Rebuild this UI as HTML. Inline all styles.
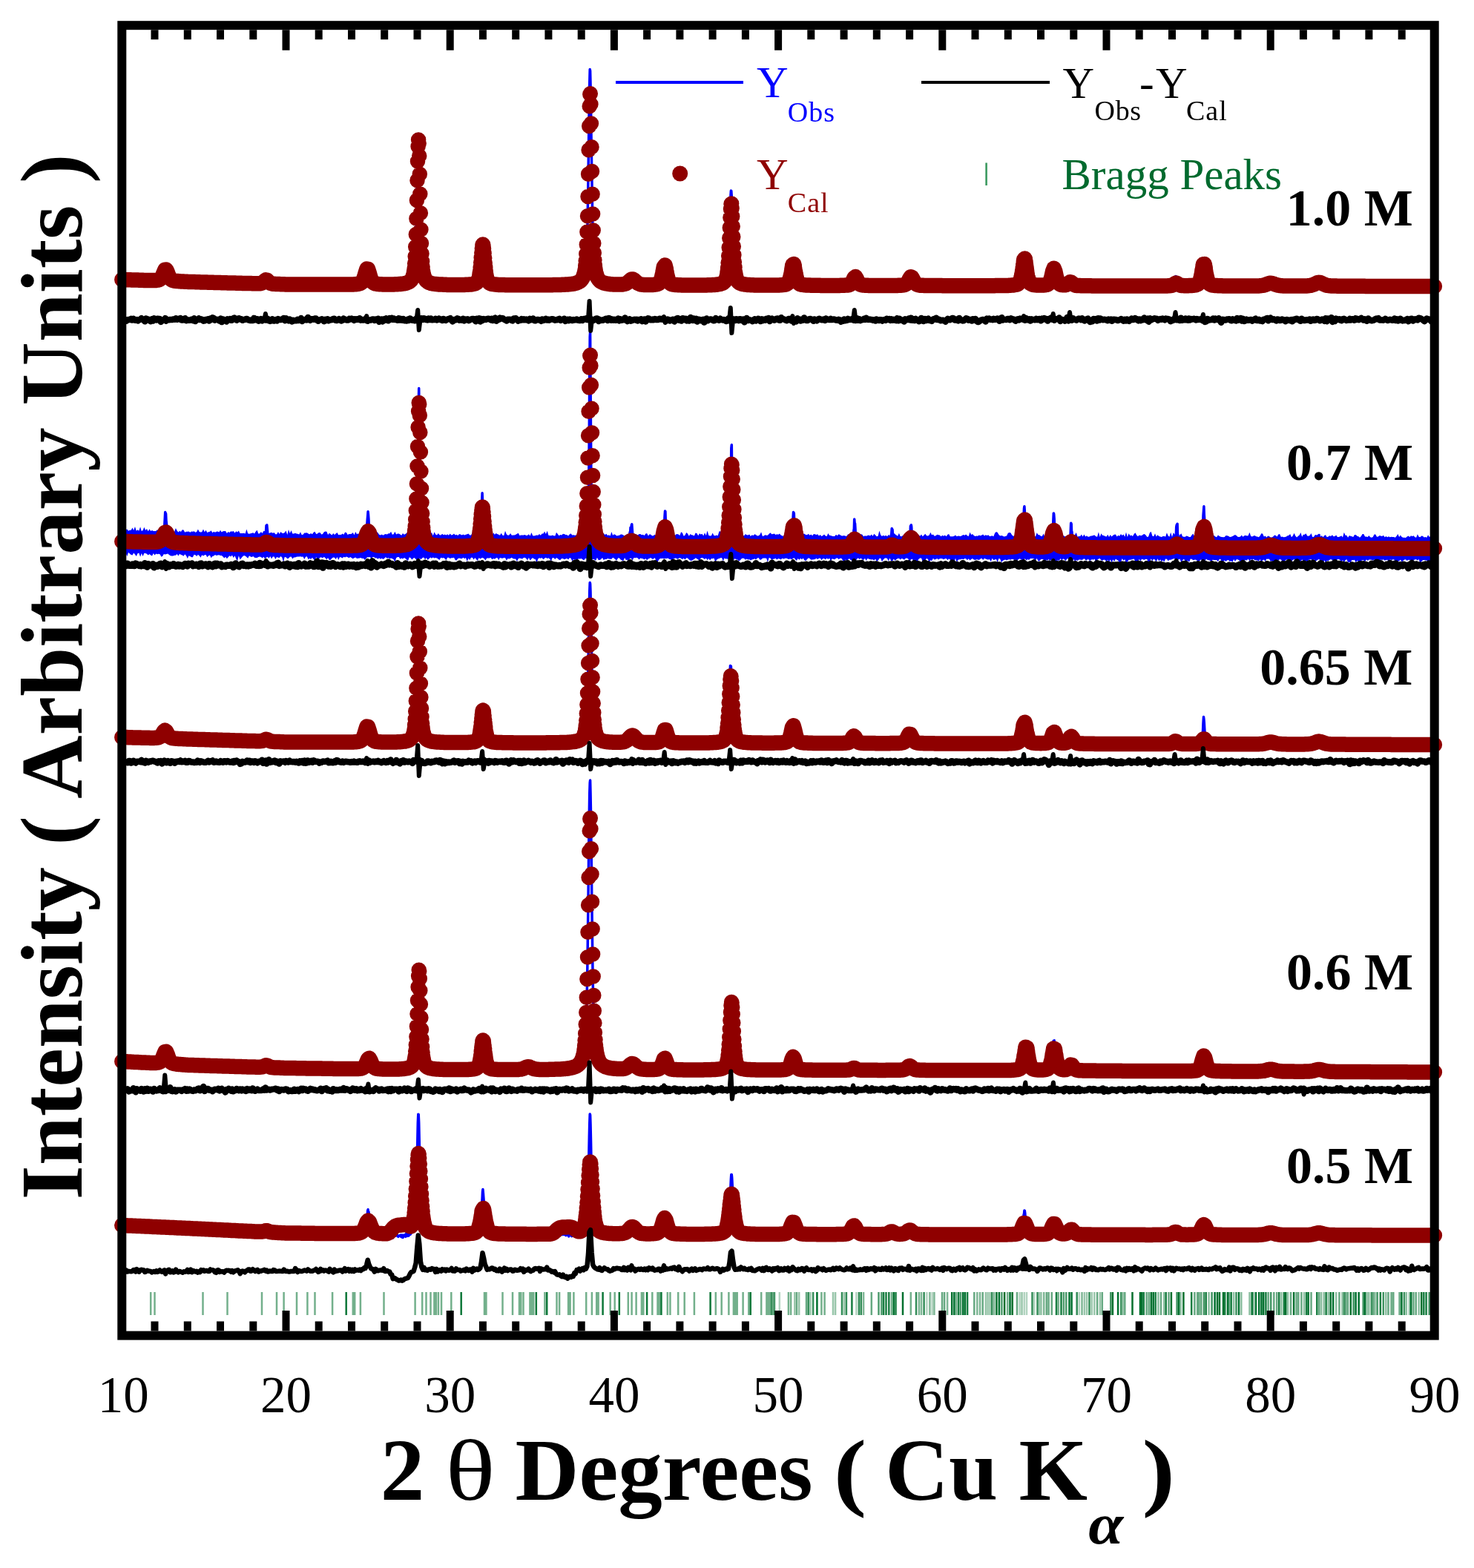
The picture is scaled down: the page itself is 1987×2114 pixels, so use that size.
<!DOCTYPE html><html><head><meta charset="utf-8"><style>html,body{margin:0;padding:0;background:#fff;overflow:hidden}svg{display:block}</style></head><body><svg width="1987" height="2114" viewBox="0 0 1987 2114">
<rect width="100%" height="100%" fill="#fff"/>
<g stroke="#00702e" stroke-width="2.5" fill="none"><path stroke-opacity="0.3" d="M1050.8 1742V1773M1154.4 1742V1773M1249.4 1742V1773M1256.7 1742V1773M1374.6 1742V1773M1380.8 1742V1773M1384 1742V1773M1394.3 1742V1773M1454.8 1742V1773"/><path stroke-opacity="0.4" d="M1071.3 1742V1773M1077.2 1742V1773M1092.5 1742V1773M1123 1742V1773M1126.1 1742V1773M1138.1 1742V1773M1328.8 1742V1773M1331.6 1742V1773M1334.5 1742V1773M1377.5 1742V1773M1401.1 1742V1773M1403.6 1742V1773M1461.9 1742V1773M1465.1 1742V1773M1471.7 1742V1773M1475.3 1742V1773M1482.9 1742V1773"/><path stroke-opacity="0.45" d="M1513.6 1742V1773M1561.4 1742V1773M1569.2 1742V1773M1591.6 1742V1773M1629.6 1742V1773M1663.1 1742V1773M1673.3 1742V1773M1684.5 1742V1773M1690 1742V1773M1727.3 1742V1773M1736 1742V1773M1758.1 1742V1773M1781.1 1742V1773M1784.7 1742V1773M1790.7 1742V1773M1801.2 1742V1773M1809.5 1742V1773M1842.6 1742V1773M1845.3 1742V1773M1853.5 1742V1773M1868.3 1742V1773M1895.8 1742V1773M1900 1742V1773M1912.7 1742V1773"/><path stroke-opacity="0.5" d="M1040 1742V1773M1164.1 1742V1773M1238.9 1742V1773M1242 1742V1773M1253.4 1742V1773M1259.4 1742V1773M1277.1 1742V1773M1317.3 1742V1773M1321 1742V1773M1340.1 1742V1773M1407.2 1742V1773M1458.5 1742V1773"/><path stroke-opacity="0.55" d="M203.2 1742V1773M208.5 1742V1773M273.5 1742V1773M306.5 1742V1773M353 1742V1773M373 1742V1773M382.6 1742V1773M400 1742V1773M414.4 1742V1773M424.5 1742V1773M448.1 1742V1773M475.8 1742V1773M478.2 1742V1773M485.9 1742V1773M517.5 1742V1773M559.6 1742V1773M569.2 1742V1773M574.5 1742V1773M580.5 1742V1773M585.4 1742V1773M587.8 1742V1773M590.9 1742V1773M595 1742V1773M608.3 1742V1773M653 1742V1773M655.4 1742V1773M677.5 1742V1773M691 1742V1773M700 1742V1773M702.3 1742V1773M705.5 1742V1773M714.4 1742V1773M716.8 1742V1773M719.2 1742V1773M734.4 1742V1773M750.5 1742V1773M754.1 1742V1773M766.1 1742V1773M768.6 1742V1773M773.4 1742V1773M790.2 1742V1773M797.9 1742V1773M804.2 1742V1773M806.6 1742V1773M822.7 1742V1773M828.7 1742V1773M846.8 1742V1773M851.6 1742V1773M857.6 1742V1773M864.9 1742V1773M867.3 1742V1773M879.3 1742V1773M886.5 1742V1773M889 1742V1773M899.8 1742V1773M903.4 1742V1773M914.2 1742V1773M922.7 1742V1773M935.9 1742V1773M964.8 1742V1773M972.7 1742V1773M982.4 1742V1773M988.9 1742V1773M991.3 1742V1773M993.7 1742V1773M1001.6 1742V1773M1009.3 1742V1773M1026.2 1742V1773M1033.4 1742V1773M1035.8 1742V1773M1038.2 1742V1773M1040.6 1742V1773M1043 1742V1773M1062.9 1742V1773M1066.1 1742V1773M1107.4 1742V1773M1111.6 1742V1773M1201.9 1742V1773M1227.8 1742V1773M1289.2 1742V1773M1358.2 1742V1773M1426.7 1742V1773"/><path stroke-opacity="0.6" d="M1044.1 1742V1773M1074 1742V1773M1087 1742V1773M1174.8 1742V1773M1270 1742V1773M1273.1 1742V1773M1313.3 1742V1773M1324.7 1742V1773M1371 1742V1773M1410.8 1742V1773M1413.6 1742V1773M1417.8 1742V1773M1479.1 1742V1773M1485.8 1742V1773M1516.3 1742V1773M1545.6 1742V1773M1548.7 1742V1773M1565 1742V1773M1575.5 1742V1773M1610.4 1742V1773M1614.2 1742V1773M1616.5 1742V1773M1619.3 1742V1773M1657.2 1742V1773M1709.7 1742V1773M1717.3 1742V1773M1721.2 1742V1773M1740 1742V1773M1747.6 1742V1773M1750.3 1742V1773M1754.4 1742V1773M1767.5 1742V1773M1778.2 1742V1773M1805.4 1742V1773M1814.2 1742V1773M1816.9 1742V1773M1851.2 1742V1773M1871.5 1742V1773M1875.6 1742V1773M1878.3 1742V1773M1886.6 1742V1773M1905.4 1742V1773M1908.7 1742V1773M1930.3 1742V1773"/><path stroke-opacity="0.7" d="M1184.5 1742V1773M1188.4 1742V1773M1294.9 1742V1773M1350.4 1742V1773M1433.9 1742V1773M1437.3 1742V1773"/><path stroke-opacity="0.75" d="M1497.3 1742V1773M1511.2 1742V1773M1586.6 1742V1773M1623 1742V1773M1633.6 1742V1773M1666.5 1742V1773M1713.2 1742V1773M1811.9 1742V1773M1824.6 1742V1773M1837.7 1742V1773M1848.8 1742V1773M1856.6 1742V1773M1864.8 1742V1773M1892.9 1742V1773M1926.7 1742V1773"/><path stroke-opacity="0.8" d="M1089.7 1742V1773M1096.1 1742V1773M1135 1742V1773M1140.9 1742V1773M1157.9 1742V1773M1160.8 1742V1773M1235 1742V1773M1245.6 1742V1773M1337.2 1742V1773M1391.5 1742V1773M1398.5 1742V1773M1451.7 1742V1773M1468.5 1742V1773"/><path stroke-opacity="0.9" d="M1148.4 1742V1773M1191.1 1742V1773M1194.5 1742V1773M1198.3 1742V1773M1207.5 1742V1773M1292.1 1742V1773M1304.1 1742V1773M1424 1742V1773M1430.5 1742V1773M1541.8 1742V1773M1557.7 1742V1773M1571.7 1742V1773M1606.2 1742V1773M1625.7 1742V1773M1651.2 1742V1773M1659.7 1742V1773M1706.4 1742V1773M1724.2 1742V1773M1730.8 1742V1773M1761.1 1742V1773M1775.3 1742V1773M1787.6 1742V1773M1860.8 1742V1773M1919.3 1742V1773M1922.6 1742V1773"/><path stroke-opacity="0.95" d="M466.7 1742V1773M621.7 1742V1773M722.8 1742V1773M737.2 1742V1773M812.6 1742V1773M834.8 1742V1773M872.1 1742V1773M891.4 1742V1773M957.6 1742V1773M1011.7 1742V1773"/><path stroke-opacity="1.0" d="M1101.4 1742V1773M1204.7 1742V1773M1217 1742V1773M1283.2 1742V1773M1286.4 1742V1773M1298.1 1742V1773M1300.9 1742V1773M1343.4 1742V1773M1346.9 1742V1773M1354.1 1742V1773M1361.5 1742V1773M1364.7 1742V1773M1441.5 1742V1773M1444.6 1742V1773M1499.9 1742V1773M1507.1 1742V1773M1526.5 1742V1773M1537 1742V1773M1539.4 1742V1773M1551.8 1742V1773M1554.7 1742V1773M1578.9 1742V1773M1589.1 1742V1773M1595.4 1742V1773M1637.6 1742V1773M1641 1742V1773M1644 1742V1773M1649 1742V1773M1655 1742V1773M1670 1742V1773M1687.7 1742V1773M1693 1742V1773M1697.2 1742V1773M1700.4 1742V1773M1703.2 1742V1773M1733.2 1742V1773M1744.1 1742V1773M1763.6 1742V1773M1793.7 1742V1773M1797.1 1742V1773M1820.8 1742V1773M1827.6 1742V1773M1831.7 1742V1773M1840 1742V1773M1889.4 1742V1773M1902.2 1742V1773M1916.2 1742V1773"/></g>
<path d="M164.3 379.5 L164.7 376.3 165.6 377.6 167 377.1 167.8 378.6 168.3 378 169.6 377.9 170.9 375 171.4 378 172.3 377.6 172.7 375 173.1 379.7 173.6 377.5 174 376.7 174.9 377.3 176.2 373.9 176.7 379 177.1 376.8 177.6 376.3 178.9 378.3 180.2 375.7 180.7 379.7 181.1 380.2 181.6 377 182.9 378.4 183.3 376.5 184.2 374.9 184.7 378.2 185.5 378.1 186 376.9 186.9 378.1 188.2 377.5 189.5 378.5 190.8 377.3 191.7 377.7 192.2 380.4 192.6 377.3 193.5 376.1 194.8 376.2 195.7 377.5 196.2 378.1 196.6 380.1 197 380.2 197.5 377.7 198.8 377.7 199.7 379 200.1 379.4 200.6 378.7 201.5 377.8 202.3 377.7 202.8 380.1 204.1 379 205.4 378 206.3 378.1 206.8 381.6 207.2 379.5 207.7 377.7 208.1 377.5 209.4 378.7 210.8 377.3 212.1 380.6 212.5 377.3 213.4 378.4 214.3 378.6 214.7 375.8 216.1 376.5 216.5 375.8 217.4 375.3 218.7 373.7 220 370.5 220.5 368.8 220.9 368.2 221.4 365.7 221.8 363.1 222.7 361.4 223.6 360.6 224 360.2 224.5 364.2 225.4 364 225.8 369 226.2 368.9 226.7 372.1 228 372.9 228.4 374.8 229.3 375.6 230.7 377.9 231.5 378 232 379.4 232.9 381.2 233.3 376.3 233.8 379.9 234.6 380.3 235.5 379.6 236 381.8 236.9 379.8 237.3 380.8 238.6 377.6 240 379.6 241.3 378 241.7 379.2 242.6 380.3 243.9 378.8 245.3 381.4 245.7 379.8 246.1 376.8 246.6 377.6 247.9 381.4 248.4 380.1 249.2 381.4 249.7 378.6 250.1 376.7 250.6 382.9 251 377 251.5 380.8 251.9 381.3 252.3 380.1 253.2 381.4 253.7 377.8 254.5 379.4 255.9 381.2 257.2 378.3 257.6 379.6 258.5 379.6 259.9 379.2 261.2 381 262.5 379.9 263.8 380.3 265.2 380.2 266.5 379.5 267.8 380.9 268.7 382.1 269.1 379.9 270.5 380.2 270.9 377.6 271.4 382.4 271.8 380.5 273.1 382.4 273.6 379.6 274.5 378.4 275.8 380.3 277.1 382.1 277.6 379.9 278.4 380.6 279.8 381.9 280.7 381.3 281.1 382.9 281.5 380.8 282.4 381.2 283.7 380.8 284.6 381.6 285.1 379.7 285.5 381.7 286.4 380 286.8 380.2 287.3 377.4 287.7 382.2 288.2 380 289.1 378.3 289.5 380.6 290.4 380.8 291.3 379.3 291.7 379 292.2 382.3 293 381 293.9 379.6 294.4 380.4 294.8 382.6 295.7 381.1 296.6 380.2 297 381.6 297.5 380.9 298.3 381.6 299.7 381.1 300.6 379.4 301 379 301.9 379.5 302.3 383.3 302.8 381.7 303.7 380.4 304.5 380.4 305 380.2 305.4 381.8 306.3 381.7 306.8 380 307.2 379.7 307.6 382.3 308.1 381.3 309 383.2 309.4 382.6 310.3 381.1 311.2 380.5 311.6 379.5 312.9 382.1 314.3 381.4 315.2 380 315.6 379.5 316.9 380.8 317.4 382.3 318.3 384.2 319.1 385.7 319.6 384.7 320 381.4 320.9 381.6 321.4 381.9 322.2 381.9 323.6 382.8 324.9 382.2 326.2 382 327.1 381.1 327.5 378.6 328.9 382.1 329.8 381.9 330.2 380.2 330.6 379.8 331.1 383.8 331.5 382 332.9 382 333.7 380.6 334.2 377.5 334.6 379.8 335.1 382 335.5 381.8 336.8 382.4 338.2 381.7 339 383.6 339.5 382.2 339.9 382.9 340.8 383.8 341.7 383.4 342.1 380.1 342.6 382.9 343 382.5 343.5 379.8 344.8 383.3 345.7 383.8 346.1 384.2 346.6 381 347.5 382.1 348.3 381.7 348.8 381.3 349.2 383 350.1 381.2 351.4 381 352.8 379.5 354.1 380.3 355.4 378.9 356.3 378.1 356.7 375.3 358.1 374.6 359 373.2 359.4 375.4 360.7 377.4 361.2 377 361.6 379.6 362.1 379.9 362.5 381.6 363.4 380.2 364.7 380.9 365.1 381.2 365.6 383.4 366 385.3 366.5 378.3 366.9 382.1 367.4 383.1 368.7 380.7 369.1 381.4 369.6 383.9 370 384.5 370.5 383 371.3 383.1 372.7 383.2 374 381.3 374.4 384.3 374.9 384.9 375.3 381.3 376.7 384.8 378 384.7 378.4 382.6 379.3 382.4 380.6 383.5 381.5 384.5 382 384.9 382.4 382.6 383.3 384.4 384.2 383.1 384.6 381.5 385.1 383.8 385.5 385.7 385.9 380.6 386.4 384.2 387.3 382.2 388.6 383.9 389.5 383.7 389.9 382.1 391.3 380.7 391.7 385.9 392.1 383.1 392.6 381.9 393.9 383 394.3 381.6 395.2 382.4 396.1 384 396.6 385.7 397 385.5 397.9 383.9 399.2 383.9 399.7 382.1 400.5 383.8 401.9 383.6 403.2 382.8 403.6 383.3 404.5 381.4 405 380.7 405.4 384 405.9 383.3 407.2 383.3 408.5 383.6 409.4 381.9 409.8 384.5 410.3 384.4 410.7 380.6 411.2 381.9 411.6 384 412.5 382.6 413.4 381.5 413.8 387.3 414.3 384.3 415.1 384.6 416.5 383.1 417.8 385.5 418.2 382.5 418.7 382.8 419.1 384.6 420 383.8 420.4 382.5 421.3 382.9 421.8 386.4 423.1 384.1 424 385.4 424.4 386.1 424.9 384.5 425.8 385.2 427.1 382.6 428.4 384.1 429.3 383.2 429.7 383.7 430.2 381.9 431.1 381 432.4 385.3 432.8 385.8 433.7 386.1 435 383.3 436.4 384.6 437.7 384.6 439 384.8 439.5 384.9 440.4 384.5 441.7 384.3 443 383.3 443.5 383.6 444.3 383.5 445.7 382.8 446.6 383.4 447 385.2 448.3 382.1 449.2 383 449.6 384.5 451 384.6 451.9 383.7 452.3 385.7 453.2 384 453.6 386.1 455 382.8 455.4 386.6 455.8 380.3 456.3 382 456.7 382.1 457.2 386.1 457.6 384.2 458.1 383.3 458.9 384.2 459.8 382.7 460.3 381.5 460.7 382 461.2 384 461.6 384.2 462.5 383.5 462.9 381 464.2 383.8 465.1 382.7 465.6 382.1 466 385.2 466.5 384.2 466.9 382.7 467.8 383.6 468.2 384.6 469.1 382.6 469.6 382.7 470 383 470.9 381.9 472.2 384 473.5 382.9 474.4 384.4 474.9 385.3 475.7 385.1 476.2 384.4 477.5 383.8 478.4 382.6 478.8 382.2 479.3 385.3 480.2 384.3 481.1 382.6 481.5 381.3 481.9 382.9 482.4 385.5 482.8 380.4 484.2 383.2 484.6 384.3 485 381 485.5 382.2 486.4 382.4 486.8 380.5 487.7 378.8 488.1 382.5 489.5 380.6 489.9 377.3 490.8 376.8 491.2 374.1 491.7 372.4 492.1 367.5 492.6 369.2 493 364.4 493.4 360.3 494.3 361.3 494.8 363.1 495.2 359.4 495.7 358.7 496.1 365.1 497 365.3 497.4 366.2 497.9 368.5 498.3 374.2 498.8 373.5 499.2 374.8 499.6 376.3 500.1 380.7 501 381.1 501.4 381.3 502.7 383.1 503.6 382.5 504.1 381.3 505.4 382.6 506.7 381 507.2 384.4 508 383.2 509.4 383.5 510.7 382.8 512 383.6 512.9 382.8 513.4 384.3 514.7 384.1 516 382.9 517.3 383.1 518.7 383 519.5 384.4 520 384.1 521.3 382.5 522.6 383.5 524 384.2 525.3 384.9 526.6 383.5 528 384.8 528.8 383.1 529.3 383.2 530.2 383.7 530.6 382.2 531.5 382.6 531.9 383.8 533.3 382.6 533.7 383.3 534.6 382 535 383.6 535.9 384.4 537.2 382.4 537.7 383.5 538.1 385.8 538.6 386.3 539.5 384.5 539.9 386.3 540.3 382.6 540.8 383.7 541.2 385.6 542.6 383.1 543.4 383.7 543.9 382.8 544.3 384.5 545.2 384 546.5 383.1 547 384.3 547.4 380.5 547.9 380.8 548.3 379.4 548.7 383.3 549.2 382.3 550.5 381.1 551.8 380.7 552.7 381.5 553.2 379.6 553.6 379.6 554.5 380.5 555.8 380.8 556.3 375.9 556.7 375.9 557.2 373.4 558 372.5 558.5 369.6 558.9 366 559.4 363.1 559.8 354.6 560.2 343.8 560.7 332.7 561.1 311.5 561.6 289.5 562 270.3 562.5 239.2 562.9 213.2 563.3 191.8 563.8 180.6 564.2 182 564.7 194.1 565.1 214.8 565.6 239.3 566 264.2 566.4 291.8 566.9 315.4 567.3 332.5 567.8 344.4 568.2 356 568.7 361.5 569.1 367.1 569.5 368.8 570 372.6 570.4 375 570.9 375.8 571.3 378.2 571.8 380.7 572.2 380.5 572.6 378.6 573.1 378.4 574.4 380.7 575.7 381.7 577.1 380.8 577.5 384.7 577.9 383.8 578.4 381 579.7 382.7 581 384.5 582.4 384.2 583.3 383 583.7 380.6 584.1 383.1 585 382.6 585.5 382.5 586.3 383.6 586.8 382.8 587.7 384.5 589 384.4 590.3 385.5 591.7 384.8 592.5 384.8 593 384.9 593.4 383.3 594.3 383.8 595.2 384.5 595.6 384.4 596.5 384 597 385.6 598.3 383.8 599.6 384.9 600.9 386.5 601.4 386.1 601.8 381.7 602.3 383.8 602.7 383.5 603.2 386 603.6 386.7 604 383.1 604.9 385 606.3 383.1 607.6 385.9 608.5 385.3 608.9 386.5 609.4 383.2 610.2 384.8 611.6 384 612.9 383.6 613.3 385.1 613.8 386.2 614.2 381.3 614.7 386.2 615.1 385.5 615.5 382.6 616 382 616.9 383.6 618.2 383.6 619.5 385.5 620.4 386.7 620.9 384.5 621.3 383.8 622.2 385.1 622.6 384.8 623.5 385.3 624.8 382.2 625.3 383.4 626.2 381.9 626.6 382.8 627.5 382.2 628.8 382 630.1 385.2 630.6 385.4 631.5 384.1 632.8 383.5 634.1 385.4 634.6 382.2 635 383.2 635.5 384.6 635.9 385.5 636.8 385.6 638.1 382.9 639 383.5 639.4 385.1 639.9 383.3 640.8 384.1 641.2 380.5 642.1 380.9 643.4 380.4 644.7 379.7 645.2 377 646.1 377.3 646.5 374.7 647 370 647.4 366.5 647.8 361.7 648.3 356.5 648.7 350.5 649.2 340.9 649.6 334.9 650.1 332.7 650.5 330.1 650.9 330.1 651.4 327 651.8 335 652.3 336.5 652.7 349.1 653.2 354.6 653.6 360.5 654 365.4 654.5 371.8 654.9 372.8 655.4 377.4 655.8 378.6 656.2 379.8 656.7 380.9 658 383 659.3 383.7 659.8 384.2 660.7 382.9 662 383.9 663.3 383.9 664.2 384.2 664.7 387.1 665.1 383 666 382.1 666.4 384.6 667.3 385.8 667.8 383 668.2 383.6 668.6 385.9 670 382.6 670.4 386.2 671.3 384.8 672.6 384.4 673.9 383.9 674.4 384.5 674.8 386.3 675.3 381.2 676.6 383.2 677.5 385.1 677.9 384.4 679.3 384.5 680.6 383.2 681.9 386.2 682.4 379.7 682.8 383.5 683.2 382.5 684.6 387.1 685.4 387.4 685.9 385 686.8 385 687.2 387.7 687.7 385.7 688.5 386.2 689 384.7 689.9 385.5 690.8 384.7 691.2 384.8 692.5 382.9 693.9 384.1 694.7 384.6 695.2 382.8 696.5 384.5 697.8 384.6 698.7 385.1 699.2 386 700.5 384.5 701.4 386.1 701.8 383.3 703.1 383 703.6 384.5 704.5 385.9 704.9 384 705.8 385 707.1 384.7 708.5 385.7 709.8 383.7 710.2 384.6 711.1 385 712 386.7 712.4 385.9 713.8 385 714.6 383.4 715.1 386.7 715.5 383.9 716.4 383.8 717.3 385.8 717.7 383.9 719.1 385.8 720 385.8 720.4 384.1 721.3 383.9 721.7 385.6 723.1 385.3 723.9 385.2 724.4 385.7 724.8 382.2 725.3 383.7 725.7 385.6 726.6 383.9 727 385.3 727.9 383.8 728.4 384.5 728.8 385.8 729.7 386.1 731 386.2 731.9 385.1 732.3 381.8 733.7 383.9 734.1 385.8 735 383.9 735.9 382.1 736.3 386.6 737.7 386.2 738.1 383 738.5 381.6 739 387.5 739.4 383.8 740.3 385.4 740.7 384.6 741.6 383.8 743 385.5 744.3 385.2 745.6 384 746.5 382.6 746.9 386.6 748.3 383 748.7 384.8 749.2 385.4 749.6 381.8 750.5 381.6 750.9 386.4 751.4 383.6 752.2 383.2 752.7 386.2 753.6 386.1 754 383 754.5 384 754.9 386.7 755.3 383.1 756.2 382.7 756.7 382.4 757.1 386 757.6 385.1 758.9 385.6 759.8 384.1 760.2 383.6 760.7 382.5 761.5 383.3 762.4 383.6 762.9 384 763.8 385.4 764.2 382.8 765.5 382 766 383.7 766.8 383.9 767.7 381.9 768.2 385.6 769.1 384.8 769.5 384.6 769.9 383.1 770.8 383.8 772.2 383.5 773.5 382.7 774.8 382.1 775.7 382.4 776.1 382.4 776.6 381.8 777.5 383.7 778.8 382.7 780.1 380.4 781 380.6 781.4 382.2 781.9 378.6 782.8 379.6 784.1 379.9 785.4 376.7 785.9 379.9 786.3 379.6 786.8 377.2 787.2 376.6 788.1 376.5 788.5 371.2 789 370 789.4 363.9 789.9 360.6 790.3 352.5 790.7 344.9 791.2 332.9 791.6 316.8 792.1 297.4 792.5 270.1 793 239.2 793.4 205.1 793.8 173.1 794.3 136.5 794.7 113.1 795.2 93.6 795.6 95.3 796 111.9 796.5 137.1 796.9 174.6 797.4 208.9 797.8 236.6 798.3 267.7 798.7 295.1 799.1 319.1 799.6 334.6 800 345.8 800.5 352.1 800.9 359.4 801.4 361.2 801.8 366.2 802.2 371.5 802.7 373.8 803.6 375.2 804 378.4 805.3 379 806.7 378.7 808 379.6 808.4 382.7 809.3 382.8 810.6 383.9 811.1 382.5 811.5 381.8 812 385.6 812.4 381.3 813.3 381.2 813.7 382.9 814.6 384.3 815.1 382.5 816 383.5 817.3 383 817.7 384.1 818.6 383.3 819.9 383.2 821.3 382.4 822.6 383.2 823.5 382.9 823.9 382.8 824.4 384.2 825.2 383.8 826.1 384.9 826.6 384.8 827.5 383.6 827.9 384.2 828.3 383.1 829.2 384.1 830.1 382.5 830.6 383 831 382.2 831.9 383.1 833.2 384.1 833.7 383.1 834.5 384.1 835 384.8 835.9 383.7 837.2 383.6 838.1 384.3 838.5 385.7 839.4 383.8 839.8 386 840.3 384 841.2 382.3 842.5 384.4 843.8 382.4 844.7 381.4 845.2 380.3 846.5 380.5 847.8 379.9 848.3 378.3 849.1 378.8 849.6 379.1 850 376.4 850.5 376.2 851.3 376 851.8 377 852.7 375.9 853.1 374.9 854 376.9 854.4 376.8 855.3 375.9 855.8 381.8 856.2 379.3 856.7 379.2 857.1 382.5 858.4 383.3 859.3 384.8 859.8 382.1 860.2 383.3 861.1 382.2 861.5 383.9 862.4 383.6 862.8 384.5 863.3 381.4 863.7 382.1 864.2 382.2 864.6 384.6 865.1 389.7 865.5 384.5 866.4 384.1 867.3 385.3 867.7 382.5 869 385.5 869.5 381.3 869.9 381.9 870.4 385.2 871.3 384.9 871.7 384.8 873 384.7 874.4 384.3 875.2 386 875.7 385.2 876.1 384.9 877 384.6 878.3 382.9 879.2 383.4 879.7 385.3 880.5 385.7 881 382.7 882.3 383.8 882.8 382.7 883.6 384.7 885 384.4 885.9 383.9 886.3 383.1 886.7 384.9 887.6 384.5 888.1 382 889 382.8 889.4 384.8 889.8 380.6 890.3 382.5 890.7 380.7 891.6 378.7 892 374.2 892.5 370.9 892.9 369.3 893.4 366.5 893.8 365.5 894.3 360.5 894.7 361.2 895.1 357.3 895.6 354.7 896 354.6 896.9 355.9 897.4 358.4 897.8 363.3 898.2 368.6 898.7 370.8 899.1 373.2 899.6 375.1 900 374.1 900.5 378.4 900.9 377.5 901.3 382.3 902.2 382.2 903.6 383.6 904.4 382.7 904.9 381.7 905.3 384.3 906.2 385.4 907.5 383.4 908.9 384.4 910.2 386.5 910.6 383.1 911.5 384.3 912.8 385.9 913.7 386.5 914.2 385.9 915.5 384.1 916.8 385 917.3 385.3 917.7 380.4 918.1 381.7 918.6 384.7 919.5 386.1 919.9 384.9 920.8 385.1 922.1 383.8 923 382.5 923.5 382.9 923.9 381.3 924.8 383.1 926.1 383.6 927.4 384.9 928.8 384.5 930.1 385.1 931 385.4 931.4 385 931.9 386.6 932.7 384.7 934.1 383.7 935.4 384.7 936.7 384 937.6 383.5 938.1 381.6 938.9 382 939.4 384.4 940.7 383.1 942 382.6 942.5 385 943.4 385.1 943.8 384.7 944.7 384.4 946 385.9 947.3 383.8 948.7 385.1 949.1 385 950 383.4 951.3 386 952.7 383.4 954 387.3 954.4 385 955.3 385.5 956.6 384 958 385.5 958.4 385 958.9 383.2 959.3 382.3 959.7 383.1 960.2 384.8 960.6 385.6 961.1 386.9 961.5 382.2 961.9 384.3 963.3 384.4 964.6 383.1 965 384.6 965.9 386.4 966.4 383.2 967.3 383.5 968.6 382.5 969.9 383 970.4 383.8 971.2 382.3 971.7 383.8 972.1 380 972.6 381.2 973.9 383.3 974.3 383.4 975.2 382.9 976.5 381.8 977.9 380 978.3 379.5 979.2 378.8 979.6 376.7 980.1 375.4 980.5 371.4 981 368.5 981.4 361 981.9 360.3 982.3 344.6 982.7 333.6 983.2 322.4 983.6 308 984.1 289.6 984.5 274 985 263 985.4 257.1 985.8 257.4 986.3 264.8 986.7 278 987.2 292.4 987.6 305.2 988 321.7 988.5 335.6 988.9 347.8 989.4 354.7 989.8 361 990.3 368.7 990.7 373.7 991.1 373.5 991.6 379.2 992.5 378.3 993.4 379.2 993.8 380.1 994.7 378.8 995.1 385.3 995.6 385.4 996 381 996.5 379.5 996.9 382.2 997.3 383.3 997.8 384.8 998.2 384 998.7 382.8 999.1 380.2 999.6 384 1000.4 383 1001.8 383.3 1003.1 381.7 1004.4 384.7 1005.7 383.7 1006.6 382.9 1007.1 381.7 1008.4 381.9 1009.7 384.4 1010.6 384.3 1011.1 388.2 1011.5 384.6 1012.4 385.3 1013.7 385.7 1014.2 386 1015 384.2 1015.9 383.6 1016.4 386.3 1017.7 383.7 1019 383.4 1020.3 383.2 1020.8 385.6 1021.2 385.4 1021.7 382.8 1022.1 382.8 1023 383.6 1024.3 383.4 1024.8 384 1025.2 385.9 1025.7 386.1 1027 384.4 1028.3 384.1 1029.6 383.4 1031 383.7 1031.4 384.4 1032.3 385 1033.6 384.6 1034.9 385 1035.8 387 1036.3 382.7 1036.7 386 1037.2 386.2 1037.6 388.3 1038 384.9 1038.5 384.6 1038.9 382.3 1040.3 383.1 1041.6 384.5 1042.9 384.5 1043.8 386.2 1044.2 382.3 1045.6 383.1 1046.9 386.8 1047.8 385.2 1048.2 384.3 1049.5 385.4 1050.9 384.1 1051.3 386.1 1052.2 387.1 1052.6 384.2 1053.1 382.4 1053.5 381.9 1054.4 382.3 1054.9 381.9 1056.2 385.3 1057.1 383.8 1057.5 384.6 1058.8 382.9 1059.7 381 1060.2 386.1 1060.6 381.2 1061 381.6 1061.5 383.3 1062.8 382.4 1064.1 380.1 1065 379.2 1065.5 374.2 1065.9 373.6 1066.4 367.1 1066.8 364.3 1067.2 361.9 1067.7 358.4 1068.1 358.1 1068.6 351.8 1069.5 351.5 1069.9 355.1 1070.3 356.9 1070.8 358.7 1071.2 366.1 1071.7 366 1072.1 370.9 1072.5 370.2 1073 374.5 1073.4 376.9 1073.9 378.7 1074.8 379.7 1075.6 381.5 1076.1 381.4 1076.5 382.7 1077 384.6 1077.4 386.8 1078.7 384.8 1080.1 383.7 1081 384.7 1081.4 387 1082.3 386.8 1082.7 382.5 1083.2 384.8 1084 385.3 1084.5 382.5 1085.4 381.4 1085.8 384 1086.7 385 1088 384.2 1088.9 384 1089.4 382.8 1089.8 383.9 1090.7 385.2 1091.1 386.6 1092 386.4 1093.3 386.7 1094.7 385.8 1096 386.8 1096.4 385.7 1096.9 384.2 1097.3 388.6 1097.8 384.9 1098.6 383.8 1099.5 383.8 1100 385 1101.3 386.1 1102.6 385 1104 383.7 1104.8 383.1 1105.3 384.9 1105.7 385.3 1106.6 386.1 1107.9 384.5 1108.8 385.3 1109.3 385.2 1110.2 385.7 1110.6 382.5 1111 386.7 1111.9 386.2 1112.4 385.7 1113.2 385.8 1113.7 384.5 1114.6 384.7 1115.5 384.5 1115.9 387.2 1116.3 384.2 1116.8 381.4 1117.2 387.2 1117.7 385.5 1118.6 386.1 1119 383.6 1119.4 383.3 1119.9 386.4 1121.2 385 1122.1 385.2 1122.5 381.9 1123 386 1123.9 386.3 1125.2 384.5 1126.1 384.5 1126.5 385.8 1127.4 384.3 1127.8 387.2 1129.2 385.2 1130.5 384.5 1131.4 383.8 1131.8 382.9 1133.2 383.6 1133.6 384.1 1134.5 385.4 1135.4 384.9 1135.8 387.3 1136.3 385.9 1136.7 384.8 1137.1 382.9 1138 384.4 1138.5 384.7 1139.3 382.8 1139.8 384.7 1140.2 381.5 1140.7 382.2 1141.1 384.7 1142.4 386.1 1143.3 385.9 1143.8 384.1 1144.2 387.6 1145.1 385.7 1146 384.5 1146.4 380.5 1147.8 381.7 1149.1 381.8 1149.5 378.1 1150 376.7 1150.4 374.5 1150.9 374 1151.7 372.2 1152.2 371.9 1152.6 369.7 1153.1 367.8 1153.5 371.2 1153.9 373.7 1154.4 374.2 1154.8 375.4 1155.3 378 1155.7 380.1 1156.2 375.5 1156.6 382.9 1157 382.7 1158.4 383.7 1159.7 385.3 1161 385.5 1162.4 385.6 1163.7 383.7 1165 382.7 1165.5 383.7 1166.3 382.5 1166.8 383.1 1167.7 384.2 1169 383.4 1169.4 384.5 1170.3 385.7 1171.2 385.7 1171.6 386.4 1172.1 386.1 1173 385 1173.9 383.7 1174.3 385.6 1174.7 384 1175.6 384.4 1176.1 386.6 1176.5 386.8 1177 383.8 1177.8 383.8 1178.3 382 1178.7 386 1179.6 387.4 1180.5 387.1 1180.9 386.8 1182.3 384.6 1182.7 385.5 1183.6 383.8 1184 383.4 1184.9 385.2 1186.2 383.9 1187.1 385.6 1187.6 386.7 1188.9 384 1189.3 386.7 1190.2 384.8 1190.7 384.1 1191.1 388.3 1191.6 386.6 1192 383.8 1192.9 384.7 1193.8 384.4 1194.2 384.8 1195.1 386.2 1195.5 387.3 1196 383.3 1196.9 384.9 1197.7 383.4 1198.2 386.4 1199.1 386.3 1199.5 387.5 1200.8 384.6 1202.2 384.9 1202.6 382.9 1203.1 387.4 1203.5 385.4 1203.9 383.4 1204.8 385.1 1206.2 386.8 1207.5 382.8 1207.9 385.4 1208.8 384.2 1210.1 385.3 1211.5 387.1 1211.9 383.2 1212.8 383.9 1214.1 385.7 1214.6 385 1215.4 385.5 1216.8 385.8 1217.2 384.6 1218.1 383.6 1218.5 385 1219.4 385.3 1220.8 383.4 1221.2 384.3 1222.1 385 1222.5 384.9 1223 381.7 1223.4 381.9 1224.7 378.2 1225.2 375.8 1226.1 375.8 1226.5 371 1226.9 371.3 1227.4 374.2 1228.3 372.3 1228.7 370.3 1229.2 375.8 1230 376.5 1230.5 374.9 1230.9 378.6 1231.4 380.6 1232.7 380.9 1234 382.8 1234.9 381.5 1235.4 385.6 1236.7 386.7 1237.1 383.8 1238 385.3 1238.4 384.6 1239.3 382.9 1240.7 383.9 1242 386.7 1243.3 387.2 1244.2 385.4 1244.6 386.2 1246 384.4 1247.3 384.4 1248.2 386.4 1248.6 384.5 1249.9 385 1251.3 385.6 1252.6 383.1 1253 384.7 1253.5 387.7 1253.9 387.9 1254.4 384.7 1255.3 385.9 1256.6 383.3 1257 387 1257.5 387.6 1257.9 383.1 1258.8 384.3 1259.2 386.4 1260.1 385.6 1260.6 385 1261.9 382.4 1262.8 384.1 1263.2 386.4 1263.7 384.8 1264.5 386.1 1265.9 384.9 1266.3 385.8 1266.8 389.4 1267.2 383.7 1268.5 385 1269.9 386.4 1270.3 384.7 1271.2 385.8 1272.5 386.4 1273 383.6 1273.4 384.3 1273.8 386.6 1275.2 384.1 1276.5 387.4 1277.8 387.7 1278.3 385.9 1279.1 387.7 1280.5 385.6 1281.4 384.1 1281.8 383.5 1282.2 383.3 1283.1 382.5 1284 383.3 1284.5 385.8 1285.8 386.6 1287.1 386.9 1288.4 385.2 1289.8 385.5 1291.1 386.6 1292.4 386.8 1293.7 386.4 1295.1 385.7 1296 383.8 1296.4 387.8 1296.8 385.4 1297.7 385.3 1298.6 383.6 1299.1 388.9 1299.5 387.2 1300.4 385.2 1301.7 386.2 1303 385.7 1304.4 385.9 1305.7 385.8 1306.6 386.7 1307 386.6 1308.3 384.2 1308.8 384.8 1309.7 386.2 1310.6 385.6 1311 383.8 1311.9 381.8 1312.3 388.1 1312.8 385.8 1313.7 385.6 1315 384.2 1316.3 383.6 1317.6 386.6 1318.1 384.4 1319 385.9 1320.3 385.2 1321.6 384.6 1322.1 385.3 1322.5 387 1322.9 383.3 1324.3 384.1 1325.2 384.9 1325.6 385.5 1326 385.1 1326.9 386.3 1327.8 385.4 1328.3 383.8 1328.7 384 1329.1 388.2 1329.6 387.8 1330 386 1330.9 387.1 1332.2 384.4 1333.6 386.4 1334.9 384.7 1336.2 385.6 1337.1 385.2 1337.5 385.4 1338 385.5 1338.9 384.3 1339.8 382.7 1340.2 383 1341.5 384.9 1342.9 386.7 1344.2 384.1 1345.5 384.5 1346.4 384.2 1346.8 389 1347.3 385 1348.2 385.3 1349.5 384.9 1350.8 383.4 1351.3 385.7 1352.1 386.7 1352.6 384.3 1353.5 383.1 1353.9 385.8 1354.8 386.3 1355.2 385.6 1355.7 383.3 1356.1 382.2 1357.5 387.9 1357.9 381.9 1358.8 383.6 1359.2 385.4 1360.1 384.2 1361.4 384.2 1362.8 384 1363.2 385.3 1363.6 390 1364.1 382.8 1364.5 384.5 1365.4 384.9 1366.7 385.8 1368.1 384.8 1369 383.6 1369.4 381.6 1369.8 382.7 1370.7 383.8 1372.1 384.8 1372.5 385.2 1373.4 383.7 1373.8 385.7 1374.3 381.3 1374.7 383.3 1375.1 381 1375.6 381.1 1376 377.8 1376.5 375.4 1376.9 373.5 1377.4 370.8 1377.8 367.2 1378.2 363 1378.7 362 1379.1 355.4 1379.6 350.6 1380 347.8 1380.5 347.8 1381.3 347.8 1381.8 350.3 1382.2 354.3 1382.7 355.6 1383.1 359.1 1383.6 364.6 1384 368.3 1384.4 373.3 1384.9 374.3 1385.3 375.9 1385.8 376.4 1386.2 379.5 1386.7 381 1388 384.9 1388.4 385 1388.9 382.3 1389.3 381.9 1390.6 382.8 1391.1 385.2 1392 386.1 1392.4 384.8 1393.3 385.1 1394.6 383.5 1395.1 386.4 1395.9 386 1397.3 385.3 1398.2 386.7 1398.6 387.3 1399.9 383.9 1400.8 385.5 1401.3 383 1402.6 386 1403 383.5 1403.9 382.9 1404.3 384.9 1405.2 385.3 1406.6 383.9 1407 384.4 1407.9 384.4 1408.8 385.7 1409.2 384.6 1410.5 383.5 1411.4 384.5 1411.9 388.1 1412.3 381.3 1412.8 384.2 1413.2 384.2 1414.1 382.4 1414.5 381.6 1415.4 380.4 1415.8 380.3 1416.3 378.3 1416.7 377.2 1417.2 372.5 1417.6 371.3 1418.1 369.3 1418.5 366.7 1418.9 365.4 1419.4 362.1 1419.8 360.3 1421.2 358.5 1421.6 361.2 1422 361.6 1422.5 365 1422.9 370.7 1423.8 371.7 1424.3 376.6 1425.1 378.1 1425.6 381.5 1426.5 382.5 1427.8 385.2 1428.7 383.6 1429.1 386 1429.6 384.7 1430.4 384.1 1431.8 385.4 1432.2 384.4 1433.1 383.1 1434.4 387.7 1434.9 382.8 1435.3 384.7 1435.8 380.4 1436.2 384 1437.1 384.5 1438.4 385.6 1438.9 382.9 1439.3 379.7 1439.7 380.4 1440.2 374.4 1440.6 376.6 1441.1 378.1 1441.5 374.2 1442 374.3 1442.4 371.7 1443.7 374.1 1444.2 376.5 1444.6 378.7 1445 378.7 1445.9 380.5 1446.4 381.3 1447.3 380.1 1447.7 382.5 1449 383 1450.4 384.2 1451.2 383.9 1451.7 382.4 1452.1 384.8 1452.6 386.2 1453 389 1453.5 381.7 1454.3 383.7 1455.7 385.2 1457 385 1457.9 386.4 1458.3 382.7 1459.2 384.1 1459.6 385.6 1461 384.1 1461.9 384 1462.3 383.3 1463.2 385.2 1463.6 382.2 1465 386.3 1466.3 386.1 1467.2 384.3 1467.6 382.4 1468.1 385 1468.5 384.5 1468.9 381.7 1469.4 385.7 1470.3 385.9 1471.1 384.9 1471.6 383.8 1472.9 383.6 1473.8 385.6 1474.2 384.3 1475.6 386.3 1476.5 384.4 1476.9 383.5 1477.3 387.4 1477.8 388.9 1478.2 384.4 1479.6 385.3 1480.9 386.6 1481.3 384.1 1482.2 383.5 1482.7 387.4 1483.5 387.3 1484.9 385.8 1486.2 384.9 1487.5 384.6 1488.8 385.5 1489.7 384.7 1490.2 384 1491.1 385.7 1491.5 388 1491.9 385.7 1492.4 385.5 1492.8 383.6 1493.3 385.9 1494.2 384.8 1495.5 386.5 1496.8 386.2 1498.1 384.3 1499.5 385.4 1500.8 387.7 1501.2 386.6 1502.1 385.6 1502.6 383 1503.4 384.6 1503.9 384.8 1504.8 383.8 1506.1 384.6 1507.4 386.4 1508.8 385 1509.2 386.4 1509.6 387.2 1510.1 382.9 1510.5 385.1 1511 385.7 1511.4 382.6 1511.9 380.9 1512.3 385.9 1512.7 384.5 1514.1 385.4 1515.4 384.1 1515.8 384.7 1516.7 385.1 1518 385 1519.4 384.2 1520.7 385.9 1521.6 384.5 1522 383.1 1522.5 385.2 1523.4 384.7 1523.8 384.5 1524.7 385.3 1526 385.4 1527.3 384.9 1528.7 386 1530 386.2 1531.3 385.6 1532.2 385.1 1532.6 388.4 1534 384 1534.4 386.3 1534.9 387.4 1535.3 383.9 1536.2 384.1 1536.6 384.3 1538 386.9 1538.4 386.2 1538.8 381.4 1539.3 383.4 1539.7 384.4 1540.6 383.9 1541 384.4 1541.9 384 1543.3 387 1543.7 387.6 1544.1 383.8 1544.6 382 1545 383 1545.9 384.6 1546.8 383.5 1547.2 384.1 1547.7 385.3 1548.6 385.1 1549.9 385.6 1551.2 384.5 1551.7 385.5 1552.6 385.8 1553.4 386.3 1553.9 384 1554.3 383.2 1555.2 384.7 1556.5 384.6 1557 385.5 1557.9 384.7 1558.7 386 1559.2 385.9 1560.5 387 1561 386.3 1561.8 387.8 1562.3 385.2 1563.2 386.7 1564.5 385.5 1564.9 386.3 1565.8 385.3 1566.7 384.5 1567.2 386.1 1568.5 386.4 1569.8 385.8 1571.1 384.8 1572.5 385.1 1573.8 385.4 1575.1 383.9 1576 382.6 1576.4 384.9 1577.3 383.3 1577.8 383.4 1578.7 381.9 1579.1 386.1 1579.5 383.7 1580.4 382.3 1581.3 381.4 1581.7 379.7 1582.2 380.8 1582.6 377.6 1583.1 377 1583.5 376.6 1584 374.1 1584.4 374.3 1584.8 372.6 1585.7 372.9 1587.1 374.7 1587.5 377.4 1587.9 378.3 1588.4 379.4 1588.8 380.9 1589.3 383.1 1589.7 385.4 1591 386.6 1591.5 386.7 1591.9 383.4 1592.4 383.7 1592.8 384.4 1593.7 384.5 1594.1 384.4 1595 384.5 1596.3 385.1 1596.8 381.3 1597.2 383 1597.7 385.9 1598.6 386.7 1599 384.8 1599.9 385.3 1600.3 382.2 1601.7 385.2 1602.5 384.5 1603 385 1603.9 384.3 1604.3 384.5 1605.2 385.7 1605.6 386.9 1606.5 385.4 1607 382.4 1607.4 385.6 1607.9 384.8 1608.3 382.1 1609.6 386.1 1610.9 387 1611.4 384.2 1612.3 384.3 1613.6 384.9 1614.5 382.9 1614.9 381.2 1615.4 385.1 1616.3 383.8 1617.1 383.7 1617.6 380.4 1618 380.8 1618.5 376.3 1618.9 373 1619.4 371.5 1619.8 367.9 1620.2 365.6 1620.7 363.9 1621.1 358.3 1621.6 356 1622 355.2 1622.5 353.3 1622.9 350.8 1623.3 351 1623.8 357.6 1624.2 356.1 1624.7 358.6 1625.1 362 1625.5 370.2 1626 369.4 1626.4 374 1626.9 376.5 1628.2 381.2 1628.6 382.5 1629.5 382.8 1630.9 385.6 1632.2 385.2 1633.5 383.3 1634 384.1 1634.4 386.3 1634.8 388 1635.3 385.2 1636.2 384.5 1637.5 386.5 1638.4 386.1 1638.8 384.6 1639.7 384.2 1640.1 382.6 1640.6 386.9 1641.5 387.3 1641.9 384.7 1642.8 384.2 1644.1 387.4 1645.5 385.7 1645.9 385.8 1646.8 385.2 1647.7 384.8 1648.1 383.4 1649.4 385.9 1650.8 386 1651.6 385.7 1652.1 382.5 1652.5 385.5 1653.4 384.6 1654.7 385.5 1656.1 385.7 1656.5 388.8 1657 380.7 1657.4 383.3 1657.8 384.4 1658.7 384.5 1660.1 383.4 1660.5 384.2 1661.4 384.2 1661.8 389.6 1662.3 387.1 1662.7 385 1663.6 387 1664 383.7 1664.5 383 1665.4 384 1665.8 386.8 1666.2 386.5 1666.7 383 1667.1 386.5 1668 387.4 1669.3 386.1 1670.7 387 1672 387.3 1672.4 384.1 1672.9 384.6 1673.3 387 1673.8 385.2 1674.7 385.7 1675.5 385.8 1676 386.2 1676.4 385 1676.9 383.8 1677.3 388.1 1677.8 386.1 1678.6 384.6 1680 382.6 1680.4 384.2 1680.8 386.1 1681.3 386.6 1682.6 386.4 1683.1 383.8 1683.5 384.2 1683.9 385.9 1684.8 387.1 1685.3 383.4 1685.7 382.6 1686.2 388.5 1686.6 385.1 1687.5 385.6 1687.9 383.4 1688.4 387.6 1689.3 387.7 1689.7 386.4 1690.6 385.4 1691.9 385.8 1692.3 387.3 1692.8 383.6 1693.2 384.9 1694.6 385.3 1695.9 384.5 1697.2 385.1 1697.7 386.7 1698.1 387.2 1698.5 383.4 1699.9 384.9 1700.3 385.4 1701.2 385 1702.5 384.8 1703.9 384.3 1704.3 385.4 1705.2 384 1706.1 385.6 1706.5 385.2 1707.4 383.7 1707.8 382.4 1709.2 383 1709.6 384.9 1710.5 383 1710.9 383.6 1711.4 380.9 1711.8 378.9 1712.3 381.6 1712.7 382.1 1713.1 383.9 1714.5 384 1715.8 383.9 1717.1 381.7 1717.6 380 1718 383.9 1718.5 385.2 1719.8 385.2 1721.1 383.7 1721.5 383.3 1722.4 383.2 1722.9 383 1723.3 386.4 1723.8 385.5 1725.1 383.6 1726 385.4 1726.4 388.6 1727.7 385.4 1729.1 385.6 1730.4 386.1 1731.3 386.4 1731.7 385.2 1733.1 386.2 1734.4 385.3 1735.7 385.4 1736.1 386.8 1737 387.6 1737.9 386.1 1738.4 384.2 1739.7 386.8 1741 385.8 1741.9 384.3 1742.3 385.2 1743.7 385.4 1745 385.4 1746.3 388.7 1746.8 386.1 1747.6 386.5 1748.5 385.6 1749 382.4 1749.4 386.2 1750.3 387.4 1750.7 385.9 1751.6 384.1 1753 384.5 1754.3 387 1755.6 386.6 1756.9 386.5 1758.3 384.9 1759.6 385.9 1760.5 384.2 1760.9 384.7 1761.8 385.5 1762.2 387.1 1763.1 386 1763.6 382 1764 385.2 1764.9 384.5 1765.8 386 1766.2 385.1 1767.1 384.3 1767.6 384.8 1768.4 385 1768.9 382 1769.3 386.6 1769.8 385.4 1770.2 383.9 1771.5 384.2 1772.9 383.5 1774.2 381.6 1775.5 380.1 1776 381.8 1776.8 380.9 1777.3 375.6 1777.7 378.6 1778.2 381.4 1779.1 382.7 1779.5 380.8 1780.4 380.8 1780.8 384.3 1781.3 382.3 1782.2 383.9 1782.6 384 1783.5 382.3 1783.9 385 1784.4 385.1 1784.8 382.1 1785.3 384.1 1786.1 385 1787 384.5 1787.5 385.9 1787.9 385.7 1788.4 383.7 1788.8 388.6 1789.2 385.6 1790.1 384.9 1791 384.4 1791.4 385.4 1792.3 385.8 1792.8 386.1 1794.1 384.8 1795.4 388 1795.9 387.2 1796.3 384.3 1796.8 385 1798.1 386.4 1799 384.6 1799.4 387.9 1799.9 387.8 1800.3 385.8 1800.7 384.2 1802.1 384.5 1803.4 386.2 1804.7 386.3 1805.6 386.2 1806 385.3 1806.9 386.3 1807.4 384.9 1808.7 385.3 1809.6 385 1810 383.7 1810.5 386.9 1810.9 387.1 1811.4 383.8 1811.8 385.4 1812.7 386.2 1813.6 385.7 1814 385 1815.3 386.2 1815.8 381.9 1816.2 383.1 1816.7 385.9 1818 385.9 1818.4 384.3 1819.3 386.2 1820.6 384 1822 385.6 1823.3 386.7 1824.6 388 1825.1 385.9 1826 386.8 1827.3 383.7 1827.7 385.3 1828.6 385.9 1829.9 385.2 1831.3 385.4 1832.1 385.6 1832.6 386.4 1833.9 384.6 1835.2 384.5 1836.6 385.2 1837.9 384.6 1839.2 384.5 1840.6 387.4 1841.9 387.4 1843.2 386.2 1844.5 384.3 1845.4 386.3 1845.9 383.7 1847.2 385.1 1847.6 386.6 1848.5 387.4 1849 386.7 1849.8 387.5 1850.3 387.7 1850.7 383.1 1851.2 385.1 1852.1 384.8 1852.5 387.4 1853.4 386 1853.8 384.1 1855.2 384.7 1856.5 383.7 1856.9 385.3 1857.8 385.1 1859.1 385.8 1860.5 386.2 1861.3 387.6 1861.8 387 1863.1 385.7 1864 386.3 1864.4 387.9 1865.3 388.4 1865.8 384.7 1867.1 385.7 1868.4 388.5 1869.8 385 1871.1 386.6 1872 386 1872.4 384 1873.7 386.6 1874.2 386 1875.1 385.4 1875.9 386.6 1876.4 385.1 1877.7 385.1 1878.2 386.2 1879 384.3 1880.4 386.9 1881.7 385.7 1883 386.6 1883.9 386.6 1884.4 387.8 1885.2 386.2 1885.7 383.3 1886.1 386.8 1887 388.1 1887.4 384.5 1888.3 385.2 1889.7 385.2 1890.5 385.4 1891 388.3 1891.4 385 1891.9 385.3 1892.3 387.6 1893.6 386.6 1895 386.1 1896.3 385.1 1897.6 385.2 1899 385.5 1899.8 383.8 1900.3 383.3 1900.7 387.7 1901.2 385.5 1901.6 385.7 1902 385 1902.9 385.6 1904.3 384.5 1905.6 387.8 1906 386.6 1906.9 388 1907.4 389.9 1907.8 385.2 1908.2 387.5 1909.1 386.6 1909.6 384.1 1910 384.5 1910.9 386.2 1911.3 385.2 1911.8 388.6 1912.2 387.8 1912.7 387 1913.5 386 1914 388.1 1914.4 383 1914.9 383.6 1915.3 384.8 1916.2 386.3 1917.5 386.1 1918 387.8 1918.9 386.7 1920.2 388.4 1920.6 386.1 1921.5 385.3 1922.8 384.6 1923.3 384.1 1923.7 388.7 1924.2 386.7 1925.1 386.8 1925.5 383.9 1926.8 384.8 1928.1 386.1 1929.5 386.1 1929.9 387.9 1930.8 387.7 1932.1 387.4 1933.5 387.9 1933.9 386.6" fill="none" stroke="#0000ff" stroke-width="3.5" stroke-linejoin="round"/>
<path d="M164.3 714.8 L166.1 711.8 167.8 712.9 169.6 714.1 171.4 713.6 173.1 715.7 174.9 714.8 176.7 714.8 178.5 711.5 180.2 715.1 182 709.9 183.8 715.7 185.5 714.3 187.3 715.8 189.1 710.2 190.8 715.9 192.6 715 194.4 710.7 196.2 714.9 197.9 713 199.7 716.2 201.5 713.2 203.2 716 205 714.9 206.8 716.1 208.5 715.9 210.3 716.1 212.1 714.1 213.8 716.7 215.6 716.9 217.4 714.6 219.2 712.8 220.9 716.8 222.7 716.7 224.5 716.5 226.2 714.7 228 715.3 229.8 715.2 231.5 716.8 233.3 716.8 235.1 716.9 236.9 711.9 238.6 715.6 240.4 717.4 242.2 715.8 243.9 716.9 245.7 714.3 247.5 714.5 249.2 717.8 251 716.8 252.8 716.7 254.5 716.4 256.3 717.8 258.1 716.6 259.9 716.7 261.6 716.3 263.4 717.8 265.2 717.1 266.9 713.5 268.7 717.1 270.5 717.4 272.2 717.2 274 713.6 275.8 717.3 277.6 714.7 279.3 717.9 281.1 717.3 282.9 716.8 284.6 715.3 286.4 718.3 288.2 716.8 289.9 717.8 291.7 716.7 293.5 716.6 295.3 717.5 297 714.8 298.8 717.5 300.6 716.2 302.3 716.1 304.1 716.1 305.9 719 307.6 717 309.4 718.1 311.2 716.3 312.9 716.7 314.7 715.9 316.5 718.5 318.3 716.3 320 717.6 321.8 715.6 323.6 719.1 325.3 718.9 327.1 719 328.9 718.8 330.6 719.4 332.4 713.5 334.2 719.3 336 719.7 337.7 719.3 339.5 718.8 341.3 718.2 343 719.6 344.8 716.4 346.6 714.7 348.3 719.6 350.1 719.2 351.9 716.9 353.6 718.9 355.4 715.8 357.2 716.3 359 718.1 360.7 719 362.5 718.9 364.3 718.2 366 717.7 367.8 718.8 369.6 718 371.3 720.2 373.1 720.3 374.9 717 376.7 720.1 378.4 717 380.2 718.8 382 718.9 383.7 717.9 385.5 715.6 387.3 721 389 714 390.8 718.9 392.6 714.9 394.3 719.4 396.1 719.4 397.9 718.8 399.7 719.6 401.4 719.8 403.2 720.6 405 717.3 406.7 721 408.5 720.8 410.3 718.4 412 718.6 413.8 718.3 415.6 719.5 417.4 720.3 419.1 719 420.9 720.2 422.7 717.8 424.4 716.7 426.2 719.9 428 719.6 429.7 718 431.5 718.1 433.3 720.6 435 720 436.8 717.2 438.6 716.4 440.4 716.8 442.1 721 443.9 718.7 445.7 719.9 447.4 721.4 449.2 719.1 451 721.1 452.7 719.4 454.5 718 456.3 721.2 458.1 720.8 459.8 720.9 461.6 719.5 463.4 720.8 465.1 717.5 466.9 718 468.7 721 470.4 720.1 472.2 719.9 474 719.8 475.7 718.1 477.5 721.2 479.3 716.9 481.1 720.3 482.8 719.2 484.6 721.1 486.4 720.2 488.1 720.7 489.9 721.2 491.7 718.5 493.4 718.1 495.2 716.8 497 721.3 498.8 721 500.5 716.8 502.3 719.5 504.1 720.7 505.8 721.4 507.6 716.8 509.4 718.3 511.1 720.8 512.9 721.6 514.7 720.6 516.5 721.8 518.2 720.4 520 719.9 521.8 720.6 523.5 719.3 525.3 719.2 527.1 716.7 528.8 720.7 530.6 720.3 532.4 716.7 534.1 720.6 535.9 719.6 537.7 719.5 539.5 720.4 541.2 721.7 543 719 544.8 720.8 546.5 720.1 548.3 718.4 550.1 718.1 551.8 721.6 553.6 716.4 555.4 720.4 557.2 721 558.9 718.9 560.7 721.1 562.5 721.6 564.2 720.6 566 718.6 567.8 722.1 569.5 721.8 571.3 722.2 573.1 718 574.8 721.3 576.6 719.9 578.4 721.7 580.2 719.9 581.9 717.8 583.7 722.2 585.5 717.3 587.2 720.5 589 721.4 590.8 719 592.5 721.2 594.3 721.6 596.1 719.8 597.9 721.2 599.6 720.5 601.4 721.6 603.2 720.2 604.9 721.7 606.7 719.5 608.5 721.6 610.2 721 612 719.4 613.8 721.5 615.5 720.8 617.3 721.9 619.1 719.9 620.9 720.5 622.6 721.5 624.4 720.4 626.2 721.4 627.9 720.8 629.7 720.2 631.5 719.4 633.2 721.5 635 721.6 636.8 717.7 638.6 718.4 640.3 722.2 642.1 719.3 643.9 718.2 645.6 720.7 647.4 721.1 649.2 721.5 650.9 718.6 652.7 722.1 654.5 719.3 656.2 722.3 658 719.2 659.8 717.4 661.6 722.3 663.3 721.8 665.1 718.2 666.9 720.7 668.6 719 670.4 719.9 672.2 720.7 673.9 721.7 675.7 718.7 677.5 721.7 679.3 721.9 681 715.8 682.8 720.2 684.6 721.7 686.3 721.4 688.1 719.1 689.9 721.7 691.6 721.5 693.4 721.6 695.2 720.8 696.9 719.8 698.7 718.7 700.5 722.1 702.3 721.5 704 721.5 705.8 721.5 707.6 720.9 709.3 722.1 711.1 721.8 712.9 720.3 714.6 722.5 716.4 717.9 718.2 722.3 720 722.4 721.7 722.1 723.5 721.5 725.3 721.7 727 720.1 728.8 721.7 730.6 719.4 732.3 719.6 734.1 716.5 735.9 720 737.7 715.8 739.4 721.8 741.2 722.1 743 722.2 744.7 721.4 746.5 722.2 748.3 722.6 750 717.7 751.8 719.9 753.6 722.2 755.3 721.1 757.1 721.4 758.9 719.8 760.7 720.1 762.4 720.9 764.2 720.9 766 722.5 767.7 720.6 769.5 719.3 771.3 721.4 773 721.3 774.8 721.7 776.6 721.4 778.4 721.5 780.1 721.6 781.9 722.2 783.7 721.6 785.4 721.6 787.2 721.4 789 722.6 790.7 720.7 792.5 718.2 794.3 720.9 796 720.4 797.8 721.3 799.6 720.9 801.4 722.1 803.1 719.7 804.9 719.9 806.7 717.6 808.4 722.4 810.2 721.1 812 719.8 813.7 718.9 815.5 721.1 817.3 719.7 819.1 722.1 820.8 721.2 822.6 722.5 824.4 716.9 826.1 721.8 827.9 720.3 829.7 721 831.4 722.4 833.2 722 835 721.8 836.7 720.4 838.5 720.6 840.3 721.5 842.1 722.4 843.8 721 845.6 720.2 847.4 722.7 849.1 717.6 850.9 721 852.7 722.4 854.4 719.2 856.2 719.9 858 720.4 859.8 721.5 861.5 720.1 863.3 719.9 865.1 721.2 866.8 720.8 868.6 722 870.4 719.6 872.1 719 873.9 722.4 875.7 720.2 877.4 720.7 879.2 722.6 881 722 882.8 720.7 884.5 722.4 886.3 720.1 888.1 719.9 889.8 721.9 891.6 722.3 893.4 718.8 895.1 716.5 896.9 721.7 898.7 718.6 900.5 717.2 902.2 721.6 904 721.4 905.8 722.3 907.5 722.6 909.3 722.8 911.1 720.5 912.8 720.1 914.6 720.4 916.4 721.9 918.1 717.2 919.9 718.6 921.7 722.8 923.5 721.5 925.2 718 927 719.5 928.8 722.7 930.5 720.1 932.3 721.3 934.1 721.5 935.8 722.5 937.6 718.5 939.4 719 941.2 722.3 942.9 719.3 944.7 720.5 946.5 719.8 948.2 722.4 950 718.3 951.8 722.1 953.5 715.4 955.3 721.7 957.1 722.4 958.9 722.2 960.6 718.4 962.4 722 964.2 722.2 965.9 721.6 967.7 722.2 969.5 716.2 971.2 716.4 973 721.3 974.8 719.8 976.5 720.7 978.3 720.3 980.1 721.8 981.9 722.5 983.6 719 985.4 722.7 987.2 722.4 988.9 720.4 990.7 722 992.5 721.2 994.2 722.7 996 721.1 997.8 720.3 999.6 722.4 1001.3 721.9 1003.1 722.2 1004.9 719.9 1006.6 721.3 1008.4 721.4 1010.2 720.6 1011.9 722.9 1013.7 721.2 1015.5 722 1017.2 720.2 1019 721 1020.8 722.5 1022.6 722.2 1024.3 720.9 1026.1 717.2 1027.9 722.9 1029.6 722.4 1031.4 721.3 1033.2 721.7 1034.9 721.7 1036.7 719.7 1038.5 718.3 1040.3 720.3 1042 719.9 1043.8 719.4 1045.6 721 1047.3 720.2 1049.1 720.8 1050.9 719.6 1052.6 721.5 1054.4 722.2 1056.2 722.9 1057.9 718.5 1059.7 721.5 1061.5 720.8 1063.3 721.4 1065 720 1066.8 721.5 1068.6 719.5 1070.3 718.4 1072.1 721 1073.9 722.7 1075.6 716.8 1077.4 719.8 1079.2 719.9 1081 720.8 1082.7 719.8 1084.5 719.8 1086.3 720.9 1088 721.3 1089.8 719.7 1091.6 721.8 1093.3 720.5 1095.1 722.2 1096.9 719.9 1098.6 720.3 1100.4 721.1 1102.2 720.2 1104 722.6 1105.7 721.1 1107.5 723.1 1109.3 721.9 1111 720.6 1112.8 722.4 1114.6 723.1 1116.3 718.9 1118.1 721.8 1119.9 721.9 1121.7 722.7 1123.4 723.1 1125.2 722.9 1127 720.8 1128.7 722.2 1130.5 720.2 1132.3 720.9 1134 722.2 1135.8 722.5 1137.6 722.1 1139.3 722.6 1141.1 723 1142.9 720.4 1144.7 720 1146.4 719.9 1148.2 719.9 1150 720 1151.7 721.4 1153.5 722.2 1155.3 721.1 1157 722.8 1158.8 722.1 1160.6 720.1 1162.4 720.8 1164.1 723.2 1165.9 722.2 1167.7 722.8 1169.4 722 1171.2 721.6 1173 722.6 1174.7 720.4 1176.5 722.8 1178.3 719.7 1180.1 721.4 1181.8 723.2 1183.6 722.7 1185.4 715.5 1187.1 721.1 1188.9 722.9 1190.7 721.7 1192.4 722.7 1194.2 721.8 1196 723.3 1197.7 721 1199.5 722.3 1201.3 722.4 1203.1 722.7 1204.8 718.6 1206.6 720.2 1208.4 721.4 1210.1 722.7 1211.9 718.8 1213.7 722.9 1215.4 723.3 1217.2 721.8 1219 722.3 1220.8 722.5 1222.5 721.4 1224.3 719.2 1226.1 721.8 1227.8 720 1229.6 719.6 1231.4 721.2 1233.1 719.6 1234.9 720.1 1236.7 723.2 1238.4 721.3 1240.2 722.8 1242 720.5 1243.8 723.2 1245.5 721.4 1247.3 719.7 1249.1 722.2 1250.8 722.6 1252.6 721.6 1254.4 717.7 1256.1 721.3 1257.9 720.5 1259.7 722.8 1261.5 722.3 1263.2 720.8 1265 721.2 1266.8 721.6 1268.5 723.2 1270.3 721.8 1272.1 722.7 1273.8 721.6 1275.6 723.2 1277.4 720.8 1279.1 720.1 1280.9 723.3 1282.7 723.3 1284.5 723.3 1286.2 722.8 1288 721.6 1289.8 723.3 1291.5 722.4 1293.3 722.7 1295.1 723.1 1296.8 721.9 1298.6 721 1300.4 721.7 1302.2 720.5 1303.9 722.3 1305.7 723 1307.5 717.5 1309.2 721 1311 719.9 1312.8 721.9 1314.5 722.9 1316.3 722.6 1318.1 722.8 1319.8 721.4 1321.6 722.2 1323.4 721.6 1325.2 720.6 1326.9 722.6 1328.7 721.3 1330.5 722 1332.2 721.2 1334 723.1 1335.8 722.7 1337.5 722.2 1339.3 723.2 1341.1 718.8 1342.9 717 1344.6 717.7 1346.4 720.8 1348.2 722.6 1349.9 721.9 1351.7 722.4 1353.5 723.6 1355.2 722.9 1357 722.6 1358.8 718.8 1360.5 717.9 1362.3 718.3 1364.1 721.2 1365.9 722.8 1367.6 722.6 1369.4 723.6 1371.2 722.6 1372.9 722.6 1374.7 721.9 1376.5 721.2 1378.2 722.3 1380 722 1381.8 722.9 1383.6 721.8 1385.3 722.6 1387.1 723.1 1388.9 723 1390.6 723.6 1392.4 720.7 1394.2 722.6 1395.9 723.4 1397.7 718.3 1399.5 721.1 1401.3 721.2 1403 722.7 1404.8 723 1406.6 719.6 1408.3 723.4 1410.1 721.8 1411.9 723.5 1413.6 721.5 1415.4 723.3 1417.2 722.7 1418.9 723.2 1420.7 719.2 1422.5 722.7 1424.3 719.5 1426 719.2 1427.8 722.9 1429.6 721.6 1431.3 720 1433.1 721.8 1434.9 723.1 1436.6 723.5 1438.4 723 1440.2 723.1 1442 723.6 1443.7 721 1445.5 722 1447.3 723.2 1449 720.9 1450.8 718.1 1452.6 723.8 1454.3 723 1456.1 723.1 1457.9 720.4 1459.6 723.5 1461.4 720.5 1463.2 723.5 1465 722.2 1466.7 723.7 1468.5 723.4 1470.3 722.6 1472 722.5 1473.8 721.8 1475.6 721.6 1477.3 723.3 1479.1 723.7 1480.9 717.3 1482.7 723.9 1484.4 719.2 1486.2 721.8 1488 722.1 1489.7 722.9 1491.5 723.6 1493.3 720.7 1495 723.9 1496.8 721 1498.6 723.5 1500.3 721.8 1502.1 720.8 1503.9 720.4 1505.7 723.5 1507.4 721.7 1509.2 722.8 1511 720.1 1512.7 721.9 1514.5 720.6 1516.3 723.7 1518 717.5 1519.8 723.9 1521.6 719.3 1523.4 722.2 1525.1 721.4 1526.9 723.1 1528.7 719.9 1530.4 718.2 1532.2 721.5 1534 723.2 1535.7 721.6 1537.5 722.1 1539.3 722.1 1541 720.4 1542.8 719.9 1544.6 721.5 1546.4 723.9 1548.1 723.6 1549.9 718.2 1551.7 716.8 1553.4 722.4 1555.2 723.2 1557 719.3 1558.7 723.4 1560.5 721.2 1562.3 722.9 1564.1 723.4 1565.8 724 1567.6 723.1 1569.4 722.7 1571.1 723.7 1572.9 718.2 1574.7 722.3 1576.4 723.7 1578.2 717.8 1580 723.9 1581.7 718.3 1583.5 720.3 1585.3 722.4 1587.1 721.4 1588.8 724.1 1590.6 721 1592.4 719.3 1594.1 723.3 1595.9 723.7 1597.7 723.7 1599.4 722.6 1601.2 723 1603 723.9 1604.8 724.1 1606.5 721.6 1608.3 719.4 1610.1 723.1 1611.8 723.3 1613.6 720.8 1615.4 723.3 1617.1 723.3 1618.9 724 1620.7 722.9 1622.5 722.8 1624.2 722.6 1626 722.6 1627.8 721.7 1629.5 722.8 1631.3 722.3 1633.1 722.5 1634.8 720.9 1636.6 722 1638.4 723.6 1640.1 724.2 1641.9 721.6 1643.7 722.8 1645.5 723.7 1647.2 724.1 1649 724.2 1650.8 724 1652.5 721.9 1654.3 722.3 1656.1 722.7 1657.8 724 1659.6 723.8 1661.4 723 1663.2 722.1 1664.9 721 1666.7 722 1668.5 723.7 1670.2 724 1672 723.5 1673.8 721.5 1675.5 723.8 1677.3 722.3 1679.1 721.8 1680.8 722.6 1682.6 722.2 1684.4 717.8 1686.2 722.7 1687.9 723.6 1689.7 722.5 1691.5 722 1693.2 723.2 1695 723.5 1696.8 724.3 1698.5 722.5 1700.3 719.2 1702.1 719.6 1703.9 723.5 1705.6 722.5 1707.4 724.4 1709.2 722.6 1710.9 722.9 1712.7 724.4 1714.5 724.5 1716.2 723.6 1718 721.6 1719.8 722 1721.5 723.5 1723.3 720.4 1725.1 720.1 1726.9 724.1 1728.6 723.4 1730.4 724.3 1732.2 724.1 1733.9 723.5 1735.7 722.3 1737.5 721.7 1739.2 720.1 1741 724.3 1742.8 722.2 1744.6 718.8 1746.3 722.4 1748.1 724.5 1749.9 722.8 1751.6 721.6 1753.4 717.9 1755.2 723.7 1756.9 720.7 1758.7 720.7 1760.5 719.3 1762.2 722.4 1764 722.7 1765.8 721.7 1767.6 719.1 1769.3 724 1771.1 723.7 1772.9 720.9 1774.6 721.3 1776.4 724 1778.2 724.6 1779.9 724.3 1781.7 721.9 1783.5 724.3 1785.3 721.9 1787 721.2 1788.8 724.3 1790.6 723.5 1792.3 722.2 1794.1 723.1 1795.9 721.3 1797.6 723.2 1799.4 723.1 1801.2 721.4 1802.9 724 1804.7 724 1806.5 723.3 1808.3 722.2 1810 724.5 1811.8 717.8 1813.6 721.8 1815.3 721.8 1817.1 724.7 1818.9 722.1 1820.6 722.7 1822.4 723.2 1824.2 724.1 1826 720.9 1827.7 721.1 1829.5 722.7 1831.3 723.2 1833 724.7 1834.8 723.1 1836.6 720.1 1838.3 720.1 1840.1 723.4 1841.9 723.4 1843.7 724 1845.4 721.9 1847.2 724.2 1849 724.7 1850.7 724 1852.5 720.5 1854.3 720.4 1856 723.8 1857.8 723.5 1859.6 722 1861.3 722.5 1863.1 723.1 1864.9 721.8 1866.7 724.3 1868.4 723 1870.2 724.2 1872 723.2 1873.7 724.2 1875.5 723.8 1877.3 723.9 1879 723.9 1880.8 724.7 1882.6 722.8 1884.4 719.9 1886.1 724 1887.9 721.4 1889.7 724 1891.4 724.8 1893.2 724.8 1895 724.9 1896.7 723.5 1898.5 722.5 1900.3 724.1 1902 722.2 1903.8 723 1905.6 722.2 1907.4 724.2 1909.1 724.7 1910.9 720.3 1912.7 723.7 1914.4 724.3 1916.2 722.5 1918 722.8 1919.7 724.6 1921.5 723.9 1923.3 724.8 1925.1 721.2 1926.8 723.9 1928.6 722.8 1930.4 722.9 1932.1 725 1933.9 724.9 1933.9 755.9 1932.1 756.9 1930.4 756.4 1928.6 758.6 1926.8 757.7 1925.1 758.2 1923.3 755.4 1921.5 755.6 1919.7 755 1918 755.3 1916.2 756.9 1914.4 759.4 1912.7 754 1910.9 755.6 1909.1 754.3 1907.4 754.2 1905.6 755.6 1903.8 755.5 1902 754.9 1900.3 754.9 1898.5 754.8 1896.7 755.9 1895 754.3 1893.2 754.5 1891.4 755.9 1889.7 757.7 1887.9 754.4 1886.1 756.4 1884.4 756.7 1882.6 756 1880.8 756.6 1879 754.3 1877.3 754.5 1875.5 755 1873.7 754.3 1872 758.2 1870.2 754.8 1868.4 755.1 1866.7 755.8 1864.9 754.3 1863.1 755 1861.3 754.5 1859.6 757.8 1857.8 755.5 1856 756 1854.3 755 1852.5 754.5 1850.7 755.4 1849 754.7 1847.2 754.6 1845.4 754.6 1843.7 755.9 1841.9 754.3 1840.1 757.2 1838.3 755.2 1836.6 755.2 1834.8 755.9 1833 757.2 1831.3 757.4 1829.5 755.7 1827.7 758.6 1826 754.7 1824.2 755.2 1822.4 755.1 1820.6 758.5 1818.9 757.7 1817.1 757.9 1815.3 753.9 1813.6 755.3 1811.8 758.7 1810 755 1808.3 758.3 1806.5 755 1804.7 753.9 1802.9 753.9 1801.2 757.3 1799.4 756.2 1797.6 756.7 1795.9 755.1 1794.1 753.9 1792.3 754.8 1790.6 756.2 1788.8 755.7 1787 759 1785.3 755.2 1783.5 759.4 1781.7 755.2 1779.9 757.5 1778.2 753.8 1776.4 754.8 1774.6 756.1 1772.9 756.4 1771.1 753.9 1769.3 759.9 1767.6 754 1765.8 754.4 1764 754.7 1762.2 757.9 1760.5 756 1758.7 756.8 1756.9 756 1755.2 754.4 1753.4 756.4 1751.6 757.6 1749.9 754.3 1748.1 755.2 1746.3 754.7 1744.6 754.3 1742.8 754.7 1741 757 1739.2 756.3 1737.5 754 1735.7 754.6 1733.9 754.4 1732.2 756.1 1730.4 756.3 1728.6 756.7 1726.9 754.4 1725.1 754 1723.3 755.6 1721.5 756.2 1719.8 761.1 1718 755.9 1716.2 757.8 1714.5 756.2 1712.7 756.7 1710.9 753.5 1709.2 753.7 1707.4 753.6 1705.6 757.1 1703.9 754.5 1702.1 755.2 1700.3 757.4 1698.5 754.1 1696.8 756.7 1695 755.5 1693.2 755.3 1691.5 755.3 1689.7 753.7 1687.9 755.1 1686.2 754 1684.4 756.6 1682.6 753.6 1680.8 755.6 1679.1 755 1677.3 755.4 1675.5 756.4 1673.8 761.5 1672 757.1 1670.2 755.3 1668.5 754.3 1666.7 754.3 1664.9 756.9 1663.2 754 1661.4 757.8 1659.6 756.2 1657.8 757 1656.1 755 1654.3 755.3 1652.5 757 1650.8 755.5 1649 756.9 1647.2 758.6 1645.5 754.1 1643.7 754 1641.9 757.3 1640.1 755 1638.4 755.2 1636.6 754.9 1634.8 754.7 1633.1 756.4 1631.3 755.8 1629.5 755.3 1627.8 755 1626 753.4 1624.2 756.7 1622.5 757.9 1620.7 756.8 1618.9 754.2 1617.1 756.3 1615.4 756.1 1613.6 755.8 1611.8 754.5 1610.1 754.8 1608.3 755.2 1606.5 753.7 1604.8 753.6 1603 757.7 1601.2 755.8 1599.4 757.7 1597.7 756.4 1595.9 753.7 1594.1 755.2 1592.4 758.4 1590.6 753.5 1588.8 754.3 1587.1 755.7 1585.3 756.3 1583.5 753.3 1581.7 753.3 1580 754 1578.2 754.8 1576.4 754.7 1574.7 756.3 1572.9 753.7 1571.1 753.6 1569.4 757.4 1567.6 755.2 1565.8 757.2 1564.1 754.3 1562.3 756.5 1560.5 753.3 1558.7 757.4 1557 754.7 1555.2 753.5 1553.4 756.2 1551.7 753.2 1549.9 757.2 1548.1 760.9 1546.4 754.1 1544.6 753.8 1542.8 754.7 1541 754.5 1539.3 753.4 1537.5 756.5 1535.7 754.1 1534 757.1 1532.2 757.9 1530.4 757.3 1528.7 753.4 1526.9 754 1525.1 754.5 1523.4 754.7 1521.6 754.7 1519.8 757.7 1518 759.9 1516.3 754.1 1514.5 755.8 1512.7 753.1 1511 757.9 1509.2 759.8 1507.4 755.8 1505.7 754.8 1503.9 753.4 1502.1 757 1500.3 754.3 1498.6 758.7 1496.8 754.3 1495 758.3 1493.3 754.7 1491.5 757.3 1489.7 755 1488 754.4 1486.2 755.8 1484.4 755.3 1482.7 753.1 1480.9 753.4 1479.1 754.9 1477.3 759.3 1475.6 753.6 1473.8 754.7 1472 753.9 1470.3 755.4 1468.5 755.8 1466.7 753.5 1465 755.4 1463.2 755.1 1461.4 753 1459.6 754.6 1457.9 755.1 1456.1 754.6 1454.3 754.4 1452.6 756 1450.8 755 1449 756.5 1447.3 753.9 1445.5 757 1443.7 755.5 1442 753.2 1440.2 753.5 1438.4 753.2 1436.6 756.3 1434.9 754.3 1433.1 753.3 1431.3 755.7 1429.6 753.1 1427.8 755.7 1426 755.5 1424.3 755.7 1422.5 756.8 1420.7 754.1 1418.9 753.3 1417.2 754.5 1415.4 755.9 1413.6 754 1411.9 755.7 1410.1 754.7 1408.3 759.2 1406.6 754.6 1404.8 753.8 1403 754.2 1401.3 756.3 1399.5 756.4 1397.7 752.8 1395.9 755.8 1394.2 753.8 1392.4 753 1390.6 753.1 1388.9 753.1 1387.1 755 1385.3 753.9 1383.6 755.4 1381.8 753.2 1380 754.5 1378.2 755.7 1376.5 754.3 1374.7 753.2 1372.9 754 1371.2 755.9 1369.4 754.6 1367.6 754.9 1365.9 754.3 1364.1 753.7 1362.3 754.7 1360.5 754.2 1358.8 754.5 1357 755.4 1355.2 754.4 1353.5 755.1 1351.7 756.1 1349.9 758.2 1348.2 753.4 1346.4 753 1344.6 758.3 1342.9 753.7 1341.1 754.4 1339.3 754.9 1337.5 752.8 1335.8 757.3 1334 753.9 1332.2 754.4 1330.5 754.3 1328.7 753.6 1326.9 752.7 1325.2 755 1323.4 752.8 1321.6 753.4 1319.8 754.9 1318.1 754.6 1316.3 754.2 1314.5 754.9 1312.8 754.4 1311 753 1309.2 754 1307.5 755.5 1305.7 753.3 1303.9 755.2 1302.2 753.2 1300.4 752.9 1298.6 754.3 1296.8 753.5 1295.1 754.3 1293.3 754.2 1291.5 754.8 1289.8 758 1288 752.6 1286.2 758.7 1284.5 754.4 1282.7 757.1 1280.9 754.7 1279.1 753.3 1277.4 755.2 1275.6 753 1273.8 753.2 1272.1 754.3 1270.3 753.3 1268.5 752.9 1266.8 753.3 1265 754.6 1263.2 752.9 1261.5 753.9 1259.7 754.5 1257.9 752.7 1256.1 756.2 1254.4 755.3 1252.6 757.5 1250.8 753.9 1249.1 752.7 1247.3 755.4 1245.5 755 1243.8 757.3 1242 752.6 1240.2 752.5 1238.4 753.8 1236.7 757.1 1234.9 758 1233.1 754.6 1231.4 756.6 1229.6 753.6 1227.8 754.6 1226.1 757.7 1224.3 753.6 1222.5 752.6 1220.8 752.8 1219 754.7 1217.2 753.6 1215.4 752.9 1213.7 754.4 1211.9 752.7 1210.1 753.1 1208.4 754 1206.6 756 1204.8 753.4 1203.1 756.2 1201.3 756.2 1199.5 752.5 1197.7 756.5 1196 752.9 1194.2 752.3 1192.4 752.8 1190.7 754.5 1188.9 757.2 1187.1 752.4 1185.4 752.9 1183.6 755.7 1181.8 756.8 1180.1 753.6 1178.3 755.5 1176.5 754.3 1174.7 754.4 1173 754.2 1171.2 753.4 1169.4 753.1 1167.7 756.1 1165.9 752.8 1164.1 754.9 1162.4 754.6 1160.6 752.6 1158.8 754.1 1157 752.5 1155.3 753.3 1153.5 756.7 1151.7 755.3 1150 753.9 1148.2 755.7 1146.4 754.8 1144.7 753 1142.9 755.1 1141.1 755.7 1139.3 754.4 1137.6 758.8 1135.8 755 1134 752.4 1132.3 752.9 1130.5 754 1128.7 752.3 1127 752.7 1125.2 754.2 1123.4 753.7 1121.7 753.3 1119.9 756.8 1118.1 752.4 1116.3 754 1114.6 752.6 1112.8 754.4 1111 753 1109.3 753.1 1107.5 755.3 1105.7 752.4 1104 752.8 1102.2 753.9 1100.4 752.8 1098.6 754.1 1096.9 754.3 1095.1 754.6 1093.3 754.7 1091.6 753.1 1089.8 752.2 1088 754 1086.3 756 1084.5 755.4 1082.7 752.4 1081 754.3 1079.2 752.7 1077.4 754.7 1075.6 753.1 1073.9 756 1072.1 754.2 1070.3 752.1 1068.6 753.5 1066.8 754.1 1065 753.2 1063.3 754.1 1061.5 753.2 1059.7 752.5 1057.9 753 1056.2 753.4 1054.4 752.8 1052.6 754.6 1050.9 753.6 1049.1 753 1047.3 754.4 1045.6 752.7 1043.8 753.5 1042 753.8 1040.3 754.9 1038.5 752.6 1036.7 752.1 1034.9 758 1033.2 752.7 1031.4 752.6 1029.6 752.6 1027.9 752.7 1026.1 754.5 1024.3 754.7 1022.6 752.1 1020.8 752.5 1019 754.5 1017.2 753.2 1015.5 753.9 1013.7 754.4 1011.9 755.5 1010.2 754.3 1008.4 754.4 1006.6 753.6 1004.9 754.7 1003.1 752.9 1001.3 752.5 999.6 753.2 997.8 755.5 996 756.2 994.2 754.4 992.5 754.6 990.7 753 988.9 755.2 987.2 753.6 985.4 752.5 983.6 752.3 981.9 754.6 980.1 753.2 978.3 753.5 976.5 752.4 974.8 756.5 973 752.1 971.2 752.3 969.5 752.9 967.7 753.4 965.9 755 964.2 757.2 962.4 752.4 960.6 753.2 958.9 753 957.1 755.6 955.3 752.9 953.5 755.2 951.8 752.6 950 754.1 948.2 752.8 946.5 751.9 944.7 752.6 942.9 756 941.2 754.4 939.4 753.2 937.6 752.2 935.8 754 934.1 754.7 932.3 755.9 930.5 755.8 928.8 754.4 927 752.5 925.2 752.3 923.5 754.4 921.7 752.8 919.9 754.1 918.1 753 916.4 752.1 914.6 753.3 912.8 753.7 911.1 752.3 909.3 752.9 907.5 753.7 905.8 755.7 904 754.3 902.2 754 900.5 752.4 898.7 752.9 896.9 752.9 895.1 753.6 893.4 752.7 891.6 753.1 889.8 753.1 888.1 754.8 886.3 758.2 884.5 756.7 882.8 752.1 881 753.5 879.2 753.7 877.4 751.9 875.7 752.7 873.9 753.6 872.1 755.2 870.4 752.9 868.6 754.4 866.8 753.2 865.1 752.9 863.3 752.4 861.5 754.6 859.8 752.5 858 751.8 856.2 752.2 854.4 752.1 852.7 755.5 850.9 752.7 849.1 752.8 847.4 757.2 845.6 754.7 843.8 754.9 842.1 751.9 840.3 756.1 838.5 755.5 836.7 754.5 835 752.6 833.2 752.3 831.4 755.6 829.7 754.5 827.9 752.8 826.1 751.8 824.4 753.8 822.6 753.7 820.8 753.6 819.1 753 817.3 754.1 815.5 754 813.7 755 812 752 810.2 753.9 808.4 754.9 806.7 754.9 804.9 751.8 803.1 755.9 801.4 754.5 799.6 753.8 797.8 755.2 796 755.2 794.3 754 792.5 752.3 790.7 753.2 789 752.8 787.2 755.5 785.4 754.2 783.7 753 781.9 753.5 780.1 753.3 778.4 754.2 776.6 754.2 774.8 754.9 773 753.9 771.3 756.6 769.5 752.4 767.7 752.2 766 754.4 764.2 752.8 762.4 753.5 760.7 754.3 758.9 753 757.1 752.9 755.3 754.9 753.6 754.7 751.8 753 750 752.1 748.3 754.1 746.5 752.3 744.7 752.1 743 756.5 741.2 753.7 739.4 752.3 737.7 753 735.9 751.7 734.1 752.7 732.3 754.2 730.6 751.9 728.8 752.8 727 752.3 725.3 753.6 723.5 759.6 721.7 753.8 720 753.7 718.2 752.1 716.4 753.5 714.6 755.8 712.9 751.7 711.1 755.5 709.3 753.1 707.6 751.8 705.8 751.9 704 753.5 702.3 752.9 700.5 752.5 698.7 753.3 696.9 756.9 695.2 753.6 693.4 753.4 691.6 753.3 689.9 751.7 688.1 752.8 686.3 753.6 684.6 753.1 682.8 755.7 681 752.1 679.3 751.9 677.5 752.7 675.7 752.4 673.9 752 672.2 755.3 670.4 752 668.6 752.3 666.9 753.8 665.1 753 663.3 754.2 661.6 751.8 659.8 752.4 658 752.5 656.2 752.4 654.5 755.5 652.7 753.3 650.9 752 649.2 752.3 647.4 753.6 645.6 752 643.9 756 642.1 754.2 640.3 752.1 638.6 754.5 636.8 751.7 635 751.8 633.2 755.1 631.5 752.7 629.7 757.1 627.9 752 626.2 753.3 624.4 751.7 622.6 753.2 620.9 753 619.1 752.4 617.3 753.1 615.5 755.6 613.8 755.3 612 751.8 610.2 752.3 608.5 752.3 606.7 752.9 604.9 751.7 603.2 751.7 601.4 755.2 599.6 753.1 597.9 752.1 596.1 752.6 594.3 751.8 592.5 755.1 590.8 753.8 589 752.5 587.2 752 585.5 752.5 583.7 751.6 581.9 752.8 580.2 751.6 578.4 753.3 576.6 755.1 574.8 751.9 573.1 754.2 571.3 751.5 569.5 752.1 567.8 754.1 566 753.3 564.2 753.1 562.5 755.5 560.7 754.2 558.9 752.1 557.2 752.5 555.4 754.6 553.6 752.2 551.8 751.2 550.1 755.9 548.3 754.7 546.5 753.1 544.8 752.1 543 753.4 541.2 752.5 539.5 753.8 537.7 751.1 535.9 751 534.1 752.2 532.4 758 530.6 754.3 528.8 753.3 527.1 752.5 525.3 753.4 523.5 752 521.8 753.1 520 751 518.2 752.8 516.5 754 514.7 752.7 512.9 753.8 511.1 752.2 509.4 753.8 507.6 752.3 505.8 752.6 504.1 750.9 502.3 751 500.5 753.5 498.8 751.1 497 751.3 495.2 751.3 493.4 753.1 491.7 754.9 489.9 752.7 488.1 753.1 486.4 752.1 484.6 752.6 482.8 752.8 481.1 753.1 479.3 751.6 477.5 752.2 475.7 753.2 474 752.3 472.2 750.9 470.4 752.3 468.7 751.2 466.9 750.6 465.1 751.4 463.4 750.7 461.6 752.6 459.8 751.4 458.1 751.1 456.3 754.9 454.5 751.1 452.7 754 451 751.7 449.2 751.6 447.4 752.8 445.7 754.8 443.9 755.2 442.1 752 440.4 754.3 438.6 752.5 436.8 750.8 435 752.4 433.3 751.4 431.5 751.5 429.7 754 428 756.3 426.2 751.1 424.4 755.5 422.7 754.1 420.9 751.7 419.1 754 417.4 752.8 415.6 754.2 413.8 750.3 412 750.8 410.3 753.9 408.5 750.4 406.7 750.8 405 750.3 403.2 750.4 401.4 750.6 399.7 750.7 397.9 751.4 396.1 751.6 394.3 753.6 392.6 750.5 390.8 750.8 389 752.8 387.3 753.2 385.5 751.2 383.7 751.1 382 757.7 380.2 751.5 378.4 750.1 376.7 752 374.9 751.8 373.1 751 371.3 753.9 369.6 750.6 367.8 750.5 366 753.6 364.3 749.9 362.5 752.7 360.7 750.7 359 751.8 357.2 753.4 355.4 750.8 353.6 752.4 351.9 751 350.1 750.4 348.3 750.9 346.6 751.9 344.8 752.1 343 751.8 341.3 750 339.5 751.1 337.7 750.5 336 749.2 334.2 752.8 332.4 751 330.6 749.6 328.9 748.9 327.1 750.2 325.3 752.5 323.6 754.6 321.8 749.2 320 756.6 318.3 753.4 316.5 749.2 314.7 751.9 312.9 748.4 311.2 750.4 309.4 749.2 307.6 751.2 305.9 753.2 304.1 750.8 302.3 752.4 300.6 750.4 298.8 749.1 297 749 295.3 748.2 293.5 748.4 291.7 748.9 289.9 747.9 288.2 749.4 286.4 749.9 284.6 752.3 282.9 748.5 281.1 749.2 279.3 751.3 277.6 748 275.8 748.2 274 749.6 272.2 748.2 270.5 751.7 268.7 749.3 266.9 747.7 265.2 750.1 263.4 748.2 261.6 747.8 259.9 751.3 258.1 751.2 256.3 749.9 254.5 749.3 252.8 753 251 749.2 249.2 747.2 247.5 749.7 245.7 748.6 243.9 747.9 242.2 746.8 240.4 749.4 238.6 747 236.9 748.7 235.1 748.8 233.3 749.6 231.5 749.5 229.8 749.2 228 748 226.2 746.5 224.5 746.9 222.7 747.5 220.9 747 219.2 749.8 217.4 750.7 215.6 747.3 213.8 746.8 212.1 747.2 210.3 746.5 208.5 748.6 206.8 746 205 749.4 203.2 748.4 201.5 746.9 199.7 748.4 197.9 746.7 196.2 746.1 194.4 745.8 192.6 749.9 190.8 745.9 189.1 750.7 187.3 745.6 185.5 746.3 183.8 750.1 182 747.4 180.2 745.4 178.5 748.6 176.7 747.9 174.9 746.4 173.1 744.8 171.4 749.9 169.6 746.1 167.8 744.6 166.1 745.8 164.3 745.8Z" fill="#0000ff"/>
<path d="M164.3 728 L165.2 728.6 165.6 731.3 166.1 732.3 167 733.7 167.4 730.8 168.3 732.6 169.2 734.4 169.6 726.4 170.1 733.7 170.9 732.3 171.4 728.8 171.8 735.2 172.3 731.3 172.7 732.4 173.1 727 173.6 725.7 174 730.9 174.9 730.7 175.4 725.8 175.8 735.4 176.2 728.7 177.1 727.8 177.6 728.2 178 731.2 178.5 722.4 178.9 727.3 179.8 729.1 180.2 725.4 180.7 733.7 181.1 729.7 181.6 729.8 182.4 730.1 182.9 732.3 183.8 732.1 184.2 730.1 185.1 730.9 185.5 732.3 186 729.7 186.9 731.5 188.2 730.8 188.6 727.6 189.1 734.9 189.5 732.4 190 727.7 190.8 729 191.7 727.5 192.2 731.1 192.6 729.5 193.1 727.6 193.5 735 193.9 729.5 194.4 731.4 194.8 726.5 195.7 727.5 196.2 733.3 196.6 732.7 197 729.8 197.5 729.6 198.8 729.8 200.1 732.5 201.5 730.2 201.9 733.1 202.8 732.3 203.7 731 204.1 734.2 204.6 727.7 205 726.1 205.4 730 205.9 733.1 206.8 731.7 207.7 730.6 208.1 731.9 208.5 730.2 209.4 731.2 210.3 732.5 210.8 732.8 211.2 728 212.1 726.8 212.5 733.4 213.4 731.9 213.8 733 214.3 729.4 214.7 729.5 216.1 733.5 216.5 735.3 216.9 726.9 217.4 727.5 217.8 735 218.7 734.1 219.2 734 220 732.7 220.5 728.4 220.9 723.6 221.4 716.1 221.8 707.3 222.3 698.7 222.7 690.6 223.6 692.6 224 701.6 224.5 706.3 224.9 710 225.4 721.2 225.8 718.4 226.2 725.9 226.7 730.4 227.1 724.7 227.6 726.2 228 729.9 228.9 730.1 229.3 729.3 229.8 731.6 230.2 725.7 230.7 726.5 231.1 733.1 232 733 232.9 732.7 233.3 726.1 233.8 728.1 234.2 730.3 234.6 734.4 235.1 732.1 235.5 731.6 236 728.2 236.4 732 237.3 733.4 237.7 731.3 238.2 737.8 238.6 728.3 239.5 728 240 728 240.4 734 240.8 730.7 241.3 729.6 241.7 732.1 242.6 730.2 243 731 243.9 730.4 244.4 739.2 244.8 728.3 245.3 731.5 246.1 731.5 246.6 730.7 247.5 731.8 247.9 734.8 248.4 731.4 248.8 729.3 249.2 736.2 249.7 734.8 250.1 734 250.6 731.6 251 729.7 251.5 735.7 251.9 732.5 252.8 731.8 253.2 733.5 254.1 732.3 254.5 731.2 255.4 731.6 255.9 731.8 256.8 732.4 257.2 730.8 257.6 732.1 258.5 732.2 259.9 731.5 260.3 733.5 261.2 731.7 261.6 732 262.1 733.7 262.5 734.8 263 736.7 263.8 735.1 264.7 734.5 265.2 735.4 265.6 738.1 266.1 731.2 266.5 735.7 266.9 725.5 267.8 726.2 268.3 730.6 268.7 729.4 269.1 728.4 270 729.5 270.5 729.3 271.4 731.2 271.8 734.3 272.2 731.4 272.7 730 273.1 727.7 273.6 734.5 274.5 734.6 275.3 736.4 275.8 734.5 276.2 739.6 276.7 731.8 277.1 735.4 277.6 737.7 278 732.2 278.4 732.8 279.3 732.1 279.8 735.3 280.2 733.6 280.7 729.9 281.1 740.3 281.5 730.9 282 736.5 282.4 733.2 283.7 735.5 284.2 735.5 284.6 738.2 285.1 731.1 285.5 729.3 286 728.2 286.4 727.1 287.3 728 287.7 728.4 288.2 733.9 289.1 733.5 289.5 725.2 289.9 729.4 290.4 728.6 290.8 733.1 291.7 734.4 292.2 736.8 292.6 743.5 293 731.7 293.5 735.3 293.9 735.9 294.4 732.9 294.8 730.3 295.3 735.9 295.7 736 296.1 735 296.6 731.2 297 726.7 297.5 730.3 297.9 736.9 298.3 736.9 298.8 730.4 299.2 734.1 299.7 737.3 300.1 737.4 300.6 730.7 301 732.9 301.4 733.3 301.9 730.2 302.3 738.7 302.8 728.2 303.2 734.7 303.7 736.6 304.5 735.8 305 726.9 305.4 733.7 306.3 734.5 307.6 731.2 308.5 731.7 309 733.3 309.8 733.1 310.3 738.8 310.7 738.1 311.2 734.9 311.6 732.8 312.1 732.5 312.9 734 313.8 733.3 314.3 731.1 314.7 737.4 315.2 736.2 315.6 734.4 316.9 739.4 317.4 733.4 318.3 732.2 319.6 735.2 320 734.4 320.5 731.8 320.9 740.6 321.4 737.3 322.2 736.6 322.7 735.1 323.1 732.8 323.6 739.6 324 736.6 324.9 735.7 326.2 734.9 327.1 734.6 327.5 729.7 328 733.7 328.4 737.9 328.9 738.9 329.3 734.9 329.8 731.9 330.2 737.3 330.6 731.9 331.5 730.2 332 728.2 332.4 740 332.9 734.5 333.3 725.8 333.7 731.9 334.2 729.3 334.6 736.9 335.1 732.4 335.5 732.1 336 736.2 336.4 739.1 336.8 732 337.7 731.4 338.2 737.1 338.6 735.1 339 734.7 339.5 731.9 340.8 737.9 341.3 738 341.7 731 342.1 733.8 342.6 735.1 343.5 734.1 343.9 735.4 344.8 733.5 345.7 733 346.1 732.7 347 734.5 347.5 735 347.9 734.1 348.8 734.4 349.2 733.2 349.7 739.6 350.1 736.5 351 738.2 351.4 732.8 351.9 731.5 352.3 739.3 352.8 728.6 353.2 732.7 354.1 732.1 355 731.5 355.4 740.7 355.9 733.1 356.3 735.1 356.7 727.6 357.6 728 358.1 719.5 358.5 716.8 359 708.6 359.4 708.1 359.8 707.8 360.3 713.5 360.7 717.3 361.2 727.3 361.6 728.9 362.1 729.6 362.5 737.8 362.9 733.6 363.4 733.4 363.8 731.9 364.3 737 364.7 734.8 365.6 733.8 366 736.4 366.9 738.2 367.4 737.9 367.8 741.4 368.2 732.9 368.7 734.8 370 735.2 370.5 734 370.9 737.7 371.3 731.4 371.8 735.3 372.2 737 372.7 738.1 373.1 735.1 374 735.4 375.3 737.4 375.8 739.3 376.2 741.5 376.7 734.3 378 736.6 378.9 735.7 379.3 737.1 379.7 735.5 380.2 734.2 380.6 739.1 381.1 735.8 382 735.5 382.4 734.8 382.8 733.3 383.3 737 383.7 734.8 384.2 731.8 384.6 738.5 385.1 734.5 385.9 735.3 387.3 732 388.2 730.6 388.6 731.4 389 735.8 389.5 733.8 389.9 740 390.4 733.3 391.3 731.7 391.7 739.9 392.1 735.6 392.6 731 393 736.2 393.5 734 393.9 741.9 394.3 738.7 395.2 737.6 395.7 737 396.1 734.5 396.6 734.6 397.9 736.4 399.2 734.5 399.7 733.4 400.1 741.3 400.5 736.4 401 737.6 401.4 743.6 401.9 735.5 402.3 733.5 402.8 730.5 403.2 731.4 404.1 731.5 404.5 729.5 405 735.7 405.4 735.4 405.9 740.6 406.7 738.7 407.2 728.7 407.6 739.4 408.1 736.5 408.5 732.8 408.9 739.3 409.8 737.4 411.2 737.6 411.6 732.8 412.5 733.2 412.9 738 413.8 736.5 414.3 735 415.1 736.7 416 738 416.5 740.5 416.9 740.8 417.4 734.6 417.8 743.2 418.2 740.2 418.7 736.6 419.1 736.8 419.6 737.4 420 734.2 420.4 733.8 421.3 734.7 421.8 727.3 422.2 737.6 423.1 736.8 423.5 734.7 424 733.9 424.4 738 424.9 733.4 425.3 732.9 425.8 736.7 426.2 736.4 426.6 733.7 427.1 733.5 427.5 733.6 428 736.8 428.4 737.1 429.3 735.5 429.7 733.1 430.2 737.9 430.6 743.6 431.1 740.6 431.5 732.8 432 738.1 432.4 735.5 433.3 735 433.7 733.4 434.2 731.3 435 732.8 436.4 736.1 437.7 734.6 438.1 736.6 438.6 736.9 439 740.2 439.5 737.6 440.4 737.6 440.8 738.6 441.2 734.2 441.7 734.3 442.1 729.2 442.6 740.3 443 736.4 443.5 739.9 443.9 731.4 444.3 729 444.8 736.9 445.7 736.5 447 735 447.4 735.5 448.3 734.7 448.8 734.8 449.6 735.7 451 736.3 451.4 737.5 452.3 739.2 452.7 731.9 453.6 733.4 454.1 729 454.5 728 455 732.9 455.4 733.2 455.8 736.6 456.3 737.4 456.7 742.5 457.2 733.9 457.6 734.2 458.1 736.7 458.9 735.3 459.4 733.4 459.8 728.1 460.3 738.5 460.7 735.3 461.2 740.7 461.6 741.4 462 741.7 462.5 737.4 462.9 738.6 463.8 737.3 464.2 735 465.1 734.4 465.6 735.4 466 733.6 466.5 741.5 466.9 736.4 468.2 732.2 468.7 739.6 469.1 739.7 469.6 736.5 470 736.9 470.4 731.7 470.9 740.7 472.2 734.3 472.7 737.4 473.5 738.4 474.9 737.2 475.3 736.1 475.7 732.9 476.2 739.8 476.6 736.1 477.5 735.8 478.4 734.9 478.8 743.6 479.3 741.4 479.7 738 480.2 736.8 480.6 738 481.5 737.7 481.9 735.7 482.8 733.9 483.3 733.9 483.7 737.3 484.2 735.9 485 737.1 485.5 736.2 485.9 735.5 486.8 734.9 488.1 732.6 488.6 737.9 489 737.1 489.5 734.4 490.3 733.8 490.8 733.4 491.2 729.3 491.7 728 492.1 732.4 492.6 737.8 493 727.4 493.4 727.9 493.9 721.8 494.3 719 494.8 707.2 495.2 700.8 495.7 695.2 496.1 689.7 496.5 693.6 497 700.5 497.4 711.2 497.9 719.3 498.3 726 498.8 729.4 499.2 728 499.6 731.4 500.1 735.1 501 737.1 501.4 731.1 502.3 732.7 502.7 736.2 503.2 733.6 503.6 732.9 504.1 736.6 504.5 734.5 504.9 732.6 505.4 737 506.3 737.3 506.7 737.5 507.2 734.2 508 735.6 509.4 739 509.8 734.4 510.3 736.1 510.7 739.8 511.1 732 511.6 732.4 512 738.1 513.4 738.6 513.8 739.1 514.2 734.7 514.7 736.2 515.1 737.8 515.6 732.7 516 732.5 516.5 734.5 516.9 739 517.3 738.4 517.8 732.5 518.2 734.6 518.7 734.6 519.1 736.4 520 736.2 520.4 733.6 520.9 739.4 521.3 739.2 521.8 733.2 522.2 735.8 522.6 739.3 523.5 737.6 524 735 525.3 738.9 525.7 741.3 526.6 740.1 527.1 738.7 528 736.8 528.8 735.1 529.3 735.1 529.7 728.2 530.2 731.6 530.6 735.2 531 736 531.5 738 531.9 738.8 532.8 738.4 533.3 744.7 533.7 738.5 534.1 740.2 534.6 734.1 535 737.7 535.9 739.1 536.4 735.1 536.8 736.3 537.2 732.8 538.6 739.2 539.9 738.1 541.2 736.6 541.7 731.7 542.1 740 542.6 734.3 543 739 543.9 737.4 545.2 736.9 546.5 737.2 547 738 547.9 737 548.3 732.4 549.2 731.3 549.6 735.4 550.1 737.2 550.5 738.1 551.8 733.1 552.7 734.5 553.2 740.4 554.1 741.8 554.5 738.5 555.4 736.7 555.8 739.3 556.3 732.8 556.7 733.8 557.2 734.9 558 733.8 558.5 739.1 558.9 734.3 559.4 732.5 559.8 731.7 561.1 727.8 561.6 737.4 562 724.5 562.5 712.6 562.9 691.7 563.3 658.1 563.8 607.4 564.2 547.4 564.7 523.5 565.1 551 565.6 607.9 566 661 566.4 695.2 566.9 712.4 567.3 719.7 567.8 722.7 568.2 728.3 568.7 732.9 569.1 732 569.5 729.9 570.4 731.1 571.8 733 572.6 731.7 573.1 730.8 573.5 736.8 574.4 737.1 575.3 736 575.7 741 576.2 735.4 576.6 735.9 577.1 739.8 577.5 737.3 578.4 736.2 579.3 738.2 579.7 735.7 580.2 737.6 581 738.6 582.4 736.9 582.8 741.3 583.3 731.2 583.7 735.3 584.1 734.3 585 736.1 585.5 736.9 586.3 737.4 587.2 735.5 587.7 734.7 588.1 733.8 589 733.6 589.4 735.4 589.9 743.2 590.3 737.8 591.2 736.1 591.7 733.5 592.1 737.8 592.5 739.7 593 734.3 593.4 735.4 594.3 735.8 594.8 738.9 595.2 743.3 595.6 734.4 596.5 734.3 597 730.5 597.4 740.6 597.9 738.6 598.3 736.1 599.2 735.2 599.6 732.8 600.9 734.1 601.8 734.5 602.3 733.8 602.7 737.4 603.2 738.2 603.6 741.6 604 737.7 604.5 733 604.9 734.3 606.3 738.3 606.7 742.2 607.1 732.7 607.6 732.6 608 736.3 608.5 736.8 608.9 739.4 609.8 738.6 610.2 736.2 611.1 736.2 611.6 738.3 612 742 612.5 735.1 612.9 738.9 613.8 739.9 614.2 737.2 614.7 741.4 615.1 733.1 615.5 733.6 616 732 616.4 742 616.9 735.6 617.8 734.8 618.2 739.3 619.1 738.1 619.5 733.1 620.4 731.2 620.9 732.6 621.3 738.6 621.7 739.4 622.2 736.2 622.6 731.7 623.1 734.1 623.5 735.8 624.4 735 624.8 732.7 626.2 735.3 626.6 736.1 627.5 735.2 627.9 730.7 628.4 739.8 628.8 734.6 629.7 735.2 630.1 737.7 631.5 735.8 631.9 737 632.4 733.7 632.8 733.7 633.7 735.5 634.1 731.8 634.6 733.2 635 740.3 635.5 740.1 636.3 740 636.8 739.3 637.7 738.5 638.1 735.7 639 737.6 639.4 737.8 639.9 736.2 640.8 736.4 641.2 734.2 641.6 742.9 642.1 737.9 643 738.8 643.4 733.7 643.9 735.4 644.3 735.9 644.7 738.3 645.2 735.3 646.1 734.3 647 732.9 647.4 728.4 647.8 723.2 648.3 719.4 648.7 705.8 649.2 691.4 649.6 676.4 650.1 664.7 650.5 675.3 650.9 688.8 651.4 705.1 651.8 716.6 652.3 726.3 652.7 729 653.2 731 654 731 654.5 739 654.9 737.3 655.4 734.6 656.7 736.5 657.6 736.2 658 736.8 659.3 734.2 659.8 737 660.7 738.2 661.1 736.6 661.6 741.5 662 739 662.4 738.7 663.3 737 663.8 735.3 664.2 742.8 664.7 737.9 665.5 739.4 666 740.1 666.4 735.2 666.9 737.4 667.3 744.1 667.8 737 668.2 738 668.6 746 669.1 736.9 669.5 733.5 670 734.2 670.4 737.4 670.8 739.2 671.3 734.4 671.7 731.1 672.2 738.6 672.6 736.3 673.5 734.4 673.9 740.2 674.4 736.5 674.8 733.2 675.3 734.1 676.6 735.5 677 740.3 677.9 739.9 678.4 739.8 679.3 738.1 680.1 739.2 680.6 738.8 681.5 737.7 681.9 733.9 683.2 735.6 684.1 735.1 684.6 740.4 685 734.6 685.4 738 685.9 737.6 687.2 738.2 687.7 735.9 688.5 736.6 689 738.8 689.4 734 689.9 734.4 690.3 737.5 690.8 743.7 691.2 733.4 692.1 734.8 692.5 735.8 693 737.2 693.9 736.6 694.7 737.1 695.2 735.4 695.6 735.7 696.5 737.6 697.4 737.7 697.8 736.7 698.7 734.9 699.2 738.2 699.6 738 700 741.9 700.5 735.3 701.4 736.9 701.8 731.1 702.3 733.8 702.7 737.9 703.1 736.1 703.6 735.2 704.5 736.5 704.9 738 705.4 739.4 705.8 735.8 706.7 734.3 707.1 733.4 707.6 740.4 708.5 739.3 708.9 735 709.8 734.4 710.2 734.4 711.1 735.8 711.5 740.5 712 732.6 712.4 735.6 712.9 733.6 713.3 733.3 713.8 742.5 714.2 741.7 714.6 738.3 715.1 738.6 716 737.2 716.4 728.1 716.9 730.6 717.7 729.6 718.2 741.2 718.6 739.5 719.1 738 720 739.1 720.4 735.3 721.3 736.3 721.7 734.4 722.2 742.4 722.6 737.5 723.1 738 723.5 740.5 723.9 743.5 724.4 736.9 724.8 737.4 725.7 737.1 726.1 741.9 726.6 734.8 727 734.4 728.4 733.2 728.8 737.1 729.2 737.9 729.7 731.1 730.1 738.3 731 739.5 732.3 735.6 732.8 733.8 733.7 732.7 734.1 736.1 734.6 738.8 735 731.8 735.4 731.1 735.9 740.5 736.3 734.3 736.8 743.6 737.2 738.2 737.7 732.9 738.1 739.8 738.5 740.1 739 732 739.4 736.3 739.9 741.1 740.3 732.5 740.7 738.3 741.2 738 741.6 742.8 742.1 740.9 742.5 735.9 743 732.8 743.4 736 744.3 737 744.7 735.7 745.2 734.2 745.6 740.8 746.1 735.9 746.9 737.7 747.8 737 748.3 740.6 748.7 734 749.2 737.8 749.6 740 750 735.7 750.5 737.5 750.9 739 751.8 737.1 752.2 733.4 752.7 734.4 753.6 736.2 754.5 735.5 754.9 731.9 755.3 738.8 755.8 733.9 756.2 741.7 756.7 745.2 757.1 739.4 757.6 738.4 758 735.2 758.9 735.8 759.8 737.1 760.2 732.2 760.7 739.4 761.5 739.5 762 737 762.9 735.7 764.2 740.9 765.5 733.1 766 733.8 766.4 738.7 766.8 741.4 767.3 736.1 768.2 734.2 768.6 734 769.1 737 769.5 743.2 769.9 736.1 770.4 732.2 770.8 729.6 771.3 736.6 772.2 735.8 773 734.5 773.5 740.5 773.9 738.2 774.4 732.6 774.8 734.9 775.7 736.6 776.1 729.7 776.6 735.4 777 735.1 777.5 728.5 777.9 737.9 778.4 740.6 778.8 734.8 780.1 734.9 780.6 736 781 737.7 781.4 731.5 781.9 735.1 782.8 735.5 783.7 736.8 784.1 733.3 784.5 731.5 785 742.2 785.4 735.4 785.9 732.2 786.8 733.6 788.1 730 788.5 730.6 789 735.9 789.4 733 789.9 731.2 790.7 732.1 791.2 727.4 791.6 722.3 792.1 722 792.5 722 793 704.5 793.4 691.4 793.8 643.6 794.3 577.8 794.7 505.7 795.2 453.9 795.6 447.8 796 508.4 796.5 584 796.9 642.6 797.4 688.1 797.8 711.5 798.3 720.6 798.7 718.4 799.1 727.6 799.6 730.8 800 732.7 800.9 732.9 801.4 732.8 801.8 727.2 802.2 730.2 802.7 737.4 803.1 731 804 729.9 804.9 731.6 805.3 736.8 806.2 736.6 806.7 731.1 807.1 735.2 807.5 738.4 808 726.5 808.4 734.2 808.9 735.8 809.3 738.5 810.6 737.2 811.5 735.8 812 736 812.9 735.8 813.3 735.7 813.7 741.1 814.2 733.1 814.6 737.3 815.5 736.7 816 739.8 816.4 736.4 817.3 736.9 818.6 738.8 819.5 739.5 819.9 735.3 820.4 733.1 821.3 732.5 821.7 737.6 822.1 741.5 822.6 735.1 823 734.1 823.5 740.1 823.9 738.7 824.4 739.4 824.8 731.1 825.2 734.3 826.1 734.4 826.6 735.5 827 737.2 827.9 736.3 828.3 729 828.8 738.5 829.2 733.3 829.7 739.7 830.1 740.5 830.6 733.5 831 737.2 831.4 741.7 831.9 741.9 832.3 739.7 833.2 738.1 833.7 734 834.1 741.3 834.5 737.9 835 741 835.4 729.3 835.9 735.1 836.7 735.5 837.2 733 838.1 734.1 838.5 742.2 839 735.5 839.8 734.4 840.3 738.3 840.7 737.5 841.2 733.6 842.1 735.3 842.5 733.7 843.8 736.9 844.7 736.4 845.2 734.6 846 733.9 846.5 735.3 846.9 731.3 847.4 729.8 847.8 726.1 848.3 721.3 848.7 722.1 849.1 717.5 849.6 718.2 850 711.2 850.5 712.6 850.9 711.9 851.3 707.9 851.8 706.8 852.2 712.9 852.7 720.7 853.1 721.5 853.6 728.5 854 727.1 854.4 730.8 854.9 735.1 855.8 735.4 857.1 735.5 858 734.4 858.4 745.3 858.9 737 859.3 733.9 859.8 731.7 860.2 733.8 861.1 735.2 862 735.7 862.4 733.6 863.7 736.3 864.6 736.5 865.1 731.3 865.5 737.3 866.4 736.5 867.3 736.8 867.7 737.6 868.2 731.8 868.6 739.9 869 736.5 869.5 738.5 869.9 741.6 870.4 733.3 871.3 734.2 871.7 737.2 872.1 734 872.6 734.5 873 742.3 873.5 736.3 873.9 738.3 874.4 740.1 874.8 741.5 875.2 732.8 875.7 738.3 876.1 739.4 876.6 740.5 877 735.1 877.4 735.8 878.3 737.3 879.7 736.8 881 735.2 881.9 735.7 882.3 736.4 883.2 735.9 883.6 730.7 884.1 743.7 884.5 740.7 885 738.8 885.9 737.1 886.3 742.3 886.7 733.3 887.2 739.2 887.6 739.2 888.1 744 888.5 736.6 889 741.4 889.4 738 889.8 733.6 890.3 733.2 891.2 732.7 891.6 735.2 892 740.9 892.5 732.6 892.9 736.7 893.8 736.7 894.3 731.1 894.7 720.8 895.1 720.4 895.6 706.6 896 696.4 896.5 689.1 896.9 689.6 897.4 706.3 897.8 713.5 898.2 717.9 898.7 731.4 899.6 732.1 900 733.7 900.5 737.2 900.9 737.5 901.8 739.1 902.2 735.9 903.1 736.3 903.6 736.9 904 740.4 904.4 739 904.9 730.2 905.3 733.3 905.8 739.4 906.2 737.9 906.6 734.2 907.1 735.6 907.5 742 908.4 740.9 908.9 740.4 909.3 735.4 909.7 736.4 910.2 738.3 911.1 738.5 911.5 740.9 912 735.4 912.4 737.3 912.8 738.7 913.7 737.2 914.2 741.7 914.6 731.2 915.1 738.2 915.5 735.7 916.4 736.6 916.8 738.5 917.3 739.8 918.1 739.3 919 737.9 919.5 739.5 920.4 739.4 920.8 734.5 921.2 741.1 922.1 742.9 922.6 739.9 923.5 740.9 924.3 740.6 924.8 736.5 925.2 736.2 926.1 735.1 926.6 740.1 927 737.9 927.4 735.5 928.3 735.9 928.8 739 930.1 736.8 930.5 738.6 931 740.5 931.4 733 931.9 738.7 932.7 736.9 933.2 737.1 933.6 742.2 934.1 742 934.5 736.7 935 736.7 935.4 741.8 936.3 743.1 936.7 735.4 937.6 736 938.1 728.7 938.5 739.7 939.4 739.6 940.3 741.2 940.7 733.4 941.2 732.8 941.6 742 942 740.7 942.5 737.8 942.9 732.6 943.4 740 943.8 744.8 944.3 736.4 944.7 736.3 945.1 734.9 945.6 738.8 946 737.2 946.9 735.2 947.3 740.3 947.8 734 948.2 738.2 948.7 740.5 949.1 739.6 950 739.1 950.4 734 950.9 731.3 951.3 738.2 952.2 736.6 952.7 741 953.1 739 954 740.1 954.9 739.7 955.3 740.7 956.2 742.2 956.6 736.9 958 736.4 958.4 735.9 959.3 735.4 959.7 738.7 960.2 739.4 960.6 735.5 961.1 736.2 961.9 737.1 962.8 737 963.3 736.2 964.2 738.1 964.6 740.7 965 732.1 965.5 735.7 965.9 736 966.8 735.7 967.3 740.6 967.7 740.2 968.1 735.3 968.6 732.8 969 738.3 969.5 738.5 969.9 733.5 970.4 737.6 971.2 739 972.6 736.5 973.9 738.7 974.3 736.9 975.2 737.4 976.5 737.6 977 743.8 977.4 734.5 977.9 732.4 978.3 733.3 978.8 735.2 979.2 735.9 979.6 729 980.1 729.5 980.5 737.4 981.4 736.2 981.9 737.2 982.3 723.4 982.7 732.8 983.2 728.8 983.6 722.6 984.1 714.3 984.5 694 985 666.7 985.4 635.7 985.8 604.3 986.3 599.8 986.7 634.4 987.2 668.4 987.6 698.5 988 714.3 988.5 726.2 988.9 734.6 989.4 731 989.8 730.8 990.3 737.9 991.1 738.2 991.6 733.6 992 734 992.5 736.6 992.9 736.9 993.4 733.8 993.8 741.1 994.2 735.1 995.1 733.9 996 735.1 996.5 737.3 997.8 737 998.2 739.7 998.7 739.7 999.1 735.8 999.6 737.5 1000.4 739.3 1000.9 738.7 1001.3 736.2 1001.8 736.2 1002.2 737.4 1002.6 738.7 1003.1 734.1 1004 736.1 1004.4 737.5 1005.7 734.9 1006.2 738.8 1007.1 737.3 1008 737.4 1008.4 737.9 1008.8 728.5 1009.3 740.6 1009.7 739.5 1011.1 740.1 1011.5 739 1011.9 742.1 1012.4 733.4 1013.3 734.7 1013.7 740 1014.2 738.2 1015 737.8 1016.4 735.2 1016.8 731.4 1017.2 737.3 1017.7 736.1 1018.1 736.1 1019 737.7 1019.9 738.2 1020.3 736.7 1020.8 736.5 1021.7 738.4 1022.6 737 1023 735.7 1023.4 739.2 1023.9 739.7 1024.3 736.1 1024.8 745.5 1025.2 741.1 1025.7 741.9 1026.1 738.7 1026.5 738.6 1027 734.5 1027.4 736.7 1027.9 737.6 1028.3 739.5 1028.7 736 1029.2 734.9 1029.6 740.9 1031 737.8 1031.8 737.4 1032.3 730.2 1032.7 740.3 1033.6 740.9 1034.1 736.8 1034.5 743.3 1034.9 741.1 1035.4 732.2 1035.8 732.2 1036.3 738.2 1037.2 737 1037.6 736.9 1038 736.5 1038.5 741.9 1038.9 739.1 1039.8 738.1 1040.3 746.3 1040.7 741.4 1041.1 735.4 1041.6 739.1 1042 735.2 1042.9 737.2 1043.3 733.3 1044.2 733.8 1044.7 739.1 1045.6 739.2 1046 731.1 1046.4 735.1 1046.9 735.8 1047.8 737.4 1048.2 734.1 1048.7 735.6 1049.1 738.1 1049.5 740.6 1050 738.2 1050.9 736.6 1051.8 734.9 1052.2 736 1052.6 738.4 1053.1 741.2 1053.5 732.2 1054 740.2 1054.4 740.8 1054.9 738.1 1055.3 731.7 1055.7 735.2 1056.2 736.9 1056.6 738.1 1057.5 736.5 1058.4 735.6 1058.8 736.3 1059.3 735.8 1060.2 736 1060.6 736.4 1061.5 734.6 1062.8 734.1 1063.7 734.9 1064.1 731.8 1064.6 738.1 1065.5 736.3 1066.4 737.9 1066.8 730.8 1067.2 733.2 1067.7 727.7 1068.1 721.1 1068.6 711.2 1069 698.8 1069.5 690.5 1070.3 691.9 1070.8 704.6 1071.2 708.6 1071.7 726.7 1072.1 730.7 1072.5 728 1073 733.2 1073.4 734.7 1074.3 732.9 1074.8 741.2 1075.2 733.1 1076.1 734.8 1077 733.4 1077.4 735.1 1078.7 734.3 1079.2 729.4 1079.6 736.3 1080.1 742.8 1080.5 742.2 1081 740.7 1081.4 736.1 1082.3 735.7 1082.7 735.9 1083.2 737.8 1084 735.9 1084.9 737.3 1085.4 733 1085.8 740 1086.7 741 1087.1 739.7 1087.6 735.7 1088 736.7 1088.9 738.4 1089.4 744 1089.8 734.5 1090.2 739.4 1090.7 741.6 1091.1 734.4 1092 735.5 1092.5 737.2 1092.9 738.8 1093.3 740.3 1093.8 739.9 1094.2 736.8 1094.7 735.6 1095.6 736 1096 741.3 1096.9 739.4 1097.3 739.7 1097.8 738.1 1098.2 735.9 1098.6 735.9 1099.1 737.4 1099.5 732.3 1100 741.7 1100.4 734.4 1101.3 735.7 1101.7 736.7 1102.2 738.7 1102.6 741.2 1104 736.5 1104.4 739.7 1105.3 738 1105.7 739.6 1106.6 741.6 1107.1 740 1107.5 738.1 1107.9 736.6 1108.4 740.1 1109.3 739.8 1109.7 740.4 1110.2 745.1 1110.6 737.4 1111 741.7 1111.5 739.5 1111.9 732.8 1112.4 733.8 1112.8 736 1113.2 741.1 1113.7 742 1114.1 736.9 1114.6 739 1115 738.3 1115.5 730.2 1115.9 740.9 1116.3 741.9 1116.8 731 1117.2 734.8 1117.7 737.4 1118.1 737.4 1118.6 740.8 1119 741.2 1119.9 739.7 1120.3 735.7 1120.8 736.7 1121.2 738.4 1121.7 739.3 1122.1 735.8 1122.5 743.4 1123 738.3 1123.9 740 1124.8 738.6 1125.2 730.3 1125.6 732.5 1126.1 736.6 1126.5 736.3 1127.4 735.7 1127.8 739.4 1128.3 741.3 1129.2 740.8 1129.6 738.8 1130.1 734 1130.5 733.6 1130.9 737.8 1131.4 740.9 1131.8 734.9 1132.3 731.4 1132.7 740.6 1133.2 741.1 1134 740.9 1134.5 743.7 1134.9 735.1 1135.8 736.5 1136.7 735.1 1137.1 736.7 1137.6 741.4 1138.5 740.8 1139.8 735.9 1140.2 740.4 1141.1 739.7 1142.4 738.7 1143.3 738.4 1143.8 734.5 1144.2 733.9 1144.7 732.2 1145.1 736.9 1146 738.4 1146.4 731.2 1146.9 738.1 1147.3 736.9 1147.8 736.1 1149.1 738.6 1149.5 736.3 1150 734.8 1150.4 725.5 1150.9 714.9 1151.3 713 1151.7 700 1152.2 706.1 1152.6 706 1153.1 714.9 1153.5 727.4 1153.9 727.3 1154.4 735.8 1155.7 738.5 1156.6 737.3 1157 735.1 1157.9 736.3 1158.4 737.1 1159.7 738.3 1161 738 1161.9 736.2 1162.4 736.4 1162.8 734 1163.2 730.8 1163.7 739.7 1164.1 739.2 1164.6 742 1165 733.5 1165.5 735.5 1165.9 736.1 1166.3 743.5 1166.8 740.5 1167.2 737.3 1167.7 737.7 1168.1 738.7 1169 738.8 1169.9 738.1 1170.3 739.8 1170.8 738.6 1171.6 737 1172.5 736.3 1173 733.8 1173.4 737 1174.3 737.2 1175.6 736.7 1176.1 740.4 1177 740.6 1177.4 738 1178.3 738.7 1178.7 733.5 1179.2 734.4 1179.6 740.2 1180.1 736.3 1180.9 734.5 1181.8 734.2 1182.3 741.3 1182.7 738.3 1183.1 732.6 1183.6 736.2 1184 734.7 1184.5 739.3 1184.9 739.2 1185.4 736.3 1185.8 735.8 1186.2 739 1186.7 735.8 1187.6 735.7 1188 738.7 1188.9 738.7 1189.8 738.4 1190.2 740.9 1190.7 737.1 1191.1 730.2 1191.6 731.6 1192 737.8 1192.4 734.9 1192.9 734.1 1193.3 740.5 1194.2 740.2 1194.6 740.1 1195.1 736.2 1195.5 737.7 1196.4 738.4 1196.9 737.1 1197.3 741.7 1197.7 739.4 1198.2 736.3 1199.5 735.5 1200.4 735.1 1200.8 725.2 1201.3 721.2 1201.7 720.4 1202.2 712.5 1203.1 714.2 1203.5 723.3 1203.9 727.4 1204.4 731.1 1204.8 732.4 1205.3 736.9 1206.2 738.7 1206.6 735.9 1207.5 735 1208.8 736.7 1209.7 737.9 1210.1 739.8 1210.6 735.4 1211 736.6 1211.5 739 1211.9 737.9 1212.3 735 1212.8 733.9 1214.1 738.6 1214.6 734.5 1215.4 734.3 1215.9 742.7 1216.8 741.5 1217.2 741 1217.7 739 1218.1 736.5 1219 736.2 1219.4 737.9 1220.3 737.3 1220.8 738.9 1222.1 736.2 1222.5 735.9 1223 738.5 1223.4 739.1 1223.8 734.1 1224.3 730.7 1224.7 736.2 1225.2 730.2 1225.6 729.6 1226.1 724.8 1226.9 722.9 1227.4 709.3 1228.3 707.8 1228.7 710 1229.2 719.8 1229.6 727.9 1230 726.6 1230.5 729.9 1230.9 738.7 1231.4 737.4 1232.3 735.7 1232.7 734.2 1233.1 735 1234 735.6 1234.5 736 1234.9 743.3 1235.4 732.5 1235.8 737.8 1236.2 739.1 1236.7 733.2 1237.6 734.2 1238 740 1239.3 734.1 1239.8 733.9 1240.2 738.9 1240.7 740 1241.1 733.7 1241.5 734.7 1242 738.4 1242.4 734.8 1243.3 734.5 1243.8 738.5 1244.2 730 1244.6 742.8 1245.5 741.4 1246 737.1 1246.4 735.7 1247.3 734.5 1248.2 735.9 1248.6 741.2 1249.1 740.1 1249.5 736.4 1249.9 737 1250.8 738 1251.3 739.5 1251.7 737.8 1252.6 737.8 1253 741.4 1253.5 740.4 1253.9 739.2 1254.4 735.9 1254.8 736.4 1255.3 739.2 1255.7 736.6 1256.1 735.7 1256.6 741.8 1257 738.1 1257.5 738.5 1257.9 736 1258.4 738.6 1259.2 738.6 1259.7 733.4 1260.1 736.3 1260.6 739.4 1261.9 736.9 1262.3 737.6 1263.2 737.6 1263.7 740.3 1264.1 732.6 1264.5 734.9 1265 740.5 1265.9 740 1266.8 740.5 1267.2 734.5 1267.6 742.4 1268.1 740.3 1268.5 734.3 1269 733.9 1269.9 735.7 1270.7 736.9 1271.2 733.3 1271.6 735.2 1272.1 736.6 1272.5 737.7 1273.8 739.1 1274.7 737.3 1275.2 730.9 1275.6 736.2 1276.1 733.5 1276.5 739.7 1277.4 739 1277.8 743.8 1278.3 738.5 1279.1 736.7 1279.6 738.8 1280.5 736.8 1281.4 737.7 1281.8 736.8 1282.2 737.4 1282.7 739.2 1283.1 741.8 1283.6 733.3 1284 737.7 1284.5 737.3 1285.3 737.7 1285.8 739.3 1286.2 741.2 1286.7 732.7 1287.1 734.2 1288.4 739.1 1289.8 734.3 1290.2 735 1291.1 736.7 1292 737.6 1292.4 739.6 1293.7 736.1 1294.2 729.3 1294.6 729.9 1295.1 737.3 1296 735.4 1296.4 734.5 1296.8 736 1297.3 742.5 1297.7 732.2 1298.2 739.6 1298.6 741.1 1299.1 733.6 1299.5 734.9 1300.4 735.7 1300.8 740.5 1301.3 737.9 1301.7 736.1 1302.2 738.7 1302.6 741.3 1303 736.6 1303.5 735.2 1303.9 740.4 1304.4 742.8 1304.8 742.3 1305.2 740.1 1305.7 737.2 1306.1 740.2 1307 739.7 1307.9 740.9 1308.3 740.5 1309.7 734.9 1310.1 738.3 1311 739.4 1311.4 736.5 1312.3 736.4 1312.8 736.5 1313.2 733.7 1313.7 739.5 1315 738 1315.9 739.7 1316.3 734.1 1316.8 737.7 1317.6 735.9 1318.1 736.1 1318.5 739.1 1319 741.8 1320.3 739 1321.2 738.2 1321.6 740.7 1322.5 739.2 1322.9 738 1323.4 733.4 1323.8 733.3 1324.3 744.4 1324.7 738.2 1325.6 736.6 1326.9 736.1 1327.4 739.8 1328.3 739.5 1329.1 738.2 1329.6 742.2 1330 734.2 1330.5 735.2 1330.9 736.4 1331.4 734.5 1331.8 739.6 1332.2 737 1332.7 735.2 1333.1 739.7 1333.6 737.8 1334.4 738.1 1334.9 736.5 1335.3 734.9 1336.2 735.4 1336.7 741.2 1337.1 738.9 1337.5 738 1338 735.7 1338.9 737.3 1340.2 741.6 1341.5 740.6 1342 737.8 1342.9 738.3 1343.7 737.1 1344.2 743.2 1344.6 741 1345.5 740.2 1346.4 738.9 1346.8 738.1 1347.7 739.8 1348.2 744.4 1348.6 735 1349.5 736.8 1350.4 736.8 1350.8 742.1 1351.3 740.2 1352.1 741.6 1352.6 739.6 1353 737.5 1353.5 744 1353.9 735 1354.8 736.1 1356.1 738.7 1357.5 739.7 1358.8 741.6 1359.7 743 1360.1 741.7 1361 742 1361.4 741.3 1362.3 739.6 1362.8 735.2 1363.2 737.1 1363.6 741.3 1364.1 742.4 1364.5 734 1365.4 732.5 1365.9 734.6 1366.3 740.3 1366.7 736.7 1367.2 739.9 1367.6 742.7 1368.1 733.3 1368.5 738.8 1369.4 739.7 1369.8 741.5 1370.7 740.1 1371.6 741.8 1372.1 744.6 1372.5 735 1372.9 737.9 1373.4 739.2 1374.7 738.7 1375.1 741 1375.6 736.5 1376 736.9 1376.5 742.7 1376.9 739.8 1377.4 734.5 1377.8 731 1378.7 729.6 1379.1 720.3 1379.6 706.7 1380 694.9 1380.5 685.5 1380.9 682.7 1381.3 688.2 1381.8 701.8 1382.2 708.5 1382.7 718.3 1383.1 722.6 1383.6 729 1384 733.6 1384.4 734.6 1384.9 735.6 1385.3 737.2 1385.8 735.8 1386.2 732.9 1386.7 737.9 1387.1 738.5 1387.5 735.2 1388 747.5 1388.4 730.3 1388.9 733.3 1389.3 736.2 1390.2 735.2 1390.6 738.7 1391.5 739.7 1392 738.7 1392.4 742.8 1392.8 733.6 1393.3 737.6 1394.6 737.8 1395.5 736.3 1395.9 734.7 1396.4 735 1396.8 737.2 1397.3 739.4 1398.2 740.4 1398.6 730.9 1399 735.4 1399.5 734.7 1399.9 738.1 1400.8 736.9 1401.3 741.1 1401.7 736.7 1402.1 738.5 1402.6 739.7 1403 739.5 1403.5 737.2 1403.9 742.2 1405.2 738.8 1405.7 738.7 1406.1 735.8 1406.6 732.3 1407.4 733.4 1407.9 737.9 1409.2 735.2 1409.7 738 1410.1 737.4 1410.5 742.1 1411.4 742.5 1411.9 738.1 1412.3 732.5 1412.8 740.7 1413.2 743.5 1414.5 736.9 1415.4 736.7 1415.8 735.1 1416.3 735.2 1417.2 735.8 1417.6 734.3 1418.1 733.4 1418.5 726.4 1418.9 720.6 1419.4 716.5 1419.8 702.5 1420.3 691.9 1420.7 693.1 1421.2 699.6 1421.6 713.6 1422 717.9 1422.5 729.8 1422.9 732.5 1423.4 726 1423.8 736.7 1424.3 734.4 1424.7 733.8 1425.1 736.8 1425.6 738 1426.5 737.6 1427.4 737.3 1427.8 739.1 1429.1 733 1429.6 734.2 1430 736.6 1430.4 740.1 1430.9 735.2 1431.3 735.4 1431.8 737.7 1433.1 735.2 1434.4 742.1 1435.3 743.2 1435.8 735 1436.2 738.4 1436.6 730.7 1437.1 741.7 1437.5 739.6 1438 736.6 1438.4 743.7 1439.3 741.9 1439.7 742 1440.2 737.1 1440.6 734 1441.1 731 1441.5 737 1442 725.2 1442.4 725.7 1442.8 725.3 1443.3 714.7 1443.7 705.2 1444.2 706.4 1444.6 717.4 1445 717 1445.5 724.9 1445.9 726.7 1446.4 733.7 1446.8 733.7 1447.7 734 1448.1 736 1448.6 730.3 1449 741.5 1449.5 741.3 1449.9 737 1450.4 738.3 1450.8 739.3 1451.2 741.2 1451.7 733.1 1452.1 735.4 1452.6 744.9 1453 741.6 1453.5 739.9 1454.3 740.7 1455.2 740.9 1455.7 735.1 1456.1 738.3 1457 739.2 1458.3 735.4 1458.8 737.1 1459.2 739 1459.6 740.1 1461 738.8 1461.9 738.6 1462.3 737 1463.2 736.5 1463.6 739.6 1464.5 738.1 1465 734.2 1465.8 736.2 1466.3 742.2 1467.2 741 1467.6 737.7 1468.9 740 1469.4 738.4 1469.8 737.9 1470.3 735.2 1470.7 736.8 1471.1 732.7 1471.6 740 1472 737.6 1472.5 742.9 1472.9 733.9 1473.4 743.2 1473.8 739.8 1474.2 737.1 1474.7 739.9 1475.1 734.6 1475.6 734.3 1476.5 732.4 1476.9 738.5 1478.2 742.5 1478.7 737.8 1479.1 736.5 1479.6 742 1480 741.2 1480.9 742.7 1481.8 741.6 1482.2 737.3 1483.5 739.1 1484 740.1 1484.4 742.8 1484.9 742.8 1485.3 738.8 1485.7 738.8 1486.2 735.6 1486.6 743.6 1487.1 741.4 1487.5 736.7 1488 739.1 1488.4 743.1 1488.8 736.5 1489.3 739.4 1490.2 737.7 1490.6 738.8 1491.1 732.6 1491.5 741.6 1491.9 737.2 1492.4 739 1492.8 734.4 1493.3 745.6 1493.7 740.4 1494.2 732.7 1494.6 736.7 1495.5 735.6 1496.8 736 1497.3 739 1497.7 739.3 1498.1 742.4 1498.6 738 1499.5 738.1 1499.9 741.8 1500.3 735 1500.8 739.1 1501.2 739.5 1502.1 737.9 1502.6 735.5 1503 742.9 1503.4 740.5 1504.8 740.6 1505.2 735.9 1506.1 734.2 1506.5 734.7 1507 741 1507.4 741.8 1507.9 743.1 1508.3 734.5 1508.8 738.5 1509.2 742.2 1509.6 743.9 1510.1 737.6 1511 737.4 1511.4 739.9 1512.3 741.5 1512.7 737.2 1513.6 735.5 1514.1 740.5 1514.9 742 1515.4 739.9 1516.7 736.4 1517.6 735.6 1518 741.9 1518.5 735.1 1518.9 736.5 1519.4 742.7 1520.3 743.9 1520.7 743.4 1521.6 742 1522 735.3 1522.5 739.4 1523.4 740.1 1523.8 739.6 1524.7 741.2 1525.6 742.2 1526 731.2 1526.4 740.3 1526.9 740 1527.3 737.4 1528.2 737.5 1528.7 747 1529.1 735.5 1529.5 736.4 1530 738.2 1530.4 737.6 1530.9 744 1531.3 739.8 1532.6 739.8 1534 738.4 1535.3 738.7 1535.7 742.7 1536.2 735.1 1536.6 740 1537.5 738.6 1538 738.8 1539.3 740.7 1540.6 739.5 1541 741.4 1541.5 743.3 1541.9 735.7 1542.8 736.8 1543.3 736.2 1543.7 739.4 1544.1 739.4 1544.6 733.7 1545 743.8 1545.5 737.5 1545.9 740.9 1547.2 739.1 1548.6 737.8 1549.5 739.3 1549.9 739.9 1550.3 737.2 1550.8 737 1551.2 739.4 1551.7 734.6 1552.1 743.2 1552.6 737.7 1553.9 739.3 1554.8 741 1555.2 736.9 1556.1 738.5 1556.5 738.5 1557 736.7 1557.9 735.8 1558.3 736.2 1559.2 737.7 1560.1 736.3 1560.5 735.1 1561.4 733.7 1561.8 740.9 1562.3 739.6 1563.2 738.5 1563.6 737.2 1564.5 737.2 1565.4 737.3 1565.8 733.4 1566.3 737.7 1566.7 737.8 1567.2 740.3 1568 739.5 1568.5 739.5 1568.9 736.1 1569.8 736.5 1570.2 733.9 1570.7 738.9 1571.1 740.6 1571.6 737.7 1572 736.8 1572.5 735.2 1572.9 740.5 1573.3 741.8 1573.8 732.2 1574.2 744.6 1574.7 743.1 1575.1 737 1576.4 739.7 1577.3 739.7 1577.8 740.4 1578.2 745.6 1578.7 738.2 1579.1 736.5 1580 738.2 1580.4 738.6 1581.7 736.5 1583.1 735.5 1584 733.8 1584.4 728.5 1584.8 723 1585.3 722.8 1585.7 710.6 1586.2 707.9 1587.1 706.3 1587.5 720.1 1587.9 721 1588.4 731.4 1589.7 735.2 1591 736.6 1592.4 738.3 1593.7 738.5 1594.6 739.8 1595 740.7 1595.5 738.8 1595.9 737.4 1596.3 744.7 1596.8 732 1597.2 740.3 1597.7 739.2 1598.1 742.9 1598.6 743.9 1599 740.4 1599.9 740.2 1600.3 735.3 1601.7 740 1602.1 733.6 1602.5 737.7 1603 739.2 1604.3 736.5 1604.8 737.9 1605.6 736.9 1606.5 735.7 1607 737.4 1608.3 740.8 1608.7 742.6 1609.2 736.1 1609.6 739.2 1610.5 741.2 1610.9 740.9 1611.4 739.6 1611.8 735.3 1612.3 737.5 1613.6 736.6 1614 739 1614.9 739.1 1615.4 735.9 1616.3 734.6 1616.7 735.7 1617.6 736.8 1618 736.7 1618.5 739.9 1618.9 734.7 1619.4 735.5 1619.8 729.6 1620.2 733.4 1620.7 725.1 1621.1 719.7 1621.6 708.8 1622 695 1622.5 688.6 1622.9 682.8 1623.3 693.6 1623.8 701.2 1624.2 720.2 1624.7 727.3 1625.1 734.9 1625.5 737.7 1626.4 735.8 1626.9 732.6 1627.3 736.1 1627.8 743.5 1628.2 739.3 1629.5 739.8 1630 737.3 1630.4 735 1630.9 740.9 1631.3 735.7 1631.7 743.2 1632.2 740.1 1633.1 738.6 1633.5 733.6 1634 736 1634.8 735 1635.3 735.2 1635.7 743 1636.2 732.6 1636.6 738.4 1637 739.7 1637.5 744.4 1637.9 741.8 1638.4 740 1638.8 733.7 1640.1 739.6 1640.6 734.7 1641 741.7 1641.5 740.6 1642.4 740 1642.8 739.4 1644.1 741 1644.6 739 1645.5 739.9 1645.9 736.8 1646.3 742.4 1646.8 741.2 1647.2 732.9 1647.7 738 1648.1 738.5 1649 740.3 1649.4 742.7 1649.9 743.2 1650.8 741.4 1651.6 741.9 1652.1 740.2 1652.5 736.5 1653.4 737.5 1654.3 737.2 1654.7 737.7 1655.2 740.1 1655.6 743.7 1656.1 737.2 1657 736.8 1657.4 741.9 1658.3 740 1658.7 740.1 1659.2 737.8 1659.6 742.2 1660.1 744.3 1660.5 738.9 1661.4 739.5 1662.3 741.3 1662.7 739.1 1663.2 738.7 1664 738.1 1664.5 739 1664.9 743.8 1665.4 741.4 1665.8 732.7 1666.2 737.4 1666.7 742.5 1667.1 742.2 1667.6 733.8 1668 738.6 1668.9 736.8 1669.3 737.7 1670.2 735.9 1670.7 742 1671.1 739.5 1671.6 739.5 1672 736.9 1672.9 737.9 1673.3 736.6 1674.7 737.2 1675.5 736.6 1676 736.3 1676.4 738.9 1677.3 740.1 1677.8 739.6 1678.2 734 1678.6 737.5 1679.1 732.4 1679.5 741 1680 740.1 1680.4 741.3 1680.8 734.4 1681.3 733 1681.7 739.1 1682.2 736 1682.6 735.4 1683.5 734.4 1683.9 733.5 1684.4 739.9 1685.3 741.1 1686.6 740.1 1687.9 738.3 1688.8 739.9 1689.3 743.9 1689.7 743.3 1690.1 738.2 1690.6 739.9 1691 739.5 1691.5 743.9 1691.9 743.7 1692.3 736.6 1693.2 737.5 1693.7 737.1 1694.1 743.4 1694.6 733.2 1695.9 736.9 1697.2 741.2 1698.5 742.3 1699 738.1 1699.9 738 1701.2 740.7 1702.1 741.8 1702.5 735.9 1703.4 736.6 1703.9 737.5 1704.3 738.6 1705.2 738.4 1705.6 737.8 1706.5 739.6 1707.4 739 1707.8 736.2 1708.3 739 1709.2 740.7 1709.6 733.9 1710.5 732.4 1710.9 729.8 1711.8 730.7 1712.3 733.5 1713.1 732.4 1714.5 731.4 1715.4 731.1 1715.8 737.1 1716.2 741.3 1716.7 739.7 1717.1 735.5 1717.6 732 1718 738.4 1718.5 734.8 1718.9 737.9 1719.3 741.3 1719.8 731.9 1720.2 737.8 1720.7 738.2 1721.1 740.8 1721.5 739.9 1722.4 740.1 1722.9 740.9 1723.3 732.9 1723.8 738.8 1724.6 738.7 1725.1 741.9 1725.5 735.3 1726 731.4 1726.4 744.3 1726.9 738.4 1727.3 737.8 1727.7 743.2 1728.2 741.3 1729.1 739.9 1729.5 741.2 1730.4 739.4 1731.3 740.7 1731.7 740 1733.1 744 1733.5 740.1 1734.4 740.3 1734.8 740.1 1735.3 735.1 1735.7 745.3 1736.6 745.6 1737 737 1738.4 738.7 1738.8 741.1 1739.2 745.4 1739.7 737.9 1740.1 738.2 1740.6 742.1 1741 740.7 1741.5 737.3 1742.3 737.2 1743.2 737.5 1743.7 738.2 1745 742.3 1745.4 735 1745.9 737.3 1746.3 743.3 1746.8 741 1747.2 736.5 1747.6 735.7 1748.1 734.3 1748.5 740.2 1749 738.4 1749.9 738.9 1750.3 747.4 1750.7 742.9 1751.2 734.6 1751.6 739.9 1752.5 739.8 1753 738.3 1753.8 738.1 1754.3 732.9 1755.2 733.7 1755.6 736.4 1756.1 736.9 1756.9 735.5 1757.4 738.6 1757.8 739.3 1758.3 744.8 1758.7 737.1 1759.2 739.9 1759.6 741.1 1760.5 739.7 1760.9 742 1761.4 737.1 1762.2 738.2 1762.7 740 1763.6 740.6 1764.5 739.3 1764.9 737.3 1765.3 735.7 1765.8 735.1 1766.2 741.8 1766.7 737.2 1767.1 736.5 1767.6 743.4 1768.9 735.8 1769.8 737.2 1770.2 739.8 1771.5 736.5 1772.4 736.8 1772.9 732.1 1773.8 733.7 1774.2 736.6 1775.5 729.8 1776 729.7 1776.4 733.1 1776.8 722.3 1777.3 734.1 1777.7 724.6 1778.2 721.4 1778.6 732.3 1779.1 728 1779.5 724.5 1779.9 733.1 1780.4 737.4 1780.8 738.7 1781.3 736.7 1782.2 734.9 1782.6 739.6 1783 738.9 1783.5 737 1783.9 742.6 1784.8 743.4 1785.3 735.2 1785.7 737.1 1786.1 738.4 1786.6 741.2 1787 742.5 1787.5 734.1 1787.9 736 1788.4 736.8 1788.8 738.5 1789.2 736.5 1789.7 735.6 1790.1 743.6 1790.6 741.2 1791.4 741.9 1791.9 738.4 1792.3 734.3 1792.8 733.3 1793.2 741 1793.7 738.9 1794.1 738.8 1795 739.6 1795.4 739.9 1795.9 743.4 1796.3 743.1 1796.8 737.2 1797.2 744.8 1798.1 743.9 1799 742.4 1799.4 734.4 1799.9 742.9 1800.3 737 1800.7 740.5 1801.6 739.3 1802.1 739.5 1802.9 739.7 1803.4 742.3 1804.3 742.8 1804.7 746.4 1805.2 739.7 1806 739.9 1807.4 735.6 1807.8 739.5 1808.3 746.4 1808.7 737.2 1809.6 738.2 1810 740.7 1810.5 742 1810.9 737.5 1811.4 737.4 1812.7 742.5 1813.6 743.7 1814 740.2 1814.5 739.2 1815.3 738.3 1815.8 739 1816.7 739.9 1817.1 736.2 1817.5 735.1 1818 742.1 1818.4 735.7 1818.9 744.7 1819.3 740.1 1819.8 737.7 1820.2 736.8 1820.6 743.6 1821.1 738.9 1821.5 739.9 1822 733.1 1822.4 739.8 1822.9 736.2 1823.3 732.3 1823.7 738.6 1824.2 738.9 1824.6 735.5 1825.5 735.7 1826 736.5 1826.4 740.2 1827.3 740.2 1827.7 738.5 1828.6 736.8 1829.5 736.1 1829.9 738.8 1830.4 739.5 1831.3 739 1832.6 736.7 1833.5 735.6 1833.9 743.6 1834.4 736.4 1834.8 737.2 1835.2 739.5 1836.1 739.7 1836.6 739.3 1837 743.5 1837.5 741.6 1837.9 731.8 1838.3 740.5 1838.8 736.2 1839.2 736.3 1839.7 736.7 1840.6 738 1841 739.3 1841.4 742.1 1841.9 745 1842.3 738.1 1842.8 739.8 1843.2 740.1 1844.1 738.7 1844.5 735.8 1845.9 736.2 1846.3 737.6 1847.2 737.2 1847.6 738.1 1848.1 742.1 1848.5 741.6 1849 736.3 1849.4 733.7 1849.8 747.1 1850.3 738.7 1851.2 739.1 1852.1 740.7 1852.5 739.1 1853.8 736.5 1854.3 740.2 1855.2 741 1855.6 741 1856.5 740.3 1856.9 739.4 1857.4 742.6 1857.8 744.4 1858.2 738.1 1859.1 739.2 1859.6 739.1 1860.5 740.6 1861.3 741.3 1861.8 735.4 1862.2 740.1 1863.1 738.6 1864 737.4 1864.4 738.1 1864.9 741.6 1865.8 741.4 1866.2 737.1 1866.7 732.2 1867.1 743.6 1867.5 744.3 1868 739.6 1868.4 736.1 1868.9 733.8 1869.3 740.2 1869.8 743.9 1870.2 734.6 1870.6 739.1 1871.1 744 1871.5 741.7 1872 738.6 1872.4 745.6 1872.8 735.2 1873.3 740.8 1873.7 742.5 1874.2 735 1874.6 737.7 1875.1 737.9 1875.9 739 1876.4 738.9 1876.8 737.5 1877.3 747.2 1877.7 745.5 1878.2 736.5 1878.6 736.9 1879 741.1 1879.9 740.4 1880.4 737 1880.8 733.7 1881.3 739.8 1881.7 736.4 1882.1 747.4 1882.6 739.9 1883 740.2 1883.5 740.7 1884.4 740 1885.2 739.4 1885.7 740.9 1886.1 739.5 1887 741.2 1887.9 742.4 1888.3 739.7 1889.7 737.4 1891 741.1 1891.4 742.2 1891.9 736.9 1892.3 738.1 1892.8 736.9 1893.6 737 1894.5 738.7 1895 736.6 1896.3 742.7 1896.7 736.6 1897.2 740.5 1897.6 746.3 1898.1 742.2 1899 742.3 1899.8 741 1900.3 740.6 1901.6 741.7 1902 737.6 1902.9 736.3 1903.4 741 1904.3 739.1 1905.1 740.1 1905.6 746.3 1906 737.8 1906.5 742.8 1906.9 743.7 1907.4 736 1907.8 739 1908.2 740.2 1908.7 736.9 1909.6 738.8 1910.5 737.8 1910.9 742.9 1911.3 741.2 1912.2 740.4 1912.7 734.3 1913.5 735.4 1914 740.1 1914.4 744 1914.9 738 1915.8 736.6 1916.2 740.1 1916.6 735.5 1917.1 736.8 1917.5 741.5 1918.4 739.8 1918.9 739.4 1919.7 741.2 1920.2 730.6 1920.6 740.1 1921.5 738.4 1922 738.4 1922.8 738 1924.2 740.7 1924.6 742.2 1925.5 742.5 1925.9 740.7 1926.4 740.3 1926.8 743.4 1927.3 740.8 1928.1 741.4 1928.6 742.9 1929 738.4 1929.5 738.7 1930.8 737.1 1931.2 741.8 1931.7 742.8 1932.1 735.6 1932.6 739.1 1933 738.6 1933.5 741.7 1933.9 742.7" fill="none" stroke="#0000ff" stroke-width="3.5" stroke-linejoin="round"/>
<path d="M164.3 994.6 L165.6 995 167 993.3 167.4 992.4 167.8 995.4 168.3 995.5 169.2 994 169.6 992.4 170.1 994.8 170.9 993.3 171.8 993.4 172.3 992 173.6 996.7 174 993.7 174.9 992.9 176.2 994 176.7 993.8 177.1 996.8 177.6 991 178 992.8 178.5 994.5 178.9 995.5 180.2 995.2 181.6 995 182.9 993.3 184.2 996.4 185.5 993.4 186.9 995.9 188.2 995.6 189.5 993.3 190 995.5 190.8 997 191.3 993.1 191.7 993.4 192.2 995.3 193.5 995.7 194.8 996.4 195.3 994.6 196.2 994.5 197.5 996.4 198.8 996.2 200.1 995.1 200.6 994.4 201.5 993.7 201.9 993 202.8 994.7 203.7 996.1 204.1 996.2 204.6 993.8 205 993.3 205.4 996.3 206.8 994.6 207.2 996.4 208.1 996.2 209.4 995.8 210.8 996.5 212.1 994.5 213.4 996.2 213.8 995.4 214.7 995.3 215.6 995 216.1 996.8 216.5 993.8 217.4 991.9 218.7 991.2 220 986.9 221.4 985.8 221.8 981.2 222.3 981.7 222.7 985.2 223.6 983.8 224 987.3 225.4 988.1 225.8 989.6 226.2 990.9 226.7 992.4 228 992.6 228.4 993 229.3 993.6 229.8 995 230.7 995.3 231.5 995.3 232 992.7 232.4 995.4 233.3 994.6 233.8 995.4 234.6 996.3 235.1 994.1 235.5 993.9 236 996.7 236.4 996.6 237.3 995.5 238.6 997.1 239.1 999.4 239.5 994.9 240 993.3 240.4 995.8 241.3 994.4 241.7 994.5 242.6 996.1 243.5 995.4 243.9 1000 244.4 997.5 244.8 997.5 245.3 994.3 245.7 996.9 246.6 995.9 247.9 998.1 248.8 997.8 249.2 993.7 250.6 996.5 251.9 997 253.2 997.8 254.5 997.6 255.9 996.1 257.2 998.5 257.6 997.3 258.1 992.7 258.5 995.2 259.4 996.2 259.9 997.7 260.3 996.8 260.7 994.1 261.2 993.5 261.6 996.7 262.5 998 263.8 998.9 265.2 996.1 265.6 997.4 266.1 999.4 266.5 995.2 267.4 996.2 267.8 998.6 268.3 997 269.1 997.8 270.5 995 270.9 994.2 271.8 996.2 272.2 998.1 273.1 998.3 274.5 996.2 274.9 997.6 275.8 996.7 277.1 997.9 278.4 998.9 278.9 999.2 279.3 996 279.8 997.1 280.2 997.3 281.1 996 281.5 999.3 282.4 997.5 283.3 998.8 283.7 995.7 284.6 996.6 285.1 996.9 286.4 996.2 287.7 999.2 288.2 999.5 288.6 996.4 289.1 995.5 289.5 995.6 290.4 995.6 291.3 997.5 291.7 999.8 292.2 997.7 293 998.7 293.5 995.2 293.9 996.1 294.4 999.1 295.7 998.4 296.6 997.4 297 1000.4 298.3 997.8 299.7 996.7 300.6 998.4 301 1001.4 301.4 997.1 302.3 998.6 303.2 997.6 303.7 996.9 304.1 998.8 305 997.4 306.3 998 307.2 997.1 307.6 999.1 309 998 310.3 997 310.7 997.7 311.2 999.7 311.6 1000 312.9 996.9 313.4 998 314.3 998.4 315.6 1000.6 316 997.9 316.9 998.6 317.8 997.9 318.3 1001.4 319.6 996 320.5 996.1 320.9 1000.6 322.2 997.3 323.6 997.6 324.4 996 324.9 995.6 325.3 1001.6 325.8 998.8 326.2 999.4 327.5 998.7 328.4 996.9 328.9 994.9 329.3 997.8 330.2 997.8 330.6 996.1 331.1 1001.1 331.5 1000.4 332.9 999.7 333.7 1000.7 334.2 999.9 335.1 1000.6 335.5 996.1 336 998.8 336.4 1001.3 336.8 1000.9 338.2 998.1 339.5 1001.1 340.8 1000.8 342.1 1001.5 343 999.7 343.5 998.3 343.9 997.6 344.4 1000.6 344.8 1000.6 345.7 999.5 346.1 997.2 347.5 1000.2 348.8 998.3 349.7 996.9 350.1 1002 351.4 1000 352.8 999.5 354.1 997.6 354.5 999.8 355 1001.2 355.4 997.6 356.7 997.6 357.2 997.2 358.1 998.5 358.5 999 359 993 359.4 996.6 360.7 997.5 362.1 998.6 363.4 998 363.8 1000.6 364.7 999.6 365.1 999.2 365.6 1001.7 366 996.8 367.4 999.1 368.2 999.5 368.7 1001.8 369.1 998.7 369.6 999.7 370 1001.7 371.3 999.9 372.7 999.5 373.1 998.2 374 999.4 375.3 1001.8 376.2 1000.3 376.7 999.7 378 999.9 378.9 999.3 379.3 1001.2 380.6 1000.4 381.5 1000.9 382 997.1 382.4 999.8 382.8 1000.9 383.3 1002.6 384.6 1002.4 385.1 1000.7 385.9 1000.1 387.3 1001.1 388.6 1000.1 389.9 1000.9 390.4 999.8 391.3 1000.6 391.7 1000.2 392.6 1001.5 393.9 998.7 394.3 999.7 395.2 1001.5 395.7 999.5 396.6 1000.9 397.9 999 399.2 1001 400.5 1000.4 401 1000.3 401.4 1002.9 401.9 1002.3 402.3 1000.6 403.2 999.3 404.1 1000.6 404.5 999.5 405 999.6 405.9 1000.7 406.3 999.3 407.2 1001.1 407.6 998.5 408.1 998.7 408.5 1001 409.4 999.9 409.8 1003.3 410.7 1003.3 411.2 1001.3 411.6 1001 412 998.9 412.5 998.8 412.9 1000.8 413.8 1002.1 415.1 1001.6 416 1002.6 416.5 999 416.9 1003.6 417.4 1001.6 417.8 998.6 418.2 1001.1 419.1 999.8 420.4 1002.9 420.9 1001 421.8 1001.4 423.1 999.9 424.4 998.3 424.9 999.4 425.3 1000.8 425.8 1002.3 426.2 1002 427.1 1002.2 428 1001 428.4 1000.9 429.7 1002.3 430.6 1000.5 431.1 1002 431.5 999.9 432.4 1000.8 433.7 999.2 434.2 1002.9 435 1001.8 435.9 1001 436.4 1000.2 437.7 1000.3 438.6 998.9 439 999.3 440.4 1002.4 440.8 1001.4 441.7 1002.4 443 1000.4 444.3 999.2 444.8 1002.3 445.2 1001.3 445.7 995.9 446.1 1000.7 447 998.9 447.9 1000.2 448.3 997.8 448.8 1001.1 449.6 999.7 450.5 1000.8 451 1002.4 451.4 1001.4 452.3 1000.2 453.6 1001.3 455 1001.9 456.3 1001 457.6 1000.3 458.9 1001.2 459.4 1000.6 460.3 1000.8 461.6 1000.3 462.5 999.9 462.9 998.5 464.2 1001.2 465.6 1002.6 466 1000.4 466.5 1000.4 466.9 998.1 468.2 1001.9 469.6 1001 470.4 1002 470.9 999 471.8 1000.5 472.2 999.7 472.7 1000 473.5 998.3 474.9 1000.7 476.2 1000.3 477.5 1000.7 478.8 1000.6 480.2 1000.1 481.5 999.3 481.9 1000.6 482.8 999.5 483.3 1000.4 484.2 1002.2 484.6 997.7 485.5 999.6 486.4 998.5 486.8 999.6 487.3 998.7 488.1 999.5 488.6 996.6 489 997.3 489.5 994 490.8 994.3 491.2 992.6 491.7 990.2 492.1 986.2 493 985.5 493.4 979.6 494.8 978.1 496.1 981.4 497.4 985.4 497.9 986.7 498.3 989.3 498.8 990.6 499.2 994 500.1 995.9 501.4 998.6 502.3 1000.5 502.7 999.8 504.1 997.9 504.5 999.4 504.9 1001.5 505.4 1003.1 505.8 1000.8 506.7 1001 507.2 1000 508 1001.6 509.4 1001 510.7 1002.1 512 1000.1 513.4 999.5 514.2 998.8 514.7 1000.3 516 1000.2 516.9 1000.7 517.3 997.9 517.8 999.9 518.2 1003.9 518.7 1002.2 519.5 1001 520 1002.2 521.3 1001 522.6 999.1 523.1 1000.7 524 1000 525.3 1000.9 526.6 1001 527.5 1002.2 528 998.1 528.4 1001.2 529.3 1000.1 529.7 999 530.2 1004.1 530.6 1001.8 531.5 1001.5 531.9 998.4 532.4 1000.6 533.3 1000.7 534.1 1000.2 534.6 1003.2 535.9 1001.6 536.8 1001.5 537.2 999.8 538.1 1000.8 538.6 1000.6 539.5 999.9 539.9 1000.4 540.3 1000 541.2 998.7 541.7 998.6 542.6 1000.1 543.9 997.7 544.3 999.5 545.2 998.7 546.5 998.7 547.9 1001.2 548.3 998.8 549.2 997 550.5 999.9 551 999.5 551.8 998.1 552.3 998.1 552.7 993.5 553.2 994.9 554.5 998.3 555.8 996.6 556.7 996.1 557.2 996.1 557.6 993.5 558 993.1 558.5 990.9 558.9 986.8 559.4 984.1 559.8 979.8 560.2 967.2 560.7 958.2 561.1 942.6 561.6 925.5 562 904.6 562.5 882.9 562.9 862.6 563.3 844.5 563.8 835.9 564.2 832.4 564.7 846.6 565.1 861.6 565.6 882.5 566 906.8 566.4 926.7 566.9 944.2 567.3 958.6 567.8 969.2 568.2 975.8 568.7 984 569.1 987.9 569.5 991 570 991.8 570.4 993.2 570.9 993.4 571.8 994.9 573.1 995.6 574.4 997.7 575.7 998.3 577.1 997.6 578.4 998.3 579.7 1001.1 580.6 999.3 581 1003.2 581.5 1002 581.9 997.1 582.4 998.1 582.8 998.7 583.7 998.7 585 1002.2 586.3 1000.3 587.7 1001.8 588.6 1000.6 589 1002.3 589.9 1000.7 590.3 1001.6 591.7 999.3 592.1 1001.6 593 999.8 593.9 1000.8 594.3 1002.5 594.8 998.9 595.6 997 596.1 1000.8 597 1000.2 598.3 1002.2 599.6 1000.9 600.5 1002.2 600.9 1002.6 602.3 1000.8 603.2 1000.4 603.6 997.7 604 1002 604.9 1001.5 605.8 1001.1 606.3 999.3 607.1 1000.5 607.6 999.3 608.5 1001.1 608.9 997 609.4 1002 610.2 1000.5 611.6 1002.2 612.9 1000.3 613.3 1003.6 613.8 1005.3 614.2 1001.5 615.5 1003.2 616.9 1000.5 618.2 1002.2 619.5 1003 620.9 1000.9 621.7 1001.1 622.2 1001.2 622.6 1001.2 623.5 999.2 624 1000.5 624.8 1000.8 626.2 1001.6 626.6 1000.8 627.5 1001.7 628.4 1001.7 628.8 1003.9 630.1 1000.3 631.5 1001.3 632.4 1001.4 632.8 1001.7 634.1 1002.1 635.5 1001.4 636.3 1000.6 636.8 1003 637.7 1002.4 638.1 1001.9 638.6 998.4 639.4 999.7 640.8 1001.4 641.2 1000 642.1 1000.8 643.4 999.1 644.3 1000 644.7 1000.8 645.2 997.8 645.6 994.6 646.1 993.3 646.5 993.4 647 989.2 647.4 987.2 647.8 982.4 648.3 979.9 648.7 972.9 649.2 970.7 649.6 966.4 650.1 961.9 650.5 954.2 650.9 957.3 651.4 957.2 651.8 960.6 652.3 964.9 652.7 970.4 653.2 975.4 653.6 980.1 654 984.2 654.5 987.1 654.9 992.8 655.4 993.4 655.8 994.8 656.2 998 656.7 998.4 658 996.4 658.5 997.8 658.9 999.2 659.3 1000.3 660.7 999.5 661.1 1000.7 662 999.4 663.3 1000.6 664.7 1000.5 666 1001.3 666.4 999.1 667.3 1000.7 668.2 1002.1 668.6 1000.6 670 1000.3 671.3 1000 671.7 1000.2 672.6 1001.3 673.9 1001 675.3 1001.7 676.6 1001.1 677.5 1000.5 677.9 999.4 679.3 1001.6 680.6 1002.7 681.5 1001 681.9 1002.1 683.2 1001.9 684.6 1000 685 1001.1 685.9 1002.3 687.2 998.9 687.7 1001.3 688.5 1001.2 689 1000.8 689.4 1003.3 689.9 1003.4 690.3 1001.5 691.2 1002.5 691.6 1004.2 692.5 1004.9 693.4 1003.1 693.9 1002.9 694.3 1002.7 695.2 1002.7 696.1 1001.5 696.5 1001.4 697.8 1000.4 698.3 998.8 698.7 1004.1 699.2 1001.9 700.5 1001.5 701.8 1003.2 702.7 1001.3 703.1 1002.2 704.5 1001.8 705.4 1000.8 705.8 1003.5 706.2 1001.5 706.7 1001 707.1 999.1 708 1000.1 708.5 1002.4 709.8 1004.6 710.2 1001.8 711.1 1001.9 712.4 1001.8 712.9 1002.5 713.3 999.1 713.8 999.5 714.2 1002.7 715.1 1001.2 716.4 1000.8 717.3 999.9 717.7 1003.5 719.1 999.3 719.5 1002.4 720.4 1001.1 721.3 1002 721.7 1005.2 722.2 1001.2 723.1 1000 723.5 1001.4 724.4 1000.4 725.7 1001.9 727 1001.8 728.4 1002.4 728.8 998.3 729.2 1000 729.7 1001.4 730.6 1000.3 731 999.6 731.5 1003.9 732.3 1002.4 733.7 1002 734.6 1001.5 735 1003 735.4 999.1 735.9 1000.6 736.3 1001.6 737.7 1001.8 738.1 1002 739 1000.3 740.3 1003.1 741.6 1002.2 742.5 1001 743 1001.9 743.4 1002.3 743.8 999.9 744.3 999.1 744.7 1002.7 745.6 1002.6 746.9 1001.1 748.3 1000.8 748.7 1003.3 749.6 1001.4 750.9 1002.8 752.2 1003.9 752.7 999.8 753.6 1000.6 754.5 1001.9 754.9 1000.3 756.2 1003 756.7 1000.2 757.6 1001.9 758.9 1001.5 759.3 1000.6 759.8 999.1 760.2 998.1 760.7 1001.4 761.5 1002 762.9 1000.7 763.3 1002.4 763.8 996.5 764.2 998.6 764.6 1001.8 765.5 999.9 766 1000.3 766.8 1001.6 767.3 1001.2 768.2 1002.4 769.5 1001.6 769.9 998.4 770.8 998.5 771.3 999.3 771.7 1001.7 772.2 1002.4 772.6 1001 773.5 999.5 774.4 1000.5 774.8 999.2 776.1 999.6 777.5 1000.8 778.8 1000 780.1 1000.1 781 999.4 781.4 1001.3 781.9 1002.2 782.3 997.1 782.8 999.3 784.1 999 785.4 995.4 786.8 998.9 787.2 996.4 787.6 994 788.1 990.8 789.4 986.8 789.9 985.3 790.3 977.9 790.7 972.6 791.2 962.3 791.6 951.7 792.1 936 792.5 914 793 893.6 793.4 870.1 793.8 843.2 794.3 820.2 794.7 797.8 795.2 785.5 795.6 786.9 796 797.2 796.5 820.8 796.9 842.8 797.4 869.8 797.8 895.8 798.3 916.5 798.7 932.4 799.1 947.7 799.6 964.4 800 973.7 800.5 977.5 800.9 984.6 801.4 988.1 802.2 989.5 802.7 994.4 804 993.1 804.5 994.5 805.3 995.2 805.8 994.8 806.2 997.3 806.7 997.5 807.5 998.8 808 999.4 808.4 999 809.3 998.2 810.2 999.2 810.6 997.4 812 996.8 813.3 999.5 814.6 1001.5 815.1 998.5 815.5 998.9 816 1001.9 816.8 1000.3 817.3 998.9 817.7 999.4 818.2 1001.6 818.6 1003.2 819.1 999.6 819.9 999.2 821.3 1001.4 822.6 1001.6 823.5 1000.4 823.9 999.9 825.2 1002.7 825.7 1002.7 826.1 999 826.6 998.2 827 1002.8 827.5 1000.4 827.9 1000.3 829.2 1001.1 830.6 1000.8 831.9 1000.2 832.8 1001.7 833.2 1000.9 834.5 1002.3 835 1001.9 835.9 1002.8 836.3 1002.5 836.7 1000.5 837.2 1004.7 837.6 999.1 838.5 1000.5 839.8 1002.4 840.3 1002 841.2 1002.3 841.6 999.6 842.5 1000.6 843.8 999.4 845.2 996.9 846.5 998.2 847.8 996.9 848.7 995.3 849.1 994 850.5 992 851.8 993.9 852.2 989.6 853.1 990.6 854 988.8 854.4 992 855.3 993.5 855.8 994.9 856.2 993.6 856.7 997.5 857.1 999.4 858.4 996.7 858.9 996.9 859.3 1000 859.8 1000.4 860.6 1000.8 861.1 1002.2 861.5 999.4 862.4 1001 863.7 1001.8 865.1 1000.7 866.4 1001.1 866.8 1001 867.3 998.9 867.7 998.4 868.2 1000.4 869 1000.7 870.4 1000.6 871.3 1001.2 871.7 1002.4 872.1 1000.9 873 1000.1 873.9 1001.5 874.4 1002.8 874.8 997.3 875.2 1000.2 875.7 1000.3 876.6 1000.3 877 1002.1 877.9 1000.6 878.3 1001.1 879.7 1000.1 881 1000.2 882.3 1002.7 883.6 1000.2 885 999.5 885.9 997.9 886.3 999.7 887.2 1000.5 887.6 1001.8 889 1000.3 889.4 1002.2 889.8 997.4 890.3 997.2 891.6 998.2 892 997.3 892.5 994.5 892.9 993.2 893.8 991.4 894.3 988.4 894.7 987.6 895.1 983.7 895.6 983.4 896.5 983.1 896.9 980.5 897.4 981.9 897.8 983.5 898.2 987 898.7 989.5 899.6 991 900.5 992.4 900.9 998.5 901.8 997.5 902.2 1000.8 903.1 999.1 903.6 1003.7 904 1000.5 904.9 1001.3 906.2 1000.3 907.5 1001.3 908.9 1001.2 910.2 1001 911.5 998.7 912.4 998.8 912.8 999.9 913.7 1001.4 914.2 1000.1 915.1 1002 915.5 1000.6 916.8 1001.2 917.7 1002.3 918.1 999.5 918.6 1001.9 919.5 1002.3 920.8 999.3 922.1 1001.7 923.5 1002.4 924.8 1002.6 926.1 1000.5 926.6 1000.9 927.4 1001.5 928.8 1002.4 930.1 1003.3 930.5 1001.7 931.4 1002.4 932.7 1001.1 933.2 1001.9 934.1 1001.5 934.5 1005.1 935 1005 935.4 1001.9 936.7 1000.8 937.2 1000.5 937.6 1003.5 938.1 1003.1 938.5 1001.1 939.4 1000 939.8 999.6 940.3 1003 940.7 1002.3 941.2 1001.5 942 1000.4 943.4 1001.8 943.8 1000.8 944.7 1002.4 945.1 1000.5 946 1001.2 947.3 1001 947.8 1001.4 948.2 1003.1 948.7 999 949.1 1001.8 950 1002.3 950.9 1002.1 951.3 1004.1 951.8 1000.2 952.2 1000.7 952.7 1002.5 953.5 1001.2 954 1004.1 955.3 999.6 956.2 1001.4 956.6 1002.6 958 1001.5 958.9 1001.9 959.3 999.9 959.7 1003.3 960.6 1003.5 961.9 1002.7 962.8 1001.8 963.3 1000.3 963.7 1002 964.6 1000.1 965 1001.2 965.9 1000.6 967.3 1003 968.6 1001.3 969 999.9 969.9 998.5 971.2 1000.1 972.6 999 973.4 999.1 973.9 998.7 975.2 1001.5 975.7 998.5 976.5 998.9 977.4 1000 977.9 999.8 978.3 995.8 979.2 994.4 979.6 991.3 980.1 991.7 980.5 983.9 981 980.1 981.4 974.8 981.9 964.4 982.3 955 982.7 940.6 983.2 929.5 983.6 917.5 984.1 904.4 984.5 897.4 985.4 898.3 985.8 906.6 986.3 916.8 986.7 927.4 987.2 942.6 987.6 956.3 988 964.7 988.5 972.7 988.9 980.1 989.4 986.3 989.8 987.2 990.3 994.4 990.7 993.6 991.1 998.3 991.6 995.4 992 995.7 992.5 998.1 993.8 999.2 995.1 1001.2 996.5 999.3 997.8 1000 998.7 998.4 999.1 1002.2 1000 1001.7 1000.4 1004.3 1000.9 997.9 1001.3 1001.6 1001.8 1001.3 1002.6 1000.3 1003.1 1000.4 1004 1002.3 1004.4 1004.1 1004.9 1000.2 1005.7 1001.7 1006.2 1000.4 1006.6 998.5 1007.1 1002.8 1008.4 999.5 1008.8 1002.9 1009.3 1003.4 1009.7 1000.8 1011.1 1001.5 1011.9 1001.1 1012.4 1002.9 1013.3 1003.3 1013.7 999.4 1014.2 1000.3 1015 1001.4 1016.4 1004 1017.2 1002.8 1017.7 1001.2 1018.6 999.6 1019 1003 1020.3 1002.1 1021.7 1001.3 1022.6 1002.7 1023 999.6 1023.4 1000 1024.3 999.6 1025.7 999.8 1027 1000.1 1027.4 1000.8 1027.9 1002.2 1028.3 998.5 1028.7 1001 1029.2 1001.4 1029.6 999 1030.1 1003.4 1030.5 1001.9 1031 1001.4 1032.3 1001.3 1033.6 1002.3 1034.1 1002 1034.9 1002.6 1035.4 1003.9 1036.3 1004.4 1037.2 1003.3 1037.6 1001.5 1038.9 1002.7 1039.4 1000.9 1040.3 1002.7 1040.7 1003.8 1041.1 999.8 1041.6 1001.7 1042.9 1001.2 1043.3 1003.2 1044.2 1002.4 1045.6 1000.4 1046.9 1002.1 1047.8 1002.4 1048.2 1001.3 1049.5 1003.8 1050 1001.2 1050.4 999.3 1050.9 1003.2 1051.3 1002.9 1052.2 1003.2 1052.6 1003.2 1053.1 999.8 1053.5 1000.2 1054 999.7 1054.9 998.8 1055.3 1000 1055.7 1002 1056.2 1003.2 1057.5 1002.3 1058.4 1002 1058.8 1000.9 1060.2 1002 1060.6 1001.2 1061.5 1000.7 1061.9 1001.4 1062.4 998.5 1062.8 998.6 1063.7 999.5 1064.1 997.2 1064.6 996 1065 995 1065.5 992.4 1065.9 990.2 1066.4 985.9 1066.8 985.6 1067.2 985.8 1067.7 979.9 1068.1 978 1069 978.1 1069.5 980.8 1070.3 981.7 1070.8 981.8 1071.2 984.8 1071.7 987.5 1072.1 990.8 1072.5 993.8 1073.4 995.1 1074.8 998.3 1075.6 999.8 1076.1 1001 1077 999.8 1077.4 1001.8 1078.7 1000.3 1080.1 1000.4 1080.5 1001.4 1081 1002.8 1081.4 999.2 1082.7 1002.5 1084 1002.4 1085.4 1003.3 1086.3 1001.9 1086.7 1000.6 1087.6 1002.4 1088 1003.3 1089.4 1001 1090.7 1002.8 1091.6 1003.2 1092 1004.5 1092.5 1001.5 1092.9 1000 1093.3 1003.9 1094.2 1002.2 1094.7 1003 1095.6 1001.1 1096 1002.3 1096.4 1001 1097.3 1000 1098.6 1002.1 1099.5 1002.7 1100 1003.6 1100.9 1001.8 1101.3 998.6 1102.6 1003.5 1103.1 1000.4 1104 999.6 1105.3 1002.1 1106.2 1003.1 1106.6 1004.2 1107.1 1002.1 1107.5 1000.5 1107.9 1000 1108.4 1000.8 1109.3 1001 1109.7 999.6 1110.2 1005.9 1110.6 1004.4 1111 1004.2 1111.9 1003.2 1112.8 1001.3 1113.2 1002.9 1114.6 1000 1115.9 1002.2 1117.2 1001.1 1117.7 1000.8 1118.6 1002.2 1119.9 1001.9 1121.2 1001.6 1122.1 1001 1122.5 1002.7 1123.4 1001.8 1123.9 1005.5 1124.3 1003.3 1125.2 1003.9 1125.6 1003.2 1126.1 1001.3 1126.5 1006.4 1127 1003.5 1127.8 1003.7 1128.7 1001.8 1129.2 1003.2 1130.5 1001.3 1130.9 1001.3 1131.8 1001.4 1132.7 1003 1133.2 999.8 1134 1001 1134.5 1004.1 1135.4 1003.3 1135.8 1003.9 1136.3 1002.4 1137.1 1002.2 1138.5 1003.1 1138.9 1000.9 1139.8 1001.2 1141.1 1002.2 1141.6 1000.9 1142.4 1002.1 1142.9 1003.8 1143.8 1005.1 1144.2 1001.5 1145.1 1001.4 1146.4 999.7 1146.9 995.3 1147.8 995.4 1148.6 995.4 1149.1 993.3 1150.4 991.9 1151.7 990.1 1152.2 992.4 1152.6 996.1 1153.1 995.8 1154.4 998.5 1155.3 1000.4 1155.7 1000.6 1156.2 1001.1 1157 1000.5 1157.9 1001.6 1158.4 1000.5 1158.8 1001.1 1159.7 1000.8 1161 1000.8 1161.9 1001.8 1162.4 1003.2 1163.7 1000.5 1164.1 1003.7 1165 1002.4 1165.5 1002.7 1166.3 1004.2 1167.2 1003 1167.7 1005.2 1168.1 1002.7 1169 1002.8 1169.9 1001.2 1170.3 1003.9 1170.8 1001 1171.6 1000.1 1173 1001.9 1174.3 1001.1 1174.7 1001.7 1175.6 1003.6 1176.5 1003 1177 999.7 1177.4 1001.9 1178.3 1002.6 1178.7 1003 1179.6 1002.8 1180.5 1002.6 1180.9 1004.7 1181.4 1003 1181.8 1002.1 1182.3 1000.9 1183.1 999.3 1183.6 1001 1184.5 1001.9 1184.9 1001 1185.8 1000.6 1186.2 1005.1 1187.1 1003.3 1187.6 1001.2 1188.9 1001.7 1190.2 998.3 1191.6 1002.7 1192.4 1003.5 1192.9 1000.1 1193.3 1003.7 1193.8 1005.1 1194.2 1001.4 1195.5 1001.3 1196.9 1002.7 1197.3 1002.1 1198.2 1002.2 1199.5 1002.6 1200.4 1002.7 1200.8 999.5 1201.3 1001.3 1202.2 1002.6 1203.5 1001.2 1204.8 1001.5 1205.3 1001.8 1205.7 998.8 1206.2 999.4 1206.6 1001.9 1207 1001.5 1207.5 1004.8 1207.9 1005.1 1208.4 997.5 1208.8 1001 1210.1 1004.1 1210.6 1003.8 1211.5 1003.7 1211.9 1001.9 1212.8 1002.1 1213.7 1003.1 1214.1 1001.3 1214.6 1004 1215.4 1003.8 1215.9 998.9 1216.8 1000.7 1217.2 1000.5 1218.1 1000.5 1219.4 1003.9 1219.9 998.8 1220.8 999 1222.1 997.2 1223.4 994.7 1224.7 988.6 1225.6 989.7 1226.1 990 1227.4 988.9 1227.8 992 1228.7 993.9 1229.2 992.9 1229.6 996.8 1230 997.1 1230.5 1001.8 1230.9 1000.7 1231.4 998.5 1231.8 998 1232.7 999.4 1233.1 1002.1 1234 1003.6 1234.9 1003.4 1235.4 1001.7 1236.2 1002.1 1236.7 1004.3 1237.1 1001.3 1238 1003.2 1239.3 1002.1 1240.7 1002.7 1242 1001.7 1242.4 999.7 1243.3 1000.6 1244.6 1001.3 1246 1001.8 1246.4 1000.7 1247.3 1002.1 1248.6 1002.5 1249.9 1001.9 1250.8 1000.5 1251.3 1004.8 1252.6 1001.2 1253.9 1001.3 1254.4 1002.1 1255.3 1000.9 1255.7 1002.5 1256.6 1002.2 1257.5 1003.6 1257.9 1002.9 1259.2 1000.4 1260.1 1000.5 1260.6 1000.4 1261 1002.4 1261.9 1001.3 1263.2 1003.3 1264.1 1002.2 1264.5 999 1265 1003.6 1265.9 1002.5 1267.2 1001.5 1268.5 1001.8 1269.9 1004.1 1271.2 1000.8 1272.5 1002.3 1273.8 1001.2 1274.3 1002 1275.2 1002.1 1276.5 1004.4 1277.4 1003.1 1277.8 999.8 1279.1 1003 1280.5 1001.8 1281.8 1000.3 1282.2 1004.1 1283.1 1002.2 1284.5 1000.8 1285.8 1002.5 1286.7 1002.4 1287.1 1003.6 1287.6 1001.5 1288.4 1002 1289.8 1000.6 1290.2 1001.6 1291.1 1002.6 1292.4 1002.7 1293.7 1002.6 1294.2 1001 1294.6 1000 1295.1 1003.9 1296.4 1003.7 1297.7 1003.7 1299.1 1000 1299.5 999.4 1299.9 1003.4 1300.4 1003.3 1301.7 1002.4 1302.6 1003.3 1303 1003.2 1303.9 1001.3 1304.4 1000.3 1304.8 1003 1305.2 1004.1 1305.7 1007.5 1306.1 999.4 1306.6 1001.8 1307 1003.9 1307.9 1004.1 1308.3 1000.5 1308.8 1000.6 1309.7 999.4 1311 1002.7 1311.4 1002.1 1312.3 1002.1 1313.2 1003 1313.7 1002 1315 1001.6 1316.3 1003.3 1316.8 1003.5 1317.6 1001.5 1319 1002.4 1320.3 1003.9 1320.7 1004.5 1321.6 1004 1322.1 1002.3 1322.9 1003.7 1324.3 1003.5 1324.7 1002 1325.6 1003.5 1326 1002 1326.9 1002.5 1327.8 1004 1328.3 1004.1 1328.7 1002.1 1329.6 1001.6 1330 1005.2 1330.9 1003.6 1331.8 1004.1 1332.2 1001.9 1333.1 1003.6 1333.6 1004.3 1334.9 1001.1 1335.8 1001.6 1336.2 1002.7 1337.5 1003.5 1338 1002 1338.4 1000.9 1338.9 1005.7 1339.3 1005.8 1339.8 1000.8 1340.2 1001.1 1341.5 1002.6 1342.9 1003 1344.2 1001.9 1344.6 1002.7 1345.5 1002.2 1346.4 1002.9 1346.8 1003.2 1347.7 1002.2 1348.2 1005.4 1349.5 1002.7 1350.8 1003.9 1352.1 1000.1 1352.6 1002.6 1353 1002.9 1353.5 1004.7 1353.9 1002.4 1354.8 1003.4 1356.1 1002 1357.5 1002.6 1358.8 1001.2 1359.2 1004.5 1360.1 1002.5 1361.4 1001.9 1362.8 1003.2 1363.2 1002.9 1364.1 1002.4 1365 1002.9 1365.4 998.2 1365.9 1000.8 1366.7 999.7 1367.2 1002.5 1368.1 1003.2 1368.5 1001.7 1369 1001.1 1369.4 1003.7 1370.3 1004.4 1370.7 1003 1371.6 1003.8 1372.1 1003.4 1372.9 1001.4 1373.4 1000.6 1373.8 1000.5 1374.7 1001.8 1375.6 1000 1376 997.3 1376.5 994.7 1377.4 992.8 1377.8 988.8 1378.2 985.5 1378.7 984.2 1379.1 979.9 1379.6 979.7 1380 973.4 1380.9 972.3 1381.3 976 1382.2 975.9 1382.7 980.2 1383.1 982.6 1383.6 988.3 1384 990.5 1384.4 992.4 1385.3 992.3 1385.8 995.5 1386.2 997.7 1386.7 997.8 1387.1 1001.1 1388 1000 1388.9 1001.5 1389.3 1004.1 1389.7 1001.3 1390.6 1002.5 1391.1 999.9 1391.5 1000.3 1392 1002.4 1393.3 1001.8 1394.2 1003 1394.6 1005.3 1395.1 1003.1 1395.9 1001.6 1397.3 1001.6 1398.6 1002.7 1399.9 1003.6 1401.3 1003.1 1402.6 1003.7 1403.9 1001.7 1404.3 1002.8 1405.2 1004.3 1405.7 1005.3 1406.6 1003.8 1407.9 1001.4 1409.2 1001.7 1410.5 1001.4 1411 1001.5 1411.9 1000.8 1412.8 1001.5 1413.2 1001.4 1414.1 1000.7 1414.5 1005 1415 999.3 1415.8 999.5 1416.7 998.4 1417.2 996.8 1417.6 994 1418.5 992.9 1418.9 991.4 1419.4 986.4 1419.8 983.1 1420.3 987.5 1421.2 987.1 1421.6 986.2 1422 989.9 1422.5 991.8 1422.9 995 1423.8 996.5 1424.3 997.8 1424.7 998.6 1425.1 999.8 1426 1000.1 1426.5 1000.5 1426.9 1004 1427.4 1002.9 1427.8 1000.8 1429.1 1000.1 1429.6 1003 1430.4 1001.6 1431.3 1002.2 1431.8 1003.6 1432.2 1001.8 1433.1 1001.9 1434 1002.7 1434.4 1003.2 1435.8 1000.7 1436.6 999.5 1437.1 999.5 1438 1001 1438.4 1002.7 1439.7 998.3 1441.1 998.3 1441.5 993 1442.4 994.1 1443.3 992.5 1443.7 991.9 1444.2 989.9 1444.6 994.3 1445 994.5 1446.4 992.1 1446.8 997.4 1447.3 997.1 1447.7 999.7 1449 999.2 1450.4 1000.4 1451.7 1004.2 1452.6 1002.9 1453 1004.5 1453.5 1002.2 1454.3 1001.1 1454.8 1001.7 1455.7 1003.2 1457 1003.8 1457.4 1003.8 1457.9 1001.2 1458.3 1001.3 1459.6 1003.8 1460.1 1001.9 1461 1001.5 1462.3 1004.3 1462.7 1003.5 1463.2 1000.9 1463.6 1001.5 1464.1 1003.1 1465 1003.9 1465.8 1003.6 1466.3 1002.4 1467.6 1001.3 1468.5 1002.5 1468.9 1001.3 1469.8 1001.4 1470.3 1001.5 1470.7 1001.7 1471.1 1003.6 1471.6 1004.4 1472.9 1002.6 1474.2 1002.8 1475.6 1001.9 1476.9 1003.2 1478.2 1002 1479.1 1001.2 1479.6 1004.7 1480.9 1003.8 1482.2 1000.4 1483.5 1002 1484 1000.1 1484.9 1000.2 1485.3 1004.1 1486.2 1003.2 1487.5 1001.6 1488.4 1002.2 1488.8 1001.6 1489.3 1004.2 1489.7 1005.9 1490.2 1001 1491.5 1001.2 1491.9 1001 1492.8 1002.6 1493.7 1000.6 1494.2 1001 1495.5 1003.2 1495.9 1002.2 1496.8 1001.6 1498.1 1003.3 1499.5 1004 1500.3 1002.4 1500.8 1004.9 1501.2 1001.6 1502.1 1003 1502.6 1003.6 1503.4 1004.3 1504.8 1003.3 1506.1 1002.7 1507.4 1003.4 1507.9 1003.1 1508.8 1004.1 1509.6 1003.9 1510.1 1003.4 1511.4 1002.4 1512.7 1004.5 1514.1 1002.1 1515.4 1000.9 1515.8 1002 1516.7 1002.1 1518 1004.4 1518.5 1001.2 1518.9 1001.2 1519.4 1003.3 1519.8 1001.4 1520.7 1001.4 1522 1003.6 1523.4 1005.1 1524.7 1002.5 1526 1004.5 1526.9 1003.5 1527.3 1004 1528.7 1004 1530 1002.2 1531.3 1002.1 1531.8 1000.9 1532.2 1005.3 1532.6 1004.7 1533.1 1003.4 1534 1003 1534.9 1002.4 1535.3 1005.2 1535.7 1004.5 1536.6 1003.7 1537.5 1003.8 1538 1004.1 1538.4 1005.2 1539.3 1005.4 1540.6 1001.6 1541 1003.2 1541.9 1002.7 1543.3 1002.1 1544.6 1003.1 1545 1002.2 1545.9 1002.4 1546.4 1004.9 1547.2 1003.8 1548.1 1004.8 1548.6 1005.8 1549.9 1002.6 1550.3 1002.3 1551.2 1003.6 1552.1 1001.8 1552.6 1002.7 1553.9 1004.5 1554.8 1002.9 1555.2 1005.3 1555.6 1002.8 1556.5 1000.9 1557.9 1002.8 1558.3 1004.1 1559.2 1002.5 1559.6 1001.2 1560.1 1005 1560.5 1005 1561.8 1002.5 1562.3 1002.9 1563.2 1004.1 1564.5 1003.4 1565.4 1002.4 1565.8 1000.7 1567.2 1004.4 1567.6 1001 1568 1001.1 1568.5 1003.1 1569.8 1003 1570.7 1002.8 1571.1 1005.8 1571.6 1003.1 1572.5 1003.3 1573.3 1003.6 1573.8 1004.3 1574.2 1002.1 1575.1 1003.6 1576.4 1001.7 1577.8 1001 1579.1 1002.2 1579.5 1002.7 1580.4 1001.3 1581.7 1000.7 1582.6 1000.3 1583.1 996.6 1584.4 996.1 1585.7 995.9 1586.2 1001.4 1587.1 1000 1588.4 1001.6 1589.7 1004.1 1590.2 1002.7 1591 1002.3 1591.5 1004.5 1591.9 1005.2 1592.4 1002 1593.3 1002 1593.7 1001.4 1594.1 1002.9 1594.6 1003.6 1595 1005.9 1595.5 1001.6 1596.3 999.9 1596.8 1001 1597.2 1003.9 1597.7 1003.8 1598.6 1004.4 1599 1002.8 1599.4 1004 1599.9 1005.2 1600.3 1000.7 1600.8 1000.1 1601.2 1003.6 1601.7 1003.8 1603 1001.2 1603.4 1003.6 1604.3 1004.4 1605.2 1002.5 1605.6 1002.1 1607 1003.2 1607.9 1001.4 1608.3 999.8 1608.7 1004.9 1609.6 1004.3 1610.1 1003.8 1610.9 1003.4 1612.3 1002.2 1613.6 1001.8 1614 1003.9 1614.9 1002.7 1615.8 1002.6 1616.3 1002.1 1616.7 1001.4 1617.6 1002.3 1618.9 1001.5 1619.4 1002 1619.8 998.2 1620.2 998.2 1620.7 996.1 1621.1 992.3 1621.6 984.4 1622 974.7 1622.5 966.5 1622.9 969.3 1623.3 974.1 1623.8 983.3 1624.2 989.3 1624.7 997.9 1625.1 1000.8 1625.5 1002.7 1626.4 1003.9 1626.9 1002.8 1627.8 1002.8 1628.2 1001.9 1629.1 1001.3 1629.5 1000.9 1630 1002.4 1630.9 1002.3 1632.2 1000.7 1632.6 1001.7 1633.5 1001 1634.8 1003.9 1635.7 1002.5 1636.2 1006.1 1636.6 1005.5 1637 1004.1 1637.5 1001.8 1638.4 1000.2 1638.8 1000.4 1639.3 1001.9 1640.1 1003.8 1640.6 1002.6 1641.5 1002.9 1642.8 1004.6 1644.1 1004 1645.5 1003.8 1646.3 1004.4 1646.8 1004.2 1648.1 1001.4 1649 999.8 1649.4 1003.8 1650.3 1002.7 1650.8 1004.3 1652.1 1005.2 1652.5 1001.7 1653.4 1002.8 1653.9 1003.4 1654.7 1005 1656.1 1004 1656.5 1002.2 1657.4 1002.3 1658.7 1002.8 1659.6 1002.3 1660.1 1006 1660.5 1002.3 1661.4 1003.6 1662.7 1000.5 1664 1002.5 1664.5 1004 1665.4 1003.6 1666.2 1002.5 1666.7 1002 1668 1003.6 1669.3 1005.5 1670.7 1003.7 1672 1003.6 1672.9 1003.6 1673.3 1003.2 1674.2 1003.2 1674.7 1003.5 1675.1 1005.9 1675.5 1006.3 1676 1003.6 1677.3 1002.3 1677.8 1002.8 1678.2 1004.7 1678.6 1005.8 1679.1 1002.3 1680 1004 1680.8 1002.4 1681.3 1001.6 1682.2 1003.6 1682.6 1003.9 1683.9 1003 1684.4 1003 1684.8 1000.1 1685.3 1005.8 1686.2 1004.6 1686.6 1005.7 1687.9 1003.6 1688.8 1003.2 1689.3 1001.2 1690.6 1004 1691.9 1002.3 1693.2 1002.7 1694.6 1002.1 1695.9 1003.5 1696.8 1004.9 1697.2 1003.3 1698.1 1002.1 1698.5 1001.9 1699.9 1003.3 1700.3 1005.8 1701.2 1004.2 1702.5 1002.1 1703.9 1002.3 1705.2 1000.9 1706.5 1001.6 1707.8 1000 1709.2 1000.3 1710.5 1001.1 1711.8 999.9 1713.1 999.6 1714 998.3 1714.5 1000.5 1715.8 998.2 1717.1 999.3 1718 1000.3 1718.5 1004.2 1718.9 1002.7 1719.8 1004.4 1720.2 1002.2 1721.1 1003.7 1722.4 1001.7 1723.8 1001.4 1725.1 1001.3 1725.5 1001.8 1726 1004.3 1726.4 1004.6 1726.9 1003.4 1727.7 1002.5 1728.2 1003.3 1729.1 1002.3 1730.4 1003 1730.8 1003.8 1731.3 1005.2 1731.7 1000.5 1732.2 1002.3 1733.1 1001.4 1734.4 1002.8 1734.8 1004.5 1735.3 1005.7 1735.7 1002.4 1736.1 1003.2 1737 1004.5 1738.4 1003.1 1739.2 1002.9 1739.7 1004.5 1741 1004.4 1741.9 1004.2 1742.3 1001.3 1742.8 1002.6 1743.7 1002.8 1745 1001.7 1745.4 1004.9 1746.3 1003.1 1747.6 1005.3 1749 1003.4 1750.3 1003 1751.6 1003 1752.5 1002.1 1753 1002.6 1754.3 1003.7 1755.2 1002.2 1755.6 1001.7 1756.9 1006 1757.8 1004 1758.3 1003.1 1759.6 1004.5 1760 1005.6 1760.5 1001.1 1760.9 1002.8 1762.2 1002.8 1763.6 1004.6 1764.9 1001.4 1765.8 1001.7 1766.2 1003.6 1766.7 1004.5 1767.6 1004.5 1768 1001.8 1768.9 1002.9 1770.2 1002.2 1771.5 1000.9 1772 1000.3 1772.9 1001.6 1774.2 1000.9 1774.6 1000.8 1775.5 998.8 1776.8 1000.6 1777.3 998.9 1777.7 997.4 1778.2 1001.6 1778.6 997.2 1779.1 998.8 1779.5 1000.6 1780.8 1000.4 1782.2 1000.8 1783 1002.3 1783.5 1002.1 1784.8 1001.1 1785.3 1000.9 1786.1 1001.1 1787.5 1002.1 1788.8 1003.2 1790.1 1004.2 1791.4 1002.5 1791.9 1004.7 1792.8 1004.3 1793.7 1002.7 1794.1 1002.5 1794.5 1003.5 1795.4 1004.5 1796.8 1005.2 1798.1 1004.9 1798.5 1006 1799 1001.2 1799.4 1003.3 1800.7 1002.9 1802.1 1005.6 1803.4 1003 1804.7 1005.4 1805.2 1004.2 1806 1003.4 1806.5 1004.2 1807.4 1002.7 1808.7 1004.5 1810 1003.7 1811.4 1005.1 1812.7 1004.6 1814 1004.6 1815.3 1002.9 1816.7 1003.9 1818 1007.8 1818.4 1004.4 1819.3 1005.1 1820.6 1002.8 1821.1 1002.2 1821.5 1007.4 1822 1004.8 1823.3 1003.1 1824.6 1004.4 1825.5 1005.7 1826 1004.8 1826.4 1005.5 1827.3 1003.5 1828.6 1001.3 1829.5 1003.1 1829.9 1000.1 1830.4 1004.7 1831.3 1005.4 1831.7 1001.2 1832.6 1001.8 1833.5 1002.2 1833.9 1002.1 1834.8 1002.6 1835.2 1005.4 1835.7 1003.2 1836.6 1003.9 1837.9 1003.2 1839.2 1003.8 1840.6 1002.1 1841.4 1003.8 1841.9 1004.1 1843.2 1004.4 1844.1 1005.3 1844.5 1002.7 1845.9 1004 1847.2 1002.6 1848.5 1004.5 1849.8 1004.3 1850.7 1002.6 1851.2 1001.7 1852.5 1005.3 1853.4 1005.9 1853.8 1001.9 1854.3 1005.2 1855.2 1005 1856 1005.4 1856.5 1003.9 1857.4 1004.6 1857.8 1002 1859.1 1003.7 1860 1003.1 1860.5 1005 1860.9 1003.5 1861.8 1002.3 1863.1 1004.9 1864 1004.5 1864.4 1004.4 1864.9 1006.5 1865.8 1004.6 1867.1 1004.8 1867.5 1003.6 1868 1002.6 1868.4 1006.1 1868.9 1005.2 1869.3 1001.6 1869.8 1002.8 1870.2 1005.2 1871.1 1003.5 1872.4 1004.6 1873.7 1002.4 1874.6 1002.7 1875.1 1003.6 1876.4 1002.1 1877.3 1003.4 1877.7 1000.8 1878.2 1004.2 1879 1002.9 1880.4 1003 1881.7 1003.1 1883 1004.2 1884.4 1004.6 1885.7 1005.1 1887 1004.3 1888.3 1003.8 1889.7 1006 1891 1007.1 1891.4 1002.7 1892.3 1003.3 1893.6 1003.2 1894.1 1004.8 1895 1003.6 1896.3 1004.2 1897.6 1004.5 1899 1005.3 1899.8 1004.1 1900.3 1005.5 1901.6 1004.4 1902 1003.7 1902.9 1003.4 1903.8 1005.2 1904.3 1002.8 1905.1 1001.7 1905.6 1002.6 1906.9 1003.6 1907.8 1002.6 1908.2 1002.3 1908.7 1005 1909.6 1004 1910 1005.8 1910.5 1001.6 1910.9 1003 1911.3 1005.7 1912.2 1004 1912.7 1002.5 1913.1 1001.5 1913.5 1005.3 1914.9 1004.8 1916.2 1003.1 1917.1 1002.9 1917.5 1006 1918.9 1006.1 1920.2 1004.4 1921.5 1004.3 1922.8 1003.9 1924.2 1004.6 1925.1 1004.3 1925.5 1004.9 1926.8 1004.3 1928.1 1003.9 1929 1004.3 1929.5 1005.5 1930.8 1004.2 1931.7 1003.8 1932.1 1005.5 1932.6 1005.6 1933.5 1003.8 1933.9 1006.3" fill="none" stroke="#0000ff" stroke-width="3.5" stroke-linejoin="round"/>
<path d="M164.3 1432.2 L165.2 1432.7 165.6 1430.8 167 1431.7 167.8 1432.3 168.3 1430.7 169.6 1428.1 170.1 1431.3 170.9 1431.5 172.3 1430.7 173.6 1431.8 174.9 1432.3 176.2 1431.3 177.6 1433 178.9 1431.2 179.3 1432.1 179.8 1428.8 180.2 1434.2 180.7 1432.1 181.1 1432.1 181.6 1429.9 182.4 1430.5 182.9 1433.1 183.3 1430.9 183.8 1430.9 184.2 1433.2 184.7 1431 185.1 1429.5 185.5 1428.3 186 1432.1 186.9 1433.2 187.3 1433.1 188.2 1434.7 189.1 1434.1 189.5 1435.9 190 1433.4 190.8 1432.8 191.7 1432.4 192.2 1433.9 193.1 1434.2 193.5 1432.5 194.8 1433.2 196.2 1434.1 197.5 1432.4 198.8 1434.4 200.1 1433.1 200.6 1434.2 201.5 1434.3 201.9 1433.9 202.8 1432.4 203.7 1432.3 204.1 1434.6 205 1433 205.4 1430.3 205.9 1435.1 206.3 1434.6 206.8 1432.8 207.2 1430.1 207.7 1434.9 208.1 1433 208.5 1433.5 209.4 1432 210.8 1434.1 212.1 1434.1 213.4 1433.1 214.7 1432.4 215.2 1430.8 215.6 1434.8 216.1 1433.5 216.9 1432.2 217.4 1428.7 218.7 1429 219.2 1425.6 220 1425 220.9 1424.3 221.4 1419 221.8 1415.7 222.3 1416.7 222.7 1418.5 223.6 1419.3 224 1418.7 224.9 1420.5 225.4 1423.8 226.2 1424.4 226.7 1425.6 227.1 1428.6 228 1429.2 228.4 1430.4 228.9 1432 229.3 1433.4 230.7 1433.3 231.1 1434.4 232 1433 233.3 1434.2 234.6 1435.6 236 1435.1 236.9 1436.4 237.3 1432.8 238.6 1434 240 1436.1 240.8 1437.9 241.3 1435.6 242.6 1435.9 243.9 1435.5 245.3 1437.8 246.6 1436.1 247.9 1436.2 249.2 1434.6 250.6 1436.5 251 1432.2 251.5 1434.1 251.9 1435.2 253.2 1437.7 253.7 1435.6 254.1 1435.5 254.5 1433.4 255.9 1435.6 256.3 1436.6 257.2 1436.1 258.1 1436.2 258.5 1435.6 259 1436.7 259.9 1437.2 260.7 1437.4 261.2 1437.5 262.5 1437 263.8 1434.2 265.2 1435.7 266.5 1437.3 266.9 1437.2 267.8 1435.7 269.1 1435.9 270.5 1436.7 270.9 1439.8 271.4 1434 271.8 1436.4 272.2 1434.4 273.1 1436.3 273.6 1437.9 274.5 1437.4 275.8 1438.9 277.1 1437 278 1437.8 278.4 1437.8 279.8 1437.2 280.7 1435.4 281.1 1439.5 282.4 1438.9 282.9 1435.3 283.3 1436.3 283.7 1437.6 285.1 1437 286.4 1438.1 287.7 1435.6 288.2 1437.2 289.1 1435.4 290.4 1436.7 291.7 1438 293 1436.9 293.9 1435.7 294.4 1435 295.7 1435.3 296.1 1435.7 296.6 1439.9 297 1438.1 297.9 1439.7 298.3 1439.8 299.7 1435.9 300.6 1436.1 301 1438.6 301.4 1438.1 301.9 1441 302.3 1440.3 302.8 1437.8 303.7 1435.8 305 1437.8 305.9 1438.5 306.3 1441.1 307.6 1437.3 308.5 1439.2 309 1433.3 309.4 1438.6 310.3 1437 311.6 1436.4 312.5 1437.8 312.9 1439.4 313.8 1438.5 314.3 1435.8 315.6 1438.4 316 1437.6 316.9 1438.1 317.8 1439 318.3 1440.5 318.7 1439.4 319.1 1435.4 319.6 1436.8 320.9 1437.8 322.2 1438.5 323.1 1439.2 323.6 1436.3 324.9 1439.3 325.3 1435.5 326.2 1436.8 327.1 1436.6 327.5 1435.4 328 1436.7 328.4 1439.1 328.9 1441.1 329.8 1439.3 330.2 1436.1 330.6 1438.7 331.5 1439.3 332.9 1436.7 333.7 1437.5 334.2 1440.3 334.6 1435.1 335.1 1436 335.5 1438.8 336 1437.7 336.8 1439 338.2 1438.9 339.5 1438.5 339.9 1438.9 340.4 1434.3 340.8 1435.2 341.3 1439.5 342.1 1439 343.5 1437.6 344.8 1437 345.2 1438.7 346.1 1437.5 346.6 1440.8 347.5 1438.9 348.8 1437.8 349.2 1441.2 349.7 1441.5 350.1 1438.4 350.6 1440.5 351.4 1439.8 352.8 1438.6 354.1 1437.8 355.4 1437.6 356.7 1437.3 358.1 1435.1 359.4 1436.7 360.3 1434.7 360.7 1438 361.6 1438.2 362.1 1439.4 362.5 1440 362.9 1435.6 363.4 1437.7 364.7 1438.1 365.6 1437.9 366 1436.8 367.4 1438.9 368.7 1436.8 369.1 1442.5 369.6 1439 370 1437.7 370.9 1437.9 371.3 1440.4 371.8 1438.4 372.7 1440.3 373.1 1439.3 373.6 1442.8 374 1437.2 374.4 1436 374.9 1440.2 375.3 1438.9 376.7 1441 378 1437.6 378.9 1438 379.3 1438.3 380.6 1440.6 381.1 1440.6 382 1441 383.3 1440.3 384.6 1438.2 385.1 1437.8 385.9 1438.9 387.3 1441.4 387.7 1438.8 388.2 1438.9 388.6 1441.7 389.9 1440.4 391.3 1440.1 391.7 1439.5 392.1 1442.8 392.6 1441.5 393 1439.2 393.9 1438.2 395.2 1440.2 396.6 1438.9 397 1440.3 397.9 1440.5 399.2 1440.6 400.1 1440.6 400.5 1440.1 401.9 1440.6 402.3 1439.7 402.8 1438.2 403.2 1442.2 403.6 1437.9 404.1 1438.8 404.5 1441.3 405.4 1440.4 405.9 1439.4 407.2 1439.8 408.5 1439.4 409.8 1439.3 410.7 1438.6 411.2 1438.8 412.5 1440.5 412.9 1439.1 413.8 1439.4 414.3 1436 414.7 1442.3 415.1 1440.6 416 1438.9 416.5 1441.6 417.8 1441 419.1 1441.6 419.6 1441 420 1439.2 420.4 1444.2 420.9 1440.6 421.8 1440.7 423.1 1442.5 424.4 1441 425.3 1442.2 425.8 1437.7 426.2 1436.3 426.6 1440.6 427.1 1438.7 427.5 1438.2 428.4 1439.8 429.7 1439.3 431.1 1439.6 431.5 1439.9 432.4 1440.4 433.7 1440 435 1440.6 435.5 1440.1 436.4 1440.2 436.8 1441.7 437.7 1440 439 1441.8 439.5 1443.7 439.9 1439.5 440.4 1439 441.2 1438.3 441.7 1439.6 443 1440.8 444.3 1441.4 445.2 1441 445.7 1436.2 446.1 1440.7 447 1439.2 447.4 1439.8 447.9 1441.9 448.3 1442.9 449.2 1441.2 449.6 1441.5 450.5 1441 451 1441.9 452.3 1443.3 452.7 1444.3 453.2 1439.4 453.6 1441.3 455 1439.6 455.4 1441.6 455.8 1444.6 456.3 1438.8 457.6 1442.3 458.1 1442 458.5 1439.6 458.9 1439.7 459.8 1439.3 460.3 1441.7 461.2 1441.7 461.6 1439.8 462.5 1438.7 462.9 1439.4 463.4 1442 464.2 1441 465.1 1439.8 465.6 1443.2 466 1442.8 466.9 1442.6 467.8 1442.3 468.2 1443 469.6 1439.5 470 1440.4 470.4 1443.7 470.9 1442.7 471.3 1442.4 471.8 1440.5 472.2 1440 473.5 1440.3 474 1441.4 474.4 1444.3 474.9 1439.2 476.2 1442.3 476.6 1442.3 477.5 1443.8 478 1439.3 478.8 1440.4 480.2 1442.5 480.6 1442.5 481.1 1439.2 481.5 1439.1 482.8 1441.9 484.2 1442.1 485 1440.9 485.5 1443.8 486.8 1443.4 488.1 1440.1 489 1440.3 489.5 1440.6 490.3 1441.8 490.8 1440.7 491.2 1440.3 492.1 1440.1 492.6 1440.5 493 1434.3 493.4 1437.7 493.9 1434.3 494.3 1433.5 494.8 1428.7 495.7 1428 496.1 1426.7 497.4 1425.2 497.9 1426.2 498.8 1427.4 499.2 1432.9 500.1 1432.4 500.5 1434.2 501.4 1435.4 501.9 1432.7 502.3 1440 502.7 1437 503.6 1436.9 504.1 1439.9 504.9 1440 505.4 1442.4 506.7 1441.3 508 1441.7 508.5 1441 508.9 1439.3 509.4 1443.8 509.8 1440.3 510.7 1441.2 511.6 1441.6 512 1440.3 512.5 1441 513.4 1439.5 514.2 1439 514.7 1442 516 1442.3 517.3 1441.6 518.7 1442.2 519.1 1438.9 519.5 1437.8 520 1443.5 520.4 1440.8 521.3 1442.4 522.6 1442.9 523.1 1439.8 524 1438.3 524.4 1442.4 525.3 1441.6 525.7 1443.5 526.6 1445.4 527.1 1441.8 528 1443.4 528.8 1441.6 529.3 1440.6 529.7 1443.4 530.2 1443.1 530.6 1438.3 531 1441.5 531.5 1442 531.9 1439.4 533.3 1441.5 533.7 1443.2 534.6 1441.4 535.9 1441.2 536.8 1441.5 537.2 1439.6 538.6 1442.3 539.5 1443.1 539.9 1442.2 540.8 1442.1 541.2 1443.8 541.7 1440 542.1 1441.1 542.6 1442.3 543 1441.6 543.9 1440.8 544.8 1441.6 545.2 1440.6 546.5 1439.7 547.9 1442.6 549.2 1441.3 549.6 1442.2 550.5 1440.9 551.4 1441.5 551.8 1443.2 552.3 1441.3 553.2 1440.3 554.1 1438.5 554.5 1440.3 555.4 1441.7 555.8 1438.5 557.2 1436.1 558.5 1436.9 558.9 1430.9 559.8 1430.4 560.2 1423.9 560.7 1419.3 561.1 1410.2 561.6 1402.2 562 1387.8 562.5 1371.7 562.9 1351.2 563.3 1335.9 563.8 1317.3 564.2 1307.7 565.1 1306.1 565.6 1316.7 566 1334.2 566.4 1355.3 566.9 1368.8 567.3 1386.5 567.8 1399.7 568.2 1412.9 568.7 1417.6 569.1 1424 569.5 1427.9 570 1432.1 570.4 1432.4 571.3 1434.3 571.8 1437.6 573.1 1435.8 573.5 1440.3 574.4 1441.7 574.8 1442.1 575.7 1440.1 577.1 1441.1 577.9 1440.2 578.4 1443.1 578.8 1438.4 579.7 1439.8 581 1441.5 582.4 1440.8 583.7 1441.8 584.6 1440.6 585 1442.7 585.5 1443.1 585.9 1439.8 586.3 1439.2 586.8 1445.2 587.2 1442.1 587.7 1441.6 589 1440.9 590.3 1441.9 591.7 1440.8 592.1 1440.6 593 1441.5 594.3 1441.9 595.2 1443.8 595.6 1443.6 596.5 1443.7 597 1444.8 597.4 1441.7 598.3 1440.7 599.6 1442.5 600.9 1441.3 602.3 1439.3 602.7 1444.4 603.2 1442.4 603.6 1440.6 604.9 1441.7 605.8 1442.7 606.3 1440.7 607.1 1442.3 607.6 1443.3 608.5 1443 608.9 1442.5 609.4 1442.7 610.2 1442.8 611.6 1444.5 612 1441.6 612.9 1442.5 613.8 1442.3 614.2 1439.8 614.7 1443.1 615.5 1444.6 616.4 1443.2 616.9 1444.7 617.3 1442.7 617.8 1440.8 618.2 1440.4 618.6 1441.3 619.5 1440.5 620.9 1443 622.2 1444.4 622.6 1441.6 623.5 1442.1 624.8 1443.1 626.2 1442.9 627.5 1443.4 627.9 1441.9 628.8 1442.6 630.1 1442.1 630.6 1442.5 631.5 1442 632.4 1440.6 632.8 1443.8 634.1 1440.9 635 1442.9 635.5 1441.2 635.9 1443.4 636.8 1442.2 638.1 1441 639.4 1442.6 639.9 1442.8 640.8 1444.2 642.1 1440.3 642.5 1441.1 643.4 1440.2 644.3 1439.7 644.7 1439.8 646.1 1439.8 646.5 1434.2 647 1433.4 647.4 1429.7 647.8 1426.8 648.3 1422.6 648.7 1418.2 649.2 1413.9 649.6 1411.7 650.1 1402.1 650.9 1401.2 651.4 1403.4 651.8 1402.3 652.3 1411.7 652.7 1414.2 653.2 1421.2 653.6 1424 654 1426.8 654.5 1429.3 654.9 1433.5 655.4 1435.6 655.8 1434.7 656.2 1438.3 656.7 1438.5 658 1439.1 658.5 1439.9 659.3 1439.9 660.2 1439.2 660.7 1442.7 662 1442.4 663.3 1441.2 664.2 1441.9 664.7 1440.3 666 1443.4 667.3 1441.1 668.2 1442.9 668.6 1439.7 669.1 1441.9 670 1442.4 671.3 1443.5 672.2 1442.4 672.6 1440.7 673.5 1440.6 673.9 1441.7 674.4 1442.8 675.3 1443.3 676.6 1441.2 677.5 1441.6 677.9 1443.6 679.3 1442.1 680.1 1442.3 680.6 1444.9 681.5 1443.9 681.9 1444.3 683.2 1443.7 683.7 1442.8 684.6 1441.4 685 1441.7 685.9 1440.7 686.3 1440.8 686.8 1443.2 687.2 1443.1 687.7 1442.3 688.1 1440.6 688.5 1437.6 689 1444.6 689.9 1442.8 690.3 1441.4 691.2 1441.4 692.5 1445.9 693 1441 693.9 1442.2 694.3 1443.7 694.7 1444.2 695.2 1440.8 696.5 1440.9 697.8 1442.9 699.2 1445.2 699.6 1443.7 700 1442.3 700.5 1441.3 701.8 1442.4 703.1 1440.4 703.6 1444.7 704 1443 704.5 1439.7 704.9 1441.1 705.8 1441.5 706.2 1440.4 707.1 1442.4 708 1441.5 708.5 1441.1 708.9 1438.7 709.8 1439.1 711.1 1438.1 712 1439.8 712.4 1436.7 712.9 1436.8 713.3 1439.3 713.8 1440 714.2 1438.8 714.6 1435.9 715.1 1441.9 716.4 1439.4 717.7 1439.5 718.2 1442.3 719.1 1441.6 720.4 1443 721.7 1441.6 722.2 1441.3 723.1 1441.9 723.9 1442.7 724.4 1442.6 725.7 1441.6 727 1442.7 727.5 1441.3 728.4 1443.1 729.7 1442.1 731 1441.5 732.3 1444.8 732.8 1442.4 733.2 1441.8 733.7 1440.1 734.6 1440.5 735 1439.3 735.4 1440.9 735.9 1443.5 736.3 1443.6 736.8 1442 737.7 1441.3 738.5 1442.9 739 1443.1 740.3 1441.8 741.6 1440.3 742.1 1441.1 743 1441.1 743.4 1442.7 744.3 1443 745.6 1443.5 746.1 1442 746.9 1441.8 747.4 1441.5 748.3 1442.5 748.7 1443.1 749.2 1439.9 749.6 1440.4 750.5 1441 750.9 1443.7 752.2 1440.1 752.7 1441.3 753.6 1440.6 754.5 1442.4 754.9 1442.4 755.8 1443.4 756.2 1440.4 757.1 1438.6 757.6 1442.3 758.4 1441 758.9 1444.1 759.3 1441.4 760.2 1440.8 761.5 1442.6 762 1443.7 762.9 1443.1 763.8 1441.2 764.2 1441.2 765.1 1442.5 765.5 1444.8 766 1443.6 766.4 1442.3 766.8 1441 768.2 1440.3 769.1 1441.2 769.5 1442.6 770.4 1442.7 770.8 1441.1 771.7 1439.5 772.2 1441.9 772.6 1438.4 773.5 1440.1 774.4 1440.9 774.8 1437.9 776.1 1439.1 776.6 1440.3 777 1441.3 777.5 1436.5 778.8 1438.4 779.7 1438.4 780.1 1434.8 780.6 1438.6 781 1437 781.4 1435.3 782.3 1435.6 782.8 1431.7 783.2 1435 784.1 1433.4 785.4 1430 786.3 1430.4 786.8 1427.2 787.2 1423.2 787.6 1424.3 788.1 1420.6 788.5 1415.3 789 1412.2 789.4 1403.7 789.9 1390.8 790.3 1382 790.7 1363.8 791.2 1342.6 791.6 1320.1 792.1 1286.3 792.5 1251.6 793 1211.6 793.4 1171.2 793.8 1132.2 794.3 1096.5 794.7 1070.4 795.2 1055.1 795.6 1052 796 1068.2 796.5 1096 796.9 1131.5 797.4 1171.5 797.8 1214.6 798.3 1252.3 798.7 1288 799.1 1318.5 799.6 1343.2 800 1362.6 800.5 1380.6 800.9 1393.6 801.4 1404.3 801.8 1409.7 802.2 1415.4 802.7 1419.2 803.1 1422 803.6 1427.4 804 1428.9 804.5 1430.8 805.3 1429.2 805.8 1433.9 806.7 1434.3 808 1432.8 808.4 1431.9 808.9 1435.2 809.3 1436 810.6 1438.3 812 1437.5 812.4 1438 813.3 1437.8 813.7 1438.3 814.6 1439 816 1439.3 817.3 1436.5 817.7 1441.4 818.6 1439.4 819.5 1438.5 819.9 1438.1 820.8 1440.1 821.3 1439.6 822.1 1441.5 822.6 1439.9 823.9 1441.4 825.2 1442 826.6 1443.8 827.9 1441.4 829.2 1441.7 830.6 1441.7 831.9 1443.6 832.3 1441.6 833.2 1443.5 833.7 1440.8 834.1 1439.5 834.5 1443 835.4 1443 835.9 1440.6 837.2 1441.5 838.5 1442.6 839.8 1443.1 840.7 1441.9 841.2 1443.5 841.6 1444.2 842.1 1439 842.5 1440.6 843.8 1440.8 844.3 1440.8 845.2 1440.3 845.6 1438.3 846.5 1438.7 847.8 1436.3 848.7 1435.4 849.1 1434.2 850 1434.3 850.5 1436.9 850.9 1433.8 851.3 1431.9 851.8 1431.5 852.7 1431.3 853.1 1437.5 853.6 1433.5 854.4 1435.3 855.8 1435.4 856.2 1436 857.1 1437.7 857.5 1437.9 858.4 1436 858.9 1441.2 859.8 1442.1 860.2 1441 861.1 1439.2 862.4 1440.4 863.7 1442.1 865.1 1442.1 865.5 1443.5 866.4 1443.2 866.8 1438.8 867.3 1440.8 867.7 1444.2 869 1443.4 869.5 1441.2 870.4 1441 871.7 1443.8 873 1443.5 874.4 1442 875.7 1442.6 876.6 1441.5 877 1442.6 878.3 1443.8 879.7 1443.3 880.5 1441.9 881 1439.8 881.4 1440.8 882.3 1441.7 883.2 1443.6 883.6 1441.5 884.1 1444 885 1443.5 886.3 1440.9 887.6 1442 889 1440.3 889.8 1440.9 890.3 1439.7 891.2 1439.9 891.6 1437.4 892 1438.4 892.5 1434.8 892.9 1434.1 893.4 1433.7 893.8 1431.9 894.3 1428.2 895.1 1427.4 895.6 1426.7 896.9 1427.2 897.4 1431.5 898.2 1431.8 898.7 1434.1 899.1 1434.1 899.6 1436.6 900.5 1436.6 900.9 1438.6 901.3 1443.6 902.2 1441.9 902.7 1440.7 903.1 1444.6 903.6 1442.7 904.9 1442 905.8 1441.7 906.2 1442.8 907.1 1444 907.5 1444 908.9 1442.7 910.2 1442.7 910.6 1441.9 911.5 1441.6 912.4 1443.4 912.8 1441.8 913.7 1442.1 914.2 1442.4 914.6 1442.3 915.5 1443 916.4 1442.2 916.8 1446.1 917.3 1440.6 918.1 1442.1 919.5 1443.2 920.4 1443.1 920.8 1443.6 921.2 1442.3 921.7 1440 922.1 1440.1 922.6 1440.9 923.5 1440.4 923.9 1442.3 924.8 1440.8 926.1 1442.9 926.6 1445.2 927 1440.3 927.4 1442.3 928.3 1442.5 928.8 1441.2 930.1 1441.9 931.4 1442.2 931.9 1439.7 932.7 1441.7 934.1 1442.2 935.4 1442.1 935.8 1441.2 936.7 1440 938.1 1441.8 939.4 1442 940.7 1441.6 942 1442.5 942.9 1443.1 943.4 1443.4 943.8 1441.9 944.7 1441.9 945.6 1441.2 946 1440.8 946.5 1442.4 947.3 1441.3 948.2 1441.6 948.7 1442.2 950 1439.7 950.4 1442.1 951.3 1443.3 951.8 1443.3 952.7 1443.3 953.1 1441.9 953.5 1439.3 954 1445.5 954.4 1443 955.3 1443.9 955.8 1442.3 956.6 1443.1 957.5 1444.3 958 1440.6 959.3 1443.2 960.2 1443.4 960.6 1443.6 961.9 1443.5 963.3 1442.2 964.6 1441.1 965.5 1442.2 965.9 1444.7 966.4 1445 966.8 1440.1 967.3 1440.8 968.6 1444.7 969 1443.4 969.5 1441.8 969.9 1446 970.4 1439.7 970.8 1442.6 971.2 1443.6 971.7 1442.8 972.1 1440.6 972.6 1439.7 973.9 1441.1 975.2 1443.3 975.7 1442.8 976.5 1441.2 977 1440 977.9 1439.9 978.3 1439.4 979.2 1438.7 979.6 1439.5 980.1 1435.2 980.5 1433.1 981 1431.7 981.4 1430.3 981.9 1428 982.3 1419.1 982.7 1411.8 983.2 1403.3 983.6 1393.5 984.1 1386 984.5 1373.1 985 1357.2 985.4 1351.4 985.8 1347.4 986.3 1346.1 986.7 1351.5 987.2 1360.2 987.6 1372.1 988 1385.6 988.5 1389.9 988.9 1404.9 989.4 1415.5 989.8 1420.7 990.3 1425.5 990.7 1430.5 991.1 1434.2 991.6 1436.4 992.5 1435.4 992.9 1438.9 993.8 1437.8 994.2 1436.2 994.7 1440.4 995.1 1441.8 996.5 1439.3 996.9 1440.6 997.8 1439.3 999.1 1443.6 1000.4 1442.2 1001.8 1441.3 1002.6 1441 1003.1 1441.3 1004.4 1442.9 1005.7 1441.3 1006.2 1441.8 1007.1 1441.7 1007.5 1443.8 1008.4 1442.1 1009.3 1440.2 1009.7 1441.8 1010.6 1443.1 1011.1 1441.1 1011.5 1443.5 1012.4 1443.6 1012.8 1440.8 1013.7 1441.4 1014.2 1442.8 1015 1443.9 1015.9 1442.9 1016.4 1443.3 1017.7 1444.9 1018.1 1444.5 1018.6 1441.2 1019 1442.1 1020.3 1443 1021.2 1444.7 1021.7 1443.6 1022.6 1443.9 1023 1440.9 1024.3 1445.4 1025.7 1441.3 1026.1 1442.7 1027 1441 1027.4 1441.9 1028.3 1440.6 1028.7 1439.6 1029.2 1443.2 1029.6 1444 1031 1443.1 1032.3 1443.6 1033.2 1442.7 1033.6 1441.4 1034.9 1442.3 1035.4 1445.2 1036.3 1444 1037.2 1442.8 1037.6 1439.9 1038 1440.8 1038.5 1443.4 1038.9 1442.8 1039.8 1442.5 1040.3 1439.7 1040.7 1443.3 1041.6 1443.6 1042.9 1443.5 1043.8 1442.2 1044.2 1442.1 1044.7 1444.7 1045.6 1445.1 1046 1442.5 1046.9 1443 1047.8 1442.3 1048.2 1438.5 1048.7 1443.2 1049.1 1442 1049.5 1440.1 1050 1441.3 1050.9 1441.8 1052.2 1441 1053.1 1441.9 1053.5 1440.3 1054.4 1441.1 1054.9 1443.7 1056.2 1442.4 1057.5 1443.2 1058.8 1442.1 1060.2 1441.8 1060.6 1442.8 1061.5 1443.7 1061.9 1441 1062.8 1442.2 1063.7 1441.8 1064.1 1440.4 1064.6 1438.5 1065.5 1438.2 1065.9 1433.9 1066.8 1432.2 1067.2 1430 1067.7 1423.8 1068.1 1425.3 1069 1425.2 1069.5 1425.2 1070.3 1424.8 1070.8 1427.7 1071.2 1429.1 1071.7 1433.2 1072.1 1434.3 1073 1436.1 1073.4 1436.4 1073.9 1442.4 1074.3 1439 1074.8 1438.4 1075.2 1441.9 1076.1 1441.7 1077.4 1441 1077.9 1442.2 1078.7 1441.6 1079.6 1440.3 1080.1 1440.9 1081.4 1441.9 1081.8 1443.4 1082.3 1445.2 1082.7 1440.2 1084 1442.7 1085.4 1441.9 1086.7 1442.6 1087.1 1440.7 1088 1442.6 1088.5 1444.8 1089.4 1442.9 1090.7 1441.1 1092 1443.6 1092.5 1443.3 1093.3 1444.9 1093.8 1447.1 1094.2 1441.3 1094.7 1442.7 1096 1442.8 1097.3 1443.7 1097.8 1441.4 1098.6 1442.6 1099.5 1443.9 1100 1445.1 1100.4 1443.2 1101.3 1442.9 1102.6 1441.9 1103.5 1441.6 1104 1440.9 1104.4 1443.1 1105.3 1443.5 1105.7 1441 1106.6 1440.6 1107.1 1444.7 1107.9 1443.6 1109.3 1444.7 1110.2 1445.6 1110.6 1445.1 1111.5 1444.1 1111.9 1445.2 1112.4 1446.4 1112.8 1442.2 1113.2 1443.5 1114.6 1442.6 1115.9 1443.3 1117.2 1441.6 1117.7 1444.1 1118.6 1442.3 1119 1442.5 1119.9 1442.8 1121.2 1444.5 1121.7 1443 1122.5 1442.8 1123.4 1444.1 1123.9 1441.5 1124.3 1441.7 1125.2 1443.4 1126.1 1441.5 1126.5 1440 1127.8 1442.2 1128.7 1443 1129.2 1446.2 1129.6 1444 1130.1 1442.4 1130.5 1441.8 1131.4 1442.7 1131.8 1441 1133.2 1443.7 1133.6 1445.5 1134 1441.3 1134.5 1443.3 1135.4 1442.4 1135.8 1444.5 1136.3 1439.7 1136.7 1441.7 1137.1 1444.9 1137.6 1441.9 1138.5 1442.2 1139.8 1444.1 1141.1 1443.6 1141.6 1443.7 1142.4 1443.7 1143.8 1443.6 1145.1 1442.8 1146.4 1442.8 1146.9 1444.4 1147.8 1443.3 1148.2 1440.5 1148.6 1439.1 1149.1 1436.7 1149.5 1439.1 1150 1439.9 1150.4 1437.1 1150.9 1438.8 1151.7 1440 1153.1 1441.7 1154.4 1441 1154.8 1441.5 1155.7 1442.3 1157 1442.7 1158.4 1443.3 1158.8 1442.7 1159.3 1440.2 1159.7 1440.1 1160.1 1440.3 1160.6 1443.2 1161 1443.3 1162.4 1444 1162.8 1440.8 1163.7 1442.4 1165 1441.7 1166.3 1443.3 1167.2 1443.4 1167.7 1440.1 1168.5 1441.8 1169 1443.8 1169.9 1442.4 1170.3 1448.6 1170.8 1438.8 1171.2 1441.7 1171.6 1445.8 1172.1 1444.1 1173 1444.1 1174.3 1444.8 1174.7 1442.9 1175.6 1442.3 1177 1443 1177.8 1441.8 1178.3 1438.9 1178.7 1443.6 1179.6 1441.7 1180.9 1444.4 1181.4 1442.6 1182.3 1442.5 1183.6 1442.4 1184.9 1443.1 1186.2 1442.8 1187.1 1443.3 1187.6 1445.4 1188.9 1442.7 1190.2 1442.9 1190.7 1442 1191.6 1442 1192 1443.8 1192.9 1444.2 1193.3 1441.7 1193.8 1442.1 1194.2 1445.1 1194.6 1441 1195.1 1443 1195.5 1444.7 1196 1440.3 1196.9 1441.4 1197.3 1442 1198.2 1441.3 1198.6 1441.9 1199.1 1444.5 1199.5 1444.3 1200 1442.3 1200.8 1440.9 1202.2 1443.9 1203.1 1443.3 1203.5 1440.6 1204.8 1445.1 1205.3 1440.7 1206.2 1441.1 1207.5 1443.8 1207.9 1443.7 1208.4 1441.2 1208.8 1441.6 1209.7 1441.5 1210.1 1443.8 1211 1443.7 1211.5 1441.4 1211.9 1441.2 1212.8 1443.2 1214.1 1443.5 1215 1442.2 1215.4 1441.8 1216.8 1441 1217.7 1442.8 1218.1 1442.7 1218.5 1442.4 1219.4 1440.8 1219.9 1441.1 1220.8 1442.1 1221.6 1440.6 1222.1 1438.6 1223 1439.6 1223.4 1439 1224.7 1437.2 1226.1 1434 1226.5 1433.7 1227.4 1435.2 1227.8 1436.5 1228.7 1438.3 1230 1441.1 1230.5 1441.8 1230.9 1438.7 1231.4 1439.2 1232.7 1440.4 1233.1 1443.4 1234 1441.8 1234.5 1443.3 1235.4 1442.4 1236.7 1442.7 1237.6 1443.6 1238 1442.1 1239.3 1443.5 1239.8 1441.9 1240.2 1438.1 1240.7 1445.8 1241.1 1442.2 1242 1441.2 1243.3 1443.4 1244.6 1441.5 1245.1 1442.9 1246 1443.9 1247.3 1443 1248.2 1443.5 1248.6 1443.5 1249.9 1443 1250.8 1441.8 1251.3 1442.3 1252.6 1443.7 1253 1441.3 1253.9 1442.5 1255.3 1443.9 1255.7 1443.1 1256.6 1443.2 1257.9 1442.4 1258.8 1442.6 1259.2 1445.1 1260.1 1444.9 1260.6 1441.3 1261 1446.8 1261.5 1443.7 1261.9 1443.3 1263.2 1443 1264.5 1446.5 1265 1442.4 1265.9 1442.2 1266.3 1444.9 1266.8 1444.7 1267.2 1441.2 1267.6 1441.7 1268.5 1440.2 1269.9 1442.4 1270.7 1444.1 1271.2 1444.9 1272.5 1443.7 1273 1441.4 1273.8 1443.4 1275.2 1444.2 1275.6 1443.5 1276.5 1444.7 1277.8 1443.8 1279.1 1441.7 1279.6 1442.3 1280.5 1442.2 1281.4 1442.6 1281.8 1442.9 1282.7 1443.8 1283.1 1440.6 1284.5 1442.5 1285.3 1442.1 1285.8 1440 1286.2 1442.9 1287.1 1442 1288.4 1443 1289.8 1442.7 1291.1 1442.5 1291.5 1446.4 1292 1440.1 1292.4 1444.2 1293.7 1442.8 1294.2 1443.1 1294.6 1440.7 1295.1 1445.3 1296.4 1443.7 1297.7 1443.4 1299.1 1443.5 1299.9 1442.7 1300.4 1444.9 1301.7 1443.1 1302.6 1444.2 1303 1443.1 1304.4 1443.5 1305.7 1442.1 1306.1 1441.8 1306.6 1445.5 1307 1439.8 1307.5 1442.4 1308.3 1444.3 1308.8 1444.8 1309.2 1442 1309.7 1439.1 1310.1 1445.9 1310.6 1441.8 1311 1442.7 1312.3 1443.3 1313.2 1443.9 1313.7 1444.3 1314.1 1442 1314.5 1441.8 1315 1444.8 1316.3 1444.4 1317.2 1443.5 1317.6 1443.4 1319 1444.7 1319.8 1442.8 1320.3 1445.4 1320.7 1442.5 1321.2 1442.3 1321.6 1444.5 1322.5 1445.8 1322.9 1445.7 1323.4 1444.6 1324.3 1443.4 1324.7 1442.6 1325.6 1443.6 1326.9 1443.2 1327.8 1443.9 1328.3 1444.7 1328.7 1441.6 1329.6 1442.4 1330.9 1442.2 1331.8 1441.9 1332.2 1440.3 1332.7 1444.9 1333.1 1443.2 1333.6 1442.4 1334.9 1441.2 1335.3 1443.5 1336.2 1442.5 1336.7 1444.3 1337.1 1445.4 1337.5 1446.6 1338 1444.7 1338.4 1441.8 1338.9 1441.1 1339.3 1442.9 1340.2 1443 1341.5 1446.5 1342 1443.2 1342.9 1442.3 1344.2 1443.5 1345.5 1442.6 1346.8 1443.8 1347.3 1443.4 1348.2 1443.6 1349.5 1440.8 1349.9 1443 1350.8 1442.5 1351.7 1443.5 1352.1 1442.2 1352.6 1444.5 1353.5 1443 1354.8 1444.9 1355.2 1440.9 1356.1 1441.4 1357.5 1443.5 1357.9 1443.1 1358.8 1443.7 1359.7 1442.3 1360.1 1443.2 1361.4 1441.1 1361.9 1440.6 1362.8 1441 1363.2 1445.5 1364.1 1444.3 1364.5 1442.8 1365.4 1442.9 1366.7 1441.2 1368.1 1444 1369.4 1444.2 1370.3 1443.3 1370.7 1442.8 1371.6 1442.2 1372.1 1442.1 1373.4 1441.3 1374.3 1442.6 1374.7 1442.7 1375.1 1443.6 1376 1443.6 1376.5 1440.3 1377.4 1438.7 1377.8 1437.5 1378.7 1436.2 1379.1 1434.1 1379.6 1431.2 1380 1429.6 1380.5 1424 1380.9 1419 1381.3 1415.9 1381.8 1413.4 1382.2 1412.6 1382.7 1410.2 1384 1410 1384.4 1413.1 1384.9 1414.4 1385.3 1421.2 1385.8 1423.5 1386.2 1428.3 1386.7 1431.3 1387.1 1432.5 1387.5 1438.5 1388 1436.7 1388.4 1437.1 1388.9 1441.4 1389.3 1439.2 1389.7 1443.5 1390.2 1442.4 1390.6 1439.6 1391.1 1441.4 1392 1443 1393.3 1443.2 1394.6 1443.1 1395.5 1443.8 1395.9 1441.6 1396.4 1442 1397.3 1443.8 1397.7 1442.4 1398.6 1443.1 1399.5 1442.5 1399.9 1441.3 1401.3 1443.5 1402.6 1444.1 1403 1442 1403.5 1442 1403.9 1445.7 1404.3 1443.2 1405.2 1441.8 1406.6 1443.1 1407.4 1443.6 1407.9 1441.2 1409.2 1441.3 1410.5 1443.2 1411.9 1443.8 1412.8 1443 1413.2 1439.6 1414.5 1441.8 1415.4 1440.4 1415.8 1439.4 1416.7 1437.6 1417.2 1435.3 1417.6 1436.4 1418.1 1428.4 1418.5 1422.9 1418.9 1417.8 1419.4 1411.1 1419.8 1406.1 1420.3 1403.1 1421.2 1402.9 1421.6 1405.5 1422 1410.4 1422.5 1416.5 1422.9 1426 1423.4 1426.9 1423.8 1432 1424.3 1438.1 1425.1 1438.4 1425.6 1442.3 1426.5 1440.9 1427.4 1439.1 1427.8 1440.4 1428.7 1441.5 1429.1 1439.5 1429.6 1445.9 1430 1442.5 1430.4 1443.8 1431.8 1441.9 1432.2 1442.7 1433.1 1441.5 1434 1442.5 1434.4 1442.2 1435.8 1444.1 1436.2 1442.6 1437.1 1441 1438.4 1442.5 1439.7 1440.8 1440.2 1439.6 1441.1 1439.8 1441.5 1436.8 1442.4 1438.5 1442.8 1437.4 1443.3 1435 1443.7 1434.9 1445 1435 1445.9 1434.9 1446.4 1440.1 1446.8 1440.9 1447.7 1440.6 1448.1 1442.6 1449 1443.1 1449.9 1443 1450.4 1441.8 1451.7 1444.2 1453 1442.1 1454.3 1444.9 1454.8 1442.5 1455.7 1442 1457 1441.8 1457.9 1440.7 1458.3 1443 1459.6 1443.3 1461 1442.8 1462.3 1442.1 1463.6 1446 1465 1443.9 1465.8 1444.5 1466.3 1438.5 1466.7 1441.9 1467.6 1441.5 1468.1 1444.7 1468.5 1447.8 1468.9 1439.7 1469.4 1442.2 1470.3 1442.6 1471.6 1444.7 1472.9 1444.7 1473.4 1443.2 1474.2 1444.4 1475.6 1442.8 1476.9 1443.6 1477.8 1443.3 1478.2 1445.5 1478.7 1445.2 1479.6 1444.2 1480 1443.1 1480.9 1444.6 1482.2 1443.1 1483.5 1442.4 1484.9 1442.3 1485.7 1442.5 1486.2 1446.2 1486.6 1443.1 1487.5 1444.6 1488.8 1443.2 1490.2 1445.3 1491.5 1443.9 1492.4 1443.1 1492.8 1444.3 1494.2 1442.4 1495.5 1442.5 1496.8 1444.3 1498.1 1444.2 1498.6 1442.4 1499 1441.8 1499.5 1445.4 1500.3 1443.8 1500.8 1446.5 1502.1 1442.5 1503 1442.1 1503.4 1445 1504.3 1443.6 1504.8 1441.6 1505.2 1442.7 1506.1 1444.4 1507 1444 1507.4 1447.4 1507.9 1443.5 1508.8 1443.7 1509.2 1444.6 1510.1 1444.1 1511 1443.6 1511.4 1445.6 1512.7 1442 1514.1 1442.4 1514.5 1444.1 1515.4 1443.4 1516.3 1444.6 1516.7 1445.4 1517.6 1443.6 1518 1443.2 1518.5 1445.4 1519.4 1446.8 1519.8 1444.1 1520.7 1443.7 1521.1 1443.1 1522 1444.5 1523.4 1444.1 1523.8 1442.8 1524.7 1442.7 1526 1444.5 1526.4 1440.5 1527.3 1442.4 1527.8 1446.3 1528.2 1444.7 1528.7 1443.2 1530 1441.5 1530.4 1445.5 1531.3 1444.2 1532.6 1443.3 1534 1442.4 1535.3 1443.3 1536.2 1443.7 1536.6 1442.4 1537.1 1445 1538 1444.2 1539.3 1446.4 1539.7 1444.6 1540.6 1445.6 1541.5 1444.5 1541.9 1442.5 1542.8 1442.5 1543.3 1447.4 1543.7 1442.8 1544.6 1443.8 1545.9 1443.5 1546.4 1444.4 1547.2 1444.7 1548.6 1444.4 1549.5 1444.4 1549.9 1446.2 1550.3 1443.7 1551.2 1444.7 1552.1 1446.1 1552.6 1445.6 1553.9 1444.4 1554.3 1444.8 1555.2 1443.2 1555.6 1443.6 1556.1 1445.7 1556.5 1447 1557 1444 1557.9 1444.4 1559.2 1444.2 1559.6 1445.9 1560.5 1445.4 1561.8 1443.8 1563.2 1443.6 1564.5 1444.3 1565.8 1443.3 1567.2 1441.6 1568 1443.2 1568.5 1443 1569.8 1445.7 1570.2 1442.7 1571.1 1442.9 1572 1441.4 1572.5 1444.2 1573.8 1445.7 1575.1 1444.3 1576.4 1444.3 1577.8 1445.6 1579.1 1443.6 1580 1444.4 1580.4 1447.2 1580.9 1444.5 1581.3 1445.1 1581.7 1442.2 1582.2 1444.3 1583.1 1444.8 1584 1443.7 1584.4 1443.4 1585.7 1443.6 1586.6 1444 1587.1 1443.3 1587.9 1444.8 1588.4 1443.4 1589.7 1443.2 1591 1443.4 1591.5 1443.6 1591.9 1446.2 1592.4 1446.5 1592.8 1444.4 1593.7 1444.1 1595 1441.8 1595.5 1446.8 1596.3 1446.2 1597.2 1446.7 1597.7 1444.4 1598.6 1443.8 1599 1443.5 1600.3 1440.9 1601.7 1443.5 1602.5 1444.9 1603 1444.6 1604.3 1442.7 1605.2 1444.3 1605.6 1442.2 1606.1 1445.9 1606.5 1446.4 1607 1443.7 1608.3 1445 1608.7 1442.9 1609.2 1442.6 1609.6 1445.3 1610.9 1444.9 1611.8 1444.5 1612.3 1448.6 1612.7 1445.6 1613.2 1443.3 1613.6 1443.3 1614.9 1442 1616.3 1441.9 1617.1 1442.2 1617.6 1440.7 1618.5 1439.8 1618.9 1439.3 1619.4 1436.9 1619.8 1432 1620.2 1431.7 1620.7 1426.9 1621.6 1425.1 1622 1422.7 1622.9 1420.9 1623.3 1423.5 1623.8 1427.2 1624.2 1426.2 1624.7 1429.5 1625.1 1431.2 1625.5 1434.6 1626.9 1438.6 1627.8 1439.6 1628.2 1442.8 1629.5 1444.2 1630.4 1443.6 1630.9 1443.9 1631.7 1444.7 1632.2 1444.8 1633.5 1445 1634.8 1445.8 1636.2 1443.4 1637 1444.5 1637.5 1446.9 1637.9 1445.8 1638.4 1443.5 1638.8 1442.4 1640.1 1442.9 1641.5 1444.1 1642.4 1442.3 1642.8 1445.1 1643.7 1444.3 1644.1 1446.6 1644.6 1443 1645 1444.2 1645.5 1447.4 1646.3 1446.2 1646.8 1442 1647.2 1443.3 1648.1 1442.6 1648.6 1442.8 1649.4 1441.5 1650.3 1443.3 1650.8 1448.2 1651.2 1444.2 1652.1 1442.9 1652.5 1443.4 1653.4 1444 1654.7 1446.3 1655.6 1444.7 1656.1 1443.6 1657.4 1443.5 1658.3 1445.3 1658.7 1442.6 1659.6 1442.8 1660.1 1445.5 1660.9 1444.9 1661.4 1443.4 1662.7 1444.9 1663.6 1444.6 1664 1445.1 1664.9 1445.7 1665.4 1445.5 1665.8 1445.5 1666.7 1447.2 1667.1 1443.8 1668 1442.5 1668.9 1444 1669.3 1446.2 1670.2 1444.9 1670.7 1445.1 1672 1445 1673.3 1443.6 1673.8 1444.7 1674.7 1443.1 1675.5 1443.5 1676 1444.5 1676.4 1445.2 1677.3 1447 1677.8 1444.8 1678.2 1444.8 1678.6 1447.4 1679.1 1444 1680 1442.3 1681.3 1444.1 1682.6 1443.7 1683.5 1444.9 1683.9 1441.4 1684.4 1445.1 1685.3 1443.5 1686.6 1445.2 1687 1445.1 1687.9 1444.5 1688.8 1444.7 1689.3 1445 1690.1 1443.9 1690.6 1440.9 1691.9 1444.1 1693.2 1445.9 1694.6 1444.1 1695.9 1447 1697.2 1444.3 1698.5 1445 1699.9 1443.4 1701.2 1443.1 1702.1 1441.8 1702.5 1445.4 1703 1442.2 1703.9 1444.1 1704.3 1447.2 1704.7 1439.9 1705.2 1444.4 1706.5 1442.6 1707.4 1444.1 1707.8 1441.4 1708.7 1439.7 1709.2 1441.3 1710 1442.2 1710.5 1439.5 1711.8 1441.2 1713.1 1442.1 1714.5 1440.8 1715.8 1442.9 1716.2 1440.2 1716.7 1439.7 1717.1 1443.2 1717.6 1438.7 1718 1440 1718.5 1443.9 1719.3 1444.2 1719.8 1441.4 1720.7 1440.6 1721.1 1441.8 1722 1441.3 1722.4 1443.6 1722.9 1443.6 1723.8 1444.8 1725.1 1443.3 1726 1445.2 1726.4 1442.4 1727.7 1443.7 1729.1 1444.1 1730 1443.4 1730.4 1445.6 1731.7 1443.5 1732.6 1442.2 1733.1 1445.2 1733.9 1446.8 1734.4 1444 1735.7 1444.6 1737 1445.4 1737.5 1448 1737.9 1443.1 1738.4 1443.9 1739.7 1444.7 1740.1 1443.9 1740.6 1442.3 1741 1447 1741.9 1445.5 1742.3 1445 1743.7 1447.1 1744.1 1446.1 1745 1445.2 1745.4 1446.4 1745.9 1447.4 1746.3 1443.3 1747.6 1444 1749 1444.4 1749.9 1444.4 1750.3 1444.1 1751.6 1444 1753 1445 1754.3 1445 1755.2 1443.4 1755.6 1447.6 1756.1 1446 1756.9 1444.3 1758.3 1443.8 1759.2 1445.2 1759.6 1442.1 1760 1442.1 1760.9 1444 1761.4 1443.6 1762.2 1445.3 1762.7 1443.7 1763.6 1445 1764 1445.3 1764.9 1445.2 1766.2 1445.8 1767.6 1445 1768.4 1443.5 1768.9 1443.7 1769.8 1442.7 1770.2 1444 1770.7 1443.5 1771.5 1444 1772.4 1442.4 1772.9 1445 1773.3 1438.8 1773.8 1442.6 1774.2 1441.8 1775.5 1440.5 1776.8 1442 1778.2 1440.6 1779.5 1441.7 1780.4 1441.1 1780.8 1439.4 1781.3 1443.3 1781.7 1442 1782.2 1440.9 1782.6 1440.7 1783 1443.6 1783.5 1443.3 1784.4 1443.4 1784.8 1442.3 1785.3 1442.8 1786.1 1442.3 1787.5 1443.5 1787.9 1448.8 1788.4 1441.4 1788.8 1444.8 1789.2 1442.9 1790.1 1444.1 1791.4 1445.6 1792.8 1444.8 1793.7 1444.2 1794.1 1443.4 1795.4 1442.5 1796.3 1443.1 1796.8 1445.7 1797.2 1447.1 1797.6 1443.3 1798.1 1445 1799 1446.3 1799.4 1446.8 1800.7 1442.2 1801.2 1445.4 1802.1 1445.3 1802.9 1446.7 1803.4 1448.5 1803.8 1445.1 1804.7 1446 1806 1443.6 1807.4 1443.2 1808.7 1443.2 1810 1445.3 1811.4 1447.7 1811.8 1444.9 1812.7 1445.3 1813.1 1444.2 1814 1445.7 1814.5 1443.8 1815.3 1444.4 1816.2 1444.3 1816.7 1441.7 1817.1 1445 1818 1445.5 1819.3 1447.8 1819.8 1445.6 1820.2 1444 1820.6 1447.7 1822 1443.4 1822.4 1446.7 1822.9 1446.4 1823.3 1444.7 1824.6 1448.4 1825.1 1443 1825.5 1445.5 1826 1445.1 1826.8 1445.5 1827.3 1444.5 1828.6 1442.6 1829.5 1443.4 1829.9 1444.5 1830.4 1447.1 1830.8 1447.8 1831.3 1442.8 1831.7 1445.6 1832.6 1446.7 1833 1443.2 1833.5 1444.3 1833.9 1445.4 1834.8 1446.3 1835.2 1443.1 1835.7 1446.1 1836.6 1447.4 1837 1445.9 1837.9 1445.6 1838.3 1445.6 1838.8 1443.2 1839.2 1443.2 1839.7 1446 1840.6 1445.2 1841.9 1444.6 1843.2 1445 1844.5 1443 1845.4 1444.2 1845.9 1447.4 1846.3 1442.9 1846.7 1445.2 1847.2 1445.5 1848.1 1444.1 1848.5 1445.1 1849.4 1444 1849.8 1446 1850.3 1446.7 1850.7 1442.2 1851.2 1442 1851.6 1444.2 1852.5 1443.8 1853.4 1444.8 1853.8 1444.2 1855.2 1445.6 1856 1445.4 1856.5 1445.3 1857.4 1444.9 1857.8 1445.4 1859.1 1446 1859.6 1446.9 1860 1442.2 1860.5 1444.8 1861.8 1442.6 1862.2 1446.2 1863.1 1446.1 1864.4 1446.9 1864.9 1444.1 1865.8 1445.1 1867.1 1444.3 1868 1443.7 1868.4 1444 1868.9 1445.6 1869.8 1447.3 1870.6 1448.1 1871.1 1447.7 1871.5 1444.7 1872.4 1443.6 1873.7 1446 1874.2 1448 1875.1 1446.3 1875.9 1445.8 1876.4 1446 1877.3 1445 1877.7 1446.6 1878.2 1444.5 1879 1445 1879.5 1445.7 1880.4 1444.1 1881.7 1446 1882.6 1444.1 1883 1441.5 1883.5 1443.8 1884.4 1445.5 1885.7 1445.4 1887 1443.1 1888.3 1445.1 1888.8 1446.3 1889.7 1446.9 1891 1446.9 1891.4 1446.9 1891.9 1444 1892.3 1444.4 1893.6 1444.9 1895 1445.9 1895.4 1445.3 1895.9 1443.9 1896.3 1448 1896.7 1442.9 1897.6 1444.7 1898.1 1447.4 1898.5 1447.3 1899 1444.3 1899.8 1445 1900.3 1443.8 1901.6 1444.5 1902 1446.5 1902.5 1446.8 1902.9 1443.9 1903.4 1447.9 1903.8 1446.2 1904.3 1445.2 1905.6 1446.8 1906.9 1446.3 1908.2 1444 1908.7 1446.2 1909.1 1446.9 1909.6 1443.2 1910 1448 1910.9 1446.8 1912.2 1446.5 1913.1 1446.9 1913.5 1448.8 1914 1444.3 1914.9 1444.3 1915.8 1446.1 1916.2 1444.1 1917.5 1445.7 1918.9 1443.4 1919.3 1445.2 1920.2 1445.2 1921.5 1445 1922 1444.3 1922.8 1445.9 1923.3 1447.6 1923.7 1448.6 1924.2 1442.7 1924.6 1444 1925.1 1446.3 1925.5 1448.3 1925.9 1443.9 1926.8 1445.8 1928.1 1444.9 1928.6 1443.2 1929 1448.2 1929.5 1445.9 1930.8 1445.1 1932.1 1447.2 1932.6 1446.5 1933.5 1446.7 1933.9 1447.1" fill="none" stroke="#0000ff" stroke-width="3.5" stroke-linejoin="round"/>
<path d="M164.3 1652.1 L165.6 1651.9 166.1 1652.5 167 1653.2 168.3 1651.8 169.6 1650.2 170.9 1651.1 172.3 1650.7 173.6 1653.4 174.9 1653.1 176.2 1651.2 177.6 1653.4 178.5 1652.2 178.9 1653 180.2 1651 181.6 1652.6 182.4 1650.8 182.9 1654.2 184.2 1653.4 185.5 1653 186.9 1651.1 188.2 1655.3 189.5 1653.3 190.8 1653.2 192.2 1655.3 193.5 1652.2 194.8 1653.6 195.7 1651.6 196.2 1649.8 196.6 1657.3 197 1655.5 197.5 1652.3 198.8 1654.6 200.1 1652.7 201 1653.6 201.5 1651.6 202.8 1654.7 204.1 1655.1 204.6 1653.7 205.4 1654.5 206.3 1653.4 206.8 1655 208.1 1654.1 209 1655.3 209.4 1654.1 209.9 1654.5 210.3 1650.7 210.8 1651.6 211.2 1650.5 211.6 1653.8 212.1 1656.1 212.5 1655.9 213.4 1655 214.3 1656.5 214.7 1651.9 215.2 1652.1 216.1 1653.4 216.9 1653.9 217.4 1657.3 217.8 1654.8 218.7 1655.9 220 1654.1 221.4 1655.4 222.3 1654.7 222.7 1655.9 224 1655.1 224.9 1655.8 225.4 1655 226.7 1652.6 227.6 1653.6 228 1655.6 228.9 1654.7 229.3 1655.5 230.7 1656.3 232 1655.9 232.9 1655.7 233.3 1657.4 233.8 1651.9 234.2 1654.3 234.6 1656.9 236 1655.8 237.3 1655.7 238.6 1655.5 239.5 1656.4 240 1657.6 240.4 1653.7 241.3 1652.7 242.6 1655.4 243.9 1656.3 245.3 1656.6 246.6 1652.5 247 1656.6 247.9 1657.9 249.2 1654 250.1 1652.4 250.6 1656.1 251.5 1654.8 251.9 1654.5 252.8 1655.1 253.2 1655.4 254.1 1656 254.5 1653.5 255.9 1655.4 257.2 1655.8 258.5 1656.6 259.9 1656 260.7 1657.6 261.2 1661 261.6 1657.3 262.5 1657.8 263.8 1656.1 264.3 1655.5 264.7 1653.7 265.2 1658.1 266.5 1655.6 267.8 1655.9 269.1 1656 269.6 1660.2 270 1653.8 270.5 1657.2 271.4 1657.9 271.8 1659.9 272.2 1657.3 273.1 1659.1 273.6 1655.8 274.5 1657.6 275.8 1657.7 277.1 1655.2 278 1654.6 278.4 1658.2 279.8 1657.3 280.2 1655.9 281.1 1656.6 282.4 1656.3 282.9 1655.5 283.7 1657.4 285.1 1655.9 285.5 1655.3 286 1653.9 286.4 1658 286.8 1660.3 287.3 1655.3 287.7 1658.2 288.6 1659.8 289.1 1657.8 289.9 1657 290.4 1656.6 290.8 1657.2 291.7 1658 292.2 1656.3 292.6 1660.6 293 1658.5 294.4 1657.9 295.3 1656.8 295.7 1662.9 296.1 1657.7 297 1659.4 297.5 1657.4 298.3 1655.8 298.8 1657.3 299.7 1655.9 300.1 1658.3 301 1659 301.4 1658.1 302.3 1660.1 303.2 1661.1 303.7 1655.8 304.1 1658 305 1658.6 305.9 1659.5 306.3 1655.2 306.8 1661 307.6 1661.1 308.1 1659.3 308.5 1658.9 309 1654.7 309.4 1659.3 310.3 1660.8 311.2 1659.5 311.6 1659.8 312.1 1658.8 312.5 1657.8 312.9 1663.3 313.4 1656.9 314.3 1657.4 314.7 1660.8 315.2 1660.2 315.6 1658.7 316.5 1658.6 316.9 1660.3 317.8 1658.5 318.3 1659.1 318.7 1662.6 319.1 1661.8 319.6 1659.7 320.9 1658.7 322.2 1660.3 323.6 1660.7 324 1659.5 324.9 1659 326.2 1661.9 327.1 1661.4 327.5 1663.5 328.9 1659.1 330.2 1659.6 331.5 1660.8 332.4 1659 332.9 1662.8 333.3 1661 334.2 1660.1 334.6 1659.3 335.5 1661.3 336.8 1656.9 337.3 1660.9 338.2 1660.7 339.5 1660.2 339.9 1659.1 340.4 1657.3 340.8 1663.1 341.7 1662.6 342.1 1661.7 342.6 1660 343.5 1661.2 344.8 1660.7 345.7 1659.8 346.1 1658.6 347.5 1661.3 347.9 1660.2 348.8 1658.8 350.1 1660.4 351.4 1660 352.8 1659.1 353.2 1660 354.1 1662 355.4 1660.9 356.7 1659 358.1 1656.4 359 1655.9 359.4 1655.4 359.8 1657.9 360.7 1657.5 361.6 1658.5 362.1 1661.9 362.9 1662.1 363.4 1659.5 364.7 1662 365.6 1662.7 366 1662.8 366.5 1660.4 366.9 1660.5 367.4 1662.5 368.2 1662.5 368.7 1659.9 369.1 1659.1 369.6 1662 370 1663.2 370.5 1662.9 371.3 1662.4 372.2 1660.8 372.7 1659.8 373.1 1665 374 1663.2 374.9 1662.9 375.3 1660.9 375.8 1661.5 376.7 1662.3 377.1 1661.3 378 1662.6 378.9 1663.7 379.3 1659.8 379.7 1661.7 380.6 1662 381.5 1660.9 382 1660.9 382.8 1662.4 383.3 1660.3 383.7 1662.8 384.6 1662 385.1 1661.1 385.5 1665.4 385.9 1665.6 387.3 1661.6 388.6 1662.4 389.9 1663.9 390.8 1663.4 391.3 1662.6 392.6 1662.8 393.5 1661.6 393.9 1664.6 394.3 1662.9 395.2 1664.4 396.6 1663.2 397.4 1663.7 397.9 1665.5 398.3 1659.8 399.2 1658.8 399.7 1662.6 400.5 1663.6 401.9 1663.1 402.3 1664.3 402.8 1660.5 403.2 1660.6 404.5 1661.6 405 1664.9 405.9 1663.5 407.2 1661.2 408.5 1665.3 408.9 1662.9 409.8 1661.9 410.3 1663.8 411.2 1664.9 412.5 1662.2 413.8 1662.1 414.3 1662.1 414.7 1664.9 415.1 1664.2 416.5 1664 417.8 1663.4 418.2 1662.1 418.7 1659.4 419.1 1664.9 419.6 1664.5 420.4 1663.2 421.3 1663.5 421.8 1665.9 422.7 1664 423.1 1664.3 424.4 1664 425.3 1662.9 425.8 1662.1 426.2 1664.4 427.1 1662.8 427.5 1662.5 428.4 1660.7 428.9 1662.8 429.7 1660.9 431.1 1662.2 431.5 1664.7 432 1664.7 432.4 1660.2 432.8 1664.6 433.3 1663.6 433.7 1662.5 435 1664.9 435.5 1663.4 436.4 1661.7 437.7 1663.7 438.6 1664.2 439 1663.8 439.5 1662.1 440.4 1662.6 440.8 1665 441.2 1658.1 441.7 1661.3 443 1660.8 444.3 1663.3 445.7 1662.3 446.6 1662.6 447 1664.4 447.9 1664.6 448.3 1661.7 449.6 1663.8 450.1 1664.6 451 1664.3 452.3 1662.8 453.6 1662.2 455 1665.6 456.3 1661.2 457.6 1664.5 458.9 1664 460.3 1662.7 461.6 1663 462.5 1664 462.9 1662.8 464.2 1663.9 465.1 1662.2 465.6 1664.9 466.5 1663 466.9 1660.4 467.3 1664 468.2 1663.8 469.6 1663.7 470.9 1664.5 472.2 1665.2 472.7 1662 473.5 1662.6 474.4 1662.4 474.9 1664 476.2 1664.1 476.6 1664.4 477.5 1663.3 478.8 1663.3 479.7 1664.2 480.2 1665.7 480.6 1661.4 481.1 1663.7 481.5 1666.3 482.4 1664.9 482.8 1661.7 484.2 1662.5 485.5 1660.9 486.8 1662.3 488.1 1663.8 489.5 1660.5 490.3 1661.2 490.8 1661.1 491.7 1660.8 492.1 1655.3 492.6 1655.3 493 1651.3 493.4 1652.1 493.9 1644.3 494.3 1643.1 494.8 1637.6 495.2 1637.1 495.7 1632.1 496.1 1630.7 496.5 1634.1 497 1633.8 497.4 1637.2 497.9 1645.3 498.3 1649.1 498.8 1648.7 499.2 1652.3 499.6 1658.8 500.1 1658 501 1659.7 501.4 1660.9 502.7 1661.2 504.1 1662.4 504.5 1664.1 505.4 1663.1 506.3 1664.1 506.7 1666.1 508 1662.4 508.9 1660.5 509.4 1662.3 510.7 1664.3 511.6 1662.3 512 1662.1 512.5 1666.7 512.9 1664.5 513.4 1661.4 513.8 1659.4 514.2 1664.2 514.7 1663.3 516 1665.7 516.5 1666.3 516.9 1662.1 517.3 1662.7 518.7 1663.4 520 1665.4 520.4 1662.3 521.3 1663 522.6 1663.4 524 1663.9 525.3 1663.1 525.7 1668 526.2 1666.3 526.6 1662.8 527.1 1662.1 527.5 1665.1 528 1664.6 529.3 1664 529.7 1668.8 530.2 1666.8 530.6 1666.1 531.9 1664.8 533.3 1666 534.1 1665.1 534.6 1663.9 535.5 1665.4 535.9 1666.5 536.8 1667.3 537.2 1666.5 538.6 1666 539.9 1665.1 540.3 1667.2 541.2 1667.2 541.7 1667.9 542.1 1665.1 542.6 1665.2 543 1668.4 543.9 1666.5 545.2 1664.9 545.6 1666.1 546.5 1667.3 547.4 1665.3 547.9 1662.5 548.3 1666.6 549.2 1666.3 550.1 1664.6 550.5 1665.6 551 1666.1 551.4 1663.3 551.8 1661.3 552.3 1663.4 553.2 1664.1 554.5 1661.8 555.8 1660.3 557.2 1659.6 558.5 1657.4 558.9 1653.6 559.4 1648.3 559.8 1646.4 560.2 1639.3 560.7 1630 561.1 1612.3 561.6 1596.7 562 1577.4 562.5 1555.8 562.9 1532.6 563.3 1513.4 563.8 1502.2 564.2 1502.6 564.7 1513.3 565.1 1532.2 565.6 1556.2 566 1579.6 566.4 1599 566.9 1614.9 567.3 1628.9 567.8 1641.6 568.2 1645.7 568.7 1649.1 569.1 1653.6 569.5 1653.7 570 1655.6 570.4 1659.4 571.8 1658.6 573.1 1662.3 573.5 1658.9 574.4 1660.1 574.8 1658.7 575.3 1657.5 575.7 1663 577.1 1662.3 578.4 1661.3 579.3 1662.9 579.7 1661.8 580.6 1663.3 581 1664.6 582.4 1661.2 582.8 1660.9 583.7 1662.7 584.1 1663.4 585 1663.8 585.5 1665.1 586.3 1665.9 587.7 1662.9 589 1663.9 590.3 1663.9 591.7 1663 592.1 1663.4 593 1663 594.3 1662.3 594.8 1662.3 595.2 1665.5 595.6 1665.6 596.5 1664.7 597 1664.8 598.3 1665.5 598.7 1665.7 599.6 1667.3 600.1 1664.7 600.9 1666.4 601.4 1665 602.3 1665.3 603.6 1663.8 604.5 1664.2 604.9 1664.4 606.3 1663.7 607.6 1661.9 608.9 1664.6 610.2 1664.1 611.1 1664.2 611.6 1664.1 612.9 1665.2 614.2 1663.4 615.5 1664.1 616.9 1663.8 617.3 1664.6 617.8 1660.9 618.2 1662.5 618.6 1663.3 619.5 1662.9 620.9 1663.3 622.2 1666.2 622.6 1664.6 623.5 1663.8 624.8 1666.1 625.3 1663 626.2 1662.7 627.5 1662.5 628.8 1661.9 629.7 1662.7 630.1 1661.9 630.6 1664.4 631 1665.5 631.5 1661.3 632.4 1663.2 632.8 1661.2 633.2 1661.5 634.1 1662.9 635.5 1663.4 636.8 1663.9 637.7 1663.5 638.1 1661 639 1661.9 639.4 1663 640.8 1661.5 641.2 1663.5 642.1 1661.7 643.4 1661.9 643.9 1663 644.3 1663.9 644.7 1658.7 645.6 1659.4 646.1 1659.1 647 1658.5 647.4 1653.1 647.8 1650 648.3 1643.8 648.7 1637.3 649.2 1629.9 649.6 1622.6 650.1 1615.6 650.5 1606.6 650.9 1603.4 651.4 1608.7 651.8 1613.8 652.3 1620.8 652.7 1631.6 653.2 1635.1 653.6 1640.7 654 1649.6 654.5 1653.5 654.9 1654.9 655.4 1656.3 655.8 1658.5 656.2 1660.8 656.7 1660.7 658 1663.5 659.3 1660.6 660.2 1661.2 660.7 1660.5 662 1664.1 663.3 1664.4 663.8 1662.7 664.7 1661.5 665.5 1661.1 666 1665.9 666.4 1662.6 666.9 1663.7 667.3 1664.6 668.2 1663.4 668.6 1664.2 670 1663.4 671.3 1662.5 672.6 1662.9 673.5 1663.4 673.9 1665.5 674.8 1664.1 675.3 1661.5 675.7 1662 676.2 1664.6 676.6 1664 677.5 1665.2 677.9 1664.7 679.3 1664.3 680.1 1664.7 680.6 1664.8 681.9 1663.1 683.2 1662.1 684.6 1665.5 685.9 1663.1 686.3 1664.3 687.2 1663.5 688.5 1662.2 689 1666.2 689.4 1664.6 689.9 1664.2 690.3 1663.2 691.2 1664.2 692.1 1665.6 692.5 1665.8 693.4 1666.2 693.9 1664 695.2 1665.8 695.6 1662.1 696.5 1663.4 697.8 1662.9 699.2 1663.2 699.6 1663.2 700.5 1662.6 700.9 1665 701.8 1665.3 702.3 1663.9 703.1 1662.1 704 1664.1 704.5 1663.2 705.4 1664.8 705.8 1664.9 706.2 1664.3 707.1 1664.9 707.6 1665 708.5 1665 709.3 1664 709.8 1662.5 711.1 1664.7 712 1664.6 712.4 1660.1 712.9 1663.2 713.8 1662.8 715.1 1666.3 715.5 1664.4 716 1659.9 716.4 1661.9 717.7 1665.5 719.1 1665.3 720.4 1664.3 720.8 1664.8 721.7 1664.5 722.6 1664.2 723.1 1663.9 723.9 1665.8 724.4 1662.5 724.8 1662.3 725.7 1664.2 726.6 1664 727 1661.5 727.5 1662.9 727.9 1664.5 728.4 1665.6 729.7 1664.7 730.1 1662.9 730.6 1662.1 731 1665.4 731.5 1662.8 732.3 1663.3 733.7 1662.2 735 1664.3 736.3 1666.2 737.7 1662.7 739 1663.1 740.3 1664.7 741.6 1663.9 743 1665.1 744.3 1663.8 745.6 1665.3 746.9 1662.4 747.4 1665.3 748.3 1664.7 749.2 1664.6 749.6 1661.8 750 1664.5 750.9 1663.2 751.4 1665.3 752.2 1664.8 753.6 1662.3 754.9 1664.8 756.2 1664.3 756.7 1664.5 757.6 1664.4 758.9 1664.6 760.2 1663.3 761.5 1664.7 762.9 1665.7 763.8 1665 764.2 1664 764.6 1663.8 765.5 1662.4 766.8 1666.9 767.3 1665.3 768.2 1663.4 769.5 1663.1 770.8 1666.7 772.2 1664.8 773.5 1664.8 773.9 1666.1 774.8 1664.3 775.7 1666.2 776.1 1662 776.6 1665.1 777.5 1665.7 777.9 1665 778.4 1663.4 778.8 1662 779.7 1660.7 780.1 1664.8 781 1663.7 781.4 1665.5 781.9 1663.5 782.3 1661.4 782.8 1660.7 784.1 1661.6 785.4 1662.9 785.9 1658 786.3 1659.5 786.8 1664 787.2 1661.5 788.1 1659.9 788.5 1659.6 789 1657.2 789.4 1655.8 789.9 1657.8 790.3 1651.8 790.7 1652.3 791.2 1642.6 791.6 1638.8 792.1 1629.3 792.5 1615.3 793 1597.9 793.4 1579.6 793.8 1557.9 794.3 1532.8 794.7 1515.6 795.2 1502.1 795.6 1503.1 796 1514.8 796.5 1536.8 796.9 1557.8 797.4 1578.1 797.8 1600.4 798.3 1614.5 798.7 1628.8 799.1 1641.3 799.6 1646.4 800 1651.7 800.9 1652.5 801.4 1656.7 802.7 1660.4 804 1658.5 805.3 1662.9 806.7 1659.7 807.5 1661.3 808 1660.9 808.4 1662.5 808.9 1663.2 809.3 1665.4 810.6 1661.3 811.1 1662.7 811.5 1664.2 812 1664.9 812.9 1664.4 813.3 1662 813.7 1664.8 814.2 1664.3 814.6 1661.8 815.5 1662.6 816 1663.4 817.3 1661.9 817.7 1661.5 818.2 1664.2 818.6 1665.7 819.5 1664.6 819.9 1663.2 821.3 1662.8 822.6 1665.3 823.5 1664.4 823.9 1665 824.4 1661.7 824.8 1662.5 825.2 1664.3 826.6 1664.8 827.5 1664.2 827.9 1663 828.8 1663 829.2 1663.2 830.1 1664.5 830.6 1661.6 831 1664.1 831.9 1662.3 832.3 1664.3 833.2 1662.6 833.7 1664.1 834.1 1664.8 834.5 1667.8 835 1665 835.9 1666.7 836.3 1663.7 837.2 1665.4 837.6 1664.4 838.5 1665.4 839.8 1664.4 841.2 1664.4 842.1 1663.1 842.5 1663.4 843.4 1663.6 843.8 1662.8 845.2 1662.6 846.5 1661.8 846.9 1664.2 847.4 1658.9 847.8 1661 849.1 1659.2 850.5 1656.7 850.9 1653 851.8 1653.6 853.1 1653.3 853.6 1655.4 854.4 1656.8 854.9 1659.1 855.8 1660.9 857.1 1661.8 858 1662.2 858.4 1662 859.8 1662.9 860.2 1666.2 860.6 1665.6 861.1 1662.2 862 1663.7 862.4 1660.3 862.8 1663.3 863.7 1664.1 864.6 1664.7 865.1 1660.4 865.5 1662.9 866.4 1662.3 866.8 1663.4 867.7 1663.3 868.2 1662.6 868.6 1666.1 869 1665.4 869.9 1664.2 870.4 1664.1 871.3 1663.4 871.7 1666.2 872.1 1665.2 873 1663.5 873.9 1664.5 874.4 1663.9 875.7 1663.6 876.1 1661.6 876.6 1665.6 877 1664.1 877.4 1661.7 877.9 1667.3 878.3 1665.5 879.7 1663.1 881 1663.7 881.4 1663.4 881.9 1667.7 882.3 1666.2 883.2 1665.5 883.6 1663.5 885 1665 886.3 1663.8 887.6 1665.2 888.5 1663.6 889 1663.6 889.8 1664.2 890.3 1665.7 890.7 1660.7 891.6 1662.4 892.5 1661.7 892.9 1657.4 893.4 1656.2 893.8 1649.5 894.3 1648.9 894.7 1645.1 895.1 1643.9 895.6 1642.9 896.5 1641.4 896.9 1643.5 897.4 1650.5 897.8 1650.5 898.2 1656.1 898.7 1656.5 899.1 1659.4 899.6 1659.8 900.9 1660.8 901.3 1664.8 901.8 1663.9 902.2 1661.1 902.7 1662.5 903.6 1662.7 904 1664.4 904.9 1664.7 905.3 1661.6 905.8 1660.6 906.2 1663.8 907.5 1663.5 908.9 1663 910.2 1664.3 911.1 1665.2 911.5 1665.8 912 1663.2 912.8 1663.8 914.2 1663.7 914.6 1663.9 915.1 1667.2 915.5 1666.2 915.9 1668.5 916.4 1663.1 916.8 1664.4 918.1 1662.1 919.5 1663.7 920.8 1662.2 921.2 1662.9 922.1 1664.3 922.6 1663.3 923 1669.2 923.5 1666.9 923.9 1664.6 924.3 1662.8 924.8 1661.4 925.2 1663 926.1 1662.8 927.4 1663.9 928.3 1664.1 928.8 1661.5 929.2 1662.7 930.1 1663.3 931 1662.7 931.4 1665.5 931.9 1665 932.7 1666.6 934.1 1664.3 935.4 1663.1 936.7 1663.1 938.1 1664.1 938.5 1662.2 939.4 1663.7 939.8 1664 940.7 1663.7 941.6 1664.5 942 1665.5 943.4 1664 944.7 1665.2 945.1 1665.2 945.6 1667.3 946 1663 946.5 1666.8 946.9 1665.3 947.3 1663.9 947.8 1664.2 948.7 1663 949.1 1664.8 949.6 1667.2 950 1662.3 951.3 1664.8 951.8 1661.4 952.2 1667 952.7 1664.9 953.5 1664 954 1664 955.3 1664.1 955.8 1664.6 956.6 1663 958 1663.7 959.3 1664.6 960.6 1664.1 961.9 1664.5 963.3 1662.4 963.7 1663.8 964.6 1664.5 965.9 1663.7 967.3 1662.8 968.1 1663.1 968.6 1664.9 969.9 1663.6 970.4 1663.4 971.2 1661.6 972.6 1665 973.9 1661.3 974.8 1660 975.2 1664.9 976.1 1663.5 976.5 1661.1 977.4 1661.2 977.9 1660.5 978.8 1662.3 979.2 1659.4 980.1 1661.3 980.5 1658.5 981 1658.8 981.4 1655.8 981.9 1655.5 982.3 1653.2 982.7 1648.8 983.2 1640.5 983.6 1630.4 984.1 1620.8 984.5 1612.1 985 1597.8 985.4 1589.3 985.8 1583.6 986.3 1583.6 986.7 1587.7 987.2 1597.4 987.6 1608.8 988 1621.2 988.5 1631.1 988.9 1641 989.4 1646.5 989.8 1649.1 990.3 1654 990.7 1657.2 991.1 1659.5 992 1659.1 992.5 1661.5 992.9 1661.2 993.8 1661.6 994.7 1661.7 995.1 1660.9 996.5 1664.2 996.9 1663.8 997.8 1663.4 999.1 1663 999.6 1661.7 1000 1665.1 1000.4 1659.7 1000.9 1663.4 1001.8 1661.5 1003.1 1661.6 1004.4 1663.1 1005.3 1663.9 1005.7 1664.1 1007.1 1664.1 1008.4 1664.1 1009.7 1665.5 1010.2 1664.3 1010.6 1663.4 1011.1 1661.6 1012.4 1662.4 1012.8 1664.9 1013.7 1665 1014.2 1665.5 1015 1665.4 1015.5 1662.5 1016.4 1663.3 1017.7 1664.6 1019 1663 1019.9 1664.6 1020.3 1666 1020.8 1664.9 1021.7 1665.2 1023 1663.9 1023.4 1663.7 1024.3 1665.4 1024.8 1665.4 1025.7 1666.7 1026.5 1665.3 1027 1659.1 1027.4 1664.4 1028.3 1664.1 1028.7 1662.9 1029.6 1664.6 1031 1663.7 1032.3 1666 1033.6 1664.3 1034.5 1662.9 1034.9 1661.3 1035.4 1664.1 1036.3 1662.8 1037.6 1664.9 1038.5 1664.2 1038.9 1667.9 1039.4 1662.1 1039.8 1663.7 1040.3 1666.9 1041.6 1663 1042.9 1664.8 1044.2 1663.6 1045.6 1662.7 1046.9 1665.1 1047.3 1666 1047.8 1660.2 1048.2 1663.2 1049.1 1663.5 1049.5 1661.1 1050 1665.4 1050.9 1664.3 1052.2 1663.3 1053.5 1665.5 1054 1664.9 1054.9 1663.1 1055.7 1662 1056.2 1662.5 1057.5 1664 1058.8 1665.1 1060.2 1664.9 1061 1664.5 1061.5 1663.1 1062.4 1662.3 1062.8 1662.8 1064.1 1661.4 1065 1662.9 1065.5 1664.1 1065.9 1659 1066.4 1656.6 1066.8 1654 1067.2 1654.8 1067.7 1650.4 1068.1 1650.7 1068.6 1645.7 1069.5 1647 1069.9 1647.7 1070.3 1650.4 1070.8 1654.4 1071.7 1655.9 1072.1 1658.5 1072.5 1661.8 1073.4 1663.6 1074.8 1663.4 1075.6 1663.2 1076.1 1660.5 1076.5 1665.4 1077.4 1664.2 1078.7 1663.9 1080.1 1666.1 1080.5 1665.7 1081.4 1664.4 1082.7 1664.9 1083.6 1665.3 1084 1664.8 1084.5 1666 1085.4 1664.4 1086.7 1664.4 1087.6 1664.3 1088 1662.6 1089.4 1663.4 1090.2 1664.1 1090.7 1662.9 1091.6 1664.1 1092 1665.8 1092.9 1665 1093.3 1662.4 1094.7 1665.8 1095.6 1664.1 1096 1662.1 1096.4 1665.5 1097.3 1664 1098.6 1664.5 1099.5 1665.6 1100 1661.2 1100.4 1664.2 1101.3 1665.2 1102.6 1663.3 1104 1662.5 1104.4 1663.9 1105.3 1663.6 1106.6 1662.7 1107.9 1665.5 1108.4 1664.2 1109.3 1664.2 1110.6 1664.1 1111.9 1663.1 1113.2 1665.5 1114.1 1664.4 1114.6 1664.4 1115.9 1664.1 1117.2 1663.3 1118.1 1664 1118.6 1662.5 1119 1666.3 1119.9 1664.4 1121.2 1662.8 1121.7 1663.8 1122.5 1664.1 1123.9 1664.9 1125.2 1664.4 1126.5 1663.7 1127 1666.3 1127.8 1667.3 1128.3 1664.5 1129.2 1663 1130.1 1664.1 1130.5 1660.8 1131.8 1662.7 1132.3 1663.7 1133.2 1663.3 1134 1663.3 1134.5 1663.1 1135.8 1666.6 1137.1 1663.8 1138 1664.5 1138.5 1666.8 1138.9 1665.3 1139.8 1663.8 1140.2 1663.2 1141.1 1664.3 1142.4 1663 1143.8 1664.6 1144.7 1662.8 1145.1 1665.2 1146.4 1664.6 1146.9 1663.2 1147.3 1661.3 1147.8 1661.2 1148.2 1660.1 1148.6 1657.9 1149.1 1656.1 1149.5 1654.1 1150 1652.6 1150.4 1651.4 1151.7 1651.7 1152.2 1654.9 1152.6 1654.4 1153.1 1657.3 1153.5 1659.9 1154.4 1660.9 1155.3 1661.8 1155.7 1665.2 1157 1660.8 1157.5 1661.7 1157.9 1663.2 1158.4 1664.3 1158.8 1666 1159.3 1661.9 1159.7 1664 1161 1664.3 1162.4 1665.3 1163.7 1666.1 1164.1 1664.3 1165 1665.2 1166.3 1664.8 1167.7 1663.1 1168.1 1662.9 1168.5 1666.7 1169 1665.1 1170.3 1663.1 1171.2 1663.5 1171.6 1662.7 1173 1663.8 1173.9 1663.1 1174.3 1665.4 1175.6 1665.5 1176.1 1660.9 1176.5 1663.1 1177 1665.4 1177.8 1663.9 1178.3 1663.2 1179.6 1663.6 1180.1 1662.7 1180.9 1664.6 1181.8 1665.2 1182.3 1663.2 1183.1 1662.8 1183.6 1660.1 1184 1663.6 1184.9 1661.9 1185.4 1663.9 1186.2 1664.8 1187.1 1663 1187.6 1663.2 1188 1664.7 1188.9 1664.6 1189.8 1664 1190.2 1666.6 1191.6 1664.7 1192.9 1664.8 1194.2 1664.7 1195.5 1662.6 1196 1664.8 1196.9 1665.3 1197.3 1664.2 1197.7 1661.7 1198.2 1666.2 1199.5 1662.5 1200.4 1662.5 1200.8 1659.4 1201.3 1660.7 1202.2 1661 1203.5 1662.8 1204.4 1663.4 1204.8 1663.3 1206.2 1663.1 1207.5 1664.6 1208.8 1664.5 1210.1 1665 1211.5 1663.6 1212.8 1666.8 1213.2 1666 1214.1 1664.8 1215.4 1664.7 1216.8 1666.2 1218.1 1665 1218.5 1664.5 1219.4 1663.7 1220.8 1664 1222.1 1664.4 1223.4 1661.5 1223.8 1662.3 1224.3 1659.4 1224.7 1656.8 1225.6 1658.6 1226.1 1654.7 1226.5 1657.9 1226.9 1658.1 1227.4 1660 1228.3 1661 1228.7 1663.5 1230 1662.6 1231.4 1663.4 1232.7 1664.5 1233.6 1664.2 1234 1665.7 1234.9 1666 1235.4 1661.7 1235.8 1663.4 1236.7 1664.6 1238 1665.3 1238.4 1664.9 1239.3 1665.1 1240.7 1664.1 1242 1663.2 1242.9 1663.8 1243.3 1666.6 1243.8 1665.6 1244.2 1662.9 1244.6 1663.5 1245.1 1666.3 1245.5 1667.3 1246 1662.9 1246.9 1664.4 1247.3 1661.8 1247.7 1665.3 1248.6 1664.9 1249.9 1665.3 1251.3 1664.2 1251.7 1666 1252.6 1665.5 1253.9 1665 1255.3 1663.6 1256.6 1663.7 1257.5 1663.7 1257.9 1662.4 1258.8 1663.1 1259.2 1663.6 1260.6 1664.2 1261.9 1664.5 1263.2 1664.2 1264.5 1665.4 1265 1663.6 1265.9 1665.2 1267.2 1664 1267.6 1664.2 1268.5 1662.9 1269.9 1664.9 1270.3 1666.3 1271.2 1665.2 1272.1 1664.2 1272.5 1663 1273 1662.7 1273.8 1664.5 1275.2 1665.2 1276.5 1665.5 1276.9 1666.3 1277.4 1662.9 1277.8 1664 1279.1 1665.4 1279.6 1662 1280 1663 1280.5 1666 1281.4 1664.5 1281.8 1662.8 1282.2 1662.2 1282.7 1665.5 1283.1 1667.1 1283.6 1665.9 1284.5 1665.2 1285.8 1664.1 1286.7 1662.3 1287.1 1666.2 1287.6 1665.4 1288 1662.4 1288.4 1668 1288.9 1667.1 1289.3 1664.7 1289.8 1664.7 1290.7 1666.3 1291.1 1664.1 1292.4 1664.4 1292.9 1664 1293.7 1664.8 1294.6 1663.6 1295.1 1661 1295.5 1662.7 1296 1664.9 1296.4 1665.4 1296.8 1667.4 1297.3 1662.8 1297.7 1663.4 1298.6 1664 1299.1 1662.7 1299.5 1665.6 1300.4 1663.7 1300.8 1663.6 1301.7 1664.1 1303 1661.4 1303.5 1664.5 1304.4 1664.1 1304.8 1664 1305.7 1663.3 1307 1664.5 1308.3 1664.1 1309.2 1663.9 1309.7 1666.1 1311 1663.1 1311.4 1666.7 1311.9 1666 1312.3 1663.6 1313.2 1664 1313.7 1667.1 1314.1 1666.7 1315 1666.4 1315.4 1666.7 1316.3 1665.5 1317.6 1665.7 1318.1 1663.8 1318.5 1661.7 1319 1666.1 1319.4 1665.1 1320.3 1666.3 1320.7 1666.2 1321.6 1665.2 1322.5 1664.6 1322.9 1666.4 1324.3 1664.1 1325.6 1666.4 1326 1666.8 1326.9 1665 1328.3 1662.6 1329.6 1664.9 1330.5 1665 1330.9 1665.2 1331.8 1666.4 1332.2 1665.6 1332.7 1662.8 1333.1 1663.2 1333.6 1666.7 1334.4 1666.5 1334.9 1665.2 1335.3 1662.6 1335.8 1662.9 1336.2 1665.2 1337.5 1666.2 1338 1665.9 1338.4 1663 1338.9 1663 1340.2 1663.4 1340.6 1665.4 1341.5 1666.5 1342 1665.5 1342.9 1665.7 1344.2 1666.7 1344.6 1664.3 1345.5 1665.3 1346.4 1666.5 1346.8 1666.6 1347.7 1665.8 1348.2 1666.6 1349 1666.6 1349.5 1666.8 1350.8 1666.5 1351.3 1664.4 1351.7 1664.1 1352.1 1667.5 1353.5 1664.3 1354.8 1663.7 1356.1 1663.6 1357.5 1664.9 1358.3 1663.2 1358.8 1666.9 1359.2 1666.2 1360.1 1665.1 1361 1664.6 1361.4 1666.8 1361.9 1665 1362.3 1663.7 1362.8 1662.3 1363.2 1662.2 1363.6 1666.9 1364.1 1665.2 1365 1665.3 1365.4 1663.5 1366.3 1664.1 1366.7 1661.2 1367.2 1661.8 1368.1 1662.8 1368.5 1663.7 1369 1664.9 1369.4 1667.1 1369.8 1666.1 1370.3 1662.9 1370.7 1662.6 1372.1 1664.2 1372.9 1664.6 1373.4 1660.8 1374.7 1664.6 1375.1 1662.3 1376 1663 1376.5 1662.4 1376.9 1660.1 1377.4 1659.8 1377.8 1654.4 1378.2 1653.7 1378.7 1650.2 1379.1 1644.8 1379.6 1642 1380 1637.9 1380.5 1636.3 1380.9 1632.1 1381.3 1632.3 1381.8 1635.8 1382.2 1641.4 1382.7 1645.7 1383.1 1649.7 1383.6 1651.6 1384 1655.9 1384.4 1660.1 1385.3 1660 1386.7 1663.2 1388 1662.7 1389.3 1665.2 1390.6 1664.1 1391.1 1663.9 1392 1662.3 1393.3 1665.2 1393.7 1663.6 1394.6 1663.9 1395.5 1664 1395.9 1667.2 1396.4 1666 1396.8 1664.3 1397.3 1663.4 1398.2 1665.1 1398.6 1665.9 1399 1664.2 1399.9 1664.3 1401.3 1665.2 1402.6 1665.8 1403 1662.9 1403.9 1664.6 1404.8 1665.9 1405.2 1663.9 1406.1 1665.5 1406.6 1661.7 1407 1666.1 1407.4 1665.3 1407.9 1660.8 1408.3 1662.8 1408.8 1667.6 1409.2 1665.4 1410.5 1665.9 1411 1661.8 1411.4 1663 1411.9 1666.9 1412.3 1665.7 1413.2 1665.1 1413.6 1663.1 1414.1 1662 1414.5 1665.2 1415.8 1664.2 1416.7 1664.1 1417.2 1660.8 1418.5 1658.7 1418.9 1653.2 1419.4 1650.4 1419.8 1649.6 1421.2 1647.6 1421.6 1651.1 1422.5 1651.6 1422.9 1657.5 1423.4 1659.1 1423.8 1659.8 1424.3 1662.4 1425.1 1661.1 1425.6 1663.5 1426.5 1663.6 1427.8 1666 1429.1 1666.3 1430 1666.9 1430.4 1662.5 1430.9 1664.8 1431.8 1664.8 1433.1 1663 1434.4 1665.6 1434.9 1664.6 1435.3 1662.9 1435.8 1662 1436.2 1664.1 1436.6 1664.5 1437.1 1667.2 1437.5 1665.8 1438.4 1665.9 1439.7 1665.6 1440.2 1665.4 1440.6 1662.1 1441.1 1660.9 1442.4 1660.9 1442.8 1655.2 1443.7 1654.6 1444.2 1658.2 1445 1659.6 1445.5 1659.4 1445.9 1657.3 1446.4 1661.6 1447.7 1664 1449 1662.9 1449.5 1662.1 1449.9 1665.7 1450.4 1668.6 1450.8 1662.4 1451.2 1663.1 1451.7 1665 1453 1664.5 1453.9 1663.3 1454.3 1663.7 1455.2 1663.9 1455.7 1661.7 1456.1 1666 1456.6 1667.5 1457 1663.6 1457.4 1662.4 1457.9 1667.3 1458.3 1664.7 1459.6 1666.7 1461 1663.4 1461.4 1666 1461.9 1666.1 1462.3 1662.9 1463.6 1665.5 1464.1 1665.8 1465 1666.1 1465.8 1666 1466.3 1666.7 1466.7 1663.6 1467.6 1665.5 1468.9 1664.3 1469.4 1665.2 1470.3 1663.4 1471.6 1662.9 1472 1663.9 1472.9 1665.2 1473.8 1666 1474.2 1663.8 1475.1 1664.3 1475.6 1660 1476 1665.9 1476.9 1664.3 1477.8 1664 1478.2 1663.5 1478.7 1663.4 1479.1 1665.5 1479.6 1666.7 1480 1666.5 1480.9 1665.6 1482.2 1661.8 1482.7 1665.2 1483.1 1665.6 1483.5 1667.3 1484.9 1664.6 1485.7 1662.6 1486.2 1662.1 1487.1 1663.4 1487.5 1664.4 1488.8 1665.4 1490.2 1666.7 1491.1 1665.2 1491.5 1666.2 1492.8 1666.3 1493.3 1664.1 1494.2 1665.7 1494.6 1667.1 1495.5 1666.1 1495.9 1665.9 1496.4 1663.9 1496.8 1663.6 1497.7 1664.3 1498.1 1666.1 1498.6 1666.7 1499.5 1665.5 1500.3 1666.6 1500.8 1666.6 1501.7 1665.3 1502.1 1664.1 1503.4 1666.3 1504.3 1664.7 1504.8 1661.9 1505.2 1664.4 1506.1 1665.7 1506.5 1663.9 1507 1663.5 1507.4 1666.2 1508.8 1664.1 1509.6 1662.2 1510.1 1663.9 1511 1664 1511.4 1666.4 1511.9 1666.3 1512.7 1665.9 1513.2 1664.3 1514.1 1663.9 1515.4 1664.6 1515.8 1663.2 1516.3 1662.1 1516.7 1665.3 1518 1665.7 1519.4 1666.5 1519.8 1664.2 1520.7 1663.3 1521.6 1664.2 1522 1668 1522.5 1663.7 1523.4 1664.7 1524.7 1664.3 1526 1663.9 1526.9 1664.8 1527.3 1663.8 1528.7 1664.8 1530 1664.1 1530.4 1663.1 1531.3 1663 1532.6 1663.4 1534 1663 1535.3 1663.3 1535.7 1665.2 1536.6 1664.3 1537.5 1665 1538 1663.9 1539.3 1666.6 1540.2 1666.9 1540.6 1664.2 1541 1663.9 1541.9 1662.3 1542.4 1665.9 1543.3 1665.4 1543.7 1662.2 1544.6 1662 1545.9 1664.3 1546.8 1666.3 1547.2 1663.5 1548.6 1665.9 1549.9 1664 1550.8 1663.1 1551.2 1665.4 1552.6 1663.5 1553.9 1663.9 1555.2 1665.6 1556.5 1664.7 1557.4 1665.8 1557.9 1667 1558.3 1665.2 1559.2 1664.1 1560.5 1663.7 1561 1665.2 1561.8 1663.9 1562.3 1660.4 1562.7 1666.5 1563.2 1664.8 1563.6 1665 1564.5 1663.3 1565.8 1665.4 1567.2 1665.4 1568 1663.6 1568.5 1666.6 1568.9 1664 1569.8 1665.7 1570.7 1665.8 1571.1 1663 1571.6 1662.7 1572 1665.7 1572.5 1667.4 1572.9 1663.2 1573.8 1664.6 1574.2 1665.2 1575.1 1664.2 1576.4 1664.1 1577.8 1664.8 1579.1 1664.3 1580.4 1664.3 1581.7 1664.3 1583.1 1663.7 1583.5 1658.1 1584.4 1660 1585.7 1659.8 1586.2 1662.2 1587.1 1663.4 1587.9 1662.9 1588.4 1664.1 1589.7 1662.1 1590.2 1664.3 1591 1664.2 1592.4 1663.8 1593.7 1668.3 1594.1 1664.1 1595 1664.7 1596.3 1666.3 1597.7 1665.7 1599 1666.2 1600.3 1666 1601.7 1664.7 1602.5 1666.5 1603 1666.5 1603.4 1663.1 1604.3 1664 1604.8 1662 1605.2 1666.1 1605.6 1665 1606.5 1666 1607 1667.1 1607.4 1664 1608.3 1665 1609.6 1665.8 1610.9 1664.7 1612.3 1664.5 1613.2 1665.2 1613.6 1668.3 1614 1665.9 1614.9 1664.4 1615.4 1663.9 1615.8 1662.1 1616.3 1667.6 1616.7 1660.6 1617.1 1663.4 1617.6 1663.6 1618.9 1661.3 1620.2 1658.7 1620.7 1653.8 1621.6 1652.3 1622 1654.7 1622.9 1654.3 1623.3 1649.9 1623.8 1651.6 1624.2 1655.8 1625.5 1660.7 1626 1659.7 1626.4 1663.2 1626.9 1661.8 1627.3 1664.3 1628.2 1662.8 1628.6 1666.7 1629.1 1665.7 1629.5 1663.4 1630.9 1663.2 1631.3 1663.9 1632.2 1662.6 1632.6 1665.5 1633.5 1664 1634 1666 1634.4 1666.5 1634.8 1668.7 1635.3 1664.1 1636.2 1664.2 1636.6 1663.1 1637 1666.2 1637.5 1667.2 1637.9 1663.4 1638.8 1662.1 1639.3 1665.1 1640.1 1664.1 1641.5 1663.6 1641.9 1664.2 1642.4 1667 1642.8 1667.2 1643.2 1664.9 1643.7 1664.1 1644.1 1662.3 1644.6 1666.4 1645 1666.6 1645.5 1663.7 1646.8 1665.6 1648.1 1666.8 1649.4 1665.4 1650.8 1667.5 1651.2 1667.8 1652.1 1665.9 1653.4 1663.7 1653.9 1669.4 1654.3 1666.1 1654.7 1664.5 1656.1 1666.9 1656.5 1665.1 1657.4 1666.3 1657.8 1666.1 1658.7 1666.2 1660.1 1664.9 1660.9 1665.8 1661.4 1662 1661.8 1665.2 1662.7 1665.3 1663.6 1664.8 1664 1664.3 1664.9 1665.8 1665.4 1666.8 1665.8 1665 1666.7 1664.3 1668 1665.1 1668.9 1663.8 1669.3 1666.5 1670.7 1665.8 1671.1 1665.7 1672 1664.2 1672.9 1664.8 1673.3 1665.5 1674.7 1665.2 1675.5 1664.6 1676 1668.4 1676.9 1670.3 1677.3 1667.3 1677.8 1660.9 1678.2 1664.7 1678.6 1668.1 1679.1 1665.4 1680 1665.4 1680.8 1664.4 1681.3 1662.6 1682.6 1667.1 1683.5 1665.4 1683.9 1662.9 1684.4 1665.5 1684.8 1665 1685.3 1668.7 1685.7 1664 1686.6 1663.8 1687.5 1664.4 1687.9 1667 1688.4 1667.7 1688.8 1664.8 1689.3 1665.2 1689.7 1665.8 1690.6 1666.1 1691 1663.4 1691.5 1663.5 1691.9 1665.6 1692.8 1664.5 1693.2 1664.9 1693.7 1665.3 1694.6 1663.8 1695 1665.4 1695.9 1665.2 1696.8 1663.4 1697.2 1660.5 1697.7 1663.8 1698.5 1663.4 1699 1665.3 1699.9 1666.3 1701.2 1664.2 1702.5 1664.9 1703.4 1663.7 1703.9 1663.4 1705.2 1666.3 1706.5 1666.3 1706.9 1664.2 1707.4 1663.1 1707.8 1661.5 1709.2 1664.1 1709.6 1662.4 1710.5 1660.6 1711.8 1661.7 1713.1 1661.3 1714.5 1661 1715.8 1663 1716.7 1664.2 1717.1 1664.7 1718 1665 1718.5 1663 1719.8 1665.8 1721.1 1664.5 1722 1665.1 1722.4 1669.2 1722.9 1665.4 1723.8 1665.8 1725.1 1664.7 1726.4 1663.2 1726.9 1664.4 1727.3 1666.3 1727.7 1666.9 1728.6 1667.5 1729.1 1668.1 1729.5 1661.6 1730 1662.7 1730.4 1664.7 1731.3 1666.4 1731.7 1665.3 1732.6 1665.3 1733.1 1666 1733.5 1667 1734.4 1667.2 1734.8 1664.1 1735.7 1666.1 1736.1 1665.3 1737 1664.7 1737.9 1666 1738.4 1668.4 1739.7 1664.9 1740.1 1663.5 1741 1665.4 1742.3 1667 1743.7 1665.9 1745 1665.6 1746.3 1666.7 1747.6 1666.4 1749 1663.3 1749.4 1667.2 1749.9 1668.5 1750.3 1663.4 1750.7 1663.3 1751.2 1665.8 1751.6 1666.6 1753 1665.4 1754.3 1665.3 1755.6 1666.3 1756.9 1663.3 1757.4 1662.5 1757.8 1666.8 1758.3 1664.8 1759.6 1663.3 1760.9 1669 1761.4 1665.8 1762.2 1665.1 1763.6 1664.8 1764.9 1663.7 1766.2 1664.4 1767.6 1666.6 1768 1665.2 1768.4 1662.8 1768.9 1663.1 1770.2 1664.8 1771.1 1666.3 1771.5 1662.4 1772.4 1663.5 1772.9 1661.2 1773.3 1660.5 1773.8 1663.3 1774.2 1663.6 1774.6 1662.3 1775.1 1660.2 1775.5 1664.5 1776 1662.3 1776.4 1661.7 1776.8 1660.1 1777.3 1659.8 1777.7 1664.4 1778.2 1664.5 1778.6 1662.5 1779.1 1660.3 1779.5 1658.7 1779.9 1661.7 1780.8 1662.6 1782.2 1663.5 1783 1663.8 1783.5 1661.2 1783.9 1662.7 1784.8 1663.5 1785.3 1665.7 1786.1 1664.5 1787 1666.3 1787.5 1666.3 1788.8 1665.6 1790.1 1663.2 1790.6 1664.4 1791.4 1665 1792.8 1662.9 1793.2 1665.8 1794.1 1664.7 1795.4 1665.6 1796.3 1663.9 1796.8 1666.3 1798.1 1664.8 1798.5 1663.3 1799 1670 1799.4 1666.3 1799.9 1666.6 1800.7 1665.5 1801.6 1665.3 1802.1 1665.4 1803.4 1666.6 1804.7 1666.6 1806 1663.3 1806.5 1664.9 1807.4 1666.1 1807.8 1665.2 1808.7 1665.4 1809.6 1666.8 1810 1666.3 1810.9 1665.5 1811.4 1665.3 1812.7 1665.3 1813.1 1662.4 1813.6 1661.8 1814 1667.7 1814.5 1665.3 1814.9 1663.5 1815.3 1663.2 1815.8 1668.1 1816.2 1666.4 1816.7 1662.5 1817.1 1664.2 1818 1666.1 1819.3 1664.9 1820.2 1665.5 1820.6 1665.4 1821.1 1664.4 1822 1664.5 1822.9 1663.4 1823.3 1665 1824.6 1663.6 1825.1 1667.4 1826 1665.4 1826.4 1664.9 1827.3 1664.8 1827.7 1665.5 1828.6 1666.6 1829.1 1665.2 1829.9 1665.8 1831.3 1665.9 1832.6 1664.5 1833 1666.4 1833.9 1665.1 1835.2 1664.5 1836.6 1666.5 1837 1665.1 1837.9 1664.4 1839.2 1666.6 1840.6 1666.5 1841.9 1663.3 1842.8 1663.6 1843.2 1665.5 1843.7 1664.8 1844.1 1663.4 1844.5 1666.9 1845.9 1667.7 1847.2 1666.1 1848.5 1664.6 1849.4 1663.1 1849.8 1663.6 1851.2 1666.3 1852.5 1664.8 1853.8 1666.4 1855.2 1665.3 1856.5 1663.3 1856.9 1662 1857.8 1662.5 1858.2 1663.4 1859.1 1663.3 1860 1664.7 1860.5 1662.1 1860.9 1666.4 1861.8 1665.1 1862.7 1665.3 1863.1 1665 1864.4 1667.8 1865.3 1667.3 1865.8 1667.2 1866.2 1664.3 1867.1 1664.7 1868.4 1666.2 1868.9 1665.2 1869.8 1666.2 1871.1 1666.5 1871.5 1663.1 1872 1663 1872.4 1665.3 1873.7 1663.7 1874.2 1666.6 1874.6 1666 1875.1 1663.1 1875.9 1665.1 1876.4 1666.2 1877.3 1665 1877.7 1663.7 1879 1664.7 1880.4 1666.4 1881.7 1667.5 1882.6 1665.9 1883 1665.4 1883.9 1666.9 1884.4 1663.1 1884.8 1666.6 1885.7 1666.2 1886.1 1668.7 1886.6 1669.1 1887 1663.4 1887.4 1666.6 1887.9 1667 1888.3 1664.1 1888.8 1665.9 1889.7 1665.8 1890.1 1666.9 1891 1666 1892.3 1663 1893.6 1663.3 1894.1 1668 1894.5 1666.8 1895 1665.4 1896.3 1664.3 1897.6 1667 1898.5 1665.8 1899 1663.1 1899.4 1667.1 1900.3 1666.7 1901.2 1664.8 1901.6 1661.8 1902 1665.3 1902.9 1666.1 1904.3 1666.2 1904.7 1665.3 1905.6 1665.8 1906 1662.5 1906.5 1663.4 1906.9 1664.7 1907.4 1665.6 1908.2 1667.1 1909.6 1666.1 1910 1662.6 1910.9 1664.4 1911.3 1667 1911.8 1666.4 1912.2 1662.4 1912.7 1667.8 1913.1 1667.7 1913.5 1665.6 1914.9 1666.8 1915.3 1667.4 1916.2 1667.2 1917.1 1666 1917.5 1663.2 1918 1667.4 1918.4 1666.2 1918.9 1664.5 1919.3 1665.6 1920.2 1666.8 1921.1 1665 1921.5 1669.3 1922 1663.3 1922.4 1665.7 1922.8 1666.8 1923.3 1667.5 1924.2 1667.4 1925.1 1665.6 1925.5 1668.6 1926.8 1666.5 1927.3 1664 1928.1 1664.5 1929.5 1665.8 1930.8 1662.8 1931.2 1664.1 1931.7 1667.6 1932.1 1666.2 1933.5 1664.9 1933.9 1665.8" fill="none" stroke="#0000ff" stroke-width="3.5" stroke-linejoin="round"/>
<path d="M164.3 377 L166 377 167.6 377.1 169.3 377.1 170.9 377.2 172.6 377.2 174.3 377.3 175.9 377.3 177.6 377.4 179.2 377.4 180.9 377.5 182.5 377.5 184.2 377.6 185.9 377.6 187.5 377.7 189.2 377.7 190.8 377.8 192.5 377.8 194.2 377.9 195.8 377.9 197.5 377.9 199.1 378 200.8 378 202.5 378 204.1 378 205.8 378 207.4 378 209.1 378 210.8 377.9 212.4 377.7 214.1 377.3 215.7 376.5 217.4 374.8 219 371.8 220.7 367.6 222.4 363.8 224 363.4 225.7 367 227.3 371.4 229 374.8 230.7 376.8 232.3 377.8 234 378.4 235.6 378.7 237.3 378.9 239 379 240.6 379.2 242.3 379.3 243.9 379.4 245.6 379.5 247.3 379.6 248.9 379.7 250.6 379.7 252.2 379.8 253.9 379.9 255.5 379.9 257.2 380 258.9 380 260.5 380.1 262.2 380.1 263.8 380.2 265.5 380.2 267.2 380.3 268.8 380.3 270.5 380.4 272.1 380.4 273.8 380.5 275.5 380.5 277.1 380.6 278.8 380.6 280.4 380.7 282.1 380.7 283.7 380.8 285.4 380.8 287.1 380.8 288.7 380.9 290.4 380.9 292 381 293.7 381 295.4 381.1 297 381.1 298.7 381.2 300.3 381.2 302 381.2 303.7 381.3 305.3 381.3 307 381.4 308.6 381.4 310.3 381.5 312 381.5 313.6 381.5 315.3 381.6 316.9 381.6 318.6 381.7 320.2 381.7 321.9 381.8 323.6 381.8 325.2 381.8 326.9 381.9 328.5 381.9 330.2 382 331.9 382 333.5 382 335.2 382.1 336.8 382.1 338.5 382.1 340.2 382.2 341.8 382.2 343.5 382.2 345.1 382.2 346.8 382.2 348.4 382.2 350.1 382.2 351.8 382 353.4 381.5 355.1 380.4 356.7 378.7 358.4 377.4 360.1 377.8 361.7 379.5 363.4 381.1 365 382 366.7 382.5 368.4 382.7 370 382.8 371.7 382.9 373.3 383 375 383.1 376.7 383.1 378.3 383.2 380 383.2 381.6 383.3 383.3 383.3 384.9 383.4 386.6 383.4 388.3 383.4 389.9 383.4 391.6 383.4 393.2 383.5 394.9 383.5 396.6 383.5 398.2 383.5 399.9 383.5 401.5 383.5 403.2 383.5 404.9 383.5 406.5 383.5 408.2 383.5 409.8 383.5 411.5 383.5 413.2 383.5 414.8 383.5 416.5 383.6 418.1 383.6 419.8 383.6 421.4 383.6 423.1 383.6 424.8 383.6 426.4 383.6 428.1 383.6 429.7 383.6 431.4 383.6 433.1 383.6 434.7 383.6 436.4 383.6 438 383.6 439.7 383.6 441.4 383.6 443 383.6 444.7 383.6 446.3 383.6 448 383.6 449.6 383.6 451.3 383.6 453 383.6 454.6 383.6 456.3 383.6 457.9 383.6 459.6 383.6 461.3 383.6 462.9 383.6 464.6 383.6 466.2 383.6 467.9 383.6 469.6 383.5 471.2 383.5 472.9 383.5 474.5 383.4 476.2 383.4 477.9 383.3 479.5 383.2 481.2 383 482.8 382.8 484.5 382.5 486.1 381.9 487.8 380.6 489.5 378 491.1 373.5 492.8 367.5 494.4 362.5 496.1 362.8 497.8 368.1 499.4 374 501.1 378.3 502.7 380.7 504.4 381.9 506.1 382.5 507.7 382.8 509.4 383 511 383.2 512.7 383.3 514.3 383.3 516 383.4 517.7 383.4 519.3 383.5 521 383.5 522.6 383.5 524.3 383.5 526 383.5 527.6 383.4 529.3 383.4 530.9 383.4 532.6 383.3 534.3 383.3 535.9 383.2 537.6 383.1 539.2 383 540.9 382.8 542.6 382.6 544.2 382.4 545.9 382.1 547.5 381.7 549.2 381.2 550.8 380.4 552.5 379.4 554.2 377.8 555.8 375.1 556.9 372.1 M571.3 371.5 L573 376 574.6 378.3 576.3 379.7 577.9 380.7 579.6 381.4 581.3 382 582.9 382.4 584.6 382.7 586.2 382.9 587.9 383.1 589.6 383.2 591.2 383.4 592.9 383.5 594.5 383.6 596.2 383.6 597.9 383.7 599.5 383.8 601.2 383.8 602.8 383.9 604.5 383.9 606.1 383.9 607.8 384 609.5 384 611.1 384 612.8 384 614.4 384 616.1 384 617.8 384 619.4 384 621.1 384 622.7 384 624.4 383.9 626.1 383.9 627.7 383.8 629.4 383.8 631 383.7 632.7 383.6 634.4 383.5 636 383.3 637.7 383 639.3 382.6 641 382.1 642.6 381.1 644.3 378.8 645.4 375.5 M650.9 329.4 L650.9 329.4 M656.5 375.7 L658.1 379.9 659.8 381.5 661.4 382.4 663.1 382.9 664.8 383.2 666.4 383.4 668.1 383.6 669.7 383.7 671.4 383.9 673.1 383.9 674.7 384 676.4 384.1 678 384.1 679.7 384.1 681.4 384.2 683 384.2 684.7 384.2 686.3 384.2 688 384.3 689.7 384.3 691.3 384.3 693 384.3 694.6 384.3 696.3 384.3 697.9 384.3 699.6 384.3 701.3 384.3 702.9 384.3 704.6 384.3 706.2 384.3 707.9 384.3 709.6 384.3 711.2 384.3 712.9 384.3 714.5 384.3 716.2 384.3 717.9 384.3 719.5 384.3 721.2 384.3 722.8 384.3 724.5 384.3 726.1 384.3 727.8 384.3 729.5 384.3 731.1 384.3 732.8 384.3 734.4 384.3 736.1 384.3 737.8 384.2 739.4 384.2 741.1 384.2 742.7 384.2 744.4 384.2 746.1 384.1 747.7 384.1 749.4 384.1 751 384 752.7 384 754.4 384 756 383.9 757.7 383.8 759.3 383.8 761 383.7 762.6 383.6 764.3 383.5 766 383.4 767.6 383.2 769.3 383.1 770.9 382.9 772.6 382.6 774.3 382.3 775.9 381.9 777.6 381.4 779.2 380.7 780.9 379.8 782.6 378.6 784.2 376.8 785.9 374.1 787.5 369.3 M803.6 369.1 L805.2 373.9 806.9 376.7 808.5 378.5 810.2 379.8 811.9 380.7 813.5 381.3 815.2 381.8 816.8 382.2 818.5 382.6 820.2 382.8 821.8 383 823.5 383.2 825.1 383.3 826.8 383.4 828.5 383.5 830.1 383.5 831.8 383.6 833.4 383.6 835.1 383.6 836.7 383.6 838.4 383.5 840.1 383.3 841.7 383 843.4 382.5 845 381.6 846.7 380.4 848.4 378.9 850 377.4 851.7 376.4 853.3 376.5 855 377.6 856.7 379.2 858.3 380.7 860 381.9 861.6 382.7 863.3 383.3 865 383.6 866.6 383.8 868.3 383.9 869.9 384 871.6 384 873.2 384 874.9 384 876.6 384 878.2 384 879.9 383.9 881.5 383.8 883.2 383.6 884.9 383.4 886.5 383 888.2 382.1 889.8 380.2 891.5 375.9 893.2 368.4 894.8 359.8 896.5 357.5 897.6 361.6 M899.2 370.4 L900.9 377.2 902.6 380.9 904.2 382.5 905.9 383.2 907.5 383.6 909.2 383.8 910.9 384 912.5 384.1 914.2 384.2 915.8 384.3 917.5 384.3 919.1 384.4 920.8 384.4 922.5 384.4 924.1 384.4 925.8 384.5 927.4 384.5 929.1 384.5 930.8 384.5 932.4 384.5 934.1 384.5 935.7 384.5 937.4 384.5 939.1 384.5 940.7 384.5 942.4 384.5 944 384.5 945.7 384.5 947.3 384.4 949 384.4 950.7 384.4 952.3 384.4 954 384.3 955.6 384.3 957.3 384.2 959 384.2 960.6 384.1 962.3 384 963.9 383.9 965.6 383.7 967.3 383.5 968.9 383.2 970.6 382.9 972.2 382.4 973.9 381.8 975.6 380.8 977.2 379.1 978.9 375.7 979.4 373.7 M992.1 373.4 L993.8 378.2 995.5 380.3 997.1 381.5 998.8 382.2 1000.4 382.8 1002.1 383.2 1003.8 383.5 1005.4 383.7 1007.1 383.9 1008.7 384 1010.4 384.1 1012 384.2 1013.7 384.3 1015.4 384.3 1017 384.4 1018.7 384.4 1020.3 384.5 1022 384.5 1023.7 384.5 1025.3 384.5 1027 384.6 1028.6 384.6 1030.3 384.6 1032 384.6 1033.6 384.6 1035.3 384.6 1036.9 384.6 1038.6 384.6 1040.3 384.6 1041.9 384.6 1043.6 384.6 1045.2 384.5 1046.9 384.5 1048.5 384.5 1050.2 384.4 1051.9 384.3 1053.5 384.2 1055.2 384.1 1056.8 383.9 1058.5 383.6 1060.2 383.1 1061.8 382.1 1063.5 379.7 1065.1 374.6 1065.7 372.1 M1068.5 357 L1070.1 356 1070.7 358.1 M1073.4 373.3 L1075.1 379.1 1076.8 381.9 1078.4 383 1080.1 383.6 1081.7 383.9 1083.4 384.1 1085 384.3 1086.7 384.4 1088.4 384.5 1090 384.6 1091.7 384.6 1093.3 384.7 1095 384.7 1096.7 384.7 1098.3 384.8 1100 384.8 1101.6 384.8 1103.3 384.8 1105 384.8 1106.6 384.9 1108.3 384.9 1109.9 384.9 1111.6 384.9 1113.2 384.9 1114.9 384.9 1116.6 384.9 1118.2 384.9 1119.9 384.9 1121.5 384.9 1123.2 384.9 1124.9 384.9 1126.5 384.9 1128.2 384.9 1129.8 384.9 1131.5 384.9 1133.2 384.8 1134.8 384.8 1136.5 384.8 1138.1 384.7 1139.8 384.6 1141.5 384.5 1143.1 384.4 1144.8 384.1 1146.4 383.3 1148.1 381.6 1149.7 378.5 1151.4 374.7 1153.1 373.1 1154.7 375.7 1156.4 379.6 1158 382.2 1159.7 383.6 1161.4 384.2 1163 384.5 1164.7 384.6 1166.3 384.7 1168 384.8 1169.7 384.8 1171.3 384.9 1173 384.9 1174.6 384.9 1176.3 384.9 1177.9 385 1179.6 385 1181.3 385 1182.9 385 1184.6 385 1186.2 385 1187.9 385 1189.6 385 1191.2 385 1192.9 385 1194.5 385 1196.2 385 1197.9 385 1199.5 385 1201.2 385 1202.8 385 1204.5 385 1206.2 384.9 1207.8 384.9 1209.5 384.9 1211.1 384.8 1212.8 384.8 1214.4 384.7 1216.1 384.6 1217.8 384.4 1219.4 384 1221.1 383.2 1222.7 381.7 1224.4 379.1 1226.1 375.8 1227.7 373.3 1229.4 374 1231 377 1232.7 380.2 1234.4 382.4 1236 383.6 1237.7 384.2 1239.3 384.5 1241 384.7 1242.7 384.8 1244.3 384.8 1246 384.9 1247.6 384.9 1249.3 385 1250.9 385 1252.6 385 1254.3 385.1 1255.9 385.1 1257.6 385.1 1259.2 385.1 1260.9 385.1 1262.6 385.1 1264.2 385.1 1265.9 385.1 1267.5 385.1 1269.2 385.1 1270.9 385.2 1272.5 385.2 1274.2 385.2 1275.8 385.2 1277.5 385.2 1279.1 385.2 1280.8 385.2 1282.5 385.2 1284.1 385.2 1285.8 385.2 1287.4 385.2 1289.1 385.2 1290.8 385.2 1292.4 385.2 1294.1 385.2 1295.7 385.2 1297.4 385.2 1299.1 385.2 1300.7 385.2 1302.4 385.2 1304 385.2 1305.7 385.2 1307.4 385.2 1309 385.2 1310.7 385.2 1312.3 385.2 1314 385.2 1315.6 385.2 1317.3 385.2 1319 385.2 1320.6 385.2 1322.3 385.2 1323.9 385.2 1325.6 385.2 1327.3 385.2 1328.9 385.2 1330.6 385.2 1332.2 385.2 1333.9 385.2 1335.6 385.2 1337.2 385.2 1338.9 385.2 1340.5 385.2 1342.2 385.1 1343.8 385.1 1345.5 385.1 1347.2 385.1 1348.8 385.1 1350.5 385.1 1352.1 385 1353.8 385 1355.5 385 1357.1 384.9 1358.8 384.9 1360.4 384.8 1362.1 384.7 1363.8 384.6 1365.4 384.5 1367.1 384.3 1368.7 384 1370.4 383.7 1372.1 383 1373.7 381.6 1375.4 378.3 1376.5 374.2 M1380.3 349.8 L1381.5 348.6 M1385.9 374.8 L1387.5 380 1389.2 382.3 1390.9 383.2 1392.5 383.8 1394.2 384.1 1395.8 384.3 1397.5 384.4 1399.1 384.5 1400.8 384.5 1402.5 384.6 1404.1 384.5 1405.8 384.5 1407.4 384.4 1409.1 384.2 1410.8 383.9 1412.4 383.4 1414.1 382.1 1415.7 379 1417.4 373.4 1419.1 365.8 1420.7 361.7 1422.4 366 1424 373.6 1425.7 379.2 1427.4 382.1 1429 383.4 1430.7 384 1432.3 384.2 1434 384.3 1435.6 384.3 1437.3 384 1439 383.1 1440.6 381.7 1442.3 380.3 1443.9 380.4 1445.6 382 1447.3 383.4 1448.9 384.3 1450.6 384.8 1452.2 385 1453.9 385.1 1455.6 385.1 1457.2 385.2 1458.9 385.2 1460.5 385.2 1462.2 385.3 1463.9 385.3 1465.5 385.3 1467.2 385.3 1468.8 385.3 1470.5 385.3 1472.1 385.4 1473.8 385.4 1475.5 385.4 1477.1 385.4 1478.8 385.4 1480.4 385.4 1482.1 385.4 1483.8 385.4 1485.4 385.4 1487.1 385.4 1488.7 385.4 1490.4 385.4 1492.1 385.4 1493.7 385.4 1495.4 385.4 1497 385.4 1498.7 385.4 1500.3 385.4 1502 385.4 1503.7 385.4 1505.3 385.4 1507 385.5 1508.6 385.5 1510.3 385.5 1512 385.5 1513.6 385.5 1515.3 385.5 1516.9 385.5 1518.6 385.5 1520.3 385.5 1521.9 385.5 1523.6 385.5 1525.2 385.5 1526.9 385.5 1528.6 385.5 1530.2 385.5 1531.9 385.5 1533.5 385.5 1535.2 385.5 1536.8 385.5 1538.5 385.5 1540.2 385.5 1541.8 385.5 1543.5 385.5 1545.1 385.5 1546.8 385.5 1548.5 385.5 1550.1 385.5 1551.8 385.5 1553.4 385.5 1555.1 385.5 1556.8 385.5 1558.4 385.5 1560.1 385.5 1561.7 385.5 1563.4 385.5 1565 385.5 1566.7 385.4 1568.4 385.4 1570 385.4 1571.7 385.4 1573.3 385.4 1575 385.3 1576.7 385.2 1578.3 385.1 1580 384.7 1581.6 383.8 1583.3 382.6 1585 381.5 1586.6 381.8 1588.3 383 1589.9 384.1 1591.6 384.8 1593.3 385 1594.9 385.1 1596.6 385.2 1598.2 385.2 1599.9 385.2 1601.5 385.2 1603.2 385.1 1604.9 385 1606.5 384.9 1608.2 384.8 1609.8 384.6 1611.5 384.4 1613.2 383.9 1614.8 383.1 1616.5 381.1 1618.1 376.7 1618.7 374.4 M1622 356.3 L1623.7 356.1 M1627 374.2 L1628.6 379.9 1630.3 382.6 1632 383.7 1633.6 384.3 1635.3 384.6 1636.9 384.8 1638.6 385 1640.3 385.1 1641.9 385.2 1643.6 385.2 1645.2 385.3 1646.9 385.3 1648.6 385.4 1650.2 385.4 1651.9 385.4 1653.5 385.5 1655.2 385.5 1656.8 385.5 1658.5 385.5 1660.2 385.5 1661.8 385.5 1663.5 385.5 1665.1 385.5 1666.8 385.5 1668.5 385.6 1670.1 385.6 1671.8 385.6 1673.4 385.6 1675.1 385.6 1676.8 385.6 1678.4 385.6 1680.1 385.6 1681.7 385.6 1683.4 385.6 1685.1 385.5 1686.7 385.5 1688.4 385.5 1690 385.5 1691.7 385.5 1693.3 385.5 1695 385.4 1696.7 385.4 1698.3 385.3 1700 385.1 1701.6 384.9 1703.3 384.6 1705 384.1 1706.6 383.6 1708.3 382.9 1709.9 382.3 1711.6 381.8 1713.3 381.7 1714.9 382 1716.6 382.5 1718.2 383.2 1719.9 383.8 1721.5 384.3 1723.2 384.7 1724.9 385 1726.5 385.2 1728.2 385.3 1729.8 385.4 1731.5 385.5 1733.2 385.5 1734.8 385.5 1736.5 385.5 1738.1 385.6 1739.8 385.6 1741.5 385.6 1743.1 385.6 1744.8 385.6 1746.4 385.6 1748.1 385.6 1749.8 385.6 1751.4 385.6 1753.1 385.6 1754.7 385.5 1756.4 385.5 1758 385.5 1759.7 385.4 1761.4 385.4 1763 385.3 1764.7 385.1 1766.3 384.9 1768 384.5 1769.7 384 1771.3 383.4 1773 382.6 1774.6 381.8 1776.3 381.1 1778 380.8 1779.6 381 1781.3 381.6 1782.9 382.4 1784.6 383.2 1786.2 383.9 1787.9 384.5 1789.6 384.9 1791.2 385.1 1792.9 385.3 1794.5 385.4 1796.2 385.5 1797.9 385.6 1799.5 385.6 1801.2 385.6 1802.8 385.7 1804.5 385.7 1806.2 385.7 1807.8 385.7 1809.5 385.7 1811.1 385.7 1812.8 385.8 1814.5 385.8 1816.1 385.8 1817.8 385.8 1819.4 385.8 1821.1 385.8 1822.7 385.8 1824.4 385.8 1826.1 385.8 1827.7 385.8 1829.4 385.8 1831 385.8 1832.7 385.8 1834.4 385.8 1836 385.8 1837.7 385.8 1839.3 385.8 1841 385.9 1842.7 385.9 1844.3 385.9 1846 385.9 1847.6 385.9 1849.3 385.9 1851 385.9 1852.6 385.9 1854.3 385.9 1855.9 385.9 1857.6 385.9 1859.2 385.9 1860.9 385.9 1862.6 385.9 1864.2 385.9 1865.9 385.9 1867.5 385.9 1869.2 385.9 1870.9 385.9 1872.5 385.9 1874.2 385.9 1875.8 385.9 1877.5 385.9 1879.2 385.9 1880.8 385.9 1882.5 385.9 1884.1 385.9 1885.8 385.9 1887.4 385.9 1889.1 385.9 1890.8 385.9 1892.4 385.9 1894.1 385.9 1895.7 385.9 1897.4 385.9 1899.1 385.9 1900.7 385.9 1902.4 385.9 1904 386 1905.7 386 1907.4 386 1909 386 1910.7 386 1912.3 386 1914 386 1915.7 386 1917.3 386 1919 386 1920.6 386 1922.3 386 1923.9 386 1925.6 386 1927.3 386 1928.9 386 1930.6 386 1932.2 386 1933.9 386" fill="none" stroke="#8f0000" stroke-width="20.5" stroke-linejoin="round" stroke-linecap="round"/>
<path d="M557.5 369.8h0M558 366.6h0M558.6 361.9h0M559.1 355.2h0M559.7 345.8h0M560.2 332.8h0M560.8 315.9h0M561.4 294.7h0M561.9 270h0M562.5 243.3h0M563 217.5h0M563.6 197.5h0M564.1 188.4h0M564.7 193.2h0M565.2 210.3h0M565.8 234.7h0M566.3 261.6h0M566.9 287.2h0M567.4 309.6h0M568 327.9h0M568.5 342.1h0M569.1 352.6h0M569.6 360.1h0M570.2 365.3h0M570.8 369h0M646 373h0M646.5 369.6h0M647.1 365.3h0M647.6 360.2h0M648.2 354.1h0M648.7 347.6h0M649.3 340.9h0M649.8 335h0M650.4 330.8h0M651.5 331.1h0M652 335.4h0M652.6 341.4h0M653.2 348.1h0M653.7 354.7h0M654.3 360.6h0M654.8 365.7h0M655.4 369.9h0M655.9 373.2h0M788.1 366.8h0M788.6 363.3h0M789.2 358.5h0M789.7 351.8h0M790.3 342.4h0M790.8 329.7h0M791.4 312.8h0M792 291.3h0M792.5 265.1h0M793.1 234.8h0M793.6 202.2h0M794.2 170.1h0M794.7 143.2h0M795.3 127.1h0M795.8 126.2h0M796.4 140.6h0M796.9 166.5h0M797.5 198.2h0M798 231h0M798.6 261.7h0M799.1 288.4h0M799.7 310.5h0M800.3 327.9h0M800.8 341.1h0M801.4 350.8h0M801.9 357.8h0M802.5 362.8h0M803 366.4h0M898.1 364.5h0M898.7 367.5h0M980 370.8h0M980.5 366.8h0M981.1 361.4h0M981.6 354.2h0M982.2 345h0M982.7 333.8h0M983.3 320.9h0M983.8 306.9h0M984.4 293.2h0M985 281.8h0M985.5 274.9h0M986.1 274.5h0M986.6 280.7h0M987.2 291.7h0M987.7 305.3h0M988.3 319.3h0M988.8 332.3h0M989.4 343.8h0M989.9 353.2h0M990.5 360.6h0M991 366.3h0M991.6 370.4h0M1066.2 369.2h0M1066.8 366h0M1067.3 362.7h0M1067.9 359.6h0M1071.2 361h0M1071.8 364.3h0M1072.3 367.6h0M1072.9 370.6h0M1377 371.4h0M1377.6 368.1h0M1378.1 364.3h0M1378.7 360.3h0M1379.2 356.3h0M1379.8 352.6h0M1382 350.5h0M1382.6 353.6h0M1383.1 357.4h0M1383.7 361.5h0M1384.2 365.4h0M1384.8 369h0M1385.3 372.2h0M1619.2 371.8h0M1619.8 368.7h0M1620.3 365.4h0M1620.9 362h0M1621.5 358.8h0M1624.2 358.5h0M1624.8 361.6h0M1625.3 365h0M1625.9 368.3h0M1626.4 371.4h0" fill="none" stroke="#8f0000" stroke-width="20.5" stroke-linecap="round"/>
<path d="M164.3 730 L166 730 167.6 730 169.3 730.1 170.9 730.1 172.6 730.2 174.3 730.2 175.9 730.3 177.6 730.3 179.2 730.4 180.9 730.4 182.5 730.4 184.2 730.5 185.9 730.5 187.5 730.6 189.2 730.6 190.8 730.6 192.5 730.7 194.2 730.7 195.8 730.7 197.5 730.8 199.1 730.8 200.8 730.8 202.5 730.8 204.1 730.8 205.8 730.8 207.4 730.8 209.1 730.8 210.8 730.7 212.4 730.5 214.1 730.2 215.7 729.4 217.4 727.9 219 725.2 220.7 721.4 222.4 717.9 224 717.5 225.7 720.8 227.3 724.8 229 727.9 230.7 729.7 232.3 730.6 234 731.1 235.6 731.3 237.3 731.5 239 731.7 240.6 731.8 242.3 731.9 243.9 732 245.6 732.1 247.3 732.1 248.9 732.2 250.6 732.3 252.2 732.3 253.9 732.4 255.5 732.4 257.2 732.5 258.9 732.5 260.5 732.6 262.2 732.6 263.8 732.7 265.5 732.7 267.2 732.7 268.8 732.8 270.5 732.8 272.1 732.9 273.8 732.9 275.5 733 277.1 733 278.8 733 280.4 733.1 282.1 733.1 283.7 733.1 285.4 733.2 287.1 733.2 288.7 733.3 290.4 733.3 292 733.3 293.7 733.4 295.4 733.4 297 733.5 298.7 733.5 300.3 733.5 302 733.6 303.7 733.6 305.3 733.6 307 733.7 308.6 733.7 310.3 733.8 312 733.8 313.6 733.8 315.3 733.9 316.9 733.9 318.6 733.9 320.2 734 321.9 734 323.6 734 325.2 734.1 326.9 734.1 328.5 734.2 330.2 734.2 331.9 734.2 333.5 734.3 335.2 734.3 336.8 734.3 338.5 734.4 340.2 734.4 341.8 734.4 343.5 734.4 345.1 734.4 346.8 734.5 348.4 734.5 350.1 734.4 351.8 734.4 353.4 734.1 355.1 733.5 356.7 732.5 358.4 731.2 360.1 730.9 361.7 732 363.4 733.3 365 734.1 366.7 734.6 368.4 734.8 370 734.9 371.7 735 373.3 735.1 375 735.1 376.7 735.2 378.3 735.2 380 735.3 381.6 735.3 383.3 735.4 384.9 735.4 386.6 735.4 388.3 735.4 389.9 735.5 391.6 735.5 393.2 735.5 394.9 735.5 396.6 735.5 398.2 735.5 399.9 735.5 401.5 735.5 403.2 735.5 404.9 735.6 406.5 735.6 408.2 735.6 409.8 735.6 411.5 735.6 413.2 735.6 414.8 735.6 416.5 735.6 418.1 735.6 419.8 735.6 421.4 735.7 423.1 735.7 424.8 735.7 426.4 735.7 428.1 735.7 429.7 735.7 431.4 735.7 433.1 735.7 434.7 735.7 436.4 735.7 438 735.7 439.7 735.8 441.4 735.8 443 735.8 444.7 735.8 446.3 735.8 448 735.8 449.6 735.8 451.3 735.8 453 735.8 454.6 735.8 456.3 735.8 457.9 735.8 459.6 735.8 461.3 735.8 462.9 735.8 464.6 735.8 466.2 735.8 467.9 735.8 469.6 735.8 471.2 735.7 472.9 735.7 474.5 735.7 476.2 735.6 477.9 735.6 479.5 735.5 481.2 735.4 482.8 735.3 484.5 735.1 486.1 734.7 487.8 734 489.5 732.5 491.1 729.6 492.8 724.9 494.4 719.4 496.1 716.1 497.8 718.3 499.4 723.6 501.1 728.6 502.7 732 504.4 733.7 506.1 734.6 507.7 735 509.4 735.3 511 735.4 512.7 735.5 514.3 735.6 516 735.7 517.7 735.7 519.3 735.8 521 735.8 522.6 735.8 524.3 735.8 526 735.8 527.6 735.8 529.3 735.8 530.9 735.7 532.6 735.7 534.3 735.6 535.9 735.6 537.6 735.5 539.2 735.4 540.9 735.3 542.6 735.1 544.2 734.9 545.9 734.6 547.5 734.3 549.2 733.8 550.8 733.2 552.5 732.2 554.2 730.9 555.8 728.8 557.5 725 M571.9 723.6 L573.5 728.2 575.2 730.6 576.8 732.1 578.5 733.2 580.2 733.9 581.8 734.4 583.5 734.8 585.1 735.1 586.8 735.3 588.5 735.5 590.1 735.7 591.8 735.8 593.4 736 595.1 736 596.7 736.1 598.4 736.2 600.1 736.3 601.7 736.3 603.4 736.4 605 736.4 606.7 736.4 608.4 736.5 610 736.5 611.7 736.5 613.3 736.5 615 736.5 616.7 736.5 618.3 736.5 620 736.5 621.6 736.5 623.3 736.4 624.9 736.4 626.6 736.4 628.3 736.3 629.9 736.2 631.6 736.1 633.2 736 634.9 735.9 636.6 735.6 638.2 735.3 639.9 734.8 641.5 734 643.2 732.2 644.9 727.8 M650.4 683.5 L650.4 683.5 M655.9 728.9 L657.6 732.7 659.2 734.2 660.9 735 662.6 735.4 664.2 735.7 665.9 736 667.5 736.1 669.2 736.3 670.8 736.4 672.5 736.5 674.2 736.5 675.8 736.6 677.5 736.6 679.1 736.6 680.8 736.7 682.5 736.7 684.1 736.7 685.8 736.7 687.4 736.8 689.1 736.8 690.8 736.8 692.4 736.8 694.1 736.8 695.7 736.8 697.4 736.8 699.1 736.8 700.7 736.8 702.4 736.8 704 736.8 705.7 736.8 707.3 736.8 709 736.8 710.7 736.8 712.3 736.8 714 736.8 715.6 736.8 717.3 736.8 719 736.8 720.6 736.8 722.3 736.8 723.9 736.8 725.6 736.8 727.3 736.8 728.9 736.8 730.6 736.8 732.2 736.8 733.9 736.8 735.5 736.8 737.2 736.7 738.9 736.7 740.5 736.7 742.2 736.7 743.8 736.7 745.5 736.7 747.2 736.6 748.8 736.6 750.5 736.6 752.1 736.5 753.8 736.5 755.5 736.4 757.1 736.4 758.8 736.3 760.4 736.2 762.1 736.1 763.8 736 765.4 735.9 767.1 735.8 768.7 735.6 770.4 735.4 772 735.2 773.7 734.9 775.4 734.5 777 734.1 778.7 733.5 780.3 732.6 782 731.5 783.7 730 785.3 727.6 787 723.8 787.5 721.8 M803.6 721.6 L805.2 726.4 806.9 729.2 808.5 731 810.2 732.3 811.9 733.2 813.5 733.8 815.2 734.3 816.8 734.7 818.5 735 820.2 735.3 821.8 735.5 823.5 735.7 825.1 735.8 826.8 735.9 828.5 736 830.1 736 831.8 736.1 833.4 736.1 835.1 736.1 836.7 736 838.4 735.8 840.1 735.6 841.7 735.1 843.4 734.3 845 733.2 846.7 731.7 848.4 730.2 850 729.1 851.7 728.9 853.3 729.8 855 731.3 856.7 732.9 858.3 734.1 860 735.1 861.6 735.7 863.3 736.1 865 736.3 866.6 736.4 868.3 736.5 869.9 736.5 871.6 736.6 873.2 736.6 874.9 736.6 876.6 736.5 878.2 736.5 879.9 736.4 881.5 736.4 883.2 736.2 884.9 736 886.5 735.7 888.2 735.1 889.8 733.8 891.5 730.6 893.2 724.5 894.8 715.9 896.5 710.2 898.1 714 899.8 722.6 901.4 729.5 903.1 733.3 904.8 735 906.4 735.7 908.1 736.1 909.7 736.3 911.4 736.5 913.1 736.6 914.7 736.7 916.4 736.8 918 736.8 919.7 736.9 921.4 736.9 923 736.9 924.7 736.9 926.3 737 928 737 929.7 737 931.3 737 933 737 934.6 737 936.3 737 937.9 737 939.6 737 941.3 737 942.9 737 944.6 737 946.2 737 947.9 736.9 949.6 736.9 951.2 736.9 952.9 736.9 954.5 736.8 956.2 736.8 957.9 736.7 959.5 736.6 961.2 736.6 962.8 736.5 964.5 736.3 966.2 736.2 967.8 736 969.5 735.7 971.1 735.4 972.8 734.9 974.4 734.2 976.1 733.2 977.8 731.4 979.4 727.8 M992.7 726.3 L994.4 730.8 996 732.9 997.7 734 999.3 734.8 1001 735.3 1002.6 735.7 1004.3 736 1006 736.2 1007.6 736.4 1009.3 736.5 1010.9 736.6 1012.6 736.7 1014.3 736.8 1015.9 736.8 1017.6 736.9 1019.2 736.9 1020.9 737 1022.6 737 1024.2 737 1025.9 737 1027.5 737.1 1029.2 737.1 1030.9 737.1 1032.5 737.1 1034.2 737.1 1035.8 737.1 1037.5 737.1 1039.1 737.1 1040.8 737.1 1042.5 737.1 1044.1 737.1 1045.8 737 1047.4 737 1049.1 737 1050.8 736.9 1052.4 736.8 1054.1 736.7 1055.7 736.6 1057.4 736.4 1059.1 736.1 1060.7 735.7 1062.4 734.7 1064 732.5 1065.7 727.6 1066.2 725.1 M1069 709.9 L1070.7 708.2 1071.2 710.2 M1074 725.4 L1075.6 731.4 1077.3 734.3 1079 735.5 1080.6 736.1 1082.3 736.4 1083.9 736.7 1085.6 736.8 1087.3 737 1088.9 737 1090.6 737.1 1092.2 737.2 1093.9 737.2 1095.6 737.3 1097.2 737.3 1098.9 737.3 1100.5 737.3 1102.2 737.4 1103.8 737.4 1105.5 737.4 1107.2 737.4 1108.8 737.4 1110.5 737.4 1112.1 737.4 1113.8 737.5 1115.5 737.5 1117.1 737.5 1118.8 737.5 1120.4 737.5 1122.1 737.5 1123.8 737.5 1125.4 737.5 1127.1 737.5 1128.7 737.5 1130.4 737.5 1132.1 737.4 1133.7 737.4 1135.4 737.4 1137 737.3 1138.7 737.3 1140.3 737.2 1142 737.1 1143.7 736.8 1145.3 736.3 1147 735 1148.6 732.5 1150.3 729 1152 726.7 1153.6 728.2 1155.3 731.8 1156.9 734.6 1158.6 736.1 1160.3 736.8 1161.9 737.1 1163.6 737.2 1165.2 737.3 1166.9 737.4 1168.5 737.5 1170.2 737.5 1171.9 737.5 1173.5 737.5 1175.2 737.6 1176.8 737.6 1178.5 737.6 1180.2 737.6 1181.8 737.6 1183.5 737.6 1185.1 737.6 1186.8 737.6 1188.5 737.6 1190.1 737.6 1191.8 737.5 1193.4 737.5 1195.1 737.4 1196.8 737.1 1198.4 736.6 1200.1 735.7 1201.7 734.8 1203.4 734.8 1205 735.6 1206.7 736.5 1208.4 737 1210 737.2 1211.7 737.3 1213.3 737.3 1215 737.2 1216.7 737.1 1218.3 736.8 1220 736.3 1221.6 735.3 1223.3 733.3 1225 730.1 1226.6 726.6 1228.3 724.8 1229.9 726.7 1231.6 730.2 1233.2 733.4 1234.9 735.4 1236.6 736.4 1238.2 737 1239.9 737.2 1241.5 737.4 1243.2 737.5 1244.9 737.6 1246.5 737.6 1248.2 737.7 1249.8 737.7 1251.5 737.7 1253.2 737.8 1254.8 737.8 1256.5 737.8 1258.1 737.8 1259.8 737.8 1261.5 737.8 1263.1 737.9 1264.8 737.9 1266.4 737.9 1268.1 737.9 1269.7 737.9 1271.4 737.9 1273.1 737.9 1274.7 737.9 1276.4 737.9 1278 737.9 1279.7 737.9 1281.4 737.9 1283 737.9 1284.7 737.9 1286.3 738 1288 738 1289.7 738 1291.3 738 1293 738 1294.6 738 1296.3 738 1298 738 1299.6 738 1301.3 738 1302.9 738 1304.6 738 1306.2 738 1307.9 738 1309.6 738 1311.2 738 1312.9 738 1314.5 738 1316.2 738 1317.9 738 1319.5 738 1321.2 738 1322.8 738 1324.5 738 1326.2 738 1327.8 738 1329.5 738 1331.1 738 1332.8 738 1334.4 738 1336.1 738 1337.8 738 1339.4 738 1341.1 738 1342.7 738 1344.4 738 1346.1 737.9 1347.7 737.9 1349.4 737.9 1351 737.9 1352.7 737.9 1354.4 737.8 1356 737.8 1357.7 737.8 1359.3 737.7 1361 737.6 1362.7 737.5 1364.3 737.4 1366 737.3 1367.6 737.1 1369.3 736.8 1370.9 736.3 1372.6 735.4 1374.3 733.5 1375.9 729.1 1376.5 726.7 M1380.3 701.7 L1381.5 700.5 M1385.9 727.4 L1387.5 732.7 1389.2 735.1 1390.9 736.1 1392.5 736.6 1394.2 736.9 1395.8 737.1 1397.5 737.3 1399.1 737.4 1400.8 737.4 1402.5 737.4 1404.1 737.4 1405.8 737.4 1407.4 737.3 1409.1 737.1 1410.8 736.8 1412.4 736.3 1414.1 735 1415.7 732.1 1417.4 726.5 1419.1 719.1 1420.7 715.1 1422.4 719.3 1424 726.7 1425.7 732.2 1427.4 735.1 1429 736.3 1430.7 736.9 1432.3 737.1 1434 737.2 1435.6 737.2 1437.3 736.9 1439 736 1440.6 734.3 1442.3 731.8 1443.9 730.1 1445.6 731.3 1447.3 733.9 1448.9 735.9 1450.6 737.1 1452.2 737.6 1453.9 737.8 1455.6 737.9 1457.2 738 1458.9 738.1 1460.5 738.1 1462.2 738.2 1463.9 738.2 1465.5 738.2 1467.2 738.3 1468.8 738.3 1470.5 738.3 1472.1 738.3 1473.8 738.3 1475.5 738.3 1477.1 738.3 1478.8 738.4 1480.4 738.4 1482.1 738.4 1483.8 738.4 1485.4 738.4 1487.1 738.4 1488.7 738.4 1490.4 738.4 1492.1 738.4 1493.7 738.4 1495.4 738.4 1497 738.4 1498.7 738.4 1500.3 738.4 1502 738.5 1503.7 738.5 1505.3 738.5 1507 738.5 1508.6 738.5 1510.3 738.5 1512 738.5 1513.6 738.5 1515.3 738.5 1516.9 738.5 1518.6 738.5 1520.3 738.5 1521.9 738.5 1523.6 738.5 1525.2 738.5 1526.9 738.5 1528.6 738.5 1530.2 738.5 1531.9 738.5 1533.5 738.5 1535.2 738.5 1536.8 738.5 1538.5 738.5 1540.2 738.5 1541.8 738.5 1543.5 738.5 1545.1 738.5 1546.8 738.5 1548.5 738.5 1550.1 738.6 1551.8 738.6 1553.4 738.6 1555.1 738.6 1556.8 738.6 1558.4 738.5 1560.1 738.5 1561.7 738.5 1563.4 738.5 1565 738.5 1566.7 738.5 1568.4 738.5 1570 738.5 1571.7 738.5 1573.3 738.4 1575 738.4 1576.7 738.3 1578.3 738.2 1580 737.9 1581.6 737.3 1583.3 736.1 1585 734.5 1586.6 733.6 1588.3 734.5 1589.9 736.1 1591.6 737.3 1593.3 737.9 1594.9 738.1 1596.6 738.2 1598.2 738.3 1599.9 738.3 1601.5 738.3 1603.2 738.2 1604.9 738.2 1606.5 738.1 1608.2 738 1609.8 737.8 1611.5 737.6 1613.2 737.2 1614.8 736.4 1616.5 734.5 1618.1 730.4 1619.2 725.8 M1621.5 713.7 L1623.1 709.9 1624.2 713.4 M1626.4 725.5 L1628.1 732 1629.8 735.3 1631.4 736.7 1633.1 737.4 1634.7 737.7 1636.4 738 1638 738.1 1639.7 738.2 1641.4 738.3 1643 738.4 1644.7 738.5 1646.3 738.5 1648 738.6 1649.7 738.6 1651.3 738.6 1653 738.6 1654.6 738.7 1656.3 738.7 1658 738.7 1659.6 738.7 1661.3 738.7 1662.9 738.7 1664.6 738.7 1666.2 738.7 1667.9 738.8 1669.6 738.8 1671.2 738.8 1672.9 738.8 1674.5 738.8 1676.2 738.8 1677.9 738.8 1679.5 738.8 1681.2 738.8 1682.8 738.8 1684.5 738.8 1686.2 738.8 1687.8 738.7 1689.5 738.7 1691.1 738.7 1692.8 738.7 1694.5 738.7 1696.1 738.6 1697.8 738.5 1699.4 738.4 1701.1 738.2 1702.7 737.9 1704.4 737.5 1706.1 737 1707.7 736.4 1709.4 735.7 1711 735.2 1712.7 734.9 1714.4 735.1 1716 735.6 1717.7 736.2 1719.3 736.9 1721 737.4 1722.7 737.9 1724.3 738.2 1726 738.4 1727.6 738.6 1729.3 738.7 1730.9 738.7 1732.6 738.8 1734.3 738.8 1735.9 738.8 1737.6 738.8 1739.2 738.8 1740.9 738.9 1742.6 738.9 1744.2 738.9 1745.9 738.9 1747.5 738.9 1749.2 738.9 1750.9 738.9 1752.5 738.9 1754.2 738.8 1755.8 738.8 1757.5 738.8 1759.2 738.8 1760.8 738.7 1762.5 738.6 1764.1 738.5 1765.8 738.3 1767.4 738 1769.1 737.5 1770.8 736.9 1772.4 736.2 1774.1 735.4 1775.7 734.6 1777.4 734.2 1779.1 734.2 1780.7 734.7 1782.4 735.5 1784 736.3 1785.7 737 1787.4 737.6 1789 738.1 1790.7 738.4 1792.3 738.6 1794 738.7 1795.7 738.8 1797.3 738.9 1799 738.9 1800.6 739 1802.3 739 1803.9 739 1805.6 739.1 1807.3 739.1 1808.9 739.1 1810.6 739.1 1812.2 739.1 1813.9 739.1 1815.6 739.1 1817.2 739.1 1818.9 739.2 1820.5 739.2 1822.2 739.2 1823.9 739.2 1825.5 739.2 1827.2 739.2 1828.8 739.2 1830.5 739.2 1832.1 739.2 1833.8 739.2 1835.5 739.2 1837.1 739.2 1838.8 739.2 1840.4 739.2 1842.1 739.3 1843.8 739.3 1845.4 739.3 1847.1 739.3 1848.7 739.3 1850.4 739.3 1852.1 739.3 1853.7 739.3 1855.4 739.3 1857 739.3 1858.7 739.3 1860.4 739.3 1862 739.3 1863.7 739.3 1865.3 739.3 1867 739.3 1868.6 739.3 1870.3 739.3 1872 739.3 1873.6 739.3 1875.3 739.3 1876.9 739.3 1878.6 739.4 1880.3 739.4 1881.9 739.4 1883.6 739.4 1885.2 739.4 1886.9 739.4 1888.6 739.4 1890.2 739.4 1891.9 739.4 1893.5 739.4 1895.2 739.4 1896.8 739.4 1898.5 739.4 1900.2 739.4 1901.8 739.4 1903.5 739.4 1905.1 739.4 1906.8 739.4 1908.5 739.4 1910.1 739.4 1911.8 739.4 1913.4 739.4 1915.1 739.4 1916.8 739.4 1918.4 739.5 1920.1 739.5 1921.7 739.5 1923.4 739.5 1925.1 739.5 1926.7 739.5 1928.4 739.5 1930 739.5 1931.7 739.5 1933.3 739.5 1933.9 739.5" fill="none" stroke="#8f0000" stroke-width="20.5" stroke-linejoin="round" stroke-linecap="round"/>
<path d="M558 722.8h0M558.6 719.8h0M559.1 715.5h0M559.7 709.4h0M560.2 700.6h0M560.8 688.5h0M561.4 672.5h0M561.9 652.3h0M562.5 628.4h0M563 602.1h0M563.6 576h0M564.1 554.6h0M564.7 543h0M565.2 545h0M565.8 559.9h0M566.3 583.1h0M566.9 609.6h0M567.4 635.5h0M568 658.4h0M568.5 677.5h0M569.1 692.3h0M569.6 703.4h0M570.2 711.4h0M570.8 717h0M571.3 720.9h0M645.4 725.2h0M646 721.8h0M646.5 717.4h0M647.1 712.2h0M647.6 706.2h0M648.2 699.7h0M648.7 693.4h0M649.3 687.9h0M649.8 684.3h0M650.9 685.7h0M651.5 690.3h0M652 696.4h0M652.6 702.9h0M653.2 709.2h0M653.7 714.8h0M654.3 719.6h0M654.8 723.5h0M655.4 726.6h0M788.1 719.3h0M788.6 715.8h0M789.2 711h0M789.7 704.3h0M790.3 694.9h0M790.8 682.2h0M791.4 665.3h0M792 643.8h0M792.5 617.6h0M793.1 587.3h0M793.6 554.7h0M794.2 522.6h0M794.7 495.7h0M795.3 479.6h0M795.8 478.7h0M796.4 493.1h0M796.9 519h0M797.5 550.7h0M798 583.5h0M798.6 614.2h0M799.1 640.9h0M799.7 663h0M800.3 680.4h0M800.8 693.6h0M801.4 703.3h0M801.9 710.3h0M802.5 715.3h0M803 718.9h0M980 725.6h0M980.5 722.5h0M981.1 718.2h0M981.6 712.4h0M982.2 704.7h0M982.7 695h0M983.3 683.4h0M983.8 670.1h0M984.4 655.9h0M985 642.4h0M985.5 631.5h0M986.1 625.8h0M986.6 626.8h0M987.2 634.1h0M987.7 646h0M988.3 659.9h0M988.8 673.9h0M989.4 686.8h0M989.9 698h0M990.5 707.1h0M991 714.2h0M991.6 719.5h0M992.1 723.5h0M1066.8 722.3h0M1067.3 719.2h0M1067.9 715.9h0M1068.5 712.7h0M1071.8 713h0M1072.3 716.2h0M1072.9 719.5h0M1073.4 722.6h0M1377 723.9h0M1377.6 720.5h0M1378.1 716.6h0M1378.7 712.5h0M1379.2 708.4h0M1379.8 704.6h0M1382 702.4h0M1382.6 705.6h0M1383.1 709.5h0M1383.7 713.7h0M1384.2 717.7h0M1384.8 721.5h0M1385.3 724.7h0M1619.8 722.9h0M1620.3 719.8h0M1620.9 716.7h0M1624.8 716.3h0M1625.3 719.5h0M1625.9 722.6h0" fill="none" stroke="#8f0000" stroke-width="20.5" stroke-linecap="round"/>
<path d="M164.3 994 L166 994 167.6 994.1 169.3 994.1 170.9 994.1 172.6 994.2 174.3 994.2 175.9 994.3 177.6 994.3 179.2 994.4 180.9 994.4 182.5 994.5 184.2 994.5 185.9 994.5 187.5 994.6 189.2 994.6 190.8 994.7 192.5 994.7 194.2 994.7 195.8 994.8 197.5 994.8 199.1 994.8 200.8 994.8 202.5 994.9 204.1 994.9 205.8 994.9 207.4 994.9 209.1 994.8 210.8 994.7 212.4 994.6 214.1 994.2 215.7 993.4 217.4 991.8 219 989.2 220.7 986.2 222.4 984.6 224 986 225.7 989.1 227.3 991.8 229 993.6 230.7 994.6 232.3 995.1 234 995.4 235.6 995.6 237.3 995.7 239 995.8 240.6 995.9 242.3 996 243.9 996.1 245.6 996.1 247.3 996.2 248.9 996.3 250.6 996.3 252.2 996.4 253.9 996.4 255.5 996.5 257.2 996.5 258.9 996.6 260.5 996.7 262.2 996.7 263.8 996.8 265.5 996.8 267.2 996.9 268.8 996.9 270.5 997 272.1 997 273.8 997.1 275.5 997.1 277.1 997.2 278.8 997.2 280.4 997.3 282.1 997.3 283.7 997.4 285.4 997.4 287.1 997.5 288.7 997.5 290.4 997.6 292 997.6 293.7 997.7 295.4 997.7 297 997.8 298.7 997.8 300.3 997.9 302 997.9 303.7 998 305.3 998 307 998.1 308.6 998.1 310.3 998.2 312 998.2 313.6 998.3 315.3 998.3 316.9 998.4 318.6 998.4 320.2 998.5 321.9 998.5 323.6 998.6 325.2 998.6 326.9 998.7 328.5 998.7 330.2 998.8 331.9 998.8 333.5 998.9 335.2 998.9 336.8 999 338.5 999 340.2 999.1 341.8 999.1 343.5 999.1 345.1 999.2 346.8 999.2 348.4 999.2 350.1 999.2 351.8 999.1 353.4 998.9 355.1 998.4 356.7 997.6 358.4 996.8 360.1 996.9 361.7 997.8 363.4 998.7 365 999.3 366.7 999.6 368.4 999.8 370 999.9 371.7 999.9 373.3 1000 375 1000.1 376.7 1000.1 378.3 1000.2 380 1000.3 381.6 1000.3 383.3 1000.4 384.9 1000.4 386.6 1000.4 388.3 1000.4 389.9 1000.5 391.6 1000.5 393.2 1000.5 394.9 1000.5 396.6 1000.5 398.2 1000.5 399.9 1000.5 401.5 1000.5 403.2 1000.5 404.9 1000.5 406.5 1000.5 408.2 1000.5 409.8 1000.5 411.5 1000.5 413.2 1000.6 414.8 1000.6 416.5 1000.6 418.1 1000.6 419.8 1000.6 421.4 1000.6 423.1 1000.6 424.8 1000.6 426.4 1000.6 428.1 1000.6 429.7 1000.6 431.4 1000.6 433.1 1000.6 434.7 1000.6 436.4 1000.6 438 1000.6 439.7 1000.6 441.4 1000.6 443 1000.6 444.7 1000.6 446.3 1000.6 448 1000.6 449.6 1000.6 451.3 1000.6 453 1000.6 454.6 1000.6 456.3 1000.6 457.9 1000.6 459.6 1000.6 461.3 1000.6 462.9 1000.6 464.6 1000.6 466.2 1000.6 467.9 1000.6 469.6 1000.6 471.2 1000.5 472.9 1000.5 474.5 1000.4 476.2 1000.4 477.9 1000.3 479.5 1000.2 481.2 1000 482.8 999.8 484.5 999.5 486.1 998.9 487.8 997.6 489.5 995 491.1 990.5 492.8 984.5 494.4 979.5 496.1 979.8 497.8 985.1 499.4 991 501.1 995.3 502.7 997.8 504.4 999 506.1 999.6 507.7 999.9 509.4 1000.1 511 1000.2 512.7 1000.3 514.3 1000.4 516 1000.5 517.7 1000.5 519.3 1000.5 521 1000.5 522.6 1000.5 524.3 1000.6 526 1000.5 527.6 1000.5 529.3 1000.5 530.9 1000.5 532.6 1000.5 534.3 1000.4 535.9 1000.3 537.6 1000.3 539.2 1000.2 540.9 1000.1 542.6 999.9 544.2 999.7 545.9 999.5 547.5 999.1 549.2 998.7 550.8 998.1 552.5 997.2 554.2 995.9 555.8 993.8 557.5 989.4 M570.8 988.7 L572.4 993.5 574.1 995.8 575.7 997.2 577.4 998.1 579.1 998.8 580.7 999.3 582.4 999.6 584 999.9 585.7 1000.1 587.3 1000.3 589 1000.4 590.7 1000.5 592.3 1000.6 594 1000.7 595.6 1000.8 597.3 1000.8 599 1000.9 600.6 1000.9 602.3 1001 603.9 1001 605.6 1001 607.3 1001.1 608.9 1001.1 610.6 1001.1 612.2 1001.1 613.9 1001.1 615.5 1001.1 617.2 1001.1 618.9 1001.1 620.5 1001.1 622.2 1001.1 623.8 1001.1 625.5 1001 627.2 1001 628.8 1001 630.5 1000.9 632.1 1000.8 633.8 1000.7 635.5 1000.6 637.1 1000.4 638.8 1000.2 640.4 999.8 642.1 999.2 643.8 998 645.4 995 646 993.2 M650.9 957.6 L651.5 957.9 M655.9 991.5 L657.6 996.7 659.2 998.7 660.9 999.5 662.6 1000 664.2 1000.4 665.9 1000.6 667.5 1000.7 669.2 1000.9 670.8 1001 672.5 1001 674.2 1001.1 675.8 1001.1 677.5 1001.2 679.1 1001.2 680.8 1001.2 682.5 1001.3 684.1 1001.3 685.8 1001.3 687.4 1001.3 689.1 1001.3 690.8 1001.3 692.4 1001.4 694.1 1001.4 695.7 1001.4 697.4 1001.4 699.1 1001.4 700.7 1001.4 702.4 1001.4 704 1001.4 705.7 1001.4 707.3 1001.4 709 1001.4 710.7 1001.4 712.3 1001.4 714 1001.4 715.6 1001.4 717.3 1001.4 719 1001.4 720.6 1001.4 722.3 1001.4 723.9 1001.4 725.6 1001.4 727.3 1001.4 728.9 1001.4 730.6 1001.4 732.2 1001.4 733.9 1001.4 735.5 1001.4 737.2 1001.3 738.9 1001.3 740.5 1001.3 742.2 1001.3 743.8 1001.3 745.5 1001.3 747.2 1001.3 748.8 1001.2 750.5 1001.2 752.1 1001.2 753.8 1001.2 755.5 1001.1 757.1 1001.1 758.8 1001 760.4 1001 762.1 1000.9 763.8 1000.9 765.4 1000.8 767.1 1000.7 768.7 1000.6 770.4 1000.4 772 1000.2 773.7 1000 775.4 999.8 777 999.4 778.7 999 780.3 998.4 782 997.6 783.7 996.5 785.3 994.8 787 992 788.1 988.8 M803 988.5 L804.7 993 806.3 995.4 808 996.8 809.7 997.8 811.3 998.6 813 999.1 814.6 999.5 816.3 999.8 817.9 1000 819.6 1000.2 821.3 1000.4 822.9 1000.5 824.6 1000.6 826.2 1000.7 827.9 1000.7 829.6 1000.8 831.2 1000.8 832.9 1000.8 834.5 1000.7 836.2 1000.7 837.9 1000.6 839.5 1000.4 841.2 1000.1 842.8 999.5 844.5 998.5 846.1 997.2 847.8 995.4 849.5 993.4 851.1 991.9 852.8 991.5 854.4 992.5 856.1 994.3 857.8 996.3 859.4 997.9 861.1 999.1 862.7 999.9 864.4 1000.4 866.1 1000.7 867.7 1000.9 869.4 1001 871 1001.1 872.7 1001.1 874.4 1001.1 876 1001.1 877.7 1001.1 879.3 1001.1 881 1001.1 882.6 1001 884.3 1000.9 886 1000.7 887.6 1000.4 889.3 999.7 890.9 998.1 892.6 994.6 894.3 989.1 895.9 983.9 897.6 984.2 899.2 989.7 900.9 995.1 902.6 998.4 904.2 999.9 905.9 1000.5 907.5 1000.9 909.2 1001 910.9 1001.2 912.5 1001.3 914.2 1001.3 915.8 1001.4 917.5 1001.4 919.1 1001.5 920.8 1001.5 922.5 1001.5 924.1 1001.5 925.8 1001.5 927.4 1001.6 929.1 1001.6 930.8 1001.6 932.4 1001.6 934.1 1001.6 935.7 1001.6 937.4 1001.6 939.1 1001.6 940.7 1001.6 942.4 1001.6 944 1001.5 945.7 1001.5 947.3 1001.5 949 1001.5 950.7 1001.5 952.3 1001.4 954 1001.4 955.6 1001.4 957.3 1001.3 959 1001.3 960.6 1001.2 962.3 1001.1 963.9 1001 965.6 1000.9 967.3 1000.7 968.9 1000.4 970.6 1000.1 972.2 999.7 973.9 999 975.6 998.1 977.2 996.3 978.9 992.3 M991.6 992.9 L993.2 996.6 994.9 998.2 996.6 999.2 998.2 999.8 999.9 1000.2 1001.5 1000.5 1003.2 1000.7 1004.9 1000.9 1006.5 1001.1 1008.2 1001.2 1009.8 1001.3 1011.5 1001.3 1013.2 1001.4 1014.8 1001.5 1016.5 1001.5 1018.1 1001.5 1019.8 1001.6 1021.5 1001.6 1023.1 1001.6 1024.8 1001.6 1026.4 1001.6 1028.1 1001.7 1029.7 1001.7 1031.4 1001.7 1033.1 1001.7 1034.7 1001.7 1036.4 1001.7 1038 1001.7 1039.7 1001.7 1041.4 1001.7 1043 1001.7 1044.7 1001.6 1046.3 1001.6 1048 1001.6 1049.7 1001.5 1051.3 1001.5 1053 1001.4 1054.6 1001.3 1056.3 1001.2 1057.9 1001 1059.6 1000.6 1061.3 999.9 1062.9 998.3 1064.6 994.7 1066.2 988.4 1067.9 980.8 1069.6 978.2 1071.2 983.9 1072.9 991.4 1074.5 996.6 1076.2 999.2 1077.9 1000.3 1079.5 1000.8 1081.2 1001.1 1082.8 1001.3 1084.5 1001.5 1086.2 1001.6 1087.8 1001.6 1089.5 1001.7 1091.1 1001.8 1092.8 1001.8 1094.4 1001.8 1096.1 1001.9 1097.8 1001.9 1099.4 1001.9 1101.1 1001.9 1102.7 1001.9 1104.4 1001.9 1106.1 1002 1107.7 1002 1109.4 1002 1111 1002 1112.7 1002 1114.4 1002 1116 1002 1117.7 1002 1119.3 1002 1121 1002 1122.6 1002 1124.3 1002 1126 1002 1127.6 1002 1129.3 1002 1130.9 1002 1132.6 1002 1134.3 1001.9 1135.9 1001.9 1137.6 1001.8 1139.2 1001.8 1140.9 1001.6 1142.6 1001.4 1144.2 1000.9 1145.9 999.8 1147.5 997.5 1149.2 994.3 1150.9 992.2 1152.5 993.6 1154.2 996.8 1155.8 999.4 1157.5 1000.8 1159.1 1001.4 1160.8 1001.7 1162.5 1001.8 1164.1 1001.9 1165.8 1002 1167.4 1002 1169.1 1002 1170.8 1002.1 1172.4 1002.1 1174.1 1002.1 1175.7 1002.1 1177.4 1002.1 1179.1 1002.1 1180.7 1002.2 1182.4 1002.2 1184 1002.2 1185.7 1002.2 1187.4 1002.2 1189 1002.2 1190.7 1002.2 1192.3 1002.2 1194 1002.2 1195.6 1002.2 1197.3 1002.2 1199 1002.2 1200.6 1002.1 1202.3 1002.1 1203.9 1002.1 1205.6 1002.1 1207.3 1002 1208.9 1002 1210.6 1001.9 1212.2 1001.9 1213.9 1001.7 1215.6 1001.5 1217.2 1001.2 1218.9 1000.4 1220.5 998.9 1222.2 996.2 1223.8 992.7 1225.5 989.8 1227.2 989.9 1228.8 993.1 1230.5 996.6 1232.1 999.1 1233.8 1000.6 1235.5 1001.3 1237.1 1001.6 1238.8 1001.8 1240.4 1001.9 1242.1 1002 1243.8 1002.1 1245.4 1002.2 1247.1 1002.2 1248.7 1002.2 1250.4 1002.3 1252.1 1002.3 1253.7 1002.3 1255.4 1002.3 1257 1002.3 1258.7 1002.3 1260.3 1002.4 1262 1002.4 1263.7 1002.4 1265.3 1002.4 1267 1002.4 1268.6 1002.4 1270.3 1002.4 1272 1002.4 1273.6 1002.4 1275.3 1002.4 1276.9 1002.4 1278.6 1002.4 1280.3 1002.4 1281.9 1002.5 1283.6 1002.5 1285.2 1002.5 1286.9 1002.5 1288.5 1002.5 1290.2 1002.5 1291.9 1002.5 1293.5 1002.5 1295.2 1002.5 1296.8 1002.5 1298.5 1002.5 1300.2 1002.5 1301.8 1002.5 1303.5 1002.5 1305.1 1002.5 1306.8 1002.5 1308.5 1002.5 1310.1 1002.5 1311.8 1002.5 1313.4 1002.5 1315.1 1002.5 1316.8 1002.5 1318.4 1002.5 1320.1 1002.5 1321.7 1002.5 1323.4 1002.5 1325 1002.5 1326.7 1002.5 1328.4 1002.5 1330 1002.5 1331.7 1002.5 1333.3 1002.5 1335 1002.5 1336.7 1002.5 1338.3 1002.5 1340 1002.5 1341.6 1002.5 1343.3 1002.5 1345 1002.5 1346.6 1002.5 1348.3 1002.5 1349.9 1002.5 1351.6 1002.5 1353.3 1002.4 1354.9 1002.4 1356.6 1002.4 1358.2 1002.4 1359.9 1002.3 1361.5 1002.2 1363.2 1002.2 1364.9 1002.1 1366.5 1001.9 1368.2 1001.8 1369.8 1001.5 1371.5 1001.1 1373.2 1000.2 1374.8 998.3 1376.5 994 1377.6 989.2 M1379.8 977.1 L1381.5 973.9 1382.6 977.8 M1384.8 989.9 L1386.4 996.2 1388.1 999.3 1389.7 1000.7 1391.4 1001.3 1393.1 1001.6 1394.7 1001.8 1396.4 1001.9 1398 1002 1399.7 1002.1 1401.4 1002.1 1403 1002.2 1404.7 1002.1 1406.3 1002.1 1408 1002 1409.7 1001.9 1411.3 1001.7 1413 1001.2 1414.6 1000 1416.3 997.4 1418 992.9 1419.6 988 1421.3 987 1422.9 991.3 1424.6 996.2 1426.2 999.3 1427.9 1000.9 1429.6 1001.5 1431.2 1001.7 1432.9 1001.8 1434.5 1001.8 1436.2 1001.6 1437.9 1001 1439.5 999.6 1441.2 997 1442.8 993.8 1444.5 992.8 1446.2 995.2 1447.8 998.3 1449.5 1000.5 1451.1 1001.6 1452.8 1002.1 1454.4 1002.3 1456.1 1002.5 1457.8 1002.5 1459.4 1002.6 1461.1 1002.7 1462.7 1002.7 1464.4 1002.7 1466.1 1002.8 1467.7 1002.8 1469.4 1002.8 1471 1002.8 1472.7 1002.8 1474.4 1002.8 1476 1002.9 1477.7 1002.9 1479.3 1002.9 1481 1002.9 1482.7 1002.9 1484.3 1002.9 1486 1002.9 1487.6 1002.9 1489.3 1002.9 1490.9 1002.9 1492.6 1002.9 1494.3 1002.9 1495.9 1002.9 1497.6 1003 1499.2 1003 1500.9 1003 1502.6 1003 1504.2 1003 1505.9 1003 1507.5 1003 1509.2 1003 1510.9 1003 1512.5 1003 1514.2 1003 1515.8 1003 1517.5 1003 1519.2 1003 1520.8 1003 1522.5 1003 1524.1 1003 1525.8 1003 1527.4 1003 1529.1 1003 1530.8 1003 1532.4 1003 1534.1 1003.1 1535.7 1003.1 1537.4 1003.1 1539.1 1003.1 1540.7 1003.1 1542.4 1003.1 1544 1003.1 1545.7 1003.1 1547.4 1003.1 1549 1003.1 1550.7 1003.1 1552.3 1003.1 1554 1003.1 1555.6 1003.1 1557.3 1003.1 1559 1003.1 1560.6 1003.1 1562.3 1003.1 1563.9 1003.1 1565.6 1003.1 1567.3 1003.1 1568.9 1003.1 1570.6 1003 1572.2 1003 1573.9 1003 1575.6 1002.9 1577.2 1002.8 1578.9 1002.4 1580.5 1001.7 1582.2 1000.5 1583.9 999.3 1585.5 999.4 1587.2 1000.6 1588.8 1001.8 1590.5 1002.5 1592.1 1002.8 1593.8 1002.9 1595.5 1003 1597.1 1003 1598.8 1003.1 1600.4 1003.1 1602.1 1003.1 1603.8 1003.1 1605.4 1003.1 1607.1 1003 1608.7 1003 1610.4 1003 1612.1 1002.9 1613.7 1002.8 1615.4 1002.6 1617 1002 1618.7 1000.7 1620.3 998.7 1622 996.6 1623.7 996.6 1625.3 998.6 1627 1000.7 1628.6 1002 1630.3 1002.6 1632 1002.9 1633.6 1003 1635.3 1003.1 1636.9 1003.1 1638.6 1003.1 1640.3 1003.2 1641.9 1003.2 1643.6 1003.2 1645.2 1003.2 1646.9 1003.3 1648.6 1003.3 1650.2 1003.3 1651.9 1003.3 1653.5 1003.3 1655.2 1003.3 1656.8 1003.3 1658.5 1003.3 1660.2 1003.3 1661.8 1003.3 1663.5 1003.3 1665.1 1003.3 1666.8 1003.3 1668.5 1003.3 1670.1 1003.3 1671.8 1003.3 1673.4 1003.3 1675.1 1003.3 1676.8 1003.3 1678.4 1003.3 1680.1 1003.3 1681.7 1003.3 1683.4 1003.3 1685.1 1003.3 1686.7 1003.3 1688.4 1003.3 1690 1003.3 1691.7 1003.3 1693.3 1003.3 1695 1003.2 1696.7 1003.2 1698.3 1003.1 1700 1003 1701.6 1002.9 1703.3 1002.6 1705 1002.3 1706.6 1001.9 1708.3 1001.4 1709.9 1000.9 1711.6 1000.6 1713.3 1000.5 1714.9 1000.7 1716.6 1001.1 1718.2 1001.6 1719.9 1002.1 1721.5 1002.5 1723.2 1002.8 1724.9 1003 1726.5 1003.1 1728.2 1003.2 1729.8 1003.3 1731.5 1003.3 1733.2 1003.3 1734.8 1003.4 1736.5 1003.4 1738.1 1003.4 1739.8 1003.4 1741.5 1003.4 1743.1 1003.4 1744.8 1003.4 1746.4 1003.4 1748.1 1003.4 1749.8 1003.4 1751.4 1003.4 1753.1 1003.4 1754.7 1003.4 1756.4 1003.4 1758 1003.4 1759.7 1003.3 1761.4 1003.3 1763 1003.2 1764.7 1003.1 1766.3 1002.9 1768 1002.6 1769.7 1002.2 1771.3 1001.7 1773 1001.1 1774.6 1000.4 1776.3 999.9 1778 999.6 1779.6 999.8 1781.3 1000.3 1782.9 1000.9 1784.6 1001.6 1786.2 1002.1 1787.9 1002.6 1789.6 1002.9 1791.2 1003.1 1792.9 1003.3 1794.5 1003.4 1796.2 1003.4 1797.9 1003.5 1799.5 1003.5 1801.2 1003.5 1802.8 1003.6 1804.5 1003.6 1806.2 1003.6 1807.8 1003.6 1809.5 1003.6 1811.1 1003.6 1812.8 1003.6 1814.5 1003.7 1816.1 1003.7 1817.8 1003.7 1819.4 1003.7 1821.1 1003.7 1822.7 1003.7 1824.4 1003.7 1826.1 1003.7 1827.7 1003.7 1829.4 1003.7 1831 1003.7 1832.7 1003.7 1834.4 1003.7 1836 1003.7 1837.7 1003.7 1839.3 1003.8 1841 1003.8 1842.7 1003.8 1844.3 1003.8 1846 1003.8 1847.6 1003.8 1849.3 1003.8 1851 1003.8 1852.6 1003.8 1854.3 1003.8 1855.9 1003.8 1857.6 1003.8 1859.2 1003.8 1860.9 1003.8 1862.6 1003.8 1864.2 1003.8 1865.9 1003.8 1867.5 1003.8 1869.2 1003.8 1870.9 1003.8 1872.5 1003.8 1874.2 1003.8 1875.8 1003.9 1877.5 1003.9 1879.2 1003.9 1880.8 1003.9 1882.5 1003.9 1884.1 1003.9 1885.8 1003.9 1887.4 1003.9 1889.1 1003.9 1890.8 1003.9 1892.4 1003.9 1894.1 1003.9 1895.7 1003.9 1897.4 1003.9 1899.1 1003.9 1900.7 1003.9 1902.4 1003.9 1904 1003.9 1905.7 1003.9 1907.4 1003.9 1909 1003.9 1910.7 1003.9 1912.3 1003.9 1914 1003.9 1915.7 1003.9 1917.3 1004 1919 1004 1920.6 1004 1922.3 1004 1923.9 1004 1925.6 1004 1927.3 1004 1928.9 1004 1930.6 1004 1932.2 1004 1933.9 1004" fill="none" stroke="#8f0000" stroke-width="20.5" stroke-linejoin="round" stroke-linecap="round"/>
<path d="M558 986.7h0M558.6 982.9h0M559.1 977.4h0M559.7 969.6h0M560.2 959h0M560.8 945.1h0M561.4 927.7h0M561.9 907.4h0M562.5 885.4h0M563 864.3h0M563.6 847.9h0M564.1 840.4h0M564.7 844.3h0M565.2 858.3h0M565.8 878.5h0M566.3 900.5h0M566.9 921.5h0M567.4 939.9h0M568 955h0M568.5 966.6h0M569.1 975.2h0M569.6 981.4h0M570.2 985.7h0M646.5 990.8h0M647.1 987.6h0M647.6 983.8h0M648.2 979.2h0M648.7 974.1h0M649.3 968.7h0M649.8 963.7h0M650.4 959.7h0M652 960.6h0M652.6 965h0M653.2 970.2h0M653.7 975.6h0M654.3 980.6h0M654.8 985h0M655.4 988.6h0M788.6 986.3h0M789.2 982.8h0M789.7 978h0M790.3 971.3h0M790.8 962.1h0M791.4 950h0M792 934.5h0M792.5 915.7h0M793.1 893.9h0M793.6 870.4h0M794.2 847.3h0M794.7 828h0M795.3 816.4h0M795.8 815.7h0M796.4 826.1h0M796.9 844.7h0M797.5 867.5h0M798 891.1h0M798.6 913.2h0M799.1 932.4h0M799.7 948.3h0M800.3 960.8h0M800.8 970.3h0M801.4 977.3h0M801.9 982.3h0M802.5 985.9h0M979.4 989.8h0M980 986.3h0M980.5 981.6h0M981.1 975.3h0M981.6 967.5h0M982.2 958h0M982.7 947.2h0M983.3 935.7h0M983.8 924.7h0M984.4 915.9h0M985 911.2h0M985.5 912h0M986.1 918h0M986.6 927.6h0M987.2 938.9h0M987.7 950.3h0M988.3 960.8h0M988.8 969.9h0M989.4 977.3h0M989.9 983h0M990.5 987.4h0M991 990.6h0M1378.1 986.3h0M1378.7 983.1h0M1379.2 980h0M1383.1 980.8h0M1383.7 984h0M1384.2 987.1h0" fill="none" stroke="#8f0000" stroke-width="20.5" stroke-linecap="round"/>
<path d="M164.3 1431 L166 1431 167.6 1431.1 169.3 1431.2 170.9 1431.3 172.6 1431.4 174.3 1431.5 175.9 1431.6 177.6 1431.7 179.2 1431.8 180.9 1431.9 182.5 1431.9 184.2 1432 185.9 1432.1 187.5 1432.2 189.2 1432.3 190.8 1432.4 192.5 1432.4 194.2 1432.5 195.8 1432.6 197.5 1432.7 199.1 1432.7 200.8 1432.8 202.5 1432.9 204.1 1432.9 205.8 1432.9 207.4 1432.9 209.1 1432.9 210.8 1432.9 212.4 1432.7 214.1 1432.4 215.7 1431.6 217.4 1429.8 219 1426.6 220.7 1422.2 222.4 1418.1 224 1417.8 225.7 1421.6 227.3 1426.4 229 1430 230.7 1432.2 232.3 1433.3 234 1433.9 235.6 1434.2 237.3 1434.5 239 1434.7 240.6 1434.9 242.3 1435 243.9 1435.2 245.6 1435.3 247.3 1435.5 248.9 1435.6 250.6 1435.7 252.2 1435.8 253.9 1435.9 255.5 1435.9 257.2 1436 258.9 1436.1 260.5 1436.1 262.2 1436.2 263.8 1436.2 265.5 1436.3 267.2 1436.3 268.8 1436.4 270.5 1436.5 272.1 1436.5 273.8 1436.6 275.5 1436.6 277.1 1436.7 278.8 1436.7 280.4 1436.8 282.1 1436.8 283.7 1436.9 285.4 1436.9 287.1 1437 288.7 1437 290.4 1437.1 292 1437.1 293.7 1437.2 295.4 1437.2 297 1437.3 298.7 1437.3 300.3 1437.4 302 1437.4 303.7 1437.5 305.3 1437.5 307 1437.6 308.6 1437.6 310.3 1437.7 312 1437.7 313.6 1437.8 315.3 1437.8 316.9 1437.9 318.6 1437.9 320.2 1438 321.9 1438 323.6 1438.1 325.2 1438.1 326.9 1438.2 328.5 1438.2 330.2 1438.3 331.9 1438.3 333.5 1438.4 335.2 1438.4 336.8 1438.5 338.5 1438.5 340.2 1438.6 341.8 1438.6 343.5 1438.6 345.1 1438.7 346.8 1438.7 348.4 1438.7 350.1 1438.7 351.8 1438.6 353.4 1438.4 355.1 1437.9 356.7 1437.1 358.4 1436.3 360.1 1436.4 361.7 1437.3 363.4 1438.2 365 1438.8 366.7 1439.1 368.4 1439.3 370 1439.4 371.7 1439.4 373.3 1439.5 375 1439.6 376.7 1439.6 378.3 1439.7 380 1439.8 381.6 1439.8 383.3 1439.9 384.9 1439.9 386.6 1439.9 388.3 1440 389.9 1440 391.6 1440 393.2 1440.1 394.9 1440.1 396.6 1440.1 398.2 1440.1 399.9 1440.2 401.5 1440.2 403.2 1440.2 404.9 1440.2 406.5 1440.3 408.2 1440.3 409.8 1440.3 411.5 1440.3 413.2 1440.4 414.8 1440.4 416.5 1440.4 418.1 1440.4 419.8 1440.4 421.4 1440.5 423.1 1440.5 424.8 1440.5 426.4 1440.5 428.1 1440.6 429.7 1440.6 431.4 1440.6 433.1 1440.6 434.7 1440.7 436.4 1440.7 438 1440.7 439.7 1440.7 441.4 1440.7 443 1440.8 444.7 1440.8 446.3 1440.8 448 1440.8 449.6 1440.9 451.3 1440.9 453 1440.9 454.6 1440.9 456.3 1440.9 457.9 1440.9 459.6 1441 461.3 1441 462.9 1441 464.6 1441 466.2 1441 467.9 1441 469.6 1441 471.2 1441 472.9 1441 474.5 1441 476.2 1441 477.9 1441 479.5 1441 481.2 1440.9 482.8 1440.9 484.5 1440.8 486.1 1440.6 487.8 1440.3 489.5 1439.6 491.1 1438.2 492.8 1435.6 494.4 1431.8 496.1 1427.9 497.8 1426.7 499.4 1429.4 501.1 1433.6 502.7 1437 504.4 1439.1 506.1 1440.2 507.7 1440.7 509.4 1441 511 1441.1 512.7 1441.2 514.3 1441.3 516 1441.4 517.7 1441.5 519.3 1441.5 521 1441.5 522.6 1441.5 524.3 1441.5 526 1441.6 527.6 1441.5 529.3 1441.5 530.9 1441.5 532.6 1441.5 534.3 1441.5 535.9 1441.4 537.6 1441.4 539.2 1441.3 540.9 1441.2 542.6 1441.1 544.2 1440.9 545.9 1440.8 547.5 1440.5 549.2 1440.2 550.8 1439.8 552.5 1439.1 554.2 1438.2 555.8 1436.7 557.5 1434.1 558.6 1430.5 M571.3 1431.2 L573 1435.6 574.6 1437.6 576.3 1438.8 577.9 1439.6 579.6 1440.1 581.3 1440.5 582.9 1440.8 584.6 1441.1 586.2 1441.2 587.9 1441.4 589.6 1441.5 591.2 1441.6 592.9 1441.7 594.5 1441.8 596.2 1441.8 597.9 1441.9 599.5 1441.9 601.2 1442 602.8 1442 604.5 1442 606.1 1442.1 607.8 1442.1 609.5 1442.1 611.1 1442.1 612.8 1442.1 614.4 1442.1 616.1 1442.1 617.8 1442.1 619.4 1442.1 621.1 1442.1 622.7 1442.1 624.4 1442 626.1 1442 627.7 1442 629.4 1441.9 631 1441.9 632.7 1441.8 634.4 1441.7 636 1441.6 637.7 1441.4 639.3 1441.1 641 1440.7 642.6 1440.1 644.3 1438.6 646 1434.9 646.5 1432.7 M650.9 1402.5 L651.5 1402.8 M655.9 1433.3 L657.6 1438 659.2 1439.8 660.9 1440.6 662.6 1441.1 664.2 1441.4 665.9 1441.6 667.5 1441.7 669.2 1441.8 670.8 1441.9 672.5 1441.9 674.2 1442 675.8 1442 677.5 1442.1 679.1 1442.1 680.8 1442.1 682.5 1442.1 684.1 1442.1 685.8 1442.1 687.4 1442.1 689.1 1442.1 690.8 1442.1 692.4 1442.1 694.1 1442.1 695.7 1442 697.4 1442 699.1 1441.9 700.7 1441.7 702.4 1441.5 704 1441.1 705.7 1440.5 707.3 1439.8 709 1439 710.7 1438.4 712.3 1438.2 714 1438.6 715.6 1439.3 717.3 1440.1 719 1440.8 720.6 1441.2 722.3 1441.5 723.9 1441.7 725.6 1441.8 727.3 1441.9 728.9 1441.9 730.6 1441.9 732.2 1441.9 733.9 1441.9 735.5 1441.9 737.2 1441.9 738.9 1441.9 740.5 1441.8 742.2 1441.8 743.8 1441.8 745.5 1441.7 747.2 1441.7 748.8 1441.6 750.5 1441.6 752.1 1441.5 753.8 1441.4 755.5 1441.4 757.1 1441.3 758.8 1441.2 760.4 1441 762.1 1440.9 763.8 1440.7 765.4 1440.5 767.1 1440.3 768.7 1440 770.4 1439.6 772 1439.2 773.7 1438.7 775.4 1438.1 777 1437.3 778.7 1436.2 780.3 1434.8 782 1432.9 783.7 1430.3 785.3 1426.2 785.9 1424.3 M805.2 1424 L806.9 1429 808.5 1432.1 810.2 1434.2 811.9 1435.7 813.5 1436.9 815.2 1437.8 816.8 1438.5 818.5 1439 820.2 1439.4 821.8 1439.8 823.5 1440.1 825.1 1440.3 826.8 1440.5 828.5 1440.7 830.1 1440.8 831.8 1440.9 833.4 1441 835.1 1441 836.7 1441.1 838.4 1441 840.1 1440.9 841.7 1440.6 843.4 1440.1 845 1439.2 846.7 1438.1 848.4 1436.6 850 1435.1 851.7 1434.1 853.3 1434.2 855 1435.3 856.7 1436.9 858.3 1438.4 860 1439.6 861.6 1440.5 863.3 1441.1 865 1441.4 866.6 1441.6 868.3 1441.7 869.9 1441.8 871.6 1441.9 873.2 1441.9 874.9 1441.9 876.6 1441.9 878.2 1441.9 879.9 1441.9 881.5 1441.9 883.2 1441.8 884.9 1441.7 886.5 1441.4 888.2 1441 889.8 1439.8 891.5 1437.3 893.2 1433 894.8 1428 896.5 1426.7 898.1 1430.7 899.8 1435.7 901.4 1439 903.1 1440.7 904.8 1441.4 906.4 1441.7 908.1 1441.9 909.7 1442 911.4 1442.1 913.1 1442.2 914.7 1442.2 916.4 1442.3 918 1442.3 919.7 1442.3 921.4 1442.4 923 1442.4 924.7 1442.4 926.3 1442.4 928 1442.4 929.7 1442.4 931.3 1442.4 933 1442.4 934.6 1442.4 936.3 1442.4 937.9 1442.4 939.6 1442.4 941.3 1442.4 942.9 1442.4 944.6 1442.4 946.2 1442.4 947.9 1442.4 949.6 1442.3 951.2 1442.3 952.9 1442.3 954.5 1442.3 956.2 1442.2 957.9 1442.2 959.5 1442.1 961.2 1442.1 962.8 1442 964.5 1441.9 966.2 1441.7 967.8 1441.6 969.5 1441.4 971.1 1441.1 972.8 1440.7 974.4 1440.1 976.1 1439.3 977.8 1437.8 979.4 1434.8 980 1433 M992.7 1433.6 L994.4 1437.4 996 1439 997.7 1440 999.3 1440.6 1001 1441 1002.6 1441.3 1004.3 1441.6 1006 1441.8 1007.6 1441.9 1009.3 1442 1010.9 1442.1 1012.6 1442.2 1014.3 1442.2 1015.9 1442.3 1017.6 1442.3 1019.2 1442.4 1020.9 1442.4 1022.6 1442.4 1024.2 1442.4 1025.9 1442.5 1027.5 1442.5 1029.2 1442.5 1030.9 1442.5 1032.5 1442.5 1034.2 1442.5 1035.8 1442.5 1037.5 1442.5 1039.1 1442.5 1040.8 1442.5 1042.5 1442.5 1044.1 1442.5 1045.8 1442.5 1047.4 1442.5 1049.1 1442.5 1050.8 1442.4 1052.4 1442.4 1054.1 1442.3 1055.7 1442.2 1057.4 1442.1 1059.1 1441.8 1060.7 1441.4 1062.4 1440.5 1064 1438.5 1065.7 1434.4 1067.3 1428.7 1069 1424.8 1070.7 1427.3 1072.3 1433.1 1074 1437.7 1075.6 1440.2 1077.3 1441.3 1079 1441.8 1080.6 1442.1 1082.3 1442.2 1083.9 1442.3 1085.6 1442.4 1087.3 1442.5 1088.9 1442.5 1090.6 1442.6 1092.2 1442.6 1093.9 1442.6 1095.6 1442.7 1097.2 1442.7 1098.9 1442.7 1100.5 1442.7 1102.2 1442.7 1103.8 1442.7 1105.5 1442.7 1107.2 1442.7 1108.8 1442.7 1110.5 1442.8 1112.1 1442.8 1113.8 1442.8 1115.5 1442.8 1117.1 1442.8 1118.8 1442.8 1120.4 1442.8 1122.1 1442.8 1123.8 1442.8 1125.4 1442.8 1127.1 1442.8 1128.7 1442.8 1130.4 1442.8 1132.1 1442.8 1133.7 1442.8 1135.4 1442.8 1137 1442.7 1138.7 1442.7 1140.3 1442.7 1142 1442.6 1143.7 1442.5 1145.3 1442.3 1147 1441.7 1148.6 1440.8 1150.3 1440 1152 1440 1153.6 1440.9 1155.3 1441.8 1156.9 1442.3 1158.6 1442.6 1160.3 1442.7 1161.9 1442.7 1163.6 1442.8 1165.2 1442.8 1166.9 1442.8 1168.5 1442.8 1170.2 1442.8 1171.9 1442.8 1173.5 1442.8 1175.2 1442.8 1176.8 1442.8 1178.5 1442.8 1180.2 1442.8 1181.8 1442.8 1183.5 1442.9 1185.1 1442.9 1186.8 1442.9 1188.5 1442.9 1190.1 1442.9 1191.8 1442.9 1193.4 1442.9 1195.1 1442.8 1196.8 1442.8 1198.4 1442.8 1200.1 1442.8 1201.7 1442.8 1203.4 1442.8 1205 1442.8 1206.7 1442.8 1208.4 1442.8 1210 1442.7 1211.7 1442.7 1213.3 1442.7 1215 1442.6 1216.7 1442.5 1218.3 1442.2 1220 1441.6 1221.6 1440.6 1223.3 1439 1225 1437.5 1226.6 1437 1228.3 1438.1 1229.9 1439.7 1231.6 1441.1 1233.2 1441.9 1234.9 1442.3 1236.6 1442.5 1238.2 1442.6 1239.9 1442.7 1241.5 1442.8 1243.2 1442.8 1244.9 1442.8 1246.5 1442.8 1248.2 1442.9 1249.8 1442.9 1251.5 1442.9 1253.2 1442.9 1254.8 1442.9 1256.5 1442.9 1258.1 1442.9 1259.8 1442.9 1261.5 1442.9 1263.1 1442.9 1264.8 1442.9 1266.4 1442.9 1268.1 1442.9 1269.7 1442.9 1271.4 1442.9 1273.1 1442.9 1274.7 1443 1276.4 1443 1278 1443 1279.7 1443 1281.4 1443 1283 1443 1284.7 1443 1286.3 1443 1288 1443 1289.7 1443 1291.3 1443 1293 1443 1294.6 1443 1296.3 1443 1298 1443 1299.6 1443 1301.3 1443 1302.9 1443.1 1304.6 1443.1 1306.2 1443.1 1307.9 1443.1 1309.6 1443.1 1311.2 1443.1 1312.9 1443.1 1314.5 1443.1 1316.2 1443.1 1317.9 1443.1 1319.5 1443.1 1321.2 1443.1 1322.8 1443.1 1324.5 1443.1 1326.2 1443.1 1327.8 1443.1 1329.5 1443.1 1331.1 1443.1 1332.8 1443.1 1334.4 1443.1 1336.1 1443.1 1337.8 1443.1 1339.4 1443.1 1341.1 1443.1 1342.7 1443.1 1344.4 1443.1 1346.1 1443.1 1347.7 1443.1 1349.4 1443.1 1351 1443.1 1352.7 1443.1 1354.4 1443 1356 1443 1357.7 1443 1359.3 1443 1361 1442.9 1362.7 1442.9 1364.3 1442.8 1366 1442.7 1367.6 1442.6 1369.3 1442.4 1370.9 1442.2 1372.6 1441.8 1374.3 1441.2 1375.9 1440 1377.6 1437.1 1379.2 1430.9 M1382.6 1411.7 L1384.2 1412.3 M1387.5 1431.6 L1389.2 1437.4 1390.9 1440.1 1392.5 1441.2 1394.2 1441.8 1395.8 1442.1 1397.5 1442.3 1399.1 1442.4 1400.8 1442.5 1402.5 1442.5 1404.1 1442.5 1405.8 1442.4 1407.4 1442.3 1409.1 1442.1 1410.8 1441.7 1412.4 1441 1414.1 1439.5 1415.7 1435.9 1416.8 1431.7 M1420.2 1413.6 L1421.8 1414.2 M1425.1 1432.4 L1426.8 1437.8 1428.5 1440.4 1430.1 1441.4 1431.8 1441.9 1433.4 1442.2 1435.1 1442.2 1436.8 1442.1 1438.4 1441.5 1440.1 1440.1 1441.7 1437.8 1443.4 1435.6 1445 1435.8 1446.7 1438.2 1448.4 1440.6 1450 1442 1451.7 1442.7 1453.3 1443 1455 1443.2 1456.7 1443.3 1458.3 1443.3 1460 1443.4 1461.6 1443.4 1463.3 1443.5 1465 1443.5 1466.6 1443.5 1468.3 1443.6 1469.9 1443.6 1471.6 1443.6 1473.3 1443.6 1474.9 1443.6 1476.6 1443.6 1478.2 1443.7 1479.9 1443.7 1481.5 1443.7 1483.2 1443.7 1484.9 1443.7 1486.5 1443.7 1488.2 1443.7 1489.8 1443.7 1491.5 1443.7 1493.2 1443.8 1494.8 1443.8 1496.5 1443.8 1498.1 1443.8 1499.8 1443.8 1501.5 1443.8 1503.1 1443.8 1504.8 1443.8 1506.4 1443.8 1508.1 1443.8 1509.7 1443.8 1511.4 1443.8 1513.1 1443.9 1514.7 1443.9 1516.4 1443.9 1518 1443.9 1519.7 1443.9 1521.4 1443.9 1523 1443.9 1524.7 1443.9 1526.3 1443.9 1528 1443.9 1529.7 1443.9 1531.3 1443.9 1533 1443.9 1534.6 1443.9 1536.3 1444 1538 1444 1539.6 1444 1541.3 1444 1542.9 1444 1544.6 1444 1546.2 1444 1547.9 1444 1549.6 1444 1551.2 1444 1552.9 1444 1554.5 1444 1556.2 1444 1557.9 1444 1559.5 1444 1561.2 1444 1562.8 1444 1564.5 1444 1566.2 1444.1 1567.8 1444.1 1569.5 1444.1 1571.1 1444.1 1572.8 1444.1 1574.5 1444.1 1576.1 1444.1 1577.8 1444.1 1579.4 1444.1 1581.1 1444.1 1582.7 1444.1 1584.4 1444.1 1586.1 1444.1 1587.7 1444.1 1589.4 1444.1 1591 1444.1 1592.7 1444.1 1594.4 1444.1 1596 1444 1597.7 1444 1599.3 1444 1601 1444 1602.7 1444 1604.3 1443.9 1606 1443.9 1607.6 1443.8 1609.3 1443.7 1610.9 1443.5 1612.6 1443.3 1614.3 1442.8 1615.9 1441.8 1617.6 1439.5 1619.2 1434.9 1620.9 1428.3 1622.6 1423.5 1624.2 1425.9 1625.9 1432.6 1627.5 1438.1 1629.2 1441.2 1630.9 1442.6 1632.5 1443.2 1634.2 1443.5 1635.8 1443.7 1637.5 1443.8 1639.2 1443.9 1640.8 1444 1642.5 1444.1 1644.1 1444.1 1645.8 1444.2 1647.4 1444.2 1649.1 1444.2 1650.8 1444.3 1652.4 1444.3 1654.1 1444.3 1655.7 1444.3 1657.4 1444.3 1659.1 1444.3 1660.7 1444.4 1662.4 1444.4 1664 1444.4 1665.7 1444.4 1667.4 1444.4 1669 1444.4 1670.7 1444.4 1672.3 1444.4 1674 1444.4 1675.6 1444.4 1677.3 1444.4 1679 1444.4 1680.6 1444.4 1682.3 1444.4 1683.9 1444.4 1685.6 1444.4 1687.3 1444.4 1688.9 1444.4 1690.6 1444.4 1692.2 1444.4 1693.9 1444.4 1695.6 1444.4 1697.2 1444.3 1698.9 1444.2 1700.5 1444.1 1702.2 1443.9 1703.9 1443.7 1705.5 1443.3 1707.2 1442.9 1708.8 1442.4 1710.5 1441.9 1712.1 1441.7 1713.8 1441.7 1715.5 1442 1717.1 1442.4 1718.8 1442.9 1720.4 1443.4 1722.1 1443.8 1723.8 1444 1725.4 1444.2 1727.1 1444.3 1728.7 1444.4 1730.4 1444.5 1732.1 1444.5 1733.7 1444.6 1735.4 1444.6 1737 1444.6 1738.7 1444.6 1740.4 1444.6 1742 1444.6 1743.7 1444.6 1745.3 1444.7 1747 1444.7 1748.6 1444.7 1750.3 1444.7 1752 1444.7 1753.6 1444.7 1755.3 1444.7 1756.9 1444.7 1758.6 1444.6 1760.3 1444.6 1761.9 1444.6 1763.6 1444.5 1765.2 1444.4 1766.9 1444.2 1768.6 1444 1770.2 1443.7 1771.9 1443.3 1773.5 1442.8 1775.2 1442.3 1776.8 1442 1778.5 1441.9 1780.2 1442.1 1781.8 1442.5 1783.5 1443 1785.1 1443.5 1786.8 1443.9 1788.5 1444.2 1790.1 1444.4 1791.8 1444.6 1793.4 1444.7 1795.1 1444.7 1796.8 1444.8 1798.4 1444.8 1800.1 1444.9 1801.7 1444.9 1803.4 1444.9 1805.1 1444.9 1806.7 1444.9 1808.4 1444.9 1810 1445 1811.7 1445 1813.3 1445 1815 1445 1816.7 1445 1818.3 1445 1820 1445 1821.6 1445 1823.3 1445 1825 1445 1826.6 1445.1 1828.3 1445.1 1829.9 1445.1 1831.6 1445.1 1833.3 1445.1 1834.9 1445.1 1836.6 1445.1 1838.2 1445.1 1839.9 1445.1 1841.5 1445.1 1843.2 1445.1 1844.9 1445.1 1846.5 1445.1 1848.2 1445.2 1849.8 1445.2 1851.5 1445.2 1853.2 1445.2 1854.8 1445.2 1856.5 1445.2 1858.1 1445.2 1859.8 1445.2 1861.5 1445.2 1863.1 1445.2 1864.8 1445.2 1866.4 1445.2 1868.1 1445.2 1869.8 1445.2 1871.4 1445.2 1873.1 1445.3 1874.7 1445.3 1876.4 1445.3 1878 1445.3 1879.7 1445.3 1881.4 1445.3 1883 1445.3 1884.7 1445.3 1886.3 1445.3 1888 1445.3 1889.7 1445.3 1891.3 1445.3 1893 1445.3 1894.6 1445.3 1896.3 1445.3 1898 1445.4 1899.6 1445.4 1901.3 1445.4 1902.9 1445.4 1904.6 1445.4 1906.3 1445.4 1907.9 1445.4 1909.6 1445.4 1911.2 1445.4 1912.9 1445.4 1914.5 1445.4 1916.2 1445.4 1917.9 1445.4 1919.5 1445.4 1921.2 1445.4 1922.8 1445.4 1924.5 1445.5 1926.2 1445.5 1927.8 1445.5 1929.5 1445.5 1931.1 1445.5 1932.8 1445.5 1933.9 1445.5" fill="none" stroke="#8f0000" stroke-width="20.5" stroke-linejoin="round" stroke-linecap="round"/>
<path d="M559.1 1427.5h0M559.7 1423.2h0M560.2 1417.2h0M560.8 1408.8h0M561.4 1397.7h0M561.9 1383.7h0M562.5 1367.1h0M563 1348.8h0M563.6 1330.7h0M564.1 1315.8h0M564.7 1307.8h0M565.2 1309.2h0M565.8 1319.5h0M566.3 1335.6h0M566.9 1354h0M567.4 1372h0M568 1387.9h0M568.5 1401.1h0M569.1 1411.4h0M569.6 1419.1h0M570.2 1424.7h0M570.8 1428.5h0M647.1 1429.8h0M647.6 1426.3h0M648.2 1422.2h0M648.7 1417.5h0M649.3 1412.6h0M649.8 1408h0M650.4 1404.4h0M652 1405.3h0M652.6 1409.3h0M653.2 1414h0M653.7 1418.9h0M654.3 1423.4h0M654.8 1427.4h0M655.4 1430.7h0M786.4 1421.9h0M787 1418.9h0M787.5 1414.9h0M788.1 1409.7h0M788.6 1402.7h0M789.2 1393.4h0M789.7 1381h0M790.3 1365h0M790.8 1344.8h0M791.4 1319.9h0M792 1290.4h0M792.5 1256.8h0M793.1 1220.2h0M793.6 1182.9h0M794.2 1148h0M794.7 1120.2h0M795.3 1104.1h0M795.8 1103.1h0M796.4 1117.5h0M796.9 1144.2h0M797.5 1178.5h0M798 1215.7h0M798.6 1252.5h0M799.1 1286.6h0M799.7 1316.6h0M800.3 1342.1h0M800.8 1362.8h0M801.4 1379.3h0M801.9 1392h0M802.5 1401.7h0M803 1409h0M803.6 1414.4h0M804.1 1418.4h0M804.7 1421.6h0M980.5 1430.5h0M981.1 1427h0M981.6 1422.2h0M982.2 1415.9h0M982.7 1407.9h0M983.3 1398.4h0M983.8 1387.4h0M984.4 1375.8h0M985 1364.7h0M985.5 1355.8h0M986.1 1351.1h0M986.6 1351.9h0M987.2 1357.9h0M987.7 1367.6h0M988.3 1379.1h0M988.8 1390.6h0M989.4 1401.2h0M989.9 1410.4h0M990.5 1417.8h0M991 1423.7h0M991.6 1428.1h0M992.1 1431.3h0M1379.8 1427.9h0M1380.3 1424.6h0M1380.9 1421h0M1381.5 1417.4h0M1382 1414.2h0M1384.8 1415h0M1385.3 1418.4h0M1385.9 1422h0M1386.4 1425.6h0M1387 1428.8h0M1417.4 1428.9h0M1418 1425.8h0M1418.5 1422.4h0M1419.1 1419.1h0M1419.6 1416h0M1422.4 1416.8h0M1422.9 1420h0M1423.5 1423.4h0M1424 1426.7h0M1424.6 1429.7h0" fill="none" stroke="#8f0000" stroke-width="20.5" stroke-linecap="round"/>
<path d="M164.3 1652 L166 1652.1 167.6 1652.1 169.3 1652.2 170.9 1652.3 172.6 1652.4 174.3 1652.4 175.9 1652.5 177.6 1652.6 179.2 1652.7 180.9 1652.7 182.5 1652.8 184.2 1652.9 185.9 1653 187.5 1653 189.2 1653.1 190.8 1653.2 192.5 1653.3 194.2 1653.3 195.8 1653.4 197.5 1653.5 199.1 1653.6 200.8 1653.6 202.5 1653.7 204.1 1653.8 205.8 1653.9 207.4 1653.9 209.1 1654 210.8 1654.1 212.4 1654.2 214.1 1654.2 215.7 1654.3 217.4 1654.4 219 1654.5 220.7 1654.5 222.4 1654.6 224 1654.7 225.7 1654.8 227.3 1654.8 229 1654.9 230.7 1655 232.3 1655.1 234 1655.1 235.6 1655.2 237.3 1655.3 239 1655.4 240.6 1655.4 242.3 1655.5 243.9 1655.6 245.6 1655.7 247.3 1655.7 248.9 1655.8 250.6 1655.9 252.2 1656 253.9 1656 255.5 1656.1 257.2 1656.2 258.9 1656.3 260.5 1656.4 262.2 1656.4 263.8 1656.5 265.5 1656.6 267.2 1656.7 268.8 1656.8 270.5 1656.8 272.1 1656.9 273.8 1657 275.5 1657.1 277.1 1657.2 278.8 1657.3 280.4 1657.3 282.1 1657.4 283.7 1657.5 285.4 1657.6 287.1 1657.7 288.7 1657.7 290.4 1657.8 292 1657.9 293.7 1658 295.4 1658.1 297 1658.1 298.7 1658.2 300.3 1658.3 302 1658.4 303.7 1658.5 305.3 1658.5 307 1658.6 308.6 1658.7 310.3 1658.8 312 1658.9 313.6 1658.9 315.3 1659 316.9 1659.1 318.6 1659.2 320.2 1659.3 321.9 1659.4 323.6 1659.4 325.2 1659.5 326.9 1659.6 328.5 1659.7 330.2 1659.7 331.9 1659.8 333.5 1659.9 335.2 1660 336.8 1660.1 338.5 1660.1 340.2 1660.2 341.8 1660.3 343.5 1660.4 345.1 1660.4 346.8 1660.5 348.4 1660.6 350.1 1660.6 351.8 1660.6 353.4 1660.5 355.1 1660.2 356.7 1659.7 358.4 1659.2 360.1 1659.3 361.7 1660 363.4 1660.7 365 1661.1 366.7 1661.3 368.4 1661.5 370 1661.6 371.7 1661.7 373.3 1661.8 375 1661.9 376.7 1662 378.3 1662.1 380 1662.2 381.6 1662.2 383.3 1662.3 384.9 1662.4 386.6 1662.4 388.3 1662.5 389.9 1662.5 391.6 1662.5 393.2 1662.5 394.9 1662.5 396.6 1662.6 398.2 1662.6 399.9 1662.6 401.5 1662.6 403.2 1662.6 404.9 1662.6 406.5 1662.7 408.2 1662.7 409.8 1662.7 411.5 1662.7 413.2 1662.7 414.8 1662.8 416.5 1662.8 418.1 1662.8 419.8 1662.8 421.4 1662.8 423.1 1662.8 424.8 1662.9 426.4 1662.9 428.1 1662.9 429.7 1662.9 431.4 1662.9 433.1 1662.9 434.7 1662.9 436.4 1663 438 1663 439.7 1663 441.4 1663 443 1663 444.7 1663 446.3 1663 448 1663.1 449.6 1663.1 451.3 1663.1 453 1663.1 454.6 1663.1 456.3 1663.1 457.9 1663.1 459.6 1663.1 461.3 1663.1 462.9 1663.1 464.6 1663.1 466.2 1663.1 467.9 1663.1 469.6 1663.1 471.2 1663.1 472.9 1663.1 474.5 1663 476.2 1663 477.9 1662.9 479.5 1662.8 481.2 1662.7 482.8 1662.6 484.5 1662.3 486.1 1661.8 487.8 1660.9 489.5 1659.1 491.1 1656.2 492.8 1652.2 494.4 1647.9 496.1 1645.6 497.8 1647.1 499.4 1651.2 501.1 1655.4 502.7 1658.6 504.4 1660.7 506.1 1661.8 507.7 1662.3 509.4 1662.7 511 1662.9 512.7 1663 514.3 1663.1 516 1663.2 517.7 1663.2 519.3 1663.2 521 1663.2 522.6 1662.8 524.3 1662 526 1660.5 527.6 1658.5 529.3 1656.4 530.9 1654.6 532.6 1653.3 534.3 1652.5 535.9 1652 537.6 1651.8 539.2 1651.7 540.9 1651.5 542.6 1651.3 544.2 1651.1 545.9 1651 547.5 1651.2 549.2 1651.7 550.8 1652.5 552.5 1653.3 554.2 1653.4 555.8 1651.3 556.4 1649.7 M564.1 1555 L564.1 1555 M571.9 1650.2 L573.5 1655.5 575.2 1658 576.8 1659.4 578.5 1660.4 580.2 1661 581.8 1661.5 583.5 1661.9 585.1 1662.2 586.8 1662.4 588.5 1662.6 590.1 1662.8 591.8 1662.9 593.4 1663 595.1 1663.1 596.7 1663.2 598.4 1663.2 600.1 1663.3 601.7 1663.3 603.4 1663.4 605 1663.4 606.7 1663.4 608.4 1663.4 610 1663.4 611.7 1663.5 613.3 1663.5 615 1663.5 616.7 1663.5 618.3 1663.5 620 1663.5 621.6 1663.5 623.3 1663.4 624.9 1663.4 626.6 1663.4 628.3 1663.3 629.9 1663.3 631.6 1663.2 633.2 1663.1 634.9 1662.9 636.6 1662.7 638.2 1662.5 639.9 1662.1 641.5 1661.3 643.2 1659.9 644.9 1656.7 646.5 1650.8 M649.8 1632.2 L651.5 1629.1 652 1630.5 M655.4 1648.9 L657 1655.6 658.7 1659.3 660.3 1661.1 662 1662 663.7 1662.4 665.3 1662.8 667 1663 668.6 1663.1 670.3 1663.3 672 1663.4 673.6 1663.4 675.3 1663.5 676.9 1663.6 678.6 1663.6 680.2 1663.6 681.9 1663.7 683.6 1663.7 685.2 1663.7 686.9 1663.7 688.5 1663.8 690.2 1663.8 691.9 1663.8 693.5 1663.8 695.2 1663.8 696.8 1663.8 698.5 1663.8 700.2 1663.8 701.8 1663.8 703.5 1663.8 705.1 1663.8 706.8 1663.8 708.5 1663.8 710.1 1663.9 711.8 1663.9 713.4 1663.9 715.1 1663.9 716.7 1663.9 718.4 1663.9 720.1 1663.9 721.7 1663.9 723.4 1663.9 725 1663.8 726.7 1663.8 728.4 1663.8 730 1663.8 731.7 1663.8 733.3 1663.8 735 1663.8 736.7 1663.8 738.3 1663.8 740 1663.8 741.6 1663.7 743.3 1663.4 745 1662.8 746.6 1661.8 748.3 1660.4 749.9 1658.8 751.6 1657.3 753.2 1656.1 754.9 1655.3 756.6 1654.9 758.2 1654.6 759.9 1654.5 761.5 1654.4 763.2 1654.4 764.9 1654.3 766.5 1654.3 768.2 1654.3 769.8 1654.6 771.5 1655.1 773.2 1655.9 774.8 1657.1 776.5 1658.4 778.1 1659.5 779.8 1660.2 781.4 1660.3 783.1 1659.8 784.8 1658.6 786.4 1656.2 788.1 1651.1 M803 1650.8 L804.7 1656 806.3 1658.5 808 1659.9 809.7 1660.7 811.3 1661.4 813 1661.8 814.6 1662.1 816.3 1662.4 817.9 1662.6 819.6 1662.8 821.3 1662.9 822.9 1663 824.6 1663.1 826.2 1663.2 827.9 1663.2 829.6 1663.2 831.2 1663.2 832.9 1663.2 834.5 1663.2 836.2 1663.1 837.9 1663 839.5 1662.8 841.2 1662.5 842.8 1661.9 844.5 1661 846.1 1659.6 847.8 1657.8 849.5 1655.8 851.1 1654.3 852.8 1653.9 854.4 1654.9 856.1 1656.7 857.8 1658.6 859.4 1660.3 861.1 1661.5 862.7 1662.3 864.4 1662.8 866.1 1663 867.7 1663.2 869.4 1663.3 871 1663.4 872.7 1663.4 874.4 1663.4 876 1663.4 877.7 1663.3 879.3 1663.3 881 1663.2 882.6 1663 884.3 1662.8 886 1662.4 887.6 1661.6 889.3 1659.9 890.9 1656.6 892.6 1651.4 894.3 1645.3 895.9 1642 897.6 1644.8 899.2 1650.7 900.9 1656.1 902.6 1659.7 904.2 1661.5 905.9 1662.4 907.5 1662.9 909.2 1663.2 910.9 1663.3 912.5 1663.5 914.2 1663.6 915.8 1663.6 917.5 1663.7 919.1 1663.8 920.8 1663.8 922.5 1663.8 924.1 1663.8 925.8 1663.9 927.4 1663.9 929.1 1663.9 930.8 1663.9 932.4 1663.9 934.1 1663.9 935.7 1663.9 937.4 1663.9 939.1 1663.9 940.7 1663.9 942.4 1663.9 944 1663.9 945.7 1663.9 947.3 1663.9 949 1663.9 950.7 1663.8 952.3 1663.8 954 1663.8 955.6 1663.7 957.3 1663.7 959 1663.7 960.6 1663.6 962.3 1663.5 963.9 1663.4 965.6 1663.3 967.3 1663.2 968.9 1663 970.6 1662.7 972.2 1662.4 973.9 1661.9 975.6 1661.1 977.2 1659.7 978.9 1656.7 980 1653.1 M986.1 1609.8 L986.6 1610.1 M992.1 1651.3 L993.8 1657.1 995.5 1659.9 997.1 1661.2 998.8 1661.9 1000.4 1662.4 1002.1 1662.8 1003.8 1663 1005.4 1663.2 1007.1 1663.4 1008.7 1663.5 1010.4 1663.6 1012 1663.7 1013.7 1663.7 1015.4 1663.8 1017 1663.8 1018.7 1663.9 1020.3 1663.9 1022 1663.9 1023.7 1663.9 1025.3 1664 1027 1664 1028.6 1664 1030.3 1664 1032 1664 1033.6 1664 1035.3 1664 1036.9 1664 1038.6 1664 1040.3 1664 1041.9 1664 1043.6 1664 1045.2 1664 1046.9 1663.9 1048.5 1663.9 1050.2 1663.9 1051.9 1663.8 1053.5 1663.7 1055.2 1663.6 1056.8 1663.5 1058.5 1663.2 1060.2 1662.7 1061.8 1661.7 1063.5 1659.7 1065.1 1656.3 1066.8 1651.6 1068.5 1647.8 1070.1 1648 1071.8 1652.1 1073.4 1656.7 1075.1 1660 1076.8 1661.9 1078.4 1662.8 1080.1 1663.3 1081.7 1663.5 1083.4 1663.7 1085 1663.8 1086.7 1663.9 1088.4 1663.9 1090 1664 1091.7 1664 1093.3 1664.1 1095 1664.1 1096.7 1664.1 1098.3 1664.1 1100 1664.1 1101.6 1664.2 1103.3 1664.2 1105 1664.2 1106.6 1664.2 1108.3 1664.2 1109.9 1664.2 1111.6 1664.2 1113.2 1664.2 1114.9 1664.2 1116.6 1664.2 1118.2 1664.2 1119.9 1664.2 1121.5 1664.2 1123.2 1664.2 1124.9 1664.2 1126.5 1664.2 1128.2 1664.1 1129.8 1664.1 1131.5 1664.1 1133.2 1664 1134.8 1664 1136.5 1663.9 1138.1 1663.8 1139.8 1663.7 1141.5 1663.4 1143.1 1662.9 1144.8 1661.7 1146.4 1659.6 1148.1 1656.6 1149.7 1653.4 1151.4 1652.4 1153.1 1654.6 1154.7 1658 1156.4 1660.7 1158 1662.3 1159.7 1663.2 1161.4 1663.6 1163 1663.8 1164.7 1663.9 1166.3 1664 1168 1664 1169.7 1664.1 1171.3 1664.1 1173 1664.1 1174.6 1664.2 1176.3 1664.2 1177.9 1664.2 1179.6 1664.2 1181.3 1664.2 1182.9 1664.2 1184.6 1664.2 1186.2 1664.2 1187.9 1664.2 1189.6 1664.1 1191.2 1664.1 1192.9 1663.9 1194.5 1663.7 1196.2 1663.2 1197.9 1662.4 1199.5 1661.3 1201.2 1660.4 1202.8 1660.5 1204.5 1661.4 1206.2 1662.5 1207.8 1663.2 1209.5 1663.6 1211.1 1663.8 1212.8 1663.9 1214.4 1663.8 1216.1 1663.7 1217.8 1663.4 1219.4 1662.9 1221.1 1661.9 1222.7 1660.6 1224.4 1659.2 1226.1 1658.4 1227.7 1658.9 1229.4 1660.3 1231 1661.7 1232.7 1662.7 1234.4 1663.4 1236 1663.8 1237.7 1664 1239.3 1664.1 1241 1664.2 1242.7 1664.2 1244.3 1664.3 1246 1664.3 1247.6 1664.3 1249.3 1664.3 1250.9 1664.3 1252.6 1664.4 1254.3 1664.4 1255.9 1664.4 1257.6 1664.4 1259.2 1664.4 1260.9 1664.4 1262.6 1664.4 1264.2 1664.4 1265.9 1664.4 1267.5 1664.4 1269.2 1664.4 1270.9 1664.4 1272.5 1664.4 1274.2 1664.4 1275.8 1664.4 1277.5 1664.4 1279.1 1664.4 1280.8 1664.5 1282.5 1664.5 1284.1 1664.5 1285.8 1664.5 1287.4 1664.5 1289.1 1664.5 1290.8 1664.5 1292.4 1664.5 1294.1 1664.5 1295.7 1664.5 1297.4 1664.5 1299.1 1664.5 1300.7 1664.5 1302.4 1664.5 1304 1664.5 1305.7 1664.5 1307.4 1664.5 1309 1664.5 1310.7 1664.5 1312.3 1664.5 1314 1664.5 1315.6 1664.5 1317.3 1664.5 1319 1664.5 1320.6 1664.5 1322.3 1664.5 1323.9 1664.5 1325.6 1664.5 1327.3 1664.5 1328.9 1664.5 1330.6 1664.5 1332.2 1664.5 1333.9 1664.5 1335.6 1664.5 1337.2 1664.5 1338.9 1664.5 1340.5 1664.5 1342.2 1664.5 1343.8 1664.5 1345.5 1664.5 1347.2 1664.5 1348.8 1664.5 1350.5 1664.4 1352.1 1664.4 1353.8 1664.4 1355.5 1664.4 1357.1 1664.4 1358.8 1664.3 1360.4 1664.3 1362.1 1664.3 1363.8 1664.2 1365.4 1664.1 1367.1 1664 1368.7 1663.9 1370.4 1663.6 1372.1 1663.2 1373.7 1662.2 1375.4 1660.3 1377 1657.1 1378.7 1652.7 1380.3 1649.1 1382 1649.3 1383.7 1653.1 1385.3 1657.4 1387 1660.5 1388.6 1662.3 1390.3 1663.2 1392 1663.6 1393.6 1663.8 1395.3 1663.9 1396.9 1664 1398.6 1664.1 1400.3 1664.1 1401.9 1664.1 1403.6 1664.1 1405.2 1664 1406.9 1663.9 1408.6 1663.8 1410.2 1663.6 1411.9 1663.2 1413.5 1662.3 1415.2 1660.5 1416.8 1657.5 1418.5 1653.4 1420.2 1650 1421.8 1650.2 1423.5 1653.8 1425.1 1657.8 1426.8 1660.7 1428.5 1662.4 1430.1 1663.2 1431.8 1663.5 1433.4 1663.6 1435.1 1663.5 1436.8 1663.2 1438.4 1662.5 1440.1 1661.1 1441.7 1659.3 1443.4 1657.7 1445 1657.8 1446.7 1659.5 1448.4 1661.4 1450 1662.8 1451.7 1663.6 1453.3 1664 1455 1664.2 1456.7 1664.3 1458.3 1664.4 1460 1664.5 1461.6 1664.5 1463.3 1664.6 1465 1664.6 1466.6 1664.6 1468.3 1664.6 1469.9 1664.6 1471.6 1664.7 1473.3 1664.7 1474.9 1664.7 1476.6 1664.7 1478.2 1664.7 1479.9 1664.7 1481.5 1664.7 1483.2 1664.7 1484.9 1664.7 1486.5 1664.7 1488.2 1664.7 1489.8 1664.8 1491.5 1664.8 1493.2 1664.8 1494.8 1664.8 1496.5 1664.8 1498.1 1664.8 1499.8 1664.8 1501.5 1664.8 1503.1 1664.8 1504.8 1664.8 1506.4 1664.8 1508.1 1664.8 1509.7 1664.8 1511.4 1664.8 1513.1 1664.8 1514.7 1664.8 1516.4 1664.8 1518 1664.8 1519.7 1664.8 1521.4 1664.8 1523 1664.8 1524.7 1664.8 1526.3 1664.8 1528 1664.8 1529.7 1664.8 1531.3 1664.8 1533 1664.8 1534.6 1664.8 1536.3 1664.8 1538 1664.8 1539.6 1664.8 1541.3 1664.8 1542.9 1664.8 1544.6 1664.9 1546.2 1664.9 1547.9 1664.9 1549.6 1664.9 1551.2 1664.9 1552.9 1664.9 1554.5 1664.8 1556.2 1664.8 1557.9 1664.8 1559.5 1664.8 1561.2 1664.8 1562.8 1664.8 1564.5 1664.8 1566.2 1664.8 1567.8 1664.8 1569.5 1664.8 1571.1 1664.7 1572.8 1664.7 1574.5 1664.6 1576.1 1664.5 1577.8 1664.2 1579.4 1663.6 1581.1 1662.7 1582.7 1661.6 1584.4 1660.9 1586.1 1661.3 1587.7 1662.4 1589.4 1663.4 1591 1664 1592.7 1664.4 1594.4 1664.5 1596 1664.6 1597.7 1664.6 1599.3 1664.7 1601 1664.7 1602.7 1664.6 1604.3 1664.6 1606 1664.6 1607.6 1664.5 1609.3 1664.4 1610.9 1664.3 1612.6 1664 1614.3 1663.6 1615.9 1662.6 1617.6 1660.6 1619.2 1657.4 1620.9 1653.6 1622.6 1651.1 1624.2 1652.3 1625.9 1656 1627.5 1659.6 1629.2 1662 1630.9 1663.3 1632.5 1663.9 1634.2 1664.3 1635.8 1664.4 1637.5 1664.6 1639.2 1664.6 1640.8 1664.7 1642.5 1664.8 1644.1 1664.8 1645.8 1664.8 1647.4 1664.9 1649.1 1664.9 1650.8 1664.9 1652.4 1664.9 1654.1 1664.9 1655.7 1664.9 1657.4 1665 1659.1 1665 1660.7 1665 1662.4 1665 1664 1665 1665.7 1665 1667.4 1665 1669 1665 1670.7 1665 1672.3 1665 1674 1665 1675.6 1665 1677.3 1665 1679 1665 1680.6 1665 1682.3 1665 1683.9 1665 1685.6 1665 1687.3 1665 1688.9 1665 1690.6 1665 1692.2 1665 1693.9 1664.9 1695.6 1664.9 1697.2 1664.8 1698.9 1664.8 1700.5 1664.6 1702.2 1664.5 1703.9 1664.2 1705.5 1663.8 1707.2 1663.4 1708.8 1662.9 1710.5 1662.4 1712.1 1662.2 1713.8 1662.2 1715.5 1662.5 1717.1 1662.9 1718.8 1663.4 1720.4 1663.9 1722.1 1664.2 1723.8 1664.5 1725.4 1664.7 1727.1 1664.8 1728.7 1664.9 1730.4 1664.9 1732.1 1665 1733.7 1665 1735.4 1665 1737 1665 1738.7 1665.1 1740.4 1665.1 1742 1665.1 1743.7 1665.1 1745.3 1665.1 1747 1665.1 1748.6 1665.1 1750.3 1665.1 1752 1665.1 1753.6 1665.1 1755.3 1665.1 1756.9 1665.1 1758.6 1665 1760.3 1665 1761.9 1665 1763.6 1664.9 1765.2 1664.8 1766.9 1664.6 1768.6 1664.4 1770.2 1664 1771.9 1663.6 1773.5 1663.1 1775.2 1662.7 1776.8 1662.3 1778.5 1662.2 1780.2 1662.5 1781.8 1662.9 1783.5 1663.4 1785.1 1663.8 1786.8 1664.2 1788.5 1664.5 1790.1 1664.8 1791.8 1664.9 1793.4 1665 1795.1 1665.1 1796.8 1665.1 1798.4 1665.1 1800.1 1665.2 1801.7 1665.2 1803.4 1665.2 1805.1 1665.2 1806.7 1665.2 1808.4 1665.2 1810 1665.2 1811.7 1665.2 1813.3 1665.3 1815 1665.3 1816.7 1665.3 1818.3 1665.3 1820 1665.3 1821.6 1665.3 1823.3 1665.3 1825 1665.3 1826.6 1665.3 1828.3 1665.3 1829.9 1665.3 1831.6 1665.3 1833.3 1665.3 1834.9 1665.3 1836.6 1665.3 1838.2 1665.3 1839.9 1665.3 1841.5 1665.3 1843.2 1665.3 1844.9 1665.3 1846.5 1665.3 1848.2 1665.3 1849.8 1665.4 1851.5 1665.4 1853.2 1665.4 1854.8 1665.4 1856.5 1665.4 1858.1 1665.4 1859.8 1665.4 1861.5 1665.4 1863.1 1665.4 1864.8 1665.4 1866.4 1665.4 1868.1 1665.4 1869.8 1665.4 1871.4 1665.4 1873.1 1665.4 1874.7 1665.4 1876.4 1665.4 1878 1665.4 1879.7 1665.4 1881.4 1665.4 1883 1665.4 1884.7 1665.4 1886.3 1665.4 1888 1665.4 1889.7 1665.4 1891.3 1665.4 1893 1665.4 1894.6 1665.4 1896.3 1665.4 1898 1665.4 1899.6 1665.4 1901.3 1665.4 1902.9 1665.4 1904.6 1665.4 1906.3 1665.4 1907.9 1665.4 1909.6 1665.5 1911.2 1665.5 1912.9 1665.5 1914.5 1665.5 1916.2 1665.5 1917.9 1665.5 1919.5 1665.5 1921.2 1665.5 1922.8 1665.5 1924.5 1665.5 1926.2 1665.5 1927.8 1665.5 1929.5 1665.5 1931.1 1665.5 1932.8 1665.5 1933.9 1665.5" fill="none" stroke="#8f0000" stroke-width="20.5" stroke-linejoin="round" stroke-linecap="round"/>
<path d="M556.9 1647.4h0M557.5 1644.3h0M558 1640.3h0M558.6 1635.1h0M559.1 1628.9h0M559.7 1621.4h0M560.2 1612.7h0M560.8 1603.1h0M561.4 1592.7h0M561.9 1582.2h0M562.5 1572.2h0M563 1563.6h0M563.6 1557.5h0M564.7 1556.3h0M565.2 1561.3h0M565.8 1569.2h0M566.3 1578.9h0M566.9 1589.4h0M567.4 1599.9h0M568 1609.8h0M568.5 1618.8h0M569.1 1626.8h0M569.6 1633.5h0M570.2 1639.2h0M570.8 1643.7h0M571.3 1647.4h0M647.1 1648h0M647.6 1645h0M648.2 1641.7h0M648.7 1638.3h0M649.3 1635h0M652.6 1632.9h0M653.2 1635.9h0M653.7 1639.3h0M654.3 1642.7h0M654.8 1645.9h0M788.6 1648.3h0M789.2 1644.8h0M789.7 1640.5h0M790.3 1635.1h0M790.8 1628.7h0M791.4 1621.3h0M792 1613h0M792.5 1603.8h0M793.1 1594.4h0M793.6 1585.1h0M794.2 1576.7h0M794.7 1570.2h0M795.3 1566.6h0M795.8 1566.4h0M796.4 1569.6h0M796.9 1575.8h0M797.5 1584h0M798 1593.2h0M798.6 1602.7h0M799.1 1611.9h0M799.7 1620.4h0M800.3 1627.9h0M800.8 1634.4h0M801.4 1639.9h0M801.9 1644.3h0M802.5 1647.9h0M980.5 1650.5h0M981.1 1647.5h0M981.6 1643.8h0M982.2 1639.6h0M982.7 1634.8h0M983.3 1629.7h0M983.8 1624.4h0M984.4 1619.3h0M985 1614.8h0M985.5 1611.5h0M987.2 1612.3h0M987.7 1616h0M988.3 1620.7h0M988.8 1625.9h0M989.4 1631.1h0M989.9 1636.2h0M990.5 1640.8h0M991 1644.9h0M991.6 1648.4h0" fill="none" stroke="#8f0000" stroke-width="20.5" stroke-linecap="round"/>
<path d="M164.3 432 L165.8 429.6 167.4 431.9 168.9 431 170.5 432.6 172 431.3 173.6 431 175.1 430.9 176.7 429.9 178.2 431.6 179.8 429.8 181.3 431.6 182.9 431.8 184.4 431.1 186 432.3 187.5 430.9 189.1 430.8 190.6 429.2 192.2 430.6 193.7 431.2 195.3 433.3 196.8 429.4 198.4 431.8 199.9 430.5 201.5 431.5 203 433.2 204.6 430.3 206.1 432.6 207.7 429.3 209.2 430.5 210.8 431.4 212.3 429.7 213.8 430.1 215.4 430 216.9 433.9 218.5 431.4 220 431.1 221.6 431.6 223.1 429.3 224.7 431.5 226.2 431.1 227.8 431.2 229.3 431 230.9 430.9 232.4 430.9 234 430.4 235.5 430.7 237.1 429.3 238.6 430.6 240.2 429.8 241.7 430.5 243.3 429.1 244.8 431.5 246.4 431.6 247.9 430.1 249.5 429.2 251 432.1 252.6 431.6 254.1 431.5 255.7 431.7 257.2 431.2 258.8 430.6 260.3 432.3 261.8 429.3 263.4 433.1 264.9 431 266.5 430.9 268 429.5 269.6 431 271.1 430.3 272.7 431 274.2 432.7 275.8 432.3 277.3 430.9 278.9 430.7 280.4 430.2 282 432.5 283.5 429.6 285.1 430.9 286.6 428.3 288.2 429.1 289.7 431.5 291.3 430.6 292.8 431 294.4 430.9 295.9 432.6 297.5 429.5 299 434.1 300.6 430.5 302.1 431.7 303.7 431.5 305.2 433.5 306.8 430.4 308.3 431 309.8 430.2 311.4 431.8 312.9 431.7 314.5 429.3 316 428.5 317.6 430.3 319.1 431.6 320.7 429.8 322.2 429.2 323.8 430.6 325.3 430.2 326.9 431.8 328.4 431.1 330 430.8 331.5 430.1 333.1 430.1 334.6 431.3 336.2 431.7 337.7 432.1 339.3 431.4 340.8 432 342.4 428.9 343.9 431.2 345.5 430.6 347 430.2 348.6 432.7 350.1 431.2 351.7 430.2 353.2 432.4 354.8 430.7 356.3 429.9 357.9 431.5 359.4 431.5 360.9 429.9 362.5 432.3 364 432.9 365.6 432.1 367.1 430.3 368.7 432.5 370.2 432.4 371.8 431.2 373.3 432.3 374.9 430.2 376.4 430.8 378 431.1 379.5 430.8 381.1 430.1 382.6 428.9 384.2 432.2 385.7 429.2 387.3 431 388.8 432.2 390.4 430.4 391.9 431.9 393.5 433.3 395 431.9 396.6 432.4 398.1 432.1 399.7 432.2 401.2 430.9 402.8 432 404.3 430.8 405.9 429.1 407.4 433 408.9 431.6 410.5 431.3 412 430.7 413.6 431.4 415.1 427.9 416.7 429.8 418.2 431.9 419.8 430.2 421.3 430.3 422.9 430.7 424.4 429.5 426 429.6 427.5 431.8 429.1 432.7 430.6 431.2 432.2 431 433.7 430.3 435.3 430.9 436.8 433.2 438.4 430.9 439.9 431.9 441.5 430.3 443 432.4 444.6 431.2 446.1 431.3 447.7 431.1 449.2 429.9 450.8 429.7 452.3 431.8 453.9 431.9 455.4 431.4 456.9 430.1 458.5 431.4 460 432.4 461.6 431.8 463.1 429.5 464.7 431 466.2 430.8 467.8 431.5 469.3 431.6 470.9 429.9 472.4 430.4 474 429.6 475.5 430.2 477.1 431.7 478.6 430.4 480.2 430.9 481.7 430.2 483.3 430.8 484.8 429.3 486.4 431.5 487.9 430.7 489.5 431.6 491 431 492.6 430 494.1 432.2 495.7 432.3 497.2 431.4 498.8 431.4 500.3 431.4 501.9 430.5 503.4 430.5 504.9 431.9 506.5 430.6 508 430.9 509.6 429.8 511.1 433.8 512.7 431.9 514.2 430.5 515.8 433.4 517.3 430.4 518.9 431.8 520.4 429.3 522 431.4 523.5 432.3 525.1 429.1 526.6 430.8 528.2 428.8 529.7 430.9 531.3 429.7 532.8 430.9 534.4 430.5 535.9 431.8 537.5 429.2 539 431.6 540.6 430.1 542.1 431.8 543.7 430.1 545.2 432.2 546.8 431.9 548.3 432.4 549.9 430.4 551.4 432 552.9 429.4 554.5 431.2 556 431.7 557.6 431.4 559.1 432.2 560.7 429.9 562.2 431.7 563.8 430.5 565.3 429.2 566.9 431 568.4 429.5 570 430.9 571.5 429.2 573.1 429.7 574.6 431.1 576.2 431.4 577.7 429.5 579.3 431.1 580.8 429.4 582.4 431.3 583.9 431 585.5 431.1 587 430 588.6 431.4 590.1 430.9 591.7 429.6 593.2 430.9 594.8 430.5 596.3 432.1 597.9 429.9 599.4 431.2 600.9 431.9 602.5 430.7 604 430.2 605.6 429.9 607.1 429.2 608.7 431.7 610.2 433.4 611.8 431.3 613.3 430.7 614.9 431.1 616.4 429.3 618 430 619.5 431.7 621.1 431 622.6 431.7 624.2 429.8 625.7 432.4 627.3 430.5 628.8 431.2 630.4 430.3 631.9 432.1 633.5 431.1 635 430.7 636.6 429.9 638.1 430 639.7 430.6 641.2 433.2 642.8 429.8 644.3 432.2 645.9 429.3 647.4 433.5 648.9 429.9 650.5 431.9 652 430.1 653.6 430.5 655.1 430.8 656.7 429.9 658.2 429.7 659.8 430.1 661.3 431.3 662.9 429.8 664.4 432 666 430.7 667.5 428.6 669.1 432.7 670.6 431.3 672.2 430.9 673.7 428.6 675.3 429.7 676.8 429 678.4 429.6 679.9 430.9 681.5 431.4 683 432.4 684.6 430.8 686.1 430.7 687.7 430.7 689.2 431.7 690.8 432.4 692.3 429.6 693.9 429.5 695.4 429.3 696.9 430.9 698.5 432.6 700 431.3 701.6 431.7 703.1 430.2 704.7 431.3 706.2 430.4 707.8 431.3 709.3 430.6 710.9 431.1 712.4 432.4 714 429.8 715.5 431.3 717.1 430.7 718.6 429.5 720.2 432 721.7 432.3 723.3 431.4 724.8 430.9 726.4 431.2 727.9 431.7 729.5 432.7 731 430.5 732.6 431.9 734.1 431.2 735.7 430 737.2 431.4 738.8 430.6 740.3 431.6 741.9 430.6 743.4 430.3 745 430.2 746.5 430.8 748 431.7 749.6 431.3 751.1 431.2 752.7 430.3 754.2 429.9 755.8 431.8 757.3 430.9 758.9 430.7 760.4 429.7 762 432.9 763.5 430.9 765.1 430.7 766.6 432.1 768.2 430.6 769.7 431.4 771.3 432 772.8 431.1 774.4 431.5 775.9 431.1 777.5 430.5 779 431.6 780.6 432 782.1 432 783.7 430.3 785.2 432.1 786.8 429.9 788.3 430 789.9 429.4 791.4 431 793 431 794.5 429.8 796 430.5 797.6 430.6 799.1 432.2 800.7 431.4 802.2 430.4 803.8 429.5 805.3 429.6 806.9 433.1 808.4 431 810 432 811.5 431.6 813.1 431.7 814.6 430.8 816.2 430 817.7 429.7 819.3 432 820.8 429.1 822.4 429.7 823.9 431.7 825.5 430.5 827 431.6 828.6 430.9 830.1 431.8 831.7 431.2 833.2 429.5 834.8 432.4 836.3 430.3 837.9 431.6 839.4 431.1 841 431.3 842.5 428.5 844 430.6 845.6 433 847.1 432.1 848.7 430.2 850.2 432.6 851.8 432.2 853.3 431.5 854.9 430.8 856.4 431.4 858 430.8 859.5 432.5 861.1 431.1 862.6 431.6 864.2 430.3 865.7 433.1 867.3 432.4 868.8 430.4 870.4 433.5 871.9 430.6 873.5 429.3 875 429.7 876.6 431.3 878.1 431.3 879.7 430.6 881.2 431.2 882.8 430 884.3 430.9 885.9 430.8 887.4 430.9 889 429.7 890.5 430.1 892 430.6 893.6 429.6 895.1 430.5 896.7 432.3 898.2 432.5 899.8 430.6 901.3 431.1 902.9 432.4 904.4 431.9 906 431.1 907.5 430.7 909.1 433.5 910.6 431.8 912.2 429.6 913.7 429.1 915.3 431.7 916.8 430.6 918.4 432.6 919.9 429.2 921.5 429.5 923 431.2 924.6 429.8 926.1 432.4 927.7 431.7 929.2 432.5 930.8 428 932.3 429.1 933.9 431.9 935.4 429.5 937 432.2 938.5 429.8 940 433.5 941.6 430.7 943.1 430.9 944.7 432.1 946.2 431.5 947.8 430.8 949.3 434.6 950.9 430.5 952.4 429.5 954 432.3 955.5 431.3 957.1 430.4 958.6 430.4 960.2 431.3 961.7 432.3 963.3 432 964.8 429.1 966.4 430.9 967.9 430.6 969.5 431.8 971 429.8 972.6 430.8 974.1 431.5 975.7 431 977.2 431.4 978.8 433 980.3 432.1 981.9 429.4 983.4 432.5 985 432.1 986.5 429.8 988 430.9 989.6 430.6 991.1 432 992.7 430.2 994.2 430.8 995.8 432 997.3 430.3 998.9 430.5 1000.4 432.2 1002 430.4 1003.5 434.3 1005.1 430.6 1006.6 429 1008.2 432.1 1009.7 431.1 1011.3 431.5 1012.8 431.9 1014.4 433.2 1015.9 432.3 1017.5 430.2 1019 432.3 1020.6 431.3 1022.1 429.8 1023.7 430.4 1025.2 433.1 1026.8 430.3 1028.3 432 1029.9 430.8 1031.4 431.7 1033 429.8 1034.5 430.7 1036 429 1037.6 433 1039.1 431.4 1040.7 429.6 1042.2 430.7 1043.8 431.7 1045.3 430.7 1046.9 429.6 1048.4 429.4 1050 431.6 1051.5 431.8 1053.1 428.2 1054.6 430.2 1056.2 430.3 1057.7 430.9 1059.3 431.7 1060.8 432.2 1062.4 430.4 1063.9 429.9 1065.5 430.1 1067 432.5 1068.6 430.8 1070.1 431.9 1071.7 431.4 1073.2 433.4 1074.8 429.3 1076.3 430.5 1077.9 430.4 1079.4 432.5 1081 430.7 1082.5 431.7 1084 428.4 1085.6 430.7 1087.1 432.1 1088.7 432.1 1090.2 430.5 1091.8 429.9 1093.3 430.4 1094.9 430.8 1096.4 432.8 1098 430.4 1099.5 431.5 1101.1 432.3 1102.6 430.7 1104.2 429.8 1105.7 430.4 1107.3 431.2 1108.8 431.2 1110.4 430.6 1111.9 432 1113.5 429.5 1115 430.5 1116.6 430.8 1118.1 431 1119.7 429.9 1121.2 431.1 1122.8 430.8 1124.3 430.5 1125.9 431.1 1127.4 431.6 1129 431.7 1130.5 430.7 1132.1 431.5 1133.6 433.8 1135.1 431.9 1136.7 432.7 1138.2 430.5 1139.8 432.2 1141.3 431.9 1142.9 430 1144.4 431 1146 430.8 1147.5 430.6 1149.1 430.1 1150.6 431.7 1152.2 431.1 1153.7 432 1155.3 429.2 1156.8 431.8 1158.4 430.3 1159.9 432.1 1161.5 431.2 1163 431 1164.6 429.8 1166.1 430.8 1167.7 428.8 1169.2 430.7 1170.8 430.9 1172.3 430.5 1173.9 431 1175.4 430.9 1177 431.8 1178.5 431.2 1180.1 432.6 1181.6 430.4 1183.1 431.5 1184.7 431.9 1186.2 431.1 1187.8 431.3 1189.3 432.6 1190.9 431.5 1192.4 431 1194 431.8 1195.5 429.8 1197.1 431 1198.6 430.2 1200.2 431.8 1201.7 430.5 1203.3 431.7 1204.8 430.8 1206.4 431.5 1207.9 432.1 1209.5 429.2 1211 432.3 1212.6 429.8 1214.1 431.2 1215.7 431.9 1217.2 431.7 1218.8 433.6 1220.3 430.3 1221.9 431.2 1223.4 430.8 1225 429.5 1226.5 431.4 1228.1 428.7 1229.6 431.8 1231.1 430 1232.7 432.1 1234.2 429.8 1235.8 431.4 1237.3 431.8 1238.9 433.2 1240.4 431 1242 428.9 1243.5 432.5 1245.1 433 1246.6 429.9 1248.2 432 1249.7 430.7 1251.3 429.7 1252.8 432 1254.4 431.8 1255.9 432.9 1257.5 430.7 1259 429.9 1260.6 430.5 1262.1 428.7 1263.7 431 1265.2 430.5 1266.8 431.6 1268.3 432.2 1269.9 431.8 1271.4 431.8 1273 432.3 1274.5 433.6 1276.1 431.8 1277.6 429.8 1279.1 430.7 1280.7 431.3 1282.2 430.1 1283.8 428.9 1285.3 429.4 1286.9 431.5 1288.4 431.3 1290 430.4 1291.5 432.4 1293.1 428.9 1294.6 431.2 1296.2 431.5 1297.7 432.4 1299.3 432.2 1300.8 430.8 1302.4 429.2 1303.9 429.7 1305.5 431.6 1307 430.9 1308.6 431 1310.1 432.6 1311.7 430.2 1313.2 431.7 1314.8 429.9 1316.3 432.1 1317.9 433.9 1319.4 433.9 1321 432.5 1322.5 431.5 1324.1 431.1 1325.6 431.1 1327.1 431.5 1328.7 433.5 1330.2 429.6 1331.8 430.6 1333.3 429.5 1334.9 430.8 1336.4 430.4 1338 431.1 1339.5 429.9 1341.1 430.8 1342.6 430.4 1344.2 429.6 1345.7 431.1 1347.3 432.7 1348.8 429.3 1350.4 428.2 1351.9 431.3 1353.5 430.6 1355 430.9 1356.6 431.1 1358.1 430 1359.7 430.1 1361.2 431.1 1362.8 429.3 1364.3 430 1365.9 430.4 1367.4 431.4 1369 432.6 1370.5 430.7 1372.1 430.2 1373.6 431.5 1375.1 429.6 1376.7 429.9 1378.2 430.5 1379.8 430.9 1381.3 430.8 1382.9 429 1384.4 431.2 1386 431.4 1387.5 430.2 1389.1 432.5 1390.6 430.3 1392.2 431 1393.7 430.9 1395.3 431.3 1396.8 429.9 1398.4 431.1 1399.9 430.1 1401.5 429.9 1403 432.3 1404.6 429.5 1406.1 430.6 1407.7 429.2 1409.2 430.2 1410.8 430 1412.3 432.6 1413.9 430.2 1415.4 429.5 1417 428.4 1418.5 430.7 1420.1 430.5 1421.6 431.1 1423.1 430.3 1424.7 430.3 1426.2 430.1 1427.8 428.6 1429.3 433 1430.9 430.6 1432.4 431.2 1434 431.7 1435.5 432.6 1437.1 430.9 1438.6 428 1440.2 432.4 1441.7 430.6 1443.3 429.9 1444.8 431.7 1446.4 429.2 1447.9 430.7 1449.5 430.8 1451 431.6 1452.6 430.3 1454.1 429.6 1455.7 429.8 1457.2 431.1 1458.8 429.6 1460.3 431.1 1461.9 432.3 1463.4 430.7 1465 430.3 1466.5 429.6 1468.1 432.6 1469.6 434.1 1471.1 432 1472.7 433.2 1474.2 429.9 1475.8 430.9 1477.3 430.2 1478.9 432.5 1480.4 429.2 1482 431.6 1483.5 429.4 1485.1 430.5 1486.6 431.2 1488.2 430.7 1489.7 431 1491.3 431.3 1492.8 432.2 1494.4 430.6 1495.9 431.6 1497.5 430.6 1499 432.7 1500.6 430.8 1502.1 430.8 1503.7 430.9 1505.2 431.4 1506.8 432.1 1508.3 431.4 1509.9 431.1 1511.4 430 1513 431 1514.5 432.7 1516.1 431.1 1517.6 432.5 1519.2 430.4 1520.7 432.1 1522.2 432.8 1523.8 431 1525.3 429.7 1526.9 431.1 1528.4 430.8 1530 429 1531.5 430.7 1533.1 430.3 1534.6 432.4 1536.2 430.8 1537.7 432.2 1539.3 430.5 1540.8 431.2 1542.4 428.5 1543.9 429.9 1545.5 431.7 1547 429.6 1548.6 433.7 1550.1 429.3 1551.7 431.5 1553.2 430.4 1554.8 430.1 1556.3 429.3 1557.9 429.8 1559.4 429.7 1561 431.8 1562.5 431 1564.1 430 1565.6 430.7 1567.2 429.6 1568.7 430.4 1570.2 431.3 1571.8 429.6 1573.3 430.2 1574.9 430 1576.4 430.7 1578 433.2 1579.5 432 1581.1 431.9 1582.6 430 1584.2 430.8 1585.7 431.2 1587.3 430.3 1588.8 431.5 1590.4 432 1591.9 428.7 1593.5 431.7 1595 430.7 1596.6 431.3 1598.1 429.4 1599.7 431.4 1601.2 431.7 1602.8 429.4 1604.3 431.3 1605.9 430.1 1607.4 430.5 1609 429.7 1610.5 430.1 1612.1 431.4 1613.6 430 1615.2 430.9 1616.7 430.7 1618.2 430.3 1619.8 430.5 1621.3 432.4 1622.9 431.1 1624.4 433.9 1626 433.5 1627.5 430 1629.1 430.7 1630.6 431.4 1632.2 431.1 1633.7 431 1635.3 429.5 1636.8 431.5 1638.4 429.7 1639.9 430.8 1641.5 430.9 1643 429.3 1644.6 432 1646.1 434.8 1647.7 430.8 1649.2 430.9 1650.8 431.3 1652.3 431.5 1653.9 430.4 1655.4 430.4 1657 430.2 1658.5 431.7 1660.1 432.3 1661.6 430.4 1663.2 430.8 1664.7 431.8 1666.2 432.5 1667.8 429.1 1669.3 431.5 1670.9 430.7 1672.4 429 1674 432.6 1675.5 429.7 1677.1 432.9 1678.6 432.4 1680.2 430.6 1681.7 431.5 1683.3 431.8 1684.8 431.3 1686.4 431 1687.9 432.6 1689.5 431.8 1691 430.7 1692.6 429.7 1694.1 432 1695.7 431.9 1697.2 430.8 1698.8 432.5 1700.3 432.1 1701.9 433 1703.4 430.7 1705 430.6 1706.5 429.8 1708.1 428.9 1709.6 432.3 1711.2 430.3 1712.7 428.6 1714.2 430.8 1715.8 431.1 1717.3 430.4 1718.9 431.3 1720.4 432.4 1722 430.6 1723.5 430.7 1725.1 432.1 1726.6 431.9 1728.2 430.5 1729.7 431.1 1731.3 431.6 1732.8 433.3 1734.4 431 1735.9 431.3 1737.5 431.9 1739 432.2 1740.6 431.1 1742.1 433.2 1743.7 430.7 1745.2 431.1 1746.8 429.9 1748.3 429.7 1749.9 430.8 1751.4 431.7 1753 432.8 1754.5 429.7 1756.1 430.6 1757.6 432.1 1759.2 432 1760.7 431.2 1762.2 431.3 1763.8 431.5 1765.3 430.4 1766.9 432.7 1768.4 431.4 1770 430.5 1771.5 431.9 1773.1 431.7 1774.6 429.9 1776.2 430.2 1777.7 431.3 1779.3 432.2 1780.8 431.7 1782.4 430.5 1783.9 431.2 1785.5 432.9 1787 429.2 1788.6 433.2 1790.1 429.5 1791.7 431.3 1793.2 430.9 1794.8 428.2 1796.3 433.9 1797.9 431.2 1799.4 433.1 1801 429.6 1802.5 430.2 1804.1 430.9 1805.6 430.3 1807.2 431.7 1808.7 432.2 1810.2 430.2 1811.8 429.8 1813.3 430.7 1814.9 432 1816.4 431.5 1818 431.4 1819.5 429.9 1821.1 431.4 1822.6 430.2 1824.2 430.5 1825.7 431.8 1827.3 429.2 1828.8 430.9 1830.4 430 1831.9 431.1 1833.5 430 1835 428.9 1836.6 430.4 1838.1 431.5 1839.7 430.4 1841.2 431.6 1842.8 432.8 1844.3 429.4 1845.9 430.8 1847.4 431.7 1849 432.2 1850.5 432 1852.1 431.6 1853.6 430.3 1855.2 429.6 1856.7 430.2 1858.2 429.2 1859.8 431.4 1861.3 431.5 1862.9 431.4 1864.4 431.7 1866 431.2 1867.5 429.8 1869.1 430.8 1870.6 432 1872.2 431.5 1873.7 430.8 1875.3 431.2 1876.8 431.7 1878.4 431.4 1879.9 429.5 1881.5 432.1 1883 430.3 1884.6 432.4 1886.1 432 1887.7 429.8 1889.2 431.4 1890.8 432.4 1892.3 431.8 1893.9 432.1 1895.4 431 1897 430 1898.5 433.2 1900.1 431.9 1901.6 430 1903.2 429.7 1904.7 432.5 1906.3 430.8 1907.8 430.3 1909.3 431.1 1910.9 431.4 1912.4 428.7 1914 429.1 1915.5 429.6 1917.1 430.6 1918.6 431.7 1920.2 433.2 1921.7 430.7 1923.3 429.6 1924.8 430 1926.4 431.1 1927.9 430.6 1929.5 433.4 1931 431.5 1932.6 429.8" fill="none" stroke="#000" stroke-width="8.5" stroke-linejoin="round"/>
<path d="M220.6 431L222.3 428 223.9 434 225.6 431M356.2 431L357.9 423 359.5 431 361.2 431M492.5 431L494.2 426 495.8 434 497.5 431M561.5 431L563.2 418 564.8 445 566.5 431M792.9 431L794.6 406 796.2 446 797.9 431M893.3 431L895 427 896.6 435 898.3 431M983.1 431L984.8 415 986.4 449 988.1 431M1066.7 431L1068.4 426 1070 436 1071.7 431M1150.1 431L1151.8 418 1153.4 431 1155.1 431M1378.4 431L1380.1 426 1381.7 433 1383.4 431M1418 431L1419.7 423 1421.3 433 1423 431M1440.3 431L1442 421 1443.6 431 1445.3 431M1582.8 431L1584.5 421 1586.1 431 1587.8 431M1620.2 431L1621.9 424 1623.5 434 1625.2 431" fill="none" stroke="#000" stroke-width="6" stroke-linejoin="round" stroke-linecap="round"/>
<path d="M164.3 763.2 L165.8 759.8 167.4 763.3 168.9 762.4 170.5 762.7 172 759.9 173.6 762.5 175.1 762.5 176.7 762.6 178.2 761.1 179.8 762.6 181.3 762.8 182.9 759.9 184.4 760.5 186 761.7 187.5 762.6 189.1 761.5 190.6 763 192.2 761.8 193.7 762.8 195.3 759.6 196.8 762.1 198.4 764.3 199.9 760.5 201.5 762 203 762.3 204.6 761.5 206.1 760.4 207.7 764.9 209.2 762.3 210.8 762.1 212.3 763.6 213.8 762 215.4 760.6 216.9 760.1 218.5 763.9 220 762.6 221.6 760.4 223.1 762 224.7 760.2 226.2 762.4 227.8 764 229.3 761.6 230.9 762.6 232.4 762.6 234 760.4 235.5 762.7 237.1 763.4 238.6 763.1 240.2 761.2 241.7 763.2 243.3 761.8 244.8 762.7 246.4 763.8 247.9 761.5 249.5 760.2 251 760.7 252.6 763.2 254.1 760.1 255.7 760.9 257.2 760.8 258.8 759.7 260.3 763 261.8 761.8 263.4 762.4 264.9 761.1 266.5 762 268 763.7 269.6 760.2 271.1 759.8 272.7 762.9 274.2 761.2 275.8 762.2 277.3 760.7 278.9 762.6 280.4 763.9 282 760.4 283.5 762.8 285.1 763.1 286.6 763.8 288.2 760.7 289.7 759.9 291.3 762.9 292.8 759.9 294.4 761.8 295.9 762 297.5 760.8 299 763.9 300.6 763.5 302.1 762.8 303.7 763.6 305.2 762 306.8 762.1 308.3 762.6 309.8 762.5 311.4 761.3 312.9 761.4 314.5 764.7 316 763.2 317.6 759.7 319.1 762.9 320.7 763.1 322.2 763.9 323.8 762.1 325.3 760.5 326.9 760 328.4 762.5 330 761.8 331.5 763 333.1 761.9 334.6 763.1 336.2 761.7 337.7 762.4 339.3 761.5 340.8 761.5 342.4 761.1 343.9 760.1 345.5 762.4 347 762.3 348.6 762.6 350.1 759.2 351.7 762.5 353.2 760.6 354.8 760.5 356.3 760.7 357.9 761.8 359.4 759.4 360.9 763 362.5 761.6 364 761.9 365.6 762.1 367.1 761.9 368.7 762.5 370.2 761.3 371.8 761.7 373.3 759.7 374.9 759.1 376.4 762.7 378 762 379.5 762 381.1 761.7 382.6 760.9 384.2 762.9 385.7 761.9 387.3 760.1 388.8 762.7 390.4 764.4 391.9 761 393.5 762.7 395 762.5 396.6 761.5 398.1 763.4 399.7 761 401.2 763.8 402.8 759.4 404.3 762.5 405.9 763.2 407.4 761.8 408.9 762.3 410.5 760 412 763.4 413.6 762.7 415.1 763.2 416.7 763.2 418.2 759.6 419.8 762.1 421.3 760.5 422.9 763.8 424.4 763.5 426 762.5 427.5 756.9 429.1 763.7 430.6 763.3 432.2 759.2 433.7 758.9 435.3 765.3 436.8 759.3 438.4 761.5 439.9 759.3 441.5 762.5 443 763.3 444.6 760.4 446.1 763.4 447.7 759.7 449.2 759.4 450.8 761.6 452.3 763.7 453.9 761.8 455.4 761.4 456.9 762.2 458.5 763.7 460 762.9 461.6 760.8 463.1 764.2 464.7 760.8 466.2 763.6 467.8 762.1 469.3 761 470.9 763.4 472.4 761.8 474 761.6 475.5 763.6 477.1 761.4 478.6 762.4 480.2 764.7 481.7 761.5 483.3 764.2 484.8 762.7 486.4 761.2 487.9 762.6 489.5 761.3 491 761.3 492.6 762.8 494.1 759.7 495.7 760.5 497.2 763.1 498.8 761.2 500.3 765.1 501.9 756.6 503.4 761.6 504.9 759.2 506.5 760.1 508 764.2 509.6 762.6 511.1 762.1 512.7 762.1 514.2 760.8 515.8 761.7 517.3 762.7 518.9 760.3 520.4 761.6 522 759.7 523.5 757.9 525.1 761.1 526.6 760.2 528.2 760.2 529.7 761.7 531.3 762.1 532.8 762.7 534.4 764.2 535.9 759.6 537.5 763.5 539 762.2 540.6 762 542.1 763.4 543.7 763.2 545.2 764.3 546.8 759.7 548.3 761.3 549.9 762.9 551.4 761.9 552.9 761 554.5 762.5 556 763.9 557.6 763.2 559.1 760.3 560.7 761.8 562.2 762.8 563.8 763.3 565.3 762.6 566.9 761.4 568.4 760.3 570 762.8 571.5 760.5 573.1 759 574.6 761.8 576.2 760.4 577.7 761.1 579.3 763.2 580.8 761.6 582.4 761.6 583.9 760 585.5 763.4 587 759.9 588.6 762.1 590.1 763.4 591.7 763.2 593.2 762.6 594.8 763 596.3 762.2 597.9 760.7 599.4 762 600.9 760.1 602.5 764.5 604 763.4 605.6 760.9 607.1 763.9 608.7 763.3 610.2 762 611.8 764.1 613.3 762.3 614.9 763.4 616.4 762.6 618 760.9 619.5 759.9 621.1 762.9 622.6 761.7 624.2 762.2 625.7 762.1 627.3 763.4 628.8 762.2 630.4 761.4 631.9 762.2 633.5 761.9 635 761.4 636.6 761.5 638.1 762.5 639.7 763.4 641.2 763.1 642.8 761.1 644.3 761.4 645.9 760.3 647.4 763.3 648.9 761.9 650.5 763.3 652 761.6 653.6 761.9 655.1 762.3 656.7 760.7 658.2 761 659.8 761.9 661.3 762.1 662.9 762.3 664.4 760.6 666 760.4 667.5 762.9 669.1 760.7 670.6 762.2 672.2 761.1 673.7 762.5 675.3 762.4 676.8 763.3 678.4 764.4 679.9 760.5 681.5 763.9 683 761.4 684.6 762.2 686.1 762.2 687.7 761.3 689.2 764.1 690.8 760.8 692.3 760 693.9 762.8 695.4 761.9 696.9 761.3 698.5 764.6 700 761.2 701.6 761.3 703.1 760.1 704.7 762.4 706.2 763.3 707.8 762.6 709.3 765.2 710.9 760.8 712.4 762.7 714 761.6 715.5 761.5 717.1 761.4 718.6 762 720.2 761.1 721.7 762.2 723.3 761.6 724.8 762.8 726.4 760.9 727.9 762.2 729.5 762.5 731 760.4 732.6 763.7 734.1 761.4 735.7 762 737.2 761.9 738.8 760.3 740.3 764.4 741.9 759.9 743.4 761.2 745 761.3 746.5 763.8 748 762 749.6 762 751.1 762.9 752.7 763.1 754.2 762.3 755.8 763.2 757.3 762.5 758.9 761.2 760.4 761 762 762 763.5 760.4 765.1 761.9 766.6 762.1 768.2 762.8 769.7 762.6 771.3 762.2 772.8 765.3 774.4 759.3 775.9 762.7 777.5 758.5 779 761.1 780.6 762.3 782.1 766.8 783.7 761 785.2 761.3 786.8 761.4 788.3 764.1 789.9 761.7 791.4 764.7 793 762.8 794.5 761.8 796 762 797.6 763.2 799.1 759.5 800.7 761.7 802.2 761.3 803.8 762.7 805.3 763.1 806.9 763.7 808.4 762.3 810 761.7 811.5 762.5 813.1 762.5 814.6 762.2 816.2 761 817.7 763.8 819.3 762 820.8 759.4 822.4 760.8 823.9 764.4 825.5 761.1 827 763.9 828.6 762.5 830.1 760.3 831.7 761.5 833.2 763.2 834.8 761.9 836.3 762.8 837.9 762.9 839.4 760.9 841 760.6 842.5 761 844 762.1 845.6 763 847.1 763.3 848.7 759.1 850.2 763 851.8 762.5 853.3 761.1 854.9 763.5 856.4 761.9 858 764 859.5 762 861.1 762.2 862.6 764.5 864.2 760.5 865.7 761.6 867.3 764.4 868.8 763.4 870.4 760.1 871.9 762.6 873.5 763 875 762.5 876.6 760.4 878.1 764.2 879.7 759.8 881.2 760.3 882.8 759.6 884.3 761 885.9 763.4 887.4 762.4 889 762.1 890.5 762.7 892 763.6 893.6 763.3 895.1 760 896.7 762.2 898.2 761.5 899.8 762.9 901.3 763.1 902.9 760.5 904.4 760.4 906 764.6 907.5 758.2 909.1 764.1 910.6 763.1 912.2 764.2 913.7 758.9 915.3 758.6 916.8 761.5 918.4 761.1 919.9 763.4 921.5 761.9 923 761.6 924.6 759.6 926.1 762.7 927.7 762.4 929.2 761.9 930.8 762.7 932.3 761.4 933.9 761.3 935.4 762.4 937 760.2 938.5 763 940 760.3 941.6 763.6 943.1 760.9 944.7 758.6 946.2 763.4 947.8 761.1 949.3 760.9 950.9 760.8 952.4 760.6 954 761.7 955.5 763.4 957.1 762.6 958.6 761 960.2 765.2 961.7 762.7 963.3 761.6 964.8 760.6 966.4 764.5 967.9 761 969.5 763.1 971 761.4 972.6 760.9 974.1 760.5 975.7 762.8 977.2 764.1 978.8 763.6 980.3 763.7 981.9 761.9 983.4 763.5 985 763.2 986.5 763.4 988 760.1 989.6 760 991.1 762.9 992.7 759.6 994.2 761.4 995.8 762.6 997.3 762.9 998.9 763.6 1000.4 763.4 1002 762 1003.5 762.4 1005.1 764 1006.6 760.1 1008.2 759.9 1009.7 761.7 1011.3 764.3 1012.8 764.2 1014.4 763.8 1015.9 762.7 1017.5 762.5 1019 759.6 1020.6 762.6 1022.1 761.9 1023.7 762.1 1025.2 763.2 1026.8 764.7 1028.3 763.6 1029.9 763.9 1031.4 762.8 1033 763.7 1034.5 761.9 1036 762.5 1037.6 762.5 1039.1 766.1 1040.7 759 1042.2 761.5 1043.8 761.3 1045.3 761.5 1046.9 762.5 1048.4 762.9 1050 760.6 1051.5 760.6 1053.1 763 1054.6 763.2 1056.2 765 1057.7 763.4 1059.3 762 1060.8 760 1062.4 762.5 1063.9 761.6 1065.5 761.2 1067 762.5 1068.6 761.4 1070.1 760.6 1071.7 761.2 1073.2 763.4 1074.8 762.8 1076.3 765.3 1077.9 762.2 1079.4 765.8 1081 761.6 1082.5 762.2 1084 761.6 1085.6 762.2 1087.1 761.1 1088.7 764.4 1090.2 762.4 1091.8 761.9 1093.3 760.7 1094.9 762.7 1096.4 762.3 1098 761.2 1099.5 761.4 1101.1 762.7 1102.6 761.2 1104.2 760 1105.7 761.2 1107.3 762.7 1108.8 760.9 1110.4 760.2 1111.9 761.9 1113.5 760.7 1115 761.8 1116.6 763.6 1118.1 762.6 1119.7 759.7 1121.2 762.1 1122.8 760.7 1124.3 762.7 1125.9 763 1127.4 763.6 1129 763 1130.5 762.1 1132.1 763 1133.6 759.9 1135.1 760.7 1136.7 765 1138.2 763.7 1139.8 759.7 1141.3 760.9 1142.9 759.6 1144.4 764.2 1146 763.8 1147.5 761.7 1149.1 763.6 1150.6 761.3 1152.2 763 1153.7 761.1 1155.3 760 1156.8 761.5 1158.4 759.7 1159.9 760.5 1161.5 759.3 1163 761.5 1164.6 762 1166.1 762.4 1167.7 761.6 1169.2 761.1 1170.8 762.9 1172.3 763.5 1173.9 760.6 1175.4 762.6 1177 760.9 1178.5 760.9 1180.1 763.4 1181.6 760.7 1183.1 762.1 1184.7 762.6 1186.2 762.2 1187.8 762.9 1189.3 762.2 1190.9 762 1192.4 761.1 1194 760.6 1195.5 761.5 1197.1 762 1198.6 761 1200.2 761.4 1201.7 760.7 1203.3 761 1204.8 760.7 1206.4 763.2 1207.9 761.7 1209.5 760.2 1211 761.1 1212.6 762.4 1214.1 762 1215.7 761 1217.2 761.6 1218.8 761.3 1220.3 764.4 1221.9 759.6 1223.4 762.5 1225 759.6 1226.5 763.1 1228.1 761.2 1229.6 762.6 1231.1 762.3 1232.7 759.2 1234.2 763.6 1235.8 762.1 1237.3 760.4 1238.9 761 1240.4 762.1 1242 763.5 1243.5 763.5 1245.1 762.3 1246.6 759 1248.2 760.3 1249.7 763.5 1251.3 760.6 1252.8 762 1254.4 762.2 1255.9 763.5 1257.5 761.6 1259 761.7 1260.6 762.4 1262.1 762.2 1263.7 762.3 1265.2 761.7 1266.8 764.2 1268.3 760.6 1269.9 763.4 1271.4 761.8 1273 761.6 1274.5 760.6 1276.1 762.4 1277.6 762.5 1279.1 762.4 1280.7 761.8 1282.2 762.5 1283.8 758.8 1285.3 760 1286.9 761.5 1288.4 762.7 1290 761.2 1291.5 763.2 1293.1 763.4 1294.6 762.9 1296.2 762.6 1297.7 759.4 1299.3 760.9 1300.8 761.8 1302.4 763.2 1303.9 761.9 1305.5 763.8 1307 763.6 1308.6 762.7 1310.1 762.1 1311.7 761.5 1313.2 764.7 1314.8 763 1316.3 760 1317.9 762.6 1319.4 760.9 1321 763.6 1322.5 764.9 1324.1 763.1 1325.6 762.4 1327.1 761.4 1328.7 760.5 1330.2 763 1331.8 761.9 1333.3 762.3 1334.9 762.2 1336.4 762.2 1338 761.8 1339.5 761.9 1341.1 761.3 1342.6 762.8 1344.2 761.7 1345.7 761.9 1347.3 761.8 1348.8 764.3 1350.4 762.9 1351.9 762.9 1353.5 765.6 1355 761.5 1356.6 761.2 1358.1 762.2 1359.7 760.9 1361.2 762.8 1362.8 760.2 1364.3 761.9 1365.9 761.1 1367.4 761.3 1369 758.9 1370.5 760.7 1372.1 763.1 1373.6 763.5 1375.1 760.8 1376.7 759.2 1378.2 761.9 1379.8 763.7 1381.3 760.1 1382.9 763.2 1384.4 761.6 1386 762.7 1387.5 761.6 1389.1 760.6 1390.6 761.3 1392.2 762.1 1393.7 758.6 1395.3 764 1396.8 761.8 1398.4 761.4 1399.9 762.9 1401.5 761.5 1403 761.2 1404.6 762.2 1406.1 762.7 1407.7 759.3 1409.2 762 1410.8 760.2 1412.3 761.7 1413.9 760 1415.4 763.2 1417 762.2 1418.5 763.9 1420.1 761.9 1421.6 760.5 1423.1 762.1 1424.7 760.4 1426.2 760.8 1427.8 763.2 1429.3 763.5 1430.9 759.5 1432.4 762 1434 760.1 1435.5 765 1437.1 762.4 1438.6 761 1440.2 766.3 1441.7 765 1443.3 760.5 1444.8 762.4 1446.4 761.3 1447.9 761.1 1449.5 760.4 1451 764.7 1452.6 762.1 1454.1 764.2 1455.7 762.2 1457.2 760.5 1458.8 761.1 1460.3 762.6 1461.9 762.9 1463.4 760.5 1465 761.3 1466.5 761.8 1468.1 761.7 1469.6 760.4 1471.1 763.8 1472.7 765.1 1474.2 762.7 1475.8 761.7 1477.3 763.4 1478.9 759.5 1480.4 760.1 1482 761 1483.5 760.3 1485.1 760.8 1486.6 763.4 1488.2 764.9 1489.7 764 1491.3 762.9 1492.8 760.6 1494.4 761.7 1495.9 761.6 1497.5 765.1 1499 763.2 1500.6 761.8 1502.1 762.1 1503.7 761.8 1505.2 762 1506.8 761.6 1508.3 761.9 1509.9 762.1 1511.4 765.6 1513 760.9 1514.5 764.1 1516.1 761.2 1517.6 766.4 1519.2 763.5 1520.7 762.6 1522.2 761.4 1523.8 761.4 1525.3 762.2 1526.9 760 1528.4 764.3 1530 760.5 1531.5 762.8 1533.1 764.1 1534.6 760.1 1536.2 760.9 1537.7 760.8 1539.3 763.9 1540.8 763.2 1542.4 762.2 1543.9 762.9 1545.5 760.5 1547 761.7 1548.6 761.9 1550.1 764 1551.7 760.1 1553.2 761 1554.8 762.2 1556.3 762.5 1557.9 761.2 1559.4 762.1 1561 761.7 1562.5 761.8 1564.1 761.1 1565.6 762.1 1567.2 761.9 1568.7 762.3 1570.2 764 1571.8 763.2 1573.3 762.5 1574.9 762.5 1576.4 763 1578 763.6 1579.5 763.6 1581.1 762.2 1582.6 760.3 1584.2 760.1 1585.7 762 1587.3 761 1588.8 762.6 1590.4 764.1 1591.9 762.9 1593.5 762 1595 760.4 1596.6 762.5 1598.1 760 1599.7 762.5 1601.2 762.5 1602.8 763.7 1604.3 765.8 1605.9 762.3 1607.4 765.8 1609 763.5 1610.5 761.2 1612.1 762.4 1613.6 762.6 1615.2 760.4 1616.7 761.9 1618.2 762.2 1619.8 764.2 1621.3 760.3 1622.9 762.6 1624.4 760.3 1626 761.6 1627.5 764 1629.1 761.7 1630.6 762.4 1632.2 762.6 1633.7 760.5 1635.3 763 1636.8 762.9 1638.4 761.6 1639.9 764.4 1641.5 765.1 1643 763.9 1644.6 763 1646.1 760.4 1647.7 760.7 1649.2 762.8 1650.8 762.8 1652.3 763.9 1653.9 763.6 1655.4 763.4 1657 762 1658.5 763 1660.1 762.4 1661.6 762.3 1663.2 762.5 1664.7 763.2 1666.2 764.6 1667.8 762.6 1669.3 762.2 1670.9 761.3 1672.4 763.6 1674 761.1 1675.5 759.3 1677.1 764 1678.6 765.3 1680.2 762.2 1681.7 762.5 1683.3 762.4 1684.8 763.3 1686.4 760.1 1687.9 759.3 1689.5 761.3 1691 764.2 1692.6 762.7 1694.1 760.8 1695.7 762.1 1697.2 761.2 1698.8 760.7 1700.3 760.4 1701.9 762.2 1703.4 762.2 1705 762.6 1706.5 762.3 1708.1 760.6 1709.6 761.1 1711.2 761.8 1712.7 762.6 1714.2 761.1 1715.8 763.4 1717.3 760.4 1718.9 761.6 1720.4 759 1722 759.7 1723.5 765.4 1725.1 762.6 1726.6 762.5 1728.2 764 1729.7 760.1 1731.3 760.9 1732.8 763.1 1734.4 760.2 1735.9 761.5 1737.5 758.3 1739 762.6 1740.6 764.1 1742.1 763.1 1743.7 761.2 1745.2 760.9 1746.8 763.6 1748.3 757.7 1749.9 761.5 1751.4 760.6 1753 762.5 1754.5 760.6 1756.1 762.6 1757.6 759.7 1759.2 760.5 1760.7 763.3 1762.2 765.4 1763.8 760.6 1765.3 759.4 1766.9 763.6 1768.4 762.3 1770 758.9 1771.5 761.1 1773.1 762.2 1774.6 762.4 1776.2 763.4 1777.7 762.8 1779.3 760.8 1780.8 759.4 1782.4 761.9 1783.9 762.9 1785.5 764 1787 763.5 1788.6 761.6 1790.1 761 1791.7 764 1793.2 763.2 1794.8 761.1 1796.3 761.5 1797.9 762.7 1799.4 758.6 1801 763 1802.5 761.5 1804.1 760.3 1805.6 760.2 1807.2 760.7 1808.7 762.4 1810.2 761 1811.8 764 1813.3 762.8 1814.9 761.6 1816.4 763.9 1818 764.6 1819.5 764.2 1821.1 763.8 1822.6 761.7 1824.2 763.4 1825.7 762.9 1827.3 765.2 1828.8 762 1830.4 764.2 1831.9 761.1 1833.5 760.5 1835 760.5 1836.6 763 1838.1 760.5 1839.7 761.9 1841.2 761.2 1842.8 762.4 1844.3 762.8 1845.9 762.2 1847.4 763.2 1849 760 1850.5 761.7 1852.1 760.1 1853.6 761.5 1855.2 758.3 1856.7 758.2 1858.2 760.9 1859.8 762.9 1861.3 759.5 1862.9 761.2 1864.4 763.7 1866 764.1 1867.5 762.8 1869.1 761.3 1870.6 762.8 1872.2 761.1 1873.7 759.3 1875.3 761 1876.8 763.2 1878.4 760.7 1879.9 760.2 1881.5 759.8 1883 764.1 1884.6 764.3 1886.1 763.5 1887.7 761.6 1889.2 761.7 1890.8 762.8 1892.3 761.1 1893.9 761.8 1895.4 762.6 1897 762.2 1898.5 766.1 1900.1 761.2 1901.6 761.8 1903.2 759.1 1904.7 763.7 1906.3 761.1 1907.8 762.6 1909.3 760.7 1910.9 762.9 1912.4 762 1914 761.7 1915.5 762.3 1917.1 763.1 1918.6 761.5 1920.2 764 1921.7 760.8 1923.3 762 1924.8 762 1926.4 759.8 1927.9 761.1 1929.5 763.9 1931 761.1 1932.6 763.1" fill="none" stroke="#000" stroke-width="9" stroke-linejoin="round"/>
<path d="M220.6 762L222.3 757 223.9 767 225.6 762M356.9 762L358.6 756 360.2 762 361.9 762M493.6 762L495.3 756 496.9 765 498.6 762M562.2 762L563.9 756 565.5 777 567.2 762M648.4 762L650.1 758 651.7 767 653.4 762M792.9 762L794.6 737 796.2 777 797.9 762M848.4 762L850.1 757 851.7 765 853.4 762M894 762L895.7 757 897.3 767 899 762M983.6 762L985.3 747 986.9 780 988.6 762M1067.4 762L1069.1 757 1070.7 767 1072.4 762M1149.5 762L1151.2 756 1152.8 762 1154.5 762M1378.4 762L1380.1 757 1381.7 765 1383.4 762M1418 762L1419.7 756 1421.3 765 1423 762M1441.4 762L1443.1 754 1444.7 762 1446.4 762M1583.9 762L1585.6 756 1587.2 762 1588.9 762M1620.2 762L1621.9 757 1623.5 765 1625.2 762" fill="none" stroke="#000" stroke-width="6" stroke-linejoin="round" stroke-linecap="round"/>
<path d="M164.3 1026.5 L165.8 1026.8 167.4 1026.8 168.9 1027.7 170.5 1027.8 172 1028.3 173.6 1025.9 175.1 1025.9 176.7 1028.6 178.2 1027.5 179.8 1025.7 181.3 1027.5 182.9 1028.5 184.4 1026.8 186 1026.7 187.5 1026.7 189.1 1027.1 190.6 1024.8 192.2 1027.6 193.7 1026.6 195.3 1028.6 196.8 1025.7 198.4 1026.8 199.9 1027.8 201.5 1026.5 203 1026.7 204.6 1026.1 206.1 1025.7 207.7 1026.4 209.2 1026.8 210.8 1027.4 212.3 1028.5 213.8 1026.3 215.4 1026.9 216.9 1026 218.5 1029.5 220 1026.7 221.6 1025.6 223.1 1027.9 224.7 1028.2 226.2 1026.1 227.8 1027.8 229.3 1028.8 230.9 1026.3 232.4 1026.5 234 1026.9 235.5 1028.7 237.1 1026.8 238.6 1027 240.2 1026.3 241.7 1027 243.3 1025.6 244.8 1027.2 246.4 1026.4 247.9 1026.9 249.5 1026 251 1027.8 252.6 1027.8 254.1 1025.9 255.7 1026.2 257.2 1027.3 258.8 1027.6 260.3 1027.5 261.8 1028 263.4 1027.4 264.9 1027.8 266.5 1025.7 268 1026.3 269.6 1027.8 271.1 1026.3 272.7 1027 274.2 1027.5 275.8 1027.7 277.3 1027.7 278.9 1027.1 280.4 1025.9 282 1027.4 283.5 1026.2 285.1 1026.5 286.6 1025.5 288.2 1027.7 289.7 1027.6 291.3 1026.5 292.8 1027.4 294.4 1027.5 295.9 1027.8 297.5 1026.2 299 1027.2 300.6 1027.7 302.1 1026.2 303.7 1026.2 305.2 1027.3 306.8 1026 308.3 1026.9 309.8 1027.4 311.4 1027.5 312.9 1026.7 314.5 1028.1 316 1025.9 317.6 1027.1 319.1 1025.6 320.7 1026.8 322.2 1027.3 323.8 1029.9 325.3 1029.3 326.9 1026.9 328.4 1027.6 330 1027.6 331.5 1027.2 333.1 1025.6 334.6 1027.2 336.2 1025.7 337.7 1028 339.3 1026.5 340.8 1026.6 342.4 1027.8 343.9 1026.3 345.5 1026.8 347 1028.3 348.6 1027.4 350.1 1026.4 351.7 1026.6 353.2 1024.8 354.8 1028.8 356.3 1027.7 357.9 1025.6 359.4 1029.6 360.9 1027.5 362.5 1024.3 364 1027.8 365.6 1026.7 367.1 1027.2 368.7 1026 370.2 1025.6 371.8 1027.9 373.3 1026.6 374.9 1027 376.4 1029.6 378 1026.3 379.5 1027 381.1 1026.8 382.6 1026.5 384.2 1027.7 385.7 1026.1 387.3 1026.9 388.8 1027.5 390.4 1025.7 391.9 1026.9 393.5 1027 395 1027.3 396.6 1026.9 398.1 1027.6 399.7 1026.7 401.2 1027.8 402.8 1028.5 404.3 1026.2 405.9 1027.7 407.4 1025.9 408.9 1028.4 410.5 1025.5 412 1028.7 413.6 1028.3 415.1 1025.4 416.7 1027.6 418.2 1027.2 419.8 1026 421.3 1027.8 422.9 1025.4 424.4 1026.1 426 1026.8 427.5 1026.7 429.1 1026.9 430.6 1028.6 432.2 1027.5 433.7 1027.7 435.3 1026.5 436.8 1026.7 438.4 1026.7 439.9 1026.3 441.5 1025.7 443 1028.2 444.6 1028.1 446.1 1026.9 447.7 1028 449.2 1028.2 450.8 1026.5 452.3 1027.8 453.9 1025.1 455.4 1025.4 456.9 1026.9 458.5 1027.3 460 1027.7 461.6 1026.6 463.1 1027.9 464.7 1026.9 466.2 1026.8 467.8 1027.1 469.3 1027.2 470.9 1027.4 472.4 1027.8 474 1027.1 475.5 1027.5 477.1 1026.6 478.6 1027.5 480.2 1027.4 481.7 1027.8 483.3 1026.6 484.8 1026.3 486.4 1027.1 487.9 1027.1 489.5 1026.6 491 1026.8 492.6 1028 494.1 1025.9 495.7 1027.4 497.2 1025.4 498.8 1027.6 500.3 1026.9 501.9 1026.8 503.4 1026.6 504.9 1027.3 506.5 1026.4 508 1027 509.6 1025.9 511.1 1027.2 512.7 1027 514.2 1028.1 515.8 1027.1 517.3 1026.2 518.9 1027.5 520.4 1027.9 522 1026.2 523.5 1027.3 525.1 1025.7 526.6 1024.5 528.2 1027.3 529.7 1028.7 531.3 1027.1 532.8 1027.4 534.4 1025 535.9 1027.8 537.5 1027.4 539 1029.4 540.6 1026.3 542.1 1027.5 543.7 1025.3 545.2 1027.6 546.8 1026.4 548.3 1026.7 549.9 1027.3 551.4 1026.5 552.9 1027.1 554.5 1027.5 556 1028.9 557.6 1024.9 559.1 1026.2 560.7 1025.7 562.2 1026.8 563.8 1026.5 565.3 1024.7 566.9 1028.4 568.4 1026 570 1028.5 571.5 1028.8 573.1 1028.9 574.6 1028.3 576.2 1026.5 577.7 1026.5 579.3 1027.8 580.8 1028.3 582.4 1026.7 583.9 1027.3 585.5 1027.1 587 1025.7 588.6 1025.6 590.1 1026.4 591.7 1027.5 593.2 1025.1 594.8 1025.9 596.3 1029.2 597.9 1026.6 599.4 1029.2 600.9 1027.1 602.5 1028.2 604 1027.4 605.6 1028 607.1 1027.7 608.7 1027.5 610.2 1026.7 611.8 1025.7 613.3 1027.8 614.9 1026.6 616.4 1026.5 618 1026.3 619.5 1029.1 621.1 1026.9 622.6 1029.5 624.2 1027 625.7 1027.8 627.3 1027.3 628.8 1027.6 630.4 1027.6 631.9 1025.7 633.5 1026.6 635 1026.3 636.6 1028.4 638.1 1027 639.7 1026.6 641.2 1027.8 642.8 1026.4 644.3 1026.3 645.9 1026.4 647.4 1027.5 648.9 1027.5 650.5 1026.6 652 1024.5 653.6 1027.4 655.1 1026.8 656.7 1026.3 658.2 1028.7 659.8 1025.9 661.3 1027.5 662.9 1026.5 664.4 1027 666 1028 667.5 1026 669.1 1026.4 670.6 1027.6 672.2 1026.7 673.7 1026.7 675.3 1027.1 676.8 1026.3 678.4 1027.5 679.9 1027.8 681.5 1025.9 683 1025.7 684.6 1027.8 686.1 1029.6 687.7 1027.3 689.2 1025.2 690.8 1027.2 692.3 1025.4 693.9 1026.4 695.4 1026.9 696.9 1027 698.5 1025.9 700 1028.8 701.6 1025.9 703.1 1029 704.7 1028.4 706.2 1025.5 707.8 1028.1 709.3 1027.3 710.9 1026.6 712.4 1025.9 714 1026.8 715.5 1027.8 717.1 1026.7 718.6 1027.6 720.2 1028.5 721.7 1028.1 723.3 1025.8 724.8 1025.3 726.4 1026.5 727.9 1028.7 729.5 1027.3 731 1027.1 732.6 1025.7 734.1 1025.5 735.7 1028.2 737.2 1027.6 738.8 1026.6 740.3 1027.2 741.9 1025.5 743.4 1027.1 745 1027.6 746.5 1028.1 748 1026.3 749.6 1024.2 751.1 1027.3 752.7 1026.7 754.2 1026.4 755.8 1026.5 757.3 1025.8 758.9 1029.6 760.4 1026.4 762 1027.1 763.5 1025.7 765.1 1027 766.6 1027.7 768.2 1024.3 769.7 1025.2 771.3 1024.7 772.8 1027.8 774.4 1026.7 775.9 1026 777.5 1026.4 779 1028.7 780.6 1026.7 782.1 1025.7 783.7 1026.6 785.2 1030 786.8 1027.6 788.3 1029.6 789.9 1026.8 791.4 1025.6 793 1026.2 794.5 1025.7 796 1028.2 797.6 1025.9 799.1 1027.1 800.7 1026.3 802.2 1027.7 803.8 1026.6 805.3 1029.3 806.9 1027 808.4 1029.2 810 1025.9 811.5 1028.5 813.1 1026.2 814.6 1027.3 816.2 1027.1 817.7 1027.2 819.3 1027.8 820.8 1026.8 822.4 1030.1 823.9 1027.4 825.5 1026.2 827 1027.9 828.6 1026 830.1 1027.6 831.7 1025.3 833.2 1027.1 834.8 1027.4 836.3 1027.1 837.9 1027.1 839.4 1027.3 841 1028.9 842.5 1026.4 844 1028 845.6 1028.2 847.1 1027.2 848.7 1027.8 850.2 1027.3 851.8 1026.4 853.3 1025.1 854.9 1026.5 856.4 1027.6 858 1027.5 859.5 1026.8 861.1 1024.8 862.6 1027.9 864.2 1027.7 865.7 1025 867.3 1027.9 868.8 1027.3 870.4 1028.8 871.9 1027.5 873.5 1025.9 875 1028.3 876.6 1024.9 878.1 1027.9 879.7 1027 881.2 1025.8 882.8 1028.7 884.3 1026.6 885.9 1027.9 887.4 1026.3 889 1027 890.5 1025.7 892 1027.7 893.6 1026.4 895.1 1026.8 896.7 1027.7 898.2 1027.1 899.8 1025.7 901.3 1027.3 902.9 1027.3 904.4 1026.7 906 1029 907.5 1026.3 909.1 1026.9 910.6 1028.2 912.2 1027.5 913.7 1028.6 915.3 1027.8 916.8 1027.5 918.4 1026.8 919.9 1027.1 921.5 1026.6 923 1027.8 924.6 1026.8 926.1 1025.4 927.7 1027.2 929.2 1025.2 930.8 1025.7 932.3 1026.9 933.9 1026.5 935.4 1028.5 937 1027 938.5 1028.5 940 1027.4 941.6 1026.7 943.1 1028.4 944.7 1027.7 946.2 1026.9 947.8 1027.5 949.3 1026.2 950.9 1027.8 952.4 1027.7 954 1027.9 955.5 1027.3 957.1 1026 958.6 1027.2 960.2 1027.2 961.7 1027.5 963.3 1026.3 964.8 1028.2 966.4 1027 967.9 1029 969.5 1025.5 971 1026.9 972.6 1026.9 974.1 1027.8 975.7 1026.8 977.2 1027 978.8 1026.8 980.3 1027.5 981.9 1027.8 983.4 1024.9 985 1026.7 986.5 1025.8 988 1027.8 989.6 1024.9 991.1 1026.6 992.7 1028.1 994.2 1027 995.8 1027.6 997.3 1028.3 998.9 1025.7 1000.4 1028.3 1002 1025.5 1003.5 1026.4 1005.1 1026.8 1006.6 1026.1 1008.2 1026.7 1009.7 1025.2 1011.3 1026.2 1012.8 1027.2 1014.4 1025.4 1015.9 1026.8 1017.5 1027.1 1019 1027.2 1020.6 1029.2 1022.1 1026 1023.7 1026.8 1025.2 1024.4 1026.8 1027.2 1028.3 1024.9 1029.9 1025.4 1031.4 1027.4 1033 1027 1034.5 1025.7 1036 1026.6 1037.6 1028 1039.1 1024.8 1040.7 1027.2 1042.2 1027.9 1043.8 1026.5 1045.3 1026 1046.9 1027.4 1048.4 1025.9 1050 1028 1051.5 1027.5 1053.1 1026.2 1054.6 1027.3 1056.2 1025.8 1057.7 1027.3 1059.3 1027.8 1060.8 1026.2 1062.4 1027.3 1063.9 1028 1065.5 1026.3 1067 1027.5 1068.6 1025.9 1070.1 1025.9 1071.7 1024.6 1073.2 1027.9 1074.8 1027 1076.3 1026.4 1077.9 1026.3 1079.4 1027.1 1081 1026.2 1082.5 1027.9 1084 1027.7 1085.6 1026.6 1087.1 1028.9 1088.7 1028.1 1090.2 1028.5 1091.8 1027.9 1093.3 1026.3 1094.9 1028.2 1096.4 1026.2 1098 1027.1 1099.5 1027.7 1101.1 1026.6 1102.6 1027.1 1104.2 1026.2 1105.7 1027.4 1107.3 1025.4 1108.8 1027.5 1110.4 1027.7 1111.9 1026.4 1113.5 1025.6 1115 1028.1 1116.6 1025 1118.1 1026.7 1119.7 1026.6 1121.2 1029 1122.8 1026.5 1124.3 1026.7 1125.9 1026 1127.4 1025.4 1129 1026.5 1130.5 1027 1132.1 1027 1133.6 1027.4 1135.1 1025.3 1136.7 1027.5 1138.2 1028.3 1139.8 1026.1 1141.3 1026 1142.9 1028.5 1144.4 1027 1146 1027.9 1147.5 1027.7 1149.1 1027.5 1150.6 1027.5 1152.2 1028.6 1153.7 1026.4 1155.3 1027.5 1156.8 1029.1 1158.4 1026.1 1159.9 1025.9 1161.5 1026.2 1163 1026.7 1164.6 1026.9 1166.1 1028.2 1167.7 1027.6 1169.2 1028 1170.8 1025.7 1172.3 1028.2 1173.9 1027.6 1175.4 1025.3 1177 1026.6 1178.5 1028.1 1180.1 1026.1 1181.6 1027.6 1183.1 1027.3 1184.7 1028.1 1186.2 1025.8 1187.8 1026 1189.3 1025.4 1190.9 1027.7 1192.4 1027.2 1194 1027.4 1195.5 1026.1 1197.1 1027.6 1198.6 1028.9 1200.2 1025.7 1201.7 1027.6 1203.3 1026.8 1204.8 1026.6 1206.4 1025.8 1207.9 1028.1 1209.5 1027.7 1211 1027.9 1212.6 1026.7 1214.1 1026.2 1215.7 1026.4 1217.2 1026.6 1218.8 1027.6 1220.3 1026.1 1221.9 1025.4 1223.4 1027.1 1225 1028.6 1226.5 1027.8 1228.1 1025.7 1229.6 1025.9 1231.1 1027.6 1232.7 1027.3 1234.2 1028.2 1235.8 1026.9 1237.3 1026.2 1238.9 1027.6 1240.4 1025.8 1242 1025.5 1243.5 1027.9 1245.1 1027.3 1246.6 1027.1 1248.2 1026 1249.7 1027.6 1251.3 1027.3 1252.8 1028.8 1254.4 1026.2 1255.9 1026.1 1257.5 1026.6 1259 1026.6 1260.6 1026.8 1262.1 1025.3 1263.7 1026.2 1265.2 1028.4 1266.8 1026.6 1268.3 1028.4 1269.9 1028.1 1271.4 1027.2 1273 1027.3 1274.5 1026.6 1276.1 1027.3 1277.6 1028.8 1279.1 1027.9 1280.7 1028.5 1282.2 1026.3 1283.8 1026.3 1285.3 1028.4 1286.9 1028.3 1288.4 1026.4 1290 1026.4 1291.5 1027.5 1293.1 1026.7 1294.6 1027.3 1296.2 1028 1297.7 1027.1 1299.3 1026.8 1300.8 1028.3 1302.4 1027 1303.9 1026.6 1305.5 1025.7 1307 1029.4 1308.6 1027.3 1310.1 1027.7 1311.7 1028.3 1313.2 1027.8 1314.8 1025.6 1316.3 1027.8 1317.9 1028 1319.4 1025.8 1321 1026.7 1322.5 1028.4 1324.1 1026.8 1325.6 1026 1327.1 1027.7 1328.7 1027.5 1330.2 1027.8 1331.8 1025.8 1333.3 1026.8 1334.9 1026.4 1336.4 1025.2 1338 1028.4 1339.5 1025.7 1341.1 1026.7 1342.6 1027.1 1344.2 1026.1 1345.7 1027.2 1347.3 1027.1 1348.8 1027.9 1350.4 1026.5 1351.9 1028.1 1353.5 1026.8 1355 1026.4 1356.6 1027 1358.1 1026.6 1359.7 1025.3 1361.2 1027.1 1362.8 1026.4 1364.3 1029.6 1365.9 1027.8 1367.4 1025.2 1369 1026.6 1370.5 1027.1 1372.1 1029 1373.6 1026.7 1375.1 1028.3 1376.7 1025.9 1378.2 1026.6 1379.8 1025.7 1381.3 1025.8 1382.9 1027.9 1384.4 1028.4 1386 1026.2 1387.5 1025.9 1389.1 1028.6 1390.6 1027.2 1392.2 1024.9 1393.7 1027.5 1395.3 1026.4 1396.8 1026.5 1398.4 1027.6 1399.9 1028.7 1401.5 1028.5 1403 1025.7 1404.6 1028.2 1406.1 1026.8 1407.7 1024.4 1409.2 1024.8 1410.8 1026.7 1412.3 1027.1 1413.9 1031 1415.4 1026.5 1417 1026.7 1418.5 1028 1420.1 1025.9 1421.6 1027 1423.1 1028.1 1424.7 1026.8 1426.2 1025.1 1427.8 1026.6 1429.3 1028.3 1430.9 1026.3 1432.4 1026.9 1434 1029 1435.5 1026.7 1437.1 1027.9 1438.6 1028.2 1440.2 1029.1 1441.7 1026.5 1443.3 1029.3 1444.8 1026.1 1446.4 1027.1 1447.9 1029 1449.5 1026.7 1451 1024.6 1452.6 1026.4 1454.1 1027.6 1455.7 1030.4 1457.2 1026.1 1458.8 1025.5 1460.3 1026.8 1461.9 1028.1 1463.4 1027.4 1465 1029.6 1466.5 1027.2 1468.1 1028.8 1469.6 1027.1 1471.1 1028.7 1472.7 1029.2 1474.2 1026.2 1475.8 1027.4 1477.3 1027 1478.9 1028.1 1480.4 1026.5 1482 1025.9 1483.5 1028 1485.1 1027.5 1486.6 1027.1 1488.2 1027.3 1489.7 1026.7 1491.3 1027 1492.8 1027.4 1494.4 1027.3 1495.9 1025 1497.5 1029.2 1499 1027.5 1500.6 1026.3 1502.1 1027.1 1503.7 1027.1 1505.2 1029.6 1506.8 1027.3 1508.3 1027.3 1509.9 1028.7 1511.4 1026.4 1513 1029.1 1514.5 1027.8 1516.1 1027.9 1517.6 1027.9 1519.2 1027.7 1520.7 1026.7 1522.2 1025.4 1523.8 1027.9 1525.3 1028.7 1526.9 1026.7 1528.4 1026.8 1530 1027.7 1531.5 1027.9 1533.1 1028.4 1534.6 1024 1536.2 1025.9 1537.7 1027.3 1539.3 1028 1540.8 1027.8 1542.4 1026.8 1543.9 1026.6 1545.5 1027 1547 1025.4 1548.6 1029.8 1550.1 1030.2 1551.7 1027.3 1553.2 1027.2 1554.8 1026.7 1556.3 1025.1 1557.9 1027.9 1559.4 1027.5 1561 1028 1562.5 1028.7 1564.1 1026.8 1565.6 1028 1567.2 1027 1568.7 1025.3 1570.2 1025.9 1571.8 1026.9 1573.3 1026.7 1574.9 1027.6 1576.4 1026.7 1578 1026.6 1579.5 1027.6 1581.1 1027.2 1582.6 1029 1584.2 1027.4 1585.7 1026.8 1587.3 1026.3 1588.8 1028.2 1590.4 1027.1 1591.9 1025.5 1593.5 1027.7 1595 1027.3 1596.6 1028 1598.1 1027.8 1599.7 1025.8 1601.2 1028 1602.8 1025.8 1604.3 1026.8 1605.9 1026.6 1607.4 1026.6 1609 1026.2 1610.5 1026.1 1612.1 1028.5 1613.6 1023.8 1615.2 1026 1616.7 1027.7 1618.2 1025.1 1619.8 1026.1 1621.3 1025.5 1622.9 1025.2 1624.4 1026.7 1626 1027.6 1627.5 1024.6 1629.1 1027.8 1630.6 1026.9 1632.2 1026.1 1633.7 1026.6 1635.3 1027 1636.8 1026.5 1638.4 1026.6 1639.9 1026.6 1641.5 1025.8 1643 1027.6 1644.6 1029.1 1646.1 1026.5 1647.7 1027.4 1649.2 1029.4 1650.8 1027.5 1652.3 1025.6 1653.9 1026.9 1655.4 1028.3 1657 1026.3 1658.5 1026.7 1660.1 1025.5 1661.6 1026.3 1663.2 1027.8 1664.7 1027.9 1666.2 1026.8 1667.8 1027.1 1669.3 1026.8 1670.9 1028 1672.4 1029 1674 1027.1 1675.5 1025.5 1677.1 1027.9 1678.6 1026.9 1680.2 1026.1 1681.7 1027 1683.3 1026.9 1684.8 1026.5 1686.4 1026.8 1687.9 1028.7 1689.5 1026.3 1691 1027.9 1692.6 1026.8 1694.1 1026.3 1695.7 1028.5 1697.2 1025.9 1698.8 1028.1 1700.3 1026.6 1701.9 1026 1703.4 1028.7 1705 1028.3 1706.5 1028.9 1708.1 1027.5 1709.6 1025.9 1711.2 1028 1712.7 1025.5 1714.2 1027.6 1715.8 1028.9 1717.3 1028.1 1718.9 1027.1 1720.4 1027.2 1722 1025.7 1723.5 1027 1725.1 1026.4 1726.6 1026.1 1728.2 1027.3 1729.7 1025.3 1731.3 1025.9 1732.8 1026.7 1734.4 1027.3 1735.9 1027.7 1737.5 1028.7 1739 1027.3 1740.6 1026 1742.1 1026.6 1743.7 1026.1 1745.2 1028 1746.8 1026.8 1748.3 1028.2 1749.9 1027.6 1751.4 1025.8 1753 1027.3 1754.5 1028.1 1756.1 1026.1 1757.6 1025.7 1759.2 1026 1760.7 1026.6 1762.2 1026.5 1763.8 1027.6 1765.3 1027.8 1766.9 1025.5 1768.4 1026.1 1770 1027.2 1771.5 1028.5 1773.1 1027.3 1774.6 1028.9 1776.2 1027.2 1777.7 1028.4 1779.3 1027.8 1780.8 1026.7 1782.4 1026.5 1783.9 1027.2 1785.5 1026.4 1787 1026.5 1788.6 1026 1790.1 1027.1 1791.7 1027.1 1793.2 1024.3 1794.8 1026.9 1796.3 1027.4 1797.9 1028.2 1799.4 1026.5 1801 1025.7 1802.5 1026.6 1804.1 1026.6 1805.6 1026.1 1807.2 1026.4 1808.7 1025.8 1810.2 1026.3 1811.8 1027.7 1813.3 1026.3 1814.9 1027 1816.4 1025.9 1818 1027.5 1819.5 1030 1821.1 1025.4 1822.6 1029 1824.2 1026.1 1825.7 1028.8 1827.3 1026.5 1828.8 1028 1830.4 1027.4 1831.9 1029.1 1833.5 1025.8 1835 1027.1 1836.6 1026.4 1838.1 1025.3 1839.7 1026 1841.2 1026 1842.8 1028.1 1844.3 1025.1 1845.9 1026.9 1847.4 1028.5 1849 1028.2 1850.5 1027.4 1852.1 1026.6 1853.6 1027.1 1855.2 1027.6 1856.7 1027.6 1858.2 1027.8 1859.8 1027.4 1861.3 1027.5 1862.9 1027.9 1864.4 1028.9 1866 1025.2 1867.5 1026.7 1869.1 1027.2 1870.6 1027.1 1872.2 1027.8 1873.7 1027.3 1875.3 1028.1 1876.8 1027.6 1878.4 1025.8 1879.9 1025.7 1881.5 1026.7 1883 1026.5 1884.6 1027.3 1886.1 1029 1887.7 1027.9 1889.2 1026 1890.8 1025.9 1892.3 1026.5 1893.9 1026 1895.4 1028 1897 1026.1 1898.5 1027.7 1900.1 1029.5 1901.6 1026.9 1903.2 1026.9 1904.7 1026.2 1906.3 1027.9 1907.8 1027.3 1909.3 1027.9 1910.9 1029.4 1912.4 1026.5 1914 1025.5 1915.5 1025.4 1917.1 1026.6 1918.6 1026.4 1920.2 1026.5 1921.7 1027.8 1923.3 1027.4 1924.8 1026.2 1926.4 1025.2 1927.9 1025.8 1929.5 1027.6 1931 1024.6 1932.6 1027.1" fill="none" stroke="#000" stroke-width="8.5" stroke-linejoin="round"/>
<path d="M492.5 1027L494.2 1022 495.8 1030 497.5 1027M561.5 1027L563.2 1005 564.8 1046 566.5 1027M648.4 1027L650.1 1013 651.7 1037 653.4 1027M792.9 1027L794.6 1002 796.2 1037 797.9 1027M849.7 1027L851.4 1023 853 1030 854.7 1027M894 1027L895.7 1014 897.3 1031 899 1027M982.5 1027L984.2 1011 985.8 1037 987.5 1027M1066.5 1027L1068.2 1022 1069.8 1030 1071.5 1027M1148.4 1027L1150.1 1023 1151.7 1030 1153.4 1027M1378.4 1027L1380.1 1017 1381.7 1030 1383.4 1027M1418 1027L1419.7 1017 1421.3 1030 1423 1027M1441.4 1027L1443.1 1019 1444.7 1030 1446.4 1027M1581.9 1027L1583.6 1017 1585.2 1027 1586.9 1027M1620.2 1027L1621.9 1009 1623.5 1027 1625.2 1027" fill="none" stroke="#000" stroke-width="6" stroke-linejoin="round" stroke-linecap="round"/>
<path d="M164.3 1471.3 L165.8 1471.2 167.4 1469.6 168.9 1468.4 170.5 1469.2 172 1468.3 173.6 1471.4 175.1 1470.6 176.7 1470 178.2 1470.2 179.8 1467.2 181.3 1468.9 182.9 1472.3 184.4 1468.2 186 1469.3 187.5 1469.6 189.1 1470.7 190.6 1468 192.2 1469.5 193.7 1471.6 195.3 1468.3 196.8 1470.7 198.4 1467.7 199.9 1470.8 201.5 1469.1 203 1468.7 204.6 1469.7 206.1 1471.6 207.7 1467.9 209.2 1469.7 210.8 1470.5 212.3 1470 213.8 1470.1 215.4 1467.3 216.9 1469.7 218.5 1470.6 220 1471.1 221.6 1468.5 223.1 1471.1 224.7 1467.9 226.2 1469.7 227.8 1469.1 229.3 1466.3 230.9 1470.9 232.4 1471.2 234 1469.9 235.5 1469.4 237.1 1471.6 238.6 1469.7 240.2 1469.7 241.7 1469.8 243.3 1469.8 244.8 1470.9 246.4 1469.4 247.9 1469.3 249.5 1468.1 251 1470.7 252.6 1468.4 254.1 1470.5 255.7 1468.7 257.2 1469.5 258.8 1470.6 260.3 1470.9 261.8 1469.5 263.4 1470.2 264.9 1469.4 266.5 1468.1 268 1467.6 269.6 1470.2 271.1 1469.7 272.7 1469.3 274.2 1465 275.8 1471 277.3 1469.9 278.9 1468 280.4 1468 282 1469.7 283.5 1469.4 285.1 1470.2 286.6 1471.2 288.2 1469.4 289.7 1468.8 291.3 1468.9 292.8 1469.2 294.4 1467.8 295.9 1470.4 297.5 1469.3 299 1468 300.6 1469.6 302.1 1470 303.7 1472.5 305.2 1469 306.8 1469.4 308.3 1467.9 309.8 1469.1 311.4 1470.4 312.9 1468.6 314.5 1471.2 316 1470.4 317.6 1470.1 319.1 1468 320.7 1469.2 322.2 1470.2 323.8 1468.5 325.3 1470.4 326.9 1468.8 328.4 1470 330 1469.1 331.5 1471 333.1 1468.1 334.6 1469.8 336.2 1468.7 337.7 1469.8 339.3 1470.2 340.8 1467.4 342.4 1470.2 343.9 1470.7 345.5 1469.8 347 1468.7 348.6 1470.1 350.1 1469.9 351.7 1470.1 353.2 1469.8 354.8 1468.5 356.3 1469.8 357.9 1466.6 359.4 1469.5 360.9 1469.2 362.5 1468.7 364 1469.5 365.6 1468.9 367.1 1468.6 368.7 1468.4 370.2 1468.1 371.8 1467.7 373.3 1469.7 374.9 1468.4 376.4 1471.1 378 1469.5 379.5 1469.1 381.1 1469.3 382.6 1469.4 384.2 1468.9 385.7 1468.4 387.3 1469 388.8 1471.2 390.4 1470.4 391.9 1470.3 393.5 1471.1 395 1470.6 396.6 1468.7 398.1 1470.7 399.7 1469.8 401.2 1469.1 402.8 1471.2 404.3 1469.6 405.9 1467.7 407.4 1470.1 408.9 1467.9 410.5 1468.6 412 1468.6 413.6 1470.3 415.1 1470.8 416.7 1469.4 418.2 1467.8 419.8 1468.9 421.3 1468.6 422.9 1469.4 424.4 1469.2 426 1470.1 427.5 1470.3 429.1 1469.8 430.6 1469.6 432.2 1467.7 433.7 1471.1 435.3 1468.7 436.8 1468 438.4 1468.6 439.9 1467.3 441.5 1470.3 443 1469.1 444.6 1470.8 446.1 1470.7 447.7 1471.4 449.2 1468.2 450.8 1469.7 452.3 1470.1 453.9 1469.2 455.4 1470.1 456.9 1469.7 458.5 1468.8 460 1469.5 461.6 1469.6 463.1 1467.1 464.7 1469.8 466.2 1468.2 467.8 1468.5 469.3 1469.6 470.9 1469.4 472.4 1470.8 474 1469.8 475.5 1467.4 477.1 1469.1 478.6 1469.8 480.2 1468.3 481.7 1470.4 483.3 1469.1 484.8 1469.9 486.4 1468.2 487.9 1469.4 489.5 1469.4 491 1470.1 492.6 1471.3 494.1 1467.8 495.7 1470.8 497.2 1469.9 498.8 1471 500.3 1470.4 501.9 1470.1 503.4 1470.8 504.9 1468.9 506.5 1467.5 508 1468.6 509.6 1468.8 511.1 1470.5 512.7 1468.9 514.2 1468.5 515.8 1470.1 517.3 1469.8 518.9 1469.6 520.4 1469.7 522 1468.8 523.5 1471.2 525.1 1468.3 526.6 1471 528.2 1468.1 529.7 1470.2 531.3 1468.7 532.8 1468.7 534.4 1468.7 535.9 1469 537.5 1471.4 539 1468.2 540.6 1469.4 542.1 1470.2 543.7 1469.6 545.2 1467.6 546.8 1468.7 548.3 1470.9 549.9 1467.5 551.4 1468.4 552.9 1468.6 554.5 1471.1 556 1469.9 557.6 1469.8 559.1 1469.5 560.7 1468.2 562.2 1470.3 563.8 1469.7 565.3 1468.6 566.9 1470.5 568.4 1468.8 570 1468 571.5 1470 573.1 1469 574.6 1468.8 576.2 1470.2 577.7 1468.3 579.3 1468.7 580.8 1470.9 582.4 1470.9 583.9 1471.7 585.5 1471.1 587 1468.6 588.6 1469 590.1 1469.6 591.7 1470.8 593.2 1469.2 594.8 1470.1 596.3 1472 597.9 1469.3 599.4 1468.8 600.9 1469.1 602.5 1468.8 604 1470.2 605.6 1467.4 607.1 1471 608.7 1468.5 610.2 1470.1 611.8 1469.5 613.3 1470 614.9 1468.6 616.4 1471.5 618 1470.1 619.5 1469.9 621.1 1468.9 622.6 1470.1 624.2 1470.1 625.7 1467.6 627.3 1469.1 628.8 1469.3 630.4 1469.8 631.9 1469.6 633.5 1470.5 635 1472.3 636.6 1471.5 638.1 1469.5 639.7 1470.6 641.2 1470.2 642.8 1469.8 644.3 1469.7 645.9 1467.9 647.4 1470.3 648.9 1471.3 650.5 1470.4 652 1469 653.6 1470.4 655.1 1468 656.7 1468.8 658.2 1469.3 659.8 1469.7 661.3 1467.6 662.9 1471.4 664.4 1467.4 666 1469 667.5 1471 669.1 1469.8 670.6 1470.2 672.2 1470.2 673.7 1471.9 675.3 1468.6 676.8 1469.3 678.4 1469.3 679.9 1467.7 681.5 1470.8 683 1471 684.6 1470.4 686.1 1467.6 687.7 1470 689.2 1470.8 690.8 1468.7 692.3 1470 693.9 1470.1 695.4 1469.9 696.9 1470.6 698.5 1469.1 700 1469.1 701.6 1469.4 703.1 1467.8 704.7 1469.7 706.2 1469.7 707.8 1468.7 709.3 1469.3 710.9 1469.2 712.4 1469.6 714 1469.8 715.5 1468.8 717.1 1471.3 718.6 1469.9 720.2 1469.9 721.7 1468.9 723.3 1469.5 724.8 1469.8 726.4 1470.4 727.9 1468.6 729.5 1471.1 731 1468.5 732.6 1471.5 734.1 1468.6 735.7 1468.9 737.2 1468.8 738.8 1470.1 740.3 1469.8 741.9 1471.1 743.4 1469.5 745 1470.8 746.5 1468.9 748 1469.6 749.6 1468.3 751.1 1472.3 752.7 1469.6 754.2 1468.9 755.8 1469.3 757.3 1469.6 758.9 1468.8 760.4 1468.8 762 1469.6 763.5 1467.6 765.1 1467.9 766.6 1470.4 768.2 1469.9 769.7 1469.6 771.3 1468.4 772.8 1470.3 774.4 1470.5 775.9 1470.2 777.5 1471.1 779 1469.7 780.6 1470 782.1 1469.6 783.7 1468.9 785.2 1469.6 786.8 1470.4 788.3 1468.9 789.9 1469 791.4 1470.4 793 1469.4 794.5 1470.2 796 1468.7 797.6 1469.5 799.1 1469.2 800.7 1469.4 802.2 1468.7 803.8 1471 805.3 1469.7 806.9 1469.1 808.4 1471 810 1468.6 811.5 1468.9 813.1 1470.3 814.6 1469.9 816.2 1469.8 817.7 1470 819.3 1469.8 820.8 1468.7 822.4 1471.1 823.9 1471 825.5 1470.6 827 1468.7 828.6 1469 830.1 1470.9 831.7 1468.9 833.2 1469.2 834.8 1469.4 836.3 1469.1 837.9 1469.7 839.4 1467.3 841 1468.7 842.5 1467.4 844 1469.4 845.6 1470 847.1 1468.7 848.7 1469.7 850.2 1470 851.8 1470.3 853.3 1469.6 854.9 1469.8 856.4 1471.1 858 1469.5 859.5 1470.5 861.1 1469.3 862.6 1468.8 864.2 1469.3 865.7 1471.7 867.3 1467.2 868.8 1470 870.4 1468.5 871.9 1468.4 873.5 1468.1 875 1469.7 876.6 1469.9 878.1 1468.9 879.7 1471.1 881.2 1467.6 882.8 1470.5 884.3 1468.9 885.9 1469.3 887.4 1469.9 889 1469.5 890.5 1469 892 1467.6 893.6 1469.2 895.1 1469.4 896.7 1466.7 898.2 1469.8 899.8 1471 901.3 1467.9 902.9 1470.8 904.4 1468.8 906 1469.5 907.5 1468.7 909.1 1467.4 910.6 1467.6 912.2 1471.2 913.7 1468.5 915.3 1471.7 916.8 1468.6 918.4 1469.2 919.9 1470.2 921.5 1468.3 923 1470.5 924.6 1470.5 926.1 1470.9 927.7 1469.5 929.2 1470 930.8 1468.4 932.3 1471.3 933.9 1470.6 935.4 1469 937 1471.4 938.5 1468.7 940 1470.4 941.6 1470.6 943.1 1470.4 944.7 1468.1 946.2 1468.1 947.8 1469.5 949.3 1469.8 950.9 1470.3 952.4 1469.4 954 1466.4 955.5 1468.5 957.1 1469.6 958.6 1467.4 960.2 1469.2 961.7 1472.2 963.3 1469.4 964.8 1468.7 966.4 1470.2 967.9 1468.3 969.5 1469.1 971 1469.5 972.6 1467.3 974.1 1470.2 975.7 1469.5 977.2 1469.5 978.8 1469 980.3 1470.3 981.9 1469.4 983.4 1468.2 985 1469.8 986.5 1469.6 988 1468.3 989.6 1469.1 991.1 1471.3 992.7 1468.4 994.2 1469.6 995.8 1469.6 997.3 1468.3 998.9 1467.9 1000.4 1470.1 1002 1469.5 1003.5 1468.9 1005.1 1469 1006.6 1468.5 1008.2 1472 1009.7 1469.5 1011.3 1468.5 1012.8 1468.8 1014.4 1469.9 1015.9 1468.1 1017.5 1468.6 1019 1469.1 1020.6 1468.2 1022.1 1468.9 1023.7 1470.5 1025.2 1469.4 1026.8 1469.3 1028.3 1469.3 1029.9 1471.1 1031.4 1468.3 1033 1468.3 1034.5 1468.8 1036 1468.1 1037.6 1470.4 1039.1 1470.4 1040.7 1468.8 1042.2 1469.7 1043.8 1469.9 1045.3 1469.5 1046.9 1467.6 1048.4 1471.2 1050 1468.6 1051.5 1468.2 1053.1 1466.3 1054.6 1471.2 1056.2 1469.6 1057.7 1469 1059.3 1470.1 1060.8 1468.2 1062.4 1470.1 1063.9 1470 1065.5 1469 1067 1468.7 1068.6 1468.7 1070.1 1468.7 1071.7 1470.8 1073.2 1470.9 1074.8 1470.3 1076.3 1468.2 1077.9 1469.4 1079.4 1468.4 1081 1469.4 1082.5 1469.6 1084 1470.8 1085.6 1470.4 1087.1 1470.1 1088.7 1469.1 1090.2 1471.6 1091.8 1469 1093.3 1469.8 1094.9 1469.7 1096.4 1468.8 1098 1470 1099.5 1470 1101.1 1468.5 1102.6 1470.2 1104.2 1471.2 1105.7 1470 1107.3 1468.9 1108.8 1471.5 1110.4 1470.3 1111.9 1470.4 1113.5 1470.2 1115 1469.4 1116.6 1468.2 1118.1 1469 1119.7 1469.1 1121.2 1469.4 1122.8 1469.5 1124.3 1470.2 1125.9 1469.7 1127.4 1468.5 1129 1468.7 1130.5 1469.5 1132.1 1468.3 1133.6 1467.8 1135.1 1468.5 1136.7 1468.8 1138.2 1471.7 1139.8 1468.5 1141.3 1469.3 1142.9 1469.5 1144.4 1470.1 1146 1470 1147.5 1470.1 1149.1 1469.4 1150.6 1469.8 1152.2 1468.6 1153.7 1471.7 1155.3 1470.3 1156.8 1468.6 1158.4 1469.5 1159.9 1469.6 1161.5 1469.5 1163 1469.2 1164.6 1469.2 1166.1 1467.9 1167.7 1466.8 1169.2 1468.6 1170.8 1470.3 1172.3 1469.4 1173.9 1470.4 1175.4 1467.3 1177 1469.3 1178.5 1470.2 1180.1 1468.5 1181.6 1468.7 1183.1 1469 1184.7 1469.2 1186.2 1469.4 1187.8 1468.1 1189.3 1467.7 1190.9 1469.6 1192.4 1468.7 1194 1469.1 1195.5 1471.3 1197.1 1468.9 1198.6 1468.7 1200.2 1467.7 1201.7 1470.2 1203.3 1469.2 1204.8 1466.7 1206.4 1468.6 1207.9 1469.7 1209.5 1468.2 1211 1471.7 1212.6 1470.6 1214.1 1469.1 1215.7 1469.5 1217.2 1469.5 1218.8 1468.9 1220.3 1471.3 1221.9 1470 1223.4 1468 1225 1471.1 1226.5 1468.7 1228.1 1469.7 1229.6 1469.8 1231.1 1470.7 1232.7 1468.4 1234.2 1468.9 1235.8 1468.5 1237.3 1469.1 1238.9 1470.6 1240.4 1467.3 1242 1468.8 1243.5 1468.8 1245.1 1469.4 1246.6 1467.6 1248.2 1470.5 1249.7 1469.8 1251.3 1469.5 1252.8 1471.3 1254.4 1472.5 1255.9 1469.4 1257.5 1468.8 1259 1468.4 1260.6 1467 1262.1 1469.6 1263.7 1470.4 1265.2 1468.4 1266.8 1469.5 1268.3 1470.2 1269.9 1468.2 1271.4 1468.8 1273 1469.5 1274.5 1469.2 1276.1 1470 1277.6 1470.6 1279.1 1469.8 1280.7 1467.5 1282.2 1470.1 1283.8 1468.9 1285.3 1468.1 1286.9 1468.9 1288.4 1468.1 1290 1469.6 1291.5 1468.3 1293.1 1470.2 1294.6 1471.2 1296.2 1469.6 1297.7 1470.1 1299.3 1471 1300.8 1471.2 1302.4 1468.3 1303.9 1469.7 1305.5 1470 1307 1470.2 1308.6 1469.3 1310.1 1468.5 1311.7 1470.4 1313.2 1467.9 1314.8 1467.6 1316.3 1468.4 1317.9 1468.9 1319.4 1469.6 1321 1469.7 1322.5 1470.1 1324.1 1470.9 1325.6 1470.6 1327.1 1468.5 1328.7 1469.7 1330.2 1469.4 1331.8 1468.1 1333.3 1470.3 1334.9 1468.9 1336.4 1467.8 1338 1469.8 1339.5 1470 1341.1 1469.9 1342.6 1470.7 1344.2 1468.6 1345.7 1468.9 1347.3 1468.7 1348.8 1471.2 1350.4 1469.4 1351.9 1469.3 1353.5 1468.9 1355 1470.4 1356.6 1469.1 1358.1 1468.9 1359.7 1471.8 1361.2 1469.5 1362.8 1469.8 1364.3 1469 1365.9 1468.1 1367.4 1469.5 1369 1469.6 1370.5 1470.8 1372.1 1469.5 1373.6 1470.6 1375.1 1467.9 1376.7 1469.6 1378.2 1472.4 1379.8 1468.6 1381.3 1470.9 1382.9 1469.9 1384.4 1469.5 1386 1470.5 1387.5 1468.1 1389.1 1470.4 1390.6 1470.4 1392.2 1470.4 1393.7 1470.2 1395.3 1470.1 1396.8 1467.8 1398.4 1469.2 1399.9 1470.6 1401.5 1470.1 1403 1468.9 1404.6 1469.2 1406.1 1469.7 1407.7 1468.7 1409.2 1469.6 1410.8 1469.4 1412.3 1469.3 1413.9 1470.6 1415.4 1467.5 1417 1468.9 1418.5 1471 1420.1 1469.6 1421.6 1469.9 1423.1 1469.7 1424.7 1468 1426.2 1469.7 1427.8 1469.6 1429.3 1469.4 1430.9 1469.6 1432.4 1468.7 1434 1471.4 1435.5 1467.6 1437.1 1467.4 1438.6 1469.5 1440.2 1468.2 1441.7 1471.2 1443.3 1468.3 1444.8 1470.4 1446.4 1468 1447.9 1468.6 1449.5 1470.9 1451 1471 1452.6 1468 1454.1 1467.6 1455.7 1471 1457.2 1469 1458.8 1469.8 1460.3 1469.9 1461.9 1470.4 1463.4 1469.7 1465 1470 1466.5 1468.7 1468.1 1467.9 1469.6 1468.2 1471.1 1469.4 1472.7 1470.4 1474.2 1468 1475.8 1468.4 1477.3 1469.7 1478.9 1469.6 1480.4 1470.3 1482 1469.2 1483.5 1470 1485.1 1468.4 1486.6 1467.4 1488.2 1471.8 1489.7 1468.5 1491.3 1468.9 1492.8 1471 1494.4 1471.3 1495.9 1470.8 1497.5 1469.2 1499 1468.7 1500.6 1469.6 1502.1 1469.5 1503.7 1469.8 1505.2 1470.8 1506.8 1469.4 1508.3 1468.6 1509.9 1468.8 1511.4 1468.9 1513 1468.5 1514.5 1469 1516.1 1471 1517.6 1470.7 1519.2 1470.4 1520.7 1468.8 1522.2 1468.2 1523.8 1470.1 1525.3 1470 1526.9 1469 1528.4 1469 1530 1468.9 1531.5 1470.2 1533.1 1468.6 1534.6 1469.2 1536.2 1467.2 1537.7 1469.2 1539.3 1469.9 1540.8 1469.1 1542.4 1467.6 1543.9 1469.4 1545.5 1469.1 1547 1471 1548.6 1469.3 1550.1 1471.1 1551.7 1469.2 1553.2 1468.8 1554.8 1469.2 1556.3 1469.7 1557.9 1469.5 1559.4 1469 1561 1468.5 1562.5 1469.7 1564.1 1469.8 1565.6 1469.4 1567.2 1469.1 1568.7 1469 1570.2 1468.5 1571.8 1469.7 1573.3 1470.3 1574.9 1470.7 1576.4 1469.1 1578 1468.6 1579.5 1468.3 1581.1 1470 1582.6 1469.1 1584.2 1469.7 1585.7 1469.2 1587.3 1468.6 1588.8 1468.7 1590.4 1467.4 1591.9 1470.2 1593.5 1469.5 1595 1469 1596.6 1470.2 1598.1 1469.3 1599.7 1468.2 1601.2 1469.5 1602.8 1469.1 1604.3 1470.7 1605.9 1468.9 1607.4 1469.4 1609 1470.4 1610.5 1470 1612.1 1468.5 1613.6 1469 1615.2 1468.7 1616.7 1469.8 1618.2 1469.2 1619.8 1469.7 1621.3 1469.5 1622.9 1470 1624.4 1467.8 1626 1470.1 1627.5 1471.2 1629.1 1470.3 1630.6 1470.8 1632.2 1468.8 1633.7 1470.3 1635.3 1469.7 1636.8 1469.3 1638.4 1472.2 1639.9 1468.4 1641.5 1470.6 1643 1467.8 1644.6 1468.9 1646.1 1468.7 1647.7 1470.1 1649.2 1470.7 1650.8 1469.4 1652.3 1469.4 1653.9 1468.5 1655.4 1470.2 1657 1470.2 1658.5 1468.6 1660.1 1470.2 1661.6 1468.3 1663.2 1470.7 1664.7 1469.6 1666.2 1468.3 1667.8 1469.6 1669.3 1470.4 1670.9 1470.2 1672.4 1469.9 1674 1468.3 1675.5 1468.9 1677.1 1471.3 1678.6 1469.6 1680.2 1470.4 1681.7 1469.4 1683.3 1470.7 1684.8 1468.6 1686.4 1469.5 1687.9 1470.4 1689.5 1471 1691 1469.7 1692.6 1471.1 1694.1 1469.9 1695.7 1469.9 1697.2 1469 1698.8 1469.3 1700.3 1468.3 1701.9 1469.9 1703.4 1469.3 1705 1469.8 1706.5 1469 1708.1 1469.6 1709.6 1472.1 1711.2 1469.5 1712.7 1470.2 1714.2 1470.1 1715.8 1468.1 1717.3 1470.1 1718.9 1467.9 1720.4 1470.6 1722 1469 1723.5 1468.9 1725.1 1468.8 1726.6 1467.6 1728.2 1469.4 1729.7 1469.1 1731.3 1471 1732.8 1469.8 1734.4 1468.2 1735.9 1470.9 1737.5 1469.2 1739 1470 1740.6 1470 1742.1 1468.9 1743.7 1467.6 1745.2 1468.1 1746.8 1468.9 1748.3 1470.5 1749.9 1470.1 1751.4 1470.3 1753 1467.8 1754.5 1467.7 1756.1 1469.6 1757.6 1467.8 1759.2 1470.5 1760.7 1469.6 1762.2 1470.7 1763.8 1469.8 1765.3 1469.3 1766.9 1469.3 1768.4 1468.5 1770 1471.3 1771.5 1468.2 1773.1 1469.8 1774.6 1468.5 1776.2 1467.7 1777.7 1471.1 1779.3 1467.6 1780.8 1468.7 1782.4 1470.1 1783.9 1471.3 1785.5 1469.4 1787 1467.9 1788.6 1469.3 1790.1 1470 1791.7 1468.9 1793.2 1468.9 1794.8 1470.6 1796.3 1470.6 1797.9 1469.2 1799.4 1470.3 1801 1469.4 1802.5 1467.3 1804.1 1470.3 1805.6 1468.2 1807.2 1467.3 1808.7 1470 1810.2 1470.1 1811.8 1469.8 1813.3 1470.3 1814.9 1470.1 1816.4 1470.3 1818 1469.7 1819.5 1470.1 1821.1 1467.8 1822.6 1468.9 1824.2 1470.8 1825.7 1471.6 1827.3 1471 1828.8 1469.4 1830.4 1468.5 1831.9 1469.2 1833.5 1470.1 1835 1469.2 1836.6 1469.6 1838.1 1471.6 1839.7 1470.4 1841.2 1471.1 1842.8 1466.7 1844.3 1469.8 1845.9 1470.4 1847.4 1469.9 1849 1469.1 1850.5 1470.7 1852.1 1468.4 1853.6 1469.1 1855.2 1470 1856.7 1469.1 1858.2 1468.9 1859.8 1468.5 1861.3 1471 1862.9 1468.3 1864.4 1469.2 1866 1468.8 1867.5 1469.1 1869.1 1469.9 1870.6 1468.2 1872.2 1470.8 1873.7 1468.4 1875.3 1469.5 1876.8 1471.4 1878.4 1469.9 1879.9 1471.8 1881.5 1469 1883 1469.8 1884.6 1466.6 1886.1 1468.8 1887.7 1471 1889.2 1470 1890.8 1470 1892.3 1469.7 1893.9 1469.4 1895.4 1468.5 1897 1470 1898.5 1467.9 1900.1 1469.5 1901.6 1470.5 1903.2 1469 1904.7 1469 1906.3 1470 1907.8 1468.5 1909.3 1469.4 1910.9 1468.1 1912.4 1470.5 1914 1470 1915.5 1470 1917.1 1468.7 1918.6 1470.5 1920.2 1470.3 1921.7 1469.4 1923.3 1467.9 1924.8 1469.6 1926.4 1468.7 1927.9 1468 1929.5 1470.3 1931 1469.5 1932.6 1469.7" fill="none" stroke="#000" stroke-width="8.5" stroke-linejoin="round"/>
<path d="M220.6 1469.5L222.3 1449.5 223.9 1469.5 225.6 1469.5M494.7 1469.5L496.4 1461.5 498 1472.5 499.7 1469.5M562.2 1469.5L563.9 1455.5 565.5 1480.5 567.2 1469.5M648.4 1469.5L650.1 1464.5 651.7 1472.5 653.4 1469.5M792.9 1469.5L794.6 1432.5 796.2 1486.5 797.9 1469.5M893.3 1469.5L895 1463.5 896.6 1472.5 898.3 1469.5M983.6 1469.5L985.3 1444.5 986.9 1481.5 988.6 1469.5M1148.4 1469.5L1150.1 1463.5 1151.7 1469.5 1153.4 1469.5M1380.6 1469.5L1382.3 1459.5 1383.9 1472.5 1385.6 1469.5M1418.2 1469.5L1419.9 1459.5 1421.5 1472.5 1423.2 1469.5M1620.2 1469.5L1621.9 1463.5 1623.5 1472.5 1625.2 1469.5M1754.4 1469.5L1756.1 1469.5 1757.7 1475.5 1759.4 1469.5" fill="none" stroke="#000" stroke-width="6" stroke-linejoin="round" stroke-linecap="round"/>
<path d="M164.3 1714.5 L165.8 1712.5 167.4 1711.9 168.9 1714.8 170.5 1712.8 172 1714.5 173.6 1713.9 175.1 1714.1 176.7 1714.3 178.2 1713.9 179.8 1712.2 181.3 1712.1 182.9 1714.5 184.4 1711.2 186 1714.1 187.5 1714.7 189.1 1712.3 190.6 1711.7 192.2 1712.5 193.7 1712.3 195.3 1715 196.8 1714.4 198.4 1712.9 199.9 1713.4 201.5 1713.8 203 1713.9 204.6 1715.4 206.1 1714.8 207.7 1714 209.2 1714.9 210.8 1713.4 212.3 1714.9 213.8 1714.2 215.4 1712.5 216.9 1714 218.5 1714.8 220 1713.3 221.6 1712.5 223.1 1717.4 224.7 1713.7 226.2 1712.5 227.8 1711.8 229.3 1715.3 230.9 1715 232.4 1713.5 234 1715.4 235.5 1714.9 237.1 1711.6 238.6 1714.1 240.2 1715.3 241.7 1713.9 243.3 1714.4 244.8 1715 246.4 1715.7 247.9 1714.3 249.5 1714.7 251 1714.4 252.6 1711.9 254.1 1715 255.7 1714.5 257.2 1711.6 258.8 1715.2 260.3 1713.2 261.8 1713.7 263.4 1714.5 264.9 1713.9 266.5 1715.6 268 1714.3 269.6 1715.2 271.1 1712.1 272.7 1713.3 274.2 1712.3 275.8 1713.9 277.3 1713.2 278.9 1713 280.4 1713.9 282 1714 283.5 1711.5 285.1 1712.4 286.6 1712.2 288.2 1713 289.7 1715.2 291.3 1715.8 292.8 1712.7 294.4 1712.2 295.9 1714.9 297.5 1714 299 1714.5 300.6 1714.3 302.1 1715.5 303.7 1713.7 305.2 1712.7 306.8 1712.9 308.3 1712.8 309.8 1713.2 311.4 1714.8 312.9 1713.1 314.5 1715.2 316 1714 317.6 1713.2 319.1 1712.9 320.7 1712.3 322.2 1714.1 323.8 1717.2 325.3 1714.1 326.9 1713.6 328.4 1714.1 330 1715.3 331.5 1713.5 333.1 1713.1 334.6 1711.6 336.2 1711.5 337.7 1713.8 339.3 1713.3 340.8 1711.3 342.4 1712.5 343.9 1714 345.5 1712.6 347 1711.9 348.6 1714.7 350.1 1713.6 351.7 1713.7 353.2 1713 354.8 1712.7 356.3 1711.9 357.9 1713.6 359.4 1712.7 360.9 1714.6 362.5 1714.3 364 1713.4 365.6 1714.1 367.1 1714.1 368.7 1712.1 370.2 1712.4 371.8 1713.9 373.3 1713.9 374.9 1713.8 376.4 1713.6 378 1713.7 379.5 1713.9 381.1 1714 382.6 1711.6 384.2 1713.6 385.7 1714 387.3 1713.7 388.8 1714.4 390.4 1714.5 391.9 1713.9 393.5 1714 395 1713.8 396.6 1713.9 398.1 1710 399.7 1712.4 401.2 1715 402.8 1713 404.3 1713.6 405.9 1714 407.4 1713.9 408.9 1713.2 410.5 1712.6 412 1713 413.6 1713.6 415.1 1711.5 416.7 1712.6 418.2 1713.7 419.8 1713.8 421.3 1713.7 422.9 1712.7 424.4 1712.6 426 1711 427.5 1713.1 429.1 1715 430.6 1714.2 432.2 1711 433.7 1713.2 435.3 1712.4 436.8 1713.6 438.4 1712.6 439.9 1712.8 441.5 1713.6 443 1714.6 444.6 1710.8 446.1 1712.9 447.7 1714.1 449.2 1715.4 450.8 1711.5 452.3 1714.1 453.9 1713.3 455.4 1713.5 456.9 1712.7 458.5 1712.5 460 1712.5 461.6 1714.5 463.1 1712.3 464.7 1710.2 466.2 1713.6 467.8 1712.6 469.3 1711.3 470.9 1713.8 472.4 1711.8 474 1713.9 475.5 1712 477.1 1714 478.6 1711.5 480.2 1712.7 481.7 1712.3 483.3 1712.7 484.8 1711.7 486.4 1713 487.9 1711.3 489.5 1711.2 491 1709.3 492.6 1709.9 494.1 1705.6 495.7 1698.7 497.2 1704.3 498.8 1707.9 500.3 1710.4 501.9 1710.9 503.4 1712.3 504.9 1714.6 506.5 1710.9 508 1712.4 509.6 1713.3 511.1 1712.6 512.7 1712.4 514.2 1712.3 515.8 1712.8 517.3 1710.2 518.9 1714.1 520.4 1714.1 522 1713.1 523.5 1714.2 525.1 1714.4 526.6 1717.9 528.2 1718.5 529.7 1724.1 531.3 1722.7 532.8 1723.6 534.4 1724.8 535.9 1725.5 537.5 1726.5 539 1726.2 540.6 1725.5 542.1 1726.7 543.7 1725.8 545.2 1724.5 546.8 1723.8 548.3 1723.4 549.9 1722.9 551.4 1720.3 552.9 1717.2 554.5 1714.9 556 1714.6 557.6 1713.8 559.1 1708.9 560.7 1702.7 562.2 1683 563.8 1665.5 565.3 1677.1 566.9 1700.7 568.4 1708.4 570 1711.9 571.5 1709 573.1 1712.2 574.6 1711.6 576.2 1712.8 577.7 1711.5 579.3 1711 580.8 1711.7 582.4 1710.2 583.9 1711.1 585.5 1710.9 587 1714.9 588.6 1710.9 590.1 1714.5 591.7 1712.6 593.2 1712.2 594.8 1713.8 596.3 1711.2 597.9 1712.4 599.4 1711.6 600.9 1713.4 602.5 1711.6 604 1712.5 605.6 1712.8 607.1 1711.9 608.7 1710 610.2 1713.6 611.8 1713.6 613.3 1713.7 614.9 1710.4 616.4 1712.1 618 1712.1 619.5 1711.9 621.1 1713.7 622.6 1712.9 624.2 1712.8 625.7 1711.8 627.3 1713.3 628.8 1710.6 630.4 1712.3 631.9 1713 633.5 1711.5 635 1711.6 636.6 1714.6 638.1 1709.8 639.7 1712.5 641.2 1711.1 642.8 1710.6 644.3 1712 645.9 1711.2 647.4 1709.6 648.9 1701.6 650.5 1689.3 652 1695.7 653.6 1704.2 655.1 1707.8 656.7 1711.8 658.2 1711 659.8 1711.4 661.3 1710.6 662.9 1709.5 664.4 1709.7 666 1711.7 667.5 1710.8 669.1 1713.2 670.6 1712.9 672.2 1713.4 673.7 1710.7 675.3 1711.8 676.8 1714.6 678.4 1711.6 679.9 1709.6 681.5 1712.6 683 1710.9 684.6 1713.1 686.1 1712.1 687.7 1711.4 689.2 1711.5 690.8 1713.7 692.3 1713.5 693.9 1711.8 695.4 1712 696.9 1712.8 698.5 1712.5 700 1712.2 701.6 1710.3 703.1 1712 704.7 1710.7 706.2 1714.8 707.8 1712 709.3 1712.8 710.9 1711.9 712.4 1710.6 714 1713.1 715.5 1714.2 717.1 1712.7 718.6 1712.8 720.2 1710.6 721.7 1710.1 723.3 1710.7 724.8 1710.3 726.4 1709.9 727.9 1713.9 729.5 1710.4 731 1711.6 732.6 1711.4 734.1 1711.3 735.7 1711.3 737.2 1708.6 738.8 1712.5 740.3 1712.1 741.9 1712.7 743.4 1714.6 745 1714.1 746.5 1715.4 748 1714.1 749.6 1717.2 751.1 1718.6 752.7 1718.7 754.2 1718.3 755.8 1720.1 757.3 1721.1 758.9 1718.6 760.4 1721.4 762 1722.2 763.5 1721 765.1 1723.7 766.6 1721.7 768.2 1721.1 769.7 1721.9 771.3 1720.3 772.8 1720.8 774.4 1716 775.9 1717.1 777.5 1712.2 779 1712.8 780.6 1710.6 782.1 1713.5 783.7 1711.9 785.2 1710.3 786.8 1712.2 788.3 1709.2 789.9 1710.6 791.4 1707.4 793 1690.9 794.5 1661 796 1658.2 797.6 1688.2 799.1 1704.9 800.7 1708 802.2 1709.5 803.8 1710.2 805.3 1711.3 806.9 1711.7 808.4 1709.2 810 1712.4 811.5 1713 813.1 1711 814.6 1709.3 816.2 1710.6 817.7 1711.2 819.3 1711.3 820.8 1713.1 822.4 1713.8 823.9 1712.9 825.5 1712.7 827 1710.2 828.6 1711.1 830.1 1710.2 831.7 1709.7 833.2 1710.2 834.8 1710.2 836.3 1710.4 837.9 1712 839.4 1712.1 841 1708.8 842.5 1712 844 1710.1 845.6 1712.6 847.1 1708.8 848.7 1711.1 850.2 1712.4 851.8 1709 853.3 1710.8 854.9 1710.5 856.4 1713.6 858 1712.3 859.5 1711.2 861.1 1710.8 862.6 1711.7 864.2 1710.6 865.7 1711.6 867.3 1712.1 868.8 1710.7 870.4 1712.3 871.9 1710.7 873.5 1712.3 875 1709.3 876.6 1710.2 878.1 1711.2 879.7 1709.6 881.2 1712 882.8 1712.7 884.3 1711.8 885.9 1712.2 887.4 1710.8 889 1710.7 890.5 1713.6 892 1712.3 893.6 1712.7 895.1 1711.2 896.7 1711.7 898.2 1710.2 899.8 1711.2 901.3 1710.8 902.9 1710.5 904.4 1709.7 906 1710.6 907.5 1709 909.1 1708.6 910.6 1711 912.2 1711.4 913.7 1712.4 915.3 1707.8 916.8 1711.4 918.4 1712.4 919.9 1714.3 921.5 1711.9 923 1711.2 924.6 1711.5 926.1 1711.1 927.7 1711.8 929.2 1713.5 930.8 1711.9 932.3 1710.7 933.9 1712.8 935.4 1711 937 1710.4 938.5 1712.9 940 1712 941.6 1711.9 943.1 1710.9 944.7 1711.4 946.2 1712.2 947.8 1710.8 949.3 1710.5 950.9 1711 952.4 1711.1 954 1709.3 955.5 1711.2 957.1 1711.4 958.6 1710.6 960.2 1709.8 961.7 1710.5 963.3 1711.1 964.8 1710.6 966.4 1710.2 967.9 1710.7 969.5 1711.5 971 1714.9 972.6 1712.5 974.1 1711 975.7 1712.7 977.2 1711.6 978.8 1710.7 980.3 1711.4 981.9 1710.6 983.4 1702.3 985 1688.4 986.5 1686.7 988 1698.8 989.6 1708.6 991.1 1711.8 992.7 1711.3 994.2 1711.6 995.8 1710.1 997.3 1711.2 998.9 1708.5 1000.4 1709.7 1002 1711.1 1003.5 1709.9 1005.1 1711.4 1006.6 1711.4 1008.2 1712.1 1009.7 1710.5 1011.3 1711.6 1012.8 1710 1014.4 1713.1 1015.9 1712.8 1017.5 1713.3 1019 1712.5 1020.6 1711.4 1022.1 1710.8 1023.7 1710.3 1025.2 1710.9 1026.8 1712.7 1028.3 1709.8 1029.9 1713 1031.4 1709.8 1033 1708.9 1034.5 1711.7 1036 1712 1037.6 1710.4 1039.1 1711.5 1040.7 1713.5 1042.2 1710.3 1043.8 1711.9 1045.3 1710.2 1046.9 1711.2 1048.4 1709.1 1050 1713.1 1051.5 1712.6 1053.1 1710.5 1054.6 1712.4 1056.2 1712.6 1057.7 1709.8 1059.3 1710.8 1060.8 1712.1 1062.4 1709.5 1063.9 1713.6 1065.5 1710.6 1067 1712.1 1068.6 1708.3 1070.1 1710.2 1071.7 1711.4 1073.2 1712.7 1074.8 1713.3 1076.3 1710.9 1077.9 1712.3 1079.4 1711.8 1081 1710 1082.5 1710.6 1084 1713.7 1085.6 1710.7 1087.1 1709.4 1088.7 1711.8 1090.2 1712 1091.8 1712.1 1093.3 1711.3 1094.9 1713.3 1096.4 1711.5 1098 1711.5 1099.5 1714.2 1101.1 1713 1102.6 1709.3 1104.2 1711.1 1105.7 1710.9 1107.3 1710.8 1108.8 1712.3 1110.4 1710.3 1111.9 1711.7 1113.5 1712.9 1115 1712.1 1116.6 1711.7 1118.1 1711.6 1119.7 1712.2 1121.2 1711.2 1122.8 1710 1124.3 1712 1125.9 1711.4 1127.4 1709.5 1129 1710.1 1130.5 1711.1 1132.1 1709.4 1133.6 1710.8 1135.1 1711.4 1136.7 1712 1138.2 1712.3 1139.8 1711.7 1141.3 1709.5 1142.9 1711 1144.4 1711.3 1146 1709.8 1147.5 1711.6 1149.1 1712.3 1150.6 1709.5 1152.2 1712.9 1153.7 1712.8 1155.3 1712.7 1156.8 1712 1158.4 1712.2 1159.9 1711.3 1161.5 1712.1 1163 1712 1164.6 1710.6 1166.1 1710.2 1167.7 1712.8 1169.2 1710.1 1170.8 1711.9 1172.3 1711.4 1173.9 1710.2 1175.4 1711 1177 1711.4 1178.5 1709.1 1180.1 1713.3 1181.6 1710.5 1183.1 1711.5 1184.7 1710.6 1186.2 1711.7 1187.8 1711.9 1189.3 1709.9 1190.9 1711.5 1192.4 1710.9 1194 1709.5 1195.5 1712.1 1197.1 1711.8 1198.6 1709.4 1200.2 1712.4 1201.7 1709.6 1203.3 1711.7 1204.8 1713.4 1206.4 1710.2 1207.9 1710.7 1209.5 1712.5 1211 1713 1212.6 1709.8 1214.1 1709.7 1215.7 1709.6 1217.2 1711.8 1218.8 1710.8 1220.3 1710.9 1221.9 1711.5 1223.4 1712.2 1225 1707 1226.5 1712.8 1228.1 1710.6 1229.6 1711.1 1231.1 1711.7 1232.7 1712.2 1234.2 1711 1235.8 1713.6 1237.3 1710.5 1238.9 1710.4 1240.4 1712.3 1242 1713 1243.5 1708.9 1245.1 1712.8 1246.6 1709.9 1248.2 1711.9 1249.7 1711 1251.3 1710 1252.8 1711.3 1254.4 1710.3 1255.9 1712.5 1257.5 1708.9 1259 1710.8 1260.6 1710.9 1262.1 1711 1263.7 1710.1 1265.2 1710.8 1266.8 1712 1268.3 1710.7 1269.9 1709.7 1271.4 1712.8 1273 1709.2 1274.5 1710 1276.1 1711.2 1277.6 1710.1 1279.1 1709.7 1280.7 1710 1282.2 1712.6 1283.8 1713.1 1285.3 1710.7 1286.9 1711.1 1288.4 1712.7 1290 1710.1 1291.5 1709.9 1293.1 1709 1294.6 1711.9 1296.2 1709.8 1297.7 1709.4 1299.3 1711.7 1300.8 1712.4 1302.4 1711.5 1303.9 1708.8 1305.5 1709.1 1307 1709.6 1308.6 1710.8 1310.1 1711.4 1311.7 1709.3 1313.2 1713.5 1314.8 1711.4 1316.3 1713.4 1317.9 1712.4 1319.4 1711.3 1321 1712.1 1322.5 1712.2 1324.1 1710.8 1325.6 1709.5 1327.1 1710.7 1328.7 1711.8 1330.2 1712.3 1331.8 1709.7 1333.3 1710.5 1334.9 1710.4 1336.4 1710.5 1338 1710.3 1339.5 1712.6 1341.1 1711.1 1342.6 1712.5 1344.2 1710.9 1345.7 1710.7 1347.3 1710.5 1348.8 1712.8 1350.4 1710.3 1351.9 1710.1 1353.5 1711.6 1355 1709 1356.6 1710.6 1358.1 1712.8 1359.7 1711.3 1361.2 1710.7 1362.8 1712.6 1364.3 1708.8 1365.9 1712.6 1367.4 1709.3 1369 1709.8 1370.5 1712.6 1372.1 1709.7 1373.6 1710.4 1375.1 1708.6 1376.7 1709.8 1378.2 1706.7 1379.8 1698.9 1381.3 1697.5 1382.9 1703.3 1384.4 1709.3 1386 1709.6 1387.5 1711.8 1389.1 1707.9 1390.6 1710.2 1392.2 1710.8 1393.7 1710.5 1395.3 1710.7 1396.8 1711.6 1398.4 1713.9 1399.9 1711.8 1401.5 1709.4 1403 1709.7 1404.6 1710.8 1406.1 1711.5 1407.7 1710.3 1409.2 1711.2 1410.8 1709.8 1412.3 1709.4 1413.9 1710.6 1415.4 1712.5 1417 1709.6 1418.5 1709.9 1420.1 1712 1421.6 1711.5 1423.1 1710.9 1424.7 1713.2 1426.2 1710.7 1427.8 1711.3 1429.3 1711.4 1430.9 1712.2 1432.4 1715.4 1434 1710.1 1435.5 1712.8 1437.1 1711.6 1438.6 1709 1440.2 1710.8 1441.7 1710.8 1443.3 1710.8 1444.8 1709.6 1446.4 1711.7 1447.9 1710.7 1449.5 1710.2 1451 1710.7 1452.6 1711.9 1454.1 1710.8 1455.7 1712.1 1457.2 1712.2 1458.8 1711.6 1460.3 1712.3 1461.9 1713.9 1463.4 1709 1465 1712.3 1466.5 1710.3 1468.1 1711.1 1469.6 1711.1 1471.1 1709.1 1472.7 1711.8 1474.2 1709.5 1475.8 1710 1477.3 1712 1478.9 1711.7 1480.4 1712.3 1482 1711.3 1483.5 1710.8 1485.1 1711.5 1486.6 1711.1 1488.2 1711.7 1489.7 1712.1 1491.3 1711.4 1492.8 1710.5 1494.4 1709.2 1495.9 1711.3 1497.5 1709.7 1499 1709.9 1500.6 1711.5 1502.1 1711.3 1503.7 1710.3 1505.2 1712.8 1506.8 1708.8 1508.3 1709.2 1509.9 1711.3 1511.4 1711.9 1513 1712.2 1514.5 1712.5 1516.1 1710.6 1517.6 1713.3 1519.2 1710 1520.7 1711.9 1522.2 1710.1 1523.8 1711.6 1525.3 1710.7 1526.9 1710.2 1528.4 1713.3 1530 1708.4 1531.5 1712.2 1533.1 1710 1534.6 1710.5 1536.2 1711.7 1537.7 1712.1 1539.3 1713.7 1540.8 1710.9 1542.4 1710.2 1543.9 1709.5 1545.5 1710.4 1547 1709.5 1548.6 1710.8 1550.1 1712.4 1551.7 1710.2 1553.2 1711.1 1554.8 1712.1 1556.3 1711.3 1557.9 1709.6 1559.4 1711.2 1561 1712.4 1562.5 1711.5 1564.1 1711.4 1565.6 1710.8 1567.2 1711.5 1568.7 1710.5 1570.2 1710.1 1571.8 1713 1573.3 1709.5 1574.9 1711 1576.4 1709.9 1578 1709.5 1579.5 1712.5 1581.1 1710 1582.6 1713.4 1584.2 1711.3 1585.7 1709.8 1587.3 1710.4 1588.8 1710.7 1590.4 1710.5 1591.9 1711.6 1593.5 1710.5 1595 1712.1 1596.6 1710.3 1598.1 1710.6 1599.7 1711.1 1601.2 1709.8 1602.8 1709.3 1604.3 1711.2 1605.9 1712.3 1607.4 1710 1609 1710.9 1610.5 1712.9 1612.1 1710.8 1613.6 1710.8 1615.2 1710 1616.7 1711.9 1618.2 1711.2 1619.8 1709.6 1621.3 1711.8 1622.9 1711.3 1624.4 1711.7 1626 1710.8 1627.5 1711.7 1629.1 1712 1630.6 1710.6 1632.2 1710.9 1633.7 1711.3 1635.3 1710 1636.8 1709.7 1638.4 1708.5 1639.9 1711.1 1641.5 1709.6 1643 1710.7 1644.6 1709.4 1646.1 1712.3 1647.7 1714 1649.2 1713.2 1650.8 1711.1 1652.3 1712 1653.9 1711.8 1655.4 1712.3 1657 1708.7 1658.5 1713.5 1660.1 1709.8 1661.6 1708.7 1663.2 1708.7 1664.7 1711.9 1666.2 1710.6 1667.8 1710.3 1669.3 1710.7 1670.9 1712.7 1672.4 1711.7 1674 1713.1 1675.5 1710.8 1677.1 1712.2 1678.6 1711.2 1680.2 1712.7 1681.7 1709.8 1683.3 1712.4 1684.8 1714.3 1686.4 1710.6 1687.9 1711 1689.5 1709.4 1691 1710.7 1692.6 1710.5 1694.1 1710.4 1695.7 1711.8 1697.2 1710.7 1698.8 1711.2 1700.3 1712.4 1701.9 1710.1 1703.4 1712.6 1705 1709.5 1706.5 1708.6 1708.1 1710.2 1709.6 1709.8 1711.2 1710.6 1712.7 1712.8 1714.2 1709.3 1715.8 1708.6 1717.3 1711.5 1718.9 1713.2 1720.4 1708.9 1722 1710.6 1723.5 1711 1725.1 1707.9 1726.6 1711.5 1728.2 1711.3 1729.7 1710.4 1731.3 1711 1732.8 1708.1 1734.4 1710.3 1735.9 1711.1 1737.5 1709.4 1739 1709.8 1740.6 1711.4 1742.1 1713.2 1743.7 1712.6 1745.2 1712.3 1746.8 1711.2 1748.3 1710.3 1749.9 1709.2 1751.4 1710.5 1753 1709 1754.5 1709.9 1756.1 1710.3 1757.6 1710.7 1759.2 1710.6 1760.7 1711.2 1762.2 1711.3 1763.8 1709.4 1765.3 1708.7 1766.9 1710.8 1768.4 1708.3 1770 1709.5 1771.5 1708.9 1773.1 1710.7 1774.6 1710.4 1776.2 1710.9 1777.7 1711.7 1779.3 1710.2 1780.8 1711.3 1782.4 1711.6 1783.9 1711.9 1785.5 1707.4 1787 1709.4 1788.6 1711.9 1790.1 1712.2 1791.7 1708.5 1793.2 1710.2 1794.8 1710.3 1796.3 1710 1797.9 1711.4 1799.4 1711.5 1801 1711.8 1802.5 1712.8 1804.1 1712.4 1805.6 1711.7 1807.2 1711.6 1808.7 1711.9 1810.2 1710.4 1811.8 1709.5 1813.3 1710.1 1814.9 1711.4 1816.4 1710.4 1818 1710.2 1819.5 1710 1821.1 1709.8 1822.6 1709.6 1824.2 1709.7 1825.7 1709 1827.3 1710.3 1828.8 1712.7 1830.4 1710.5 1831.9 1712.7 1833.5 1710.8 1835 1710 1836.6 1710.7 1838.1 1712.7 1839.7 1712.4 1841.2 1709.9 1842.8 1711.1 1844.3 1712.4 1845.9 1711.3 1847.4 1710 1849 1709 1850.5 1709.5 1852.1 1708.4 1853.6 1708.6 1855.2 1710.4 1856.7 1710 1858.2 1712.5 1859.8 1710.8 1861.3 1712.5 1862.9 1711.3 1864.4 1711.8 1866 1712.5 1867.5 1710.7 1869.1 1709.7 1870.6 1709.9 1872.2 1710.8 1873.7 1714.4 1875.3 1710.7 1876.8 1709.3 1878.4 1711.2 1879.9 1711.7 1881.5 1710.1 1883 1711.4 1884.6 1708.9 1886.1 1710.4 1887.7 1712.5 1889.2 1710.1 1890.8 1709.1 1892.3 1708.4 1893.9 1708.7 1895.4 1712.1 1897 1710.2 1898.5 1713.6 1900.1 1712 1901.6 1712.9 1903.2 1706.7 1904.7 1711.4 1906.3 1712.1 1907.8 1710.8 1909.3 1710.6 1910.9 1709.3 1912.4 1708.9 1914 1711 1915.5 1710.7 1917.1 1710.5 1918.6 1710.8 1920.2 1710.3 1921.7 1710.1 1923.3 1708.2 1924.8 1712.4 1926.4 1712.5 1927.9 1710.8 1929.5 1712.9 1931 1710.7 1932.6 1710.3" fill="none" stroke="#000" stroke-width="6.5" stroke-linejoin="round"/>
<path d="M1378.4 1711L1380.1 1707 1381.7 1711 1383.4 1711M1148.4 1711L1150.1 1707 1151.7 1711 1153.4 1711M893.3 1711L895 1706 896.6 1711 898.3 1711M849.7 1711L851.4 1706 853 1711 854.7 1711" fill="none" stroke="#000" stroke-width="6" stroke-linejoin="round" stroke-linecap="round"/>
<rect x="164.3" y="34.2" width="1769.4" height="1766.4" fill="none" stroke="#000" stroke-width="12"/>
<path d="M208.5 1794.6v-13M208.5 40.2v13M252.8 1794.6v-13M252.8 40.2v13M297 1794.6v-13M297 40.2v13M341.3 1794.6v-13M341.3 40.2v13M385.5 1794.6v-27.6M385.5 40.2v27.6M429.7 1794.6v-13M429.7 40.2v13M474 1794.6v-13M474 40.2v13M518.2 1794.6v-13M518.2 40.2v13M562.5 1794.6v-13M562.5 40.2v13M606.7 1794.6v-27.6M606.7 40.2v27.6M650.9 1794.6v-13M650.9 40.2v13M695.2 1794.6v-13M695.2 40.2v13M739.4 1794.6v-13M739.4 40.2v13M783.7 1794.6v-13M783.7 40.2v13M827.9 1794.6v-27.6M827.9 40.2v27.6M872.1 1794.6v-13M872.1 40.2v13M916.4 1794.6v-13M916.4 40.2v13M960.6 1794.6v-13M960.6 40.2v13M1004.9 1794.6v-13M1004.9 40.2v13M1049.1 1794.6v-27.6M1049.1 40.2v27.6M1093.3 1794.6v-13M1093.3 40.2v13M1137.6 1794.6v-13M1137.6 40.2v13M1181.8 1794.6v-13M1181.8 40.2v13M1226.1 1794.6v-13M1226.1 40.2v13M1270.3 1794.6v-27.6M1270.3 40.2v27.6M1314.5 1794.6v-13M1314.5 40.2v13M1358.8 1794.6v-13M1358.8 40.2v13M1403 1794.6v-13M1403 40.2v13M1447.3 1794.6v-13M1447.3 40.2v13M1491.5 1794.6v-27.6M1491.5 40.2v27.6M1535.7 1794.6v-13M1535.7 40.2v13M1580 1794.6v-13M1580 40.2v13M1624.2 1794.6v-13M1624.2 40.2v13M1668.5 1794.6v-13M1668.5 40.2v13M1712.7 1794.6v-27.6M1712.7 40.2v27.6M1756.9 1794.6v-13M1756.9 40.2v13M1801.2 1794.6v-13M1801.2 40.2v13M1845.4 1794.6v-13M1845.4 40.2v13M1889.7 1794.6v-13M1889.7 40.2v13" stroke="#000" stroke-width="10" fill="none"/>
<g font-family="Liberation Serif, serif" font-size="69" text-anchor="middle" fill="#000"><text x="166.3" y="1904">10</text><text x="385.5" y="1904">20</text><text x="606.7" y="1904">30</text><text x="827.9" y="1904">40</text><text x="1049.1" y="1904">50</text><text x="1270.3" y="1904">60</text><text x="1491.5" y="1904">70</text><text x="1712.7" y="1904">80</text><text x="1933.9" y="1904">90</text></g>
<text transform="translate(110,1617.4) rotate(-90)" font-family="Liberation Serif, serif" font-weight="bold" font-size="118.6" fill="#000">Intensity ( Arbitrary Units )</text>
<g font-family="Liberation Serif, serif" font-weight="bold" font-size="119" fill="#000"><text x="512.7" y="2022.3">2</text><text transform="translate(600.4,2022.3) scale(1.197,1)" font-weight="normal" font-size="117">θ</text><text x="694.6" y="2022.3">Degrees</text><text transform="translate(1123.8,2022.3) scale(1.15,1)" font-size="116">(</text><text x="1193" y="2022.3">Cu</text><text x="1373.5" y="2022.3">K</text><text transform="translate(1467.2,2081.2) scale(1.09,1)" font-size="78" font-style="italic">α</text><text transform="translate(1539.5,2022.3) scale(1.15,1)" font-size="116">)</text></g>
<g font-family="Liberation Serif, serif" font-weight="bold" font-size="70" fill="#000"><text x="1733.8" y="303.7">1.0 M</text><text x="1733.9" y="647">0.7 M</text><text x="1698.3" y="923.2">0.65 M</text><text x="1733.9" y="1333.8">0.6 M</text><text x="1733.9" y="1594.5">0.5 M</text></g>
<path d="M830 111H1002" stroke="#0000ff" stroke-width="4"/>
<path d="M1242 111H1415" stroke="#000" stroke-width="4"/>
<circle cx="916.7" cy="234" r="10.5" fill="#8f0000"/>
<path d="M1329.6 219.5V250" stroke="#3c9a60" stroke-width="2.6"/>
<g font-family="Liberation Serif, serif" font-size="59">
<text x="1020" y="131.4" fill="#0000ff">Y</text><text x="1061.8" y="163.5" fill="#0000ff" font-size="38" letter-spacing="1">Obs</text>
<text x="1020" y="255" fill="#8f0000">Y</text><text x="1061.8" y="285.5" fill="#8f0000" font-size="38" letter-spacing="1">Cal</text>
<text x="1432.5" y="132.4" fill="#000">Y</text><text x="1475.6" y="162.4" font-size="38" letter-spacing="0.6">Obs</text>
<text x="1536" y="132.4">-</text><text x="1558" y="132.4">Y</text><text x="1599" y="162.4" font-size="38" letter-spacing="1">Cal</text>
<text x="1431.5" y="255" fill="#006a2e">Bragg Peaks</text>
</g>
</svg></body></html>
